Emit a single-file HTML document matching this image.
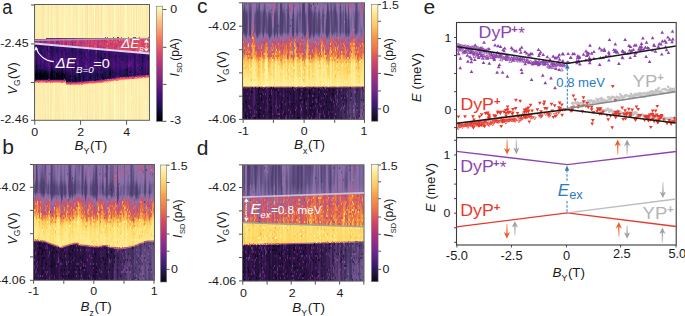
<!DOCTYPE html>
<html><head><meta charset="utf-8"><style>
html,body{margin:0;padding:0;background:#fff;width:685px;height:316px;overflow:hidden}
.hm{position:absolute;overflow:hidden}
.hm i{position:absolute;top:0;height:100%}
svg{position:absolute;left:0;top:0}
text{font-family:"Liberation Sans",sans-serif}
</style></head><body>
<div class="hm" style="left:35px;top:5px;width:114px;height:115px"><div style="position:absolute;left:0;top:0;width:114px;height:115px;filter:blur(0.75px)"><i style="left:0px;width:1px;background:linear-gradient(#fde9aa 0.0px,#fde7a9 33.5px,#6d1d81 34.0px,#6d1d81 35.0px,#962c80 35.5px,#982d80 38.0px,#390f6e 38.5px,#2f1163 45.0px,#471078 53.0px,#341069 60.5px,#2c115f 62.5px,#03030f 68.5px,#010106 70.5px,#010106 74.0px,#140e36 74.5px,#621980 75.0px,#b2357b 75.5px,#d6456c 76.0px,#e34e65 76.5px,#f7725c 77.0px,#fea571 77.5px,#fed194 78.0px,#fde9aa 78.5px,#fcecae 115.0px)"></i><i style="left:1px;width:1px;background:linear-gradient(#fceeb0 0.0px,#fde9aa 33.5px,#651a80 34.0px,#651a80 35.0px,#8e2a81 35.5px,#902a81 38.0px,#311165 38.5px,#241253 44.5px,#331067 49.0px,#341069 54.0px,#1d1147 61.5px,#010005 67.0px,#000004 74.0px,#090720 74.5px,#59157e 75.0px,#ae347b 75.5px,#d6456c 76.0px,#e34e65 76.5px,#f7705c 77.0px,#fea36f 77.5px,#fecd90 78.0px,#fde3a5 78.5px,#fde5a7 79.0px,#fdebac 115.0px)"></i><i style="left:2px;width:1px;background:linear-gradient(#fcf2b4 0.0px,#fcecae 33.5px,#782281 34.0px,#782281 35.0px,#a02f7f 35.5px,#a02f7f 38.5px,#3f0f72 39.0px,#2d1161 44.0px,#3b0f70 54.0px,#2a115c 60.5px,#251255 62.0px,#06051a 67.0px,#010108 69.5px,#03030f 74.0px,#19103f 74.5px,#671b80 75.0px,#b3367a 75.5px,#d6456c 76.0px,#e44f64 76.5px,#f8765c 77.0px,#feac76 77.5px,#fdda9c 78.0px,#fcf4b6 78.5px,#fcf4b6 115.0px)"></i><i style="left:3px;width:1px;background:linear-gradient(#fceeb0 0.0px,#fceeb0 33.5px,#842681 34.0px,#842681 35.0px,#ad347c 35.5px,#ae347b 38.5px,#4e117b 39.0px,#400f74 45.0px,#54137d 53.0px,#3d0f71 61.5px,#341069 63.0px,#08071e 69.0px,#060518 74.0px,#1e1149 74.5px,#6a1c81 75.0px,#b5367a 75.5px,#d6456c 76.0px,#e44f64 76.5px,#f8745c 77.0px,#fea973 77.5px,#fed799 78.0px,#fceeb0 78.5px,#fcecae 115.0px)"></i><i style="left:4px;width:1px;background:linear-gradient(#fcf2b4 0.0px,#fceeb0 33.5px,#6e1e81 34.0px,#6e1e81 35.0px,#982d80 35.5px,#992d80 38.5px,#38106c 39.0px,#2d1161 45.5px,#451077 53.5px,#341069 61.0px,#2d1161 62.5px,#02020d 69.0px,#010005 74.0px,#130d34 74.5px,#601880 75.0px,#b2357b 75.5px,#d6456c 76.0px,#e34e65 76.5px,#f7725c 77.0px,#fea772 77.5px,#fed597 78.0px,#fdebac 78.5px,#fcecae 79.0px,#fcecae 115.0px)"></i><i style="left:5px;width:1px;background:linear-gradient(#fceeb0 0.0px,#fcf4b6 33.5px,#641a80 34.0px,#641a80 35.0px,#8b2981 35.5px,#8b2981 38.5px,#2a115c 39.0px,#1d1147 44.5px,#341069 53.5px,#29115a 60.5px,#1e1149 63.0px,#040414 67.0px,#000004 69.0px,#000004 74.0px,#110c2f 74.5px,#5f187f 75.0px,#b2357b 75.5px,#d6456c 76.0px,#e44f64 76.5px,#f8745c 77.0px,#fea973 77.5px,#fed597 78.0px,#fcecae 78.5px,#fceeb0 115.0px)"></i><i style="left:6px;width:1px;background:linear-gradient(#fdebac 0.0px,#fcecae 33.5px,#671b80 34.0px,#671b80 35.0px,#902a81 35.5px,#932b80 38.5px,#311165 39.0px,#271258 45.0px,#38106c 48.5px,#451077 53.0px,#390f6e 61.0px,#2a115c 63.5px,#050416 68.5px,#010108 73.5px,#010108 74.0px,#150e38 74.5px,#641a80 75.0px,#b2357b 75.5px,#d6456c 76.0px,#e44f64 76.5px,#f8745c 77.0px,#fea973 77.5px,#fed799 78.0px,#fceeb0 78.5px,#fcf0b2 79.0px,#fcf2b4 115.0px)"></i><i style="left:7px;width:1px;background:linear-gradient(#fdebac 0.0px,#fde5a7 33.5px,#6e1e81 34.0px,#701f81 35.0px,#9b2e7f 35.5px,#a1307e 39.0px,#3f0f72 39.5px,#3b0f70 45.0px,#57157e 53.0px,#451077 61.5px,#38106c 63.5px,#0c0926 69.0px,#08071e 73.5px,#08071e 74.0px,#21114e 74.5px,#6b1d81 75.0px,#b5367a 75.5px,#d6456c 76.0px,#e34e65 76.5px,#f7725c 77.0px,#fea772 77.5px,#fed597 78.0px,#fdebac 78.5px,#fcecae 79.0px,#fcecae 115.0px)"></i><i style="left:8px;width:1px;background:linear-gradient(#fde5a7 0.0px,#fde5a7 33.5px,#681c81 34.0px,#6a1c81 35.0px,#932b80 35.5px,#982d80 39.0px,#341069 39.5px,#2d1161 45.5px,#3f0f72 49.5px,#440f76 53.5px,#311165 60.5px,#251255 63.0px,#06051a 67.5px,#010108 70.0px,#010108 74.0px,#140e36 74.5px,#621980 75.0px,#b2357b 75.5px,#d6456c 76.0px,#e34e65 76.5px,#f7705c 77.0px,#fea16e 77.5px,#fecd90 78.0px,#fde3a5 78.5px,#fde5a7 79.0px,#fdebac 115.0px)"></i><i style="left:9px;width:1px;background:linear-gradient(#fcecae 0.0px,#fcf4b6 33.5px,#641a80 34.0px,#651a80 35.0px,#8c2981 35.5px,#902a81 39.0px,#2c115f 39.5px,#221150 45.5px,#3b0f70 52.0px,#331067 61.0px,#251255 63.5px,#06051a 68.0px,#02020d 70.0px,#02020d 74.0px,#180f3d 74.5px,#651a80 75.0px,#b3367a 75.5px,#d6456c 76.0px,#e44f64 76.5px,#f8745c 77.0px,#fea973 77.5px,#fed799 78.0px,#fceeb0 78.5px,#fcf0b2 115.0px)"></i><i style="left:10px;width:1px;background:linear-gradient(#fcf2b4 0.0px,#fcf4b6 33.5px,#7c2382 34.0px,#7c2382 35.0px,#a5317e 35.5px,#a6317d 39.0px,#400f74 39.5px,#331067 46.0px,#4f127b 54.0px,#420f75 62.0px,#2d1161 64.5px,#0d0a29 68.5px,#090720 73.5px,#0a0822 74.0px,#221150 74.5px,#6d1d81 75.0px,#b5367a 75.5px,#d6456c 76.0px,#e44f64 76.5px,#f8745c 77.0px,#fea973 77.5px,#fed799 78.0px,#fceeb0 78.5px,#fcf0b2 79.0px,#fde3a5 115.0px)"></i><i style="left:11px;width:1px;background:linear-gradient(#fcf0b2 0.0px,#fcf2b4 33.0px,#7c2382 33.5px,#7c2382 35.0px,#a6317d 35.5px,#a6317d 39.0px,#3f0f72 39.5px,#331067 46.0px,#4f127b 53.5px,#400f74 61.5px,#311165 63.5px,#100b2d 67.0px,#03030f 70.5px,#03030f 74.0px,#19103f 74.5px,#651a80 75.0px,#b3367a 75.5px,#d6456c 76.0px,#e44f64 76.5px,#f8745c 77.0px,#fea973 77.5px,#fed799 78.0px,#fceeb0 78.5px,#fcf0b2 79.0px,#fcf0b2 115.0px)"></i><i style="left:12px;width:1px;background:linear-gradient(#fceeb0 0.0px,#fdebac 33.0px,#752181 33.5px,#752181 35.0px,#9e2f7f 35.5px,#a02f7f 39.0px,#390f6e 39.5px,#2f1163 45.5px,#4f127b 53.5px,#400f74 61.5px,#2a115c 64.0px,#050416 68.5px,#010108 72.5px,#010108 74.0px,#150e38 74.5px,#641a80 75.0px,#b2357b 75.5px,#d6456c 76.0px,#e34e65 76.5px,#f7725c 77.0px,#fea772 77.5px,#fed597 78.0px,#fcecae 78.5px,#fceeb0 115.0px)"></i><i style="left:13px;width:1px;background:linear-gradient(#fde5a7 0.0px,#fde5a7 33.0px,#862781 33.5px,#862781 35.0px,#b0357b 35.5px,#b0357b 39.5px,#491078 40.0px,#3f0f72 46.0px,#601880 55.0px,#4f127b 62.5px,#3d0f71 64.5px,#100b2d 69.5px,#0a0822 74.0px,#241253 74.5px,#6d1d81 75.0px,#b5367a 75.5px,#d6456c 76.0px,#e34e65 76.5px,#f7725c 77.0px,#fea571 77.5px,#fed194 78.0px,#fde7a9 78.5px,#fde5a7 115.0px)"></i><i style="left:14px;width:1px;background:linear-gradient(#fcf7b9 0.0px,#fcfdbf 33.0px,#8c2981 33.5px,#8c2981 35.0px,#b5367a 35.5px,#b3367a 39.5px,#4a1079 40.0px,#390f6e 45.0px,#5c167f 55.0px,#5c167f 61.5px,#3d0f71 66.0px,#21114e 69.5px,#1a1042 73.5px,#1a1042 74.0px,#36106b 74.5px,#762181 75.0px,#b83779 75.5px,#d6456c 76.0px,#e44f64 76.5px,#f9785d 77.0px,#feb078 77.5px,#fde2a3 78.0px,#fcf9bb 78.5px,#fcf9bb 115.0px)"></i><i style="left:15px;width:1px;background:linear-gradient(#fceeb0 0.0px,#fdebac 33.0px,#762181 33.5px,#762181 35.0px,#9e2f7f 35.5px,#9e2f7f 39.5px,#341069 40.0px,#241253 45.0px,#3d0f71 53.5px,#38106c 61.5px,#2c115f 63.5px,#06051a 69.0px,#03030f 74.0px,#19103f 74.5px,#651a80 75.0px,#b3367a 75.5px,#d6456c 76.0px,#e34e65 76.5px,#f7705c 77.0px,#fea36f 77.5px,#fecd90 78.0px,#fde3a5 78.5px,#fde5a7 79.0px,#fde3a5 115.0px)"></i><i style="left:16px;width:1px;background:linear-gradient(#fde5a7 0.0px,#fceeb0 33.0px,#701f81 33.5px,#701f81 35.0px,#992d80 35.5px,#992d80 39.5px,#2f1163 40.0px,#21114e 45.5px,#2f1163 55.0px,#1a1042 61.5px,#000004 66.5px,#000004 74.0px,#07061c 74.5px,#57157e 75.0px,#ae347b 75.5px,#d6456c 76.0px,#e34e65 76.5px,#f7725c 77.0px,#fea571 77.5px,#fed194 78.0px,#fde9aa 78.5px,#fcf0b2 115.0px)"></i><i style="left:17px;width:1px;background:linear-gradient(#fcf2b4 0.0px,#fde9aa 33.0px,#721f81 33.5px,#701f81 35.0px,#992d80 35.5px,#982d80 39.5px,#2d1161 40.0px,#20114b 46.5px,#311165 51.5px,#311165 57.0px,#241253 61.5px,#010108 67.5px,#000004 68.5px,#000004 74.0px,#110c2f 74.5px,#601880 75.0px,#b2357b 75.5px,#d6456c 76.0px,#e34e65 76.5px,#f7725c 77.0px,#fea772 77.5px,#fed395 78.0px,#fdebac 78.5px,#fcf4b6 115.0px)"></i><i style="left:18px;width:1px;background:linear-gradient(#fcf4b6 0.0px,#fcf9bb 33.0px,#732081 33.5px,#732081 35.0px,#9c2e7f 35.5px,#9c2e7f 39.5px,#311165 40.0px,#251255 45.0px,#471078 55.0px,#400f74 61.5px,#2f1163 64.0px,#0a0822 69.0px,#06051a 73.0px,#06051a 74.0px,#1e1149 74.5px,#6a1c81 75.0px,#b5367a 75.5px,#d6456c 76.0px,#e44f64 76.5px,#f8745c 77.0px,#feaa74 77.5px,#fdda9c 78.0px,#fcf2b4 78.5px,#fcf4b6 115.0px)"></i><i style="left:19px;width:1px;background:linear-gradient(#fdebac 0.0px,#fcf7b9 33.0px,#7e2482 33.5px,#802582 35.0px,#aa337d 35.5px,#ab337c 40.0px,#3f0f72 40.5px,#311165 47.0px,#4c117a 54.5px,#420f75 62.0px,#38106c 63.5px,#0d0a29 69.0px,#090720 73.0px,#090720 74.0px,#221150 74.5px,#6b1d81 75.0px,#b5367a 75.5px,#d6456c 76.0px,#e44f64 76.5px,#f9785d 77.0px,#feb078 77.5px,#fde0a1 78.0px,#fcf9bb 78.5px,#fcf2b4 115.0px)"></i><i style="left:20px;width:1px;background:linear-gradient(#fceeb0 0.0px,#fcf0b2 33.0px,#8e2a81 33.5px,#8e2a81 35.0px,#b83779 35.5px,#b5367a 40.0px,#471078 40.5px,#331067 46.0px,#51127c 55.0px,#491078 62.0px,#390f6e 64.0px,#0b0924 69.5px,#060518 74.0px,#1d1147 74.5px,#681c81 75.0px,#b3367a 75.5px,#d6456c 76.0px,#e34e65 76.5px,#f7725c 77.0px,#fea571 77.5px,#fed395 78.0px,#fde9aa 78.5px,#fdebac 79.0px,#fde7a9 115.0px)"></i><i style="left:21px;width:1px;background:linear-gradient(#fde5a7 0.0px,#fde5a7 33.0px,#7c2382 33.5px,#7b2382 35.0px,#a5317e 35.5px,#a5317e 40.0px,#38106c 40.5px,#2d1161 45.0px,#52137c 54.5px,#4c117a 61.5px,#38106c 64.0px,#1d1147 66.5px,#08071e 70.0px,#040414 74.0px,#1a1042 74.5px,#671b80 75.0px,#b3367a 75.5px,#d6456c 76.0px,#e34e65 76.5px,#f7725c 77.0px,#fea571 77.5px,#fed194 78.0px,#fde9aa 78.5px,#fdebac 115.0px)"></i><i style="left:22px;width:1px;background:linear-gradient(#fde9aa 0.0px,#fde9aa 33.0px,#5c167f 33.5px,#5c167f 35.0px,#842681 35.5px,#8b2981 40.0px,#21114e 40.5px,#21114e 46.0px,#36106b 50.0px,#440f76 53.5px,#3d0f71 60.5px,#311165 63.0px,#060518 69.5px,#040414 72.0px,#040414 74.0px,#1a1042 74.5px,#671b80 75.0px,#b3367a 75.5px,#d6456c 76.0px,#e34e65 76.5px,#f7725c 77.0px,#fea772 77.5px,#fed395 78.0px,#fdebac 78.5px,#fcecae 115.0px)"></i><i style="left:23px;width:1px;background:linear-gradient(#fde7a9 0.0px,#fdebac 33.0px,#6b1d81 33.5px,#6e1e81 35.0px,#982d80 35.5px,#9e2f7f 40.0px,#311165 40.5px,#2d1161 47.0px,#491078 54.5px,#3f0f72 60.0px,#311165 63.0px,#06051a 69.0px,#030312 73.0px,#030312 74.0px,#1a1042 74.5px,#671b80 75.0px,#b3367a 75.5px,#d6456c 76.0px,#e34e65 76.5px,#f7725c 77.0px,#fea571 77.5px,#fed395 78.0px,#fde9aa 78.5px,#fdebac 79.0px,#fde9aa 115.0px)"></i><i style="left:24px;width:1px;background:linear-gradient(#fcf4b6 0.0px,#fceeb0 33.0px,#792282 33.5px,#7b2382 35.0px,#a5317e 35.5px,#ad347c 40.5px,#3d0f71 41.0px,#36106b 47.0px,#51127c 54.5px,#420f75 61.5px,#331067 63.5px,#07061c 69.5px,#060518 74.0px,#1d1147 74.5px,#681c81 75.0px,#b3367a 75.5px,#d6456c 76.0px,#e44f64 76.5px,#f7725c 77.0px,#fea973 77.5px,#fed597 78.0px,#fcecae 78.5px,#fceeb0 79.0px,#fcecae 115.0px)"></i><i style="left:25px;width:1px;background:linear-gradient(#fcf2b4 0.0px,#fcf4b6 33.0px,#7e2482 33.5px,#812581 35.0px,#ab337c 35.5px,#b2357b 40.5px,#420f75 41.0px,#390f6e 47.0px,#56147d 54.5px,#471078 62.0px,#36106b 64.0px,#0a0822 69.5px,#06051a 74.0px,#1e1149 74.5px,#6a1c81 75.0px,#b5367a 75.5px,#d6456c 76.0px,#e44f64 76.5px,#f8745c 77.0px,#fea973 77.5px,#fed799 78.0px,#fceeb0 78.5px,#fcf0b2 79.0px,#fcecae 115.0px)"></i><i style="left:26px;width:1px;background:linear-gradient(#fcf4b6 0.0px,#fcf0b2 33.0px,#7e2482 33.5px,#802582 35.0px,#a8327d 35.5px,#aa337d 40.5px,#38106c 41.0px,#29115a 47.5px,#3f0f72 53.0px,#390f6e 60.5px,#271258 63.5px,#050416 68.0px,#000004 73.0px,#000004 74.0px,#120d31 74.5px,#601880 75.0px,#b2357b 75.5px,#d6456c 76.0px,#e44f64 76.5px,#f8745c 77.0px,#feaa74 77.5px,#fdda9c 78.0px,#fcf2b4 78.5px,#fcf4b6 79.0px,#fcf6b8 115.0px)"></i><i style="left:27px;width:1px;background:linear-gradient(#fde9aa 0.0px,#fceeb0 33.0px,#882781 33.5px,#882781 35.0px,#b0357b 35.5px,#ab337c 40.5px,#390f6e 41.0px,#271258 46.5px,#3b0f70 54.0px,#311165 61.0px,#251255 63.0px,#07061c 67.0px,#000004 70.5px,#000004 74.0px,#110c2f 74.5px,#5f187f 75.0px,#b2357b 75.5px,#d6456c 76.0px,#e34e65 76.5px,#f7725c 77.0px,#fea772 77.5px,#fed597 78.0px,#fcecae 78.5px,#fdebac 115.0px)"></i><i style="left:28px;width:1px;background:linear-gradient(#fcf0b2 0.0px,#fcf0b2 33.0px,#932b80 33.5px,#932b80 35.0px,#bd3977 35.5px,#bd3977 40.5px,#4a1079 41.0px,#3b0f70 46.5px,#54137d 55.5px,#4a1079 61.5px,#341069 64.5px,#110c2f 69.0px,#0b0924 74.0px,#241253 74.5px,#6d1d81 75.0px,#b5367a 75.5px,#d6456c 76.0px,#e44f64 76.5px,#f8765c 77.0px,#feac76 77.5px,#fddc9e 78.0px,#fcf6b8 78.5px,#fde9aa 115.0px)"></i><i style="left:29px;width:1px;background:linear-gradient(#fcf6b8 0.0px,#fcfbbd 33.0px,#862781 33.5px,#882781 35.0px,#b2357b 35.5px,#b73779 40.5px,#451077 41.0px,#390f6e 47.0px,#5a167e 56.0px,#4f127b 62.5px,#311165 66.0px,#1c1044 68.5px,#140e36 74.0px,#2f1163 74.5px,#732081 75.0px,#b83779 75.5px,#d6456c 76.0px,#e44f64 76.5px,#f8765c 77.0px,#feac76 77.5px,#fddc9e 78.0px,#fcf4b6 78.5px,#fcf6b8 79.0px,#fcf2b4 115.0px)"></i><i style="left:30px;width:1px;background:linear-gradient(#fcf0b2 0.0px,#fcf4b6 33.0px,#762181 33.5px,#762181 35.0px,#a02f7f 35.5px,#a3307e 41.0px,#311165 41.5px,#29115a 47.5px,#471078 54.5px,#440f76 61.0px,#36106b 63.5px,#0b0924 69.5px,#0a0822 74.0px,#221150 74.5px,#6d1d81 75.0px,#b5367a 75.5px,#d6456c 76.0px,#e44f64 76.5px,#f8745c 77.0px,#feaa74 77.5px,#fed89a 78.0px,#fcf0b2 78.5px,#fcf2b4 79.0px,#fcecae 115.0px)"></i><i style="left:31px;width:1px;background:linear-gradient(#fcf0b2 0.0px,#fceeb0 33.0px,#7e2482 33.5px,#7e2482 35.0px,#a6317d 35.5px,#a5317e 41.0px,#311165 41.5px,#241253 47.5px,#400f74 55.0px,#390f6e 64.0px,#130d34 72.5px,#130d34 76.0px,#1d1147 76.5px,#57157e 77.0px,#9e2f7f 77.5px,#d2426f 78.0px,#dc4869 78.5px,#f3655c 79.0px,#fd9b6b 79.5px,#fed395 80.0px,#fcf9bb 80.5px,#fcfdbf 81.0px,#fcf7b9 115.0px)"></i><i style="left:32px;width:1px;background:linear-gradient(#fcf0b2 0.0px,#fcf4b6 33.0px,#982d80 33.5px,#962c80 35.0px,#bf3a77 35.5px,#bc3978 41.0px,#451077 41.5px,#341069 47.0px,#4f127b 55.5px,#420f75 63.0px,#331067 66.0px,#130d34 71.0px,#100b2d 76.0px,#19103f 76.5px,#54137d 77.0px,#9c2e7f 77.5px,#d0416f 78.0px,#dc4869 78.5px,#f1605d 79.0px,#fd9266 79.5px,#fec488 80.0px,#fde5a7 80.5px,#fcecae 81.0px,#fceeb0 115.0px)"></i><i style="left:33px;width:1px;background:linear-gradient(#fcf4b6 0.0px,#fceeb0 33.0px,#962c80 33.5px,#942c80 35.0px,#bd3977 35.5px,#b73779 41.0px,#400f74 41.5px,#2d1161 47.5px,#4a1079 55.5px,#420f75 63.5px,#36106b 66.0px,#180f3d 71.0px,#150e38 76.0px,#1e1149 76.5px,#59157e 77.0px,#a02f7f 77.5px,#d2426f 78.0px,#dc4869 78.5px,#f1605d 79.0px,#fd9467 79.5px,#fec68a 80.0px,#fde7a9 80.5px,#fceeb0 81.0px,#fcf0b2 115.0px)"></i><i style="left:34px;width:1px;background:linear-gradient(#fde9aa 0.0px,#fcecae 33.0px,#982d80 33.5px,#942c80 35.0px,#bd3977 35.5px,#b73779 41.0px,#3f0f72 41.5px,#311165 45.5px,#2c115f 48.0px,#471078 56.0px,#3d0f71 63.0px,#36106b 65.0px,#130d34 72.0px,#150e38 76.0px,#1e1149 76.5px,#59157e 77.0px,#a02f7f 77.5px,#d2426f 78.0px,#dc4869 78.5px,#f1605d 79.0px,#fd9467 79.5px,#fec68a 80.0px,#fde9aa 80.5px,#fceeb0 81.0px,#fcf0b2 115.0px)"></i><i style="left:35px;width:1px;background:linear-gradient(#fcf0b2 0.0px,#fcf4b6 33.0px,#9c2e7f 33.5px,#9b2e7f 35.0px,#c43c75 35.5px,#bd3977 41.0px,#451077 41.5px,#38106c 48.0px,#57157e 56.0px,#451077 64.0px,#140e36 72.0px,#150e38 76.0px,#20114b 76.5px,#59157e 77.0px,#a02f7f 77.5px,#d2426f 78.0px,#dc4869 78.5px,#f1605d 79.0px,#fd9266 79.5px,#fde5a7 80.5px,#fdebac 81.0px,#fcf2b4 115.0px)"></i><i style="left:36px;width:1px;background:linear-gradient(#fcf6b8 0.0px,#fcf4b6 33.0px,#842681 33.5px,#812581 35.0px,#aa337d 35.5px,#a5317e 41.5px,#2d1161 42.0px,#241253 47.5px,#3f0f72 52.5px,#4e117b 57.0px,#451077 64.5px,#1d1147 72.0px,#1d1147 76.0px,#271258 76.5px,#5f187f 77.0px,#a1307e 77.5px,#d2426f 78.0px,#dc4869 78.5px,#f2625d 79.0px,#fd9467 79.5px,#fec88c 80.0px,#fdebac 80.5px,#fcf0b2 81.0px,#fcf6b8 115.0px)"></i><i style="left:37px;width:1px;background:linear-gradient(#fcf2b4 0.0px,#fcf2b4 33.0px,#732081 33.5px,#732081 35.0px,#9b2e7f 35.5px,#982d80 41.5px,#221150 42.0px,#21114e 42.5px,#1a1042 48.0px,#36106b 53.5px,#3f0f72 60.0px,#341069 65.0px,#160f3b 70.5px,#130d34 73.0px,#150e38 76.0px,#1e1149 76.5px,#59157e 77.0px,#a02f7f 77.5px,#d2426f 78.0px,#dc4869 78.5px,#f2625d 79.0px,#fd9668 79.5px,#feca8d 80.0px,#fcecae 80.5px,#fcf2b4 81.0px,#fcecae 115.0px)"></i><i style="left:38px;width:1px;background:linear-gradient(#fdebac 0.0px,#fdebac 33.0px,#842681 33.5px,#832681 35.0px,#ad347c 35.5px,#ad347c 41.5px,#341069 42.0px,#2c115f 48.0px,#471078 53.0px,#52137c 58.5px,#420f75 65.5px,#1c1044 72.0px,#1c1044 76.0px,#251255 76.5px,#5d177f 77.0px,#a1307e 77.5px,#d2426f 78.0px,#dc4869 78.5px,#f1605d 79.0px,#fd9266 79.5px,#fde5a7 80.5px,#fdebac 81.0px,#fcecae 115.0px)"></i><i style="left:39px;width:1px;background:linear-gradient(#fcecae 0.0px,#fcf4b6 33.0px,#862781 33.5px,#842681 35.0px,#ae347b 35.5px,#ad347c 41.5px,#331067 42.0px,#271258 48.5px,#390f6e 52.0px,#491078 56.5px,#420f75 63.0px,#390f6e 65.5px,#180f3d 72.0px,#180f3d 76.0px,#21114e 76.5px,#5a167e 77.0px,#a02f7f 77.5px,#d2426f 78.0px,#dc4869 78.5px,#f1605d 79.0px,#fc9065 79.5px,#fec287 80.0px,#fde3a5 80.5px,#fdebac 81.0px,#fde7a9 115.0px)"></i><i style="left:40px;width:1px;background:linear-gradient(#fcecae 0.0px,#fcf0b2 33.0px,#842681 33.5px,#862781 35.0px,#ae347b 35.5px,#ae347b 41.5px,#341069 42.0px,#241253 48.5px,#36106b 53.5px,#38106c 59.5px,#2c115f 64.5px,#110c2f 70.0px,#0b0924 72.5px,#0c0926 76.0px,#150e38 76.5px,#51127c 77.0px,#9b2e7f 77.5px,#d0416f 78.0px,#dc4869 78.5px,#f2625d 79.0px,#fd9668 79.5px,#fec88c 80.0px,#fdebac 80.5px,#fcf2b4 81.0px,#fceeb0 115.0px)"></i><i style="left:41px;width:1px;background:linear-gradient(#fde7a9 0.0px,#fceeb0 33.0px,#982d80 33.5px,#962c80 35.0px,#bf3a77 35.5px,#b83779 42.0px,#3d0f71 42.5px,#29115a 48.0px,#3f0f72 55.5px,#36106b 63.0px,#150e38 71.5px,#180f3d 76.0px,#241253 76.5px,#601880 77.0px,#a6317d 77.5px,#d3436e 78.0px,#de4968 78.5px,#f3655c 79.0px,#fd9869 79.5px,#fecc8f 80.0px,#fcecae 80.5px,#fcf2b4 81.5px,#fceeb0 115.0px)"></i><i style="left:42px;width:1px;background:linear-gradient(#fdebac 0.0px,#fde7a9 33.0px,#aa337d 33.5px,#a8327d 35.0px,#d0416f 35.5px,#ca3e72 42.0px,#4e117b 42.5px,#3b0f70 48.5px,#5a167e 56.0px,#5c167f 59.0px,#471078 66.5px,#29115a 72.0px,#29115a 76.0px,#3d0f71 76.5px,#762181 77.0px,#b3367a 77.5px,#d5446d 78.0px,#e04c67 78.5px,#f56b5c 79.0px,#fe9d6c 79.5px,#fecc8f 80.0px,#fde7a9 80.5px,#fceeb0 115.0px)"></i><i style="left:43px;width:1px;background:linear-gradient(#fcf7b9 0.0px,#fcfdbf 33.0px,#a3307e 33.5px,#a1307e 35.0px,#cc3f71 35.5px,#c83e73 42.0px,#4a1079 42.5px,#3f0f72 49.5px,#57157e 57.5px,#451077 64.5px,#1c1044 71.5px,#19103f 76.0px,#36106b 76.5px,#782281 77.0px,#b83779 77.5px,#d6456c 78.0px,#e44f64 78.5px,#f8765c 79.0px,#feac76 79.5px,#fddc9e 80.0px,#fcf4b6 80.5px,#fcf6b8 81.0px,#fcf7b9 115.0px)"></i><i style="left:44px;width:1px;background:linear-gradient(#fcf4b6 0.0px,#fcf2b4 33.0px,#982d80 33.5px,#942c80 35.0px,#bf3a77 35.5px,#b73779 42.0px,#390f6e 42.5px,#29115a 49.0px,#38106c 53.0px,#3b0f70 59.0px,#2c115f 64.0px,#100b2d 70.0px,#0c0926 73.0px,#100b2d 76.0px,#341069 76.5px,#7c2382 77.0px,#c03a76 77.5px,#e85362 78.5px,#f97b5d 79.0px,#feb078 79.5px,#fdda9c 80.0px,#fcecae 80.5px,#fcf0b2 115.0px)"></i><i style="left:45px;width:1px;background:linear-gradient(#fcf0b2 0.0px,#fcf0b2 33.0px,#892881 33.5px,#892881 34.5px,#b2357b 35.0px,#ab337c 42.0px,#2d1161 42.5px,#20114b 49.0px,#3d0f71 56.0px,#3b0f70 62.5px,#2f1163 66.0px,#19103f 70.5px,#160f3b 73.0px,#1a1042 76.0px,#491078 76.5px,#8c2981 77.0px,#c83e73 77.5px,#ea5661 78.5px,#fa815f 79.0px,#feb67c 79.5px,#fddc9e 80.0px,#fde9aa 80.5px,#fdebac 115.0px)"></i><i style="left:46px;width:1px;background:linear-gradient(#fcf0b2 0.0px,#fcecae 33.0px,#862781 33.5px,#862781 34.5px,#b0357b 35.0px,#ad347c 42.0px,#2d1161 42.5px,#20114b 48.0px,#3d0f71 56.5px,#3d0f71 64.0px,#241253 71.0px,#241253 75.5px,#2c115f 76.0px,#5d177f 76.5px,#9c2e7f 77.0px,#cf4070 77.5px,#d9466b 78.0px,#ef5d5e 78.5px,#fc8e64 79.0px,#fec287 79.5px,#fde7a9 80.0px,#fcf0b2 80.5px,#fcf4b6 115.0px)"></i><i style="left:47px;width:1px;background:linear-gradient(#fdebac 0.0px,#fde9aa 33.0px,#942c80 33.5px,#942c80 34.5px,#bf3a77 35.0px,#bf3a77 42.5px,#400f74 43.0px,#2f1163 48.5px,#440f76 56.5px,#3b0f70 62.5px,#1a1042 71.0px,#1c1044 75.5px,#271258 76.0px,#601880 76.5px,#a5317e 77.0px,#d2426f 77.5px,#dc4869 78.0px,#f2625d 78.5px,#fd9467 79.0px,#fec68a 79.5px,#fde7a9 80.0px,#fceeb0 81.0px,#fcecae 115.0px)"></i><i style="left:48px;width:1px;background:linear-gradient(#fcf6b8 0.0px,#fcf4b6 33.0px,#942c80 33.5px,#942c80 34.5px,#bd3977 35.0px,#c23b75 42.5px,#420f75 43.0px,#341069 48.0px,#440f76 54.5px,#420f75 59.0px,#341069 63.5px,#120d31 71.5px,#110c2f 75.5px,#21114e 76.0px,#641a80 76.5px,#ab337c 77.0px,#d5446d 77.5px,#df4a68 78.0px,#f56b5c 78.5px,#fea16e 79.0px,#fed395 79.5px,#fcf2b4 80.0px,#fcf4b6 80.5px,#fceeb0 115.0px)"></i><i style="left:49px;width:1px;background:linear-gradient(#fcf4b6 0.0px,#fcf7b9 33.0px,#992d80 33.5px,#992d80 34.5px,#c43c75 35.0px,#c03a76 42.5px,#3f0f72 43.0px,#2c115f 49.5px,#3d0f71 54.0px,#400f74 60.0px,#311165 65.5px,#1a1042 71.0px,#1a1042 75.5px,#341069 76.0px,#752181 76.5px,#b73779 77.0px,#d6456c 77.5px,#e34e65 78.0px,#f7725c 78.5px,#fea772 79.0px,#fed597 79.5px,#fceeb0 80.0px,#fcf4b6 115.0px)"></i><i style="left:50px;width:1px;background:linear-gradient(#fde9aa 0.0px,#fde5a7 33.0px,#a5317e 33.5px,#a6317d 34.5px,#d0416f 35.0px,#d0416f 42.5px,#4e117b 43.0px,#3b0f70 49.5px,#52137c 59.0px,#3f0f72 66.0px,#271258 71.5px,#271258 75.5px,#491078 76.0px,#862781 76.5px,#c03a76 77.0px,#e55064 78.0px,#f9785d 78.5px,#fed597 79.5px,#fde7a9 80.0px,#fdebac 115.0px)"></i><i style="left:51px;width:1px;background:linear-gradient(#fde7a9 0.0px,#fceeb0 33.0px,#a3307e 33.5px,#a3307e 34.5px,#cc3f71 35.0px,#c73d73 42.5px,#440f76 43.0px,#331067 48.0px,#54137d 58.0px,#3f0f72 66.5px,#29115a 70.5px,#241253 75.0px,#251255 75.5px,#4f127b 76.0px,#902a81 76.5px,#c73d73 77.0px,#ea5661 78.0px,#fb835f 78.5px,#fde3a5 79.5px,#fcf4b6 80.0px,#fcf0b2 115.0px)"></i><i style="left:52px;width:1px;background:linear-gradient(#fde0a1 0.0px,#fde0a1 33.0px,#942c80 33.5px,#942c80 34.5px,#bf3a77 35.0px,#c03a76 43.0px,#3d0f71 43.5px,#2f1163 49.0px,#451077 54.0px,#4f127b 59.5px,#420f75 65.0px,#29115a 70.0px,#251255 75.0px,#2c115f 75.5px,#5a167e 76.0px,#9b2e7f 76.5px,#cd4071 77.0px,#ed5a5f 78.0px,#fb8761 78.5px,#feb97f 79.0px,#fddc9e 79.5px,#fde7a9 80.0px,#fddea0 115.0px)"></i><i style="left:53px;width:1px;background:linear-gradient(#fcf7b9 0.0px,#fcf6b8 33.0px,#a02f7f 33.5px,#a1307e 34.5px,#cd4071 35.0px,#d8456c 43.0px,#54137d 43.5px,#471078 48.5px,#59157e 58.5px,#451077 65.0px,#2c115f 70.0px,#29115a 75.0px,#331067 75.5px,#671b80 76.0px,#a5317e 76.5px,#d2426f 77.0px,#dc4869 77.5px,#f2625d 78.0px,#fd9467 78.5px,#fec88c 79.0px,#fdebac 79.5px,#fcf0b2 80.0px,#fcf2b4 115.0px)"></i><i style="left:54px;width:1px;background:linear-gradient(#fceeb0 0.0px,#fcecae 33.0px,#a5317e 33.5px,#a6317d 34.5px,#cf4070 35.0px,#cc3f71 43.0px,#471078 43.5px,#311165 49.0px,#451077 57.5px,#3f0f72 62.0px,#1a1042 70.5px,#19103f 75.0px,#29115a 75.5px,#671b80 76.0px,#ab337c 76.5px,#d5446d 77.0px,#df4a68 77.5px,#f4675c 78.0px,#fd9a6a 78.5px,#feca8d 79.0px,#fde7a9 79.5px,#fde9aa 80.0px,#fcecae 115.0px)"></i><i style="left:55px;width:1px;background:linear-gradient(#fdebac 0.0px,#fcf6b8 33.0px,#9e2f7f 33.5px,#9c2e7f 34.5px,#c73d73 35.0px,#ba3878 43.0px,#341069 43.5px,#221150 47.5px,#1d1147 50.0px,#311165 56.5px,#341069 60.0px,#1c1044 70.5px,#1d1147 75.0px,#341069 75.5px,#732081 76.0px,#b5367a 76.5px,#d6456c 77.0px,#e24d66 77.5px,#f66e5c 78.0px,#fea36f 78.5px,#fed395 79.0px,#fcecae 79.5px,#fceeb0 80.0px,#fdebac 115.0px)"></i><i style="left:56px;width:1px;background:linear-gradient(#fdebac 0.0px,#fde7a9 33.0px,#ab337c 33.5px,#ab337c 34.5px,#d3436e 35.0px,#cf4070 43.0px,#4a1079 43.5px,#3f0f72 47.0px,#341069 50.5px,#451077 59.0px,#3b0f70 64.0px,#251255 70.5px,#251255 75.0px,#451077 75.5px,#832681 76.0px,#bf3a77 76.5px,#d6456c 77.0px,#e55064 77.5px,#f9785d 78.0px,#fdda9c 79.0px,#fcf0b2 79.5px,#fdebac 115.0px)"></i><i style="left:57px;width:1px;background:linear-gradient(#fcf0b2 0.0px,#fdebac 33.0px,#ab337c 33.5px,#aa337d 34.5px,#d3436e 35.0px,#cd4071 43.0px,#471078 43.5px,#3f0f72 47.0px,#36106b 50.5px,#4c117a 59.5px,#400f74 64.5px,#2c115f 69.5px,#29115a 74.5px,#2a115c 75.0px,#52137c 75.5px,#902a81 76.0px,#c73d73 76.5px,#e95462 77.5px,#fa7f5e 78.0px,#fddc9e 79.0px,#fcecae 79.5px,#fcecae 115.0px)"></i><i style="left:58px;width:1px;background:linear-gradient(#fcecae 0.0px,#fde7a9 33.0px,#a3307e 33.5px,#a3307e 34.5px,#cc3f71 35.0px,#bf3a77 43.5px,#36106b 44.0px,#271258 48.0px,#241253 50.5px,#331067 53.5px,#451077 59.5px,#3f0f72 64.0px,#2c115f 70.5px,#2d1161 74.5px,#331067 75.0px,#5d177f 75.5px,#9b2e7f 76.0px,#cd4071 76.5px,#ec5860 77.5px,#fb8761 78.0px,#febb81 78.5px,#fde0a1 79.0px,#fcecae 79.5px,#fceeb0 115.0px)"></i><i style="left:59px;width:1px;background:linear-gradient(#fcfdbf 0.0px,#fcfdbf 33.0px,#9c2e7f 33.5px,#9c2e7f 34.5px,#c73d73 35.0px,#ca3e72 43.5px,#420f75 44.0px,#341069 50.0px,#491078 55.0px,#4e117b 59.5px,#390f6e 64.5px,#221150 68.5px,#1d1147 74.5px,#251255 75.0px,#5c167f 75.5px,#a02f7f 76.0px,#d0416f 76.5px,#db476a 77.0px,#f2625d 77.5px,#fd9668 78.0px,#fecc8f 78.5px,#fcf0b2 79.0px,#fcf7b9 79.5px,#fcf6b8 115.0px)"></i><i style="left:60px;width:1px;background:linear-gradient(#fde7a9 0.0px,#fde3a5 33.0px,#a6317d 33.5px,#a8327d 34.5px,#d2426f 35.0px,#de4968 43.5px,#57157e 44.0px,#4a1079 50.5px,#59157e 57.5px,#4c117a 61.5px,#36106b 64.5px,#1e1149 67.5px,#110c2f 72.5px,#110c2f 74.5px,#1d1147 75.0px,#5d177f 75.5px,#a5317e 76.0px,#d3436e 76.5px,#de4968 77.0px,#f3655c 77.5px,#fd9869 78.0px,#fec68a 78.5px,#fde5a7 79.0px,#fde9aa 79.5px,#fde7a9 115.0px)"></i><i style="left:61px;width:1px;background:linear-gradient(#fcecae 0.0px,#fceeb0 33.0px,#a8327d 33.5px,#a8327d 34.5px,#d2426f 35.0px,#de4968 43.5px,#56147d 44.0px,#491078 49.0px,#56147d 57.5px,#491078 62.0px,#1e1149 68.5px,#140e36 74.5px,#29115a 75.0px,#6b1d81 75.5px,#b0357b 76.0px,#d6456c 76.5px,#e04c67 77.0px,#f66c5c 77.5px,#fea16e 78.0px,#fed194 78.5px,#fdebac 79.0px,#fceeb0 79.5px,#fdebac 115.0px)"></i><i style="left:62px;width:1px;background:linear-gradient(#fde9aa 0.0px,#fcecae 33.0px,#892881 33.5px,#892881 34.5px,#b2357b 35.0px,#b83779 43.5px,#2f1163 44.0px,#241253 50.5px,#36106b 55.0px,#3b0f70 60.5px,#160f3b 69.5px,#140e36 73.5px,#140e36 74.5px,#331067 75.0px,#762181 75.5px,#ba3878 76.0px,#d6456c 76.5px,#e44f64 77.0px,#f8745c 77.5px,#fea973 78.0px,#fed597 78.5px,#fdebac 79.0px,#fdebac 115.0px)"></i><i style="left:63px;width:1px;background:linear-gradient(#fde9aa 0.0px,#fdebac 33.0px,#892881 33.5px,#892881 34.5px,#b3367a 35.0px,#b2357b 43.5px,#29115a 44.0px,#1c1044 50.5px,#331067 56.0px,#390f6e 61.0px,#180f3d 70.5px,#180f3d 74.5px,#3f0f72 75.0px,#842681 75.5px,#c23b75 76.0px,#e85362 77.0px,#fa7d5e 77.5px,#feb27a 78.0px,#fddc9e 78.5px,#fceeb0 79.0px,#fde9aa 115.0px)"></i><i style="left:64px;width:1px;background:linear-gradient(#fcf4b6 0.0px,#fcecae 33.0px,#a02f7f 33.5px,#a02f7f 34.5px,#c83e73 35.0px,#c53c74 44.0px,#3b0f70 44.5px,#2c115f 50.5px,#400f74 54.5px,#4e117b 61.0px,#271258 70.0px,#251255 74.0px,#2a115c 74.5px,#56147d 75.0px,#962c80 75.5px,#ca3e72 76.0px,#ec5860 77.0px,#fb8761 77.5px,#fde3a5 78.5px,#fcf0b2 79.0px,#fcf2b4 115.0px)"></i><i style="left:65px;width:1px;background:linear-gradient(#fceeb0 0.0px,#fcf0b2 33.0px,#a5317e 33.5px,#a3307e 34.5px,#cc3f71 35.0px,#bd3977 44.0px,#311165 44.5px,#1e1149 50.5px,#38106c 58.0px,#390f6e 61.5px,#251255 69.0px,#2a115c 74.0px,#341069 74.5px,#641a80 75.0px,#a1307e 75.5px,#d0416f 76.0px,#db476a 76.5px,#f05f5e 77.0px,#fc9065 77.5px,#fec68a 78.0px,#fdebac 78.5px,#fcf2b4 79.0px,#fcf4b6 115.0px)"></i><i style="left:66px;width:1px;background:linear-gradient(#fde3a5 0.0px,#fddea0 33.0px,#982d80 33.5px,#962c80 34.5px,#c03a76 35.0px,#b73779 44.0px,#2a115c 44.5px,#180f3d 50.5px,#29115a 57.0px,#2c115f 61.0px,#160f3b 69.0px,#19103f 74.0px,#29115a 74.5px,#651a80 75.0px,#aa337d 75.5px,#d5446d 76.0px,#df4a68 76.5px,#f4675c 77.0px,#fd9a6a 77.5px,#fecc8f 78.0px,#fde9aa 78.5px,#fcecae 79.0px,#fde5a7 115.0px)"></i><i style="left:67px;width:1px;background:linear-gradient(#fcf2b4 0.0px,#fcf0b2 33.0px,#a1307e 33.5px,#a1307e 34.5px,#cc3f71 35.0px,#cd4071 44.0px,#400f74 44.5px,#311165 50.5px,#451077 56.5px,#440f76 61.0px,#120d31 69.5px,#0d0a29 74.0px,#29115a 74.5px,#721f81 75.0px,#b83779 75.5px,#d6456c 76.0px,#e44f64 76.5px,#f8745c 77.0px,#fea772 77.5px,#fed395 78.0px,#fde9aa 78.5px,#fcecae 115.0px)"></i><i style="left:68px;width:1px;background:linear-gradient(#fcf4b6 0.0px,#fcf6b8 32.5px,#a3307e 33.0px,#a5317e 34.5px,#cf4070 35.0px,#d2426f 44.0px,#440f76 44.5px,#36106b 51.0px,#4e117b 57.5px,#491078 61.5px,#3b0f70 63.5px,#1c1044 68.0px,#120d31 73.5px,#140e36 74.0px,#420f75 74.5px,#8b2981 75.0px,#c83e73 75.5px,#ec5860 76.5px,#fb8761 77.0px,#febb81 77.5px,#fde5a7 78.0px,#fcf2b4 78.5px,#fcf2b4 115.0px)"></i><i style="left:69px;width:1px;background:linear-gradient(#fcf2b4 0.0px,#fcf9bb 32.5px,#912b81 33.0px,#932b80 34.5px,#bd3977 35.0px,#c53c74 44.5px,#38106c 45.0px,#2c115f 51.0px,#3f0f72 55.5px,#451077 60.5px,#19103f 69.5px,#180f3d 73.5px,#221150 74.0px,#5d177f 74.5px,#a3307e 75.0px,#d2426f 75.5px,#dc4869 76.0px,#f2645c 76.5px,#fd9a6a 77.0px,#fecd90 77.5px,#fcf0b2 78.0px,#fcf7b9 78.5px,#fcf6b8 115.0px)"></i><i style="left:70px;width:1px;background:linear-gradient(#fcf2b4 0.0px,#fcf2b4 32.5px,#962c80 33.0px,#982d80 34.5px,#c03a76 35.0px,#c83e73 44.5px,#3b0f70 45.0px,#2d1161 51.0px,#3f0f72 55.0px,#451077 60.0px,#390f6e 62.5px,#19103f 68.5px,#160f3b 73.5px,#2f1163 74.0px,#701f81 74.5px,#b5367a 75.0px,#d6456c 75.5px,#e34e65 76.0px,#f7725c 76.5px,#fea973 77.0px,#fed89a 77.5px,#fcf4b6 78.0px,#fceeb0 115.0px)"></i><i style="left:71px;width:1px;background:linear-gradient(#fcf0b2 0.0px,#fdebac 32.5px,#ad347c 33.0px,#ad347c 34.5px,#d6456c 35.0px,#d9466b 44.5px,#4a1079 45.0px,#3f0f72 51.5px,#51127c 57.5px,#4e117b 61.0px,#390f6e 64.0px,#241253 67.0px,#1c1044 73.0px,#1d1147 73.5px,#451077 74.0px,#882781 74.5px,#c43c75 75.0px,#e95462 76.0px,#fa7f5e 76.5px,#feb67c 77.0px,#fde0a1 77.5px,#fcf0b2 78.0px,#fcecae 115.0px)"></i><i style="left:72px;width:1px;background:linear-gradient(#fdebac 0.0px,#fcf7b9 32.5px,#b83779 33.0px,#b83779 34.5px,#df4a68 35.0px,#de4968 44.5px,#4f127b 45.0px,#420f75 51.0px,#5a167e 60.0px,#400f74 64.5px,#271258 68.5px,#21114e 73.0px,#29115a 73.5px,#5c167f 74.0px,#9e2f7f 74.5px,#cf4070 75.0px,#db476a 75.5px,#f05f5e 76.0px,#fc9065 76.5px,#fdebac 77.5px,#fcf2b4 78.0px,#fceeb0 115.0px)"></i><i style="left:73px;width:1px;background:linear-gradient(#fde9aa 0.0px,#fdebac 32.5px,#b2357b 33.0px,#b2357b 34.5px,#d9466b 35.0px,#d0416f 44.5px,#3f0f72 45.0px,#29115a 52.0px,#3b0f70 57.0px,#400f74 61.0px,#20114b 69.0px,#20114b 73.0px,#331067 73.5px,#6e1e81 74.0px,#b0357b 74.5px,#d5446d 75.0px,#df4a68 75.5px,#f56b5c 76.0px,#fe9f6d 76.5px,#fecf92 77.0px,#fcecae 77.5px,#fcf0b2 78.0px,#fcecae 115.0px)"></i><i style="left:74px;width:1px;background:linear-gradient(#fde9aa 0.0px,#fdebac 32.5px,#ab337c 33.0px,#aa337d 34.5px,#d3436e 35.0px,#ca3e72 44.5px,#390f6e 45.0px,#20114b 51.5px,#2c115f 60.0px,#120d31 66.5px,#0e0b2b 69.0px,#100b2d 73.0px,#311165 73.5px,#792282 74.0px,#bd3977 74.5px,#e55064 75.5px,#f8765c 76.0px,#fea973 76.5px,#fed395 77.0px,#fde7a9 77.5px,#fde5a7 115.0px)"></i><i style="left:75px;width:1px;background:linear-gradient(#fde9aa 0.0px,#fde7a9 32.5px,#a3307e 33.0px,#a5317e 34.5px,#cf4070 35.0px,#d3436e 45.0px,#420f75 45.5px,#2d1161 51.0px,#36106b 60.0px,#0e0b2b 67.0px,#08071e 72.0px,#0c0926 73.0px,#3d0f71 73.5px,#8b2981 74.0px,#ca3e72 74.5px,#ec5860 75.5px,#fb8560 76.0px,#feb77e 76.5px,#fddea0 77.0px,#fde9aa 77.5px,#fcecae 115.0px)"></i><i style="left:76px;width:1px;background:linear-gradient(#fcf0b2 0.0px,#fcf2b4 32.5px,#912b81 33.0px,#942c80 34.5px,#bf3a77 35.0px,#cf4070 45.0px,#3d0f71 45.5px,#311165 51.5px,#451077 60.5px,#21114e 66.5px,#19103f 72.5px,#271258 73.0px,#621980 73.5px,#a6317d 74.0px,#d3436e 74.5px,#de4968 75.0px,#f4675c 75.5px,#fd9b6b 76.0px,#fecf92 76.5px,#fcf0b2 77.0px,#fcf6b8 77.5px,#fde7a9 115.0px)"></i><i style="left:77px;width:1px;background:linear-gradient(#fcecae 0.0px,#fde7a9 32.5px,#982d80 33.0px,#992d80 34.5px,#c43c75 35.0px,#d2426f 45.0px,#3f0f72 45.5px,#341069 51.5px,#471078 56.5px,#491078 60.5px,#241253 66.5px,#1d1147 72.5px,#390f6e 73.0px,#792282 73.5px,#ba3878 74.0px,#d6456c 74.5px,#e34e65 75.0px,#f7725c 75.5px,#fea772 76.0px,#fed597 76.5px,#fcecae 77.0px,#fceeb0 77.5px,#fdebac 115.0px)"></i><i style="left:78px;width:1px;background:linear-gradient(#fceeb0 0.0px,#fcecae 32.5px,#b0357b 33.0px,#b0357b 34.5px,#d9466b 35.0px,#df4a68 45.0px,#4c117a 45.5px,#3d0f71 50.5px,#4c117a 58.0px,#471078 61.0px,#1d1147 68.5px,#20114b 72.5px,#4c117a 73.0px,#8e2a81 73.5px,#c73d73 74.0px,#ea5661 75.0px,#fb835f 75.5px,#feb77e 76.0px,#fde0a1 76.5px,#fceeb0 77.0px,#fceeb0 115.0px)"></i><i style="left:79px;width:1px;background:linear-gradient(#fcfbbd 0.0px,#fcfdbf 32.5px,#a5317e 33.0px,#a5317e 34.5px,#cf4070 35.0px,#d3436e 45.0px,#3f0f72 45.5px,#331067 51.5px,#4f127b 59.5px,#400f74 63.5px,#2d1161 68.0px,#2d1161 72.0px,#38106c 72.5px,#681c81 73.0px,#a6317d 73.5px,#d2426f 74.0px,#dc4869 74.5px,#f2645c 75.0px,#fd9a6a 75.5px,#fecf92 76.0px,#fcf4b6 76.5px,#fcfdbf 77.0px,#fcfdbf 115.0px)"></i><i style="left:80px;width:1px;background:linear-gradient(#fcf0b2 0.0px,#fcf6b8 32.5px,#a1307e 33.0px,#a1307e 34.5px,#cc3f71 35.0px,#c73d73 45.0px,#311165 45.5px,#241253 50.5px,#440f76 59.0px,#3d0f71 62.5px,#251255 67.5px,#251255 72.0px,#3d0f71 72.5px,#762181 73.0px,#b5367a 73.5px,#d6456c 74.0px,#e24d66 74.5px,#f7705c 75.0px,#fea973 75.5px,#fdda9c 76.0px,#fcf7b9 76.5px,#fcf7b9 115.0px)"></i><i style="left:81px;width:1px;background:linear-gradient(#fcf0b2 0.0px,#fceeb0 32.5px,#b5367a 33.0px,#b3367a 34.5px,#db476a 35.0px,#cd4071 45.5px,#36106b 46.0px,#251255 51.5px,#390f6e 56.5px,#3f0f72 61.0px,#20114b 67.5px,#221150 72.0px,#491078 72.5px,#882781 73.0px,#c23b75 73.5px,#e75263 74.5px,#f9795d 75.0px,#fed89a 76.0px,#fdebac 76.5px,#fcf4b6 115.0px)"></i><i style="left:82px;width:1px;background:linear-gradient(#fcecae 0.0px,#fde7a9 32.5px,#9e2f7f 33.0px,#9c2e7f 34.5px,#c73d73 35.0px,#d5446d 45.5px,#400f74 46.0px,#36106b 51.5px,#4e117b 58.5px,#400f74 63.0px,#2a115c 67.5px,#2c115f 71.5px,#331067 72.0px,#621980 72.5px,#cf4070 73.5px,#d9466b 74.0px,#ee5b5e 74.5px,#fc8c63 75.0px,#fde7a9 76.0px,#fcf0b2 76.5px,#fceeb0 115.0px)"></i><i style="left:83px;width:1px;background:linear-gradient(#fde7a9 0.0px,#fde9aa 32.5px,#a02f7f 33.0px,#a02f7f 34.5px,#c83e73 35.0px,#d5446d 45.5px,#3f0f72 46.0px,#341069 52.5px,#4a1079 60.5px,#2c115f 68.0px,#2f1163 71.5px,#400f74 72.0px,#752181 72.5px,#b0357b 73.0px,#d5446d 73.5px,#de4968 74.0px,#f3655c 74.5px,#fd9869 75.0px,#fec88c 75.5px,#fde5a7 76.0px,#fde9aa 76.5px,#fcecae 115.0px)"></i><i style="left:84px;width:1px;background:linear-gradient(#fcf4b6 0.0px,#fcecae 32.5px,#b2357b 33.0px,#b0357b 34.5px,#d9466b 35.0px,#d6456c 45.5px,#3f0f72 46.0px,#2c115f 51.5px,#3f0f72 60.0px,#221150 66.5px,#221150 69.5px,#251255 71.5px,#451077 72.0px,#812581 72.5px,#bd3977 73.0px,#d6456c 73.5px,#e55064 74.0px,#f9785d 74.5px,#fdda9c 75.5px,#fcf2b4 76.0px,#fcf7b9 115.0px)"></i><i style="left:85px;width:1px;background:linear-gradient(#fde7a9 0.0px,#fde9aa 32.5px,#a5317e 33.0px,#a6317d 34.5px,#d0416f 35.0px,#db476a 45.5px,#420f75 46.0px,#311165 52.0px,#400f74 60.0px,#341069 62.5px,#1e1149 66.0px,#19103f 70.0px,#1c1044 71.5px,#471078 72.0px,#8b2981 72.5px,#c73d73 73.0px,#ea5661 74.0px,#fa7f5e 74.5px,#feb27a 75.0px,#fdda9c 75.5px,#fde9aa 76.0px,#fde7a9 115.0px)"></i><i style="left:86px;width:1px;background:linear-gradient(#fcecae 0.0px,#fde5a7 32.5px,#a8327d 33.0px,#a8327d 34.5px,#d2426f 35.0px,#d3436e 46.0px,#390f6e 46.5px,#2d1161 52.0px,#4a1079 59.0px,#400f74 62.5px,#251255 68.0px,#29115a 71.5px,#59157e 72.0px,#992d80 72.5px,#cd4071 73.0px,#ed5a5f 74.0px,#fc8961 74.5px,#fde0a1 75.5px,#fdebac 76.0px,#fceeb0 115.0px)"></i><i style="left:87px;width:1px;background:linear-gradient(#fceeb0 0.0px,#fceeb0 32.5px,#ab337c 33.0px,#aa337d 34.5px,#d2426f 35.0px,#ca3e72 46.0px,#311165 46.5px,#2a115c 52.0px,#3f0f72 55.5px,#51127c 60.5px,#341069 67.5px,#311165 71.0px,#3b0f70 71.5px,#6b1d81 72.0px,#a8327d 72.5px,#d2426f 73.0px,#dc4869 73.5px,#f1605d 74.0px,#fd9266 74.5px,#fec488 75.0px,#fde7a9 75.5px,#fceeb0 76.0px,#fceeb0 115.0px)"></i><i style="left:88px;width:1px;background:linear-gradient(#fde9aa 0.0px,#fcecae 32.5px,#ae347b 33.0px,#ad347c 34.5px,#d5446d 35.0px,#cf4070 46.0px,#341069 46.5px,#2a115c 52.5px,#400f74 56.5px,#491078 61.0px,#2d1161 66.5px,#29115a 71.0px,#390f6e 71.5px,#701f81 72.0px,#ae347b 72.5px,#d5446d 73.0px,#de4968 73.5px,#f3655c 74.0px,#fd9668 74.5px,#fec488 75.0px,#fde2a3 75.5px,#fde5a7 76.0px,#fde7a9 115.0px)"></i><i style="left:89px;width:1px;background:linear-gradient(#fcf0b2 0.0px,#fcf4b6 32.5px,#b5367a 33.0px,#b5367a 34.5px,#de4968 35.0px,#dc4869 46.0px,#420f75 46.5px,#3f0f72 48.0px,#2d1161 52.0px,#3f0f72 60.5px,#21114e 67.0px,#221150 71.0px,#3d0f71 71.5px,#782281 72.0px,#b73779 72.5px,#d6456c 73.0px,#e24d66 73.5px,#f66e5c 74.0px,#fea36f 74.5px,#fed194 75.0px,#fdebac 75.5px,#fcecae 76.0px,#fcf0b2 115.0px)"></i><i style="left:90px;width:1px;background:linear-gradient(#fcfbbd 0.0px,#fcf4b6 32.5px,#b73779 33.0px,#b83779 34.5px,#e04c67 35.0px,#e24d66 46.0px,#471078 46.5px,#400f74 49.5px,#341069 52.0px,#400f74 60.5px,#251255 65.5px,#21114e 68.5px,#241253 71.0px,#451077 71.5px,#832681 72.0px,#bf3a77 72.5px,#d6456c 73.0px,#e75263 73.5px,#f97b5d 74.0px,#fde2a3 75.0px,#fcf7b9 75.5px,#fcf9bb 76.0px,#fcf9bb 115.0px)"></i><i style="left:91px;width:1px;background:linear-gradient(#fcf6b8 0.0px,#fcf7b9 32.5px,#ad347c 33.0px,#ad347c 34.5px,#d6456c 35.0px,#d6456c 46.0px,#390f6e 46.5px,#2a115c 52.0px,#3d0f71 60.0px,#331067 62.5px,#1d1147 66.0px,#180f3d 70.5px,#19103f 71.0px,#420f75 71.5px,#882781 72.0px,#c53c74 72.5px,#ea5661 73.5px,#fb835f 74.0px,#fde5a7 75.0px,#fcf6b8 75.5px,#fcf9bb 115.0px)"></i><i style="left:92px;width:1px;background:linear-gradient(#fdebac 0.0px,#fceeb0 32.5px,#b2357b 33.0px,#b2357b 34.5px,#d9466b 35.0px,#d3436e 46.5px,#36106b 47.0px,#241253 52.5px,#341069 60.0px,#180f3d 66.0px,#130d34 69.5px,#160f3b 71.0px,#491078 71.5px,#902a81 72.0px,#ca3e72 72.5px,#ec5860 73.5px,#fb8761 74.0px,#febb81 74.5px,#fde2a3 75.0px,#fcecae 75.5px,#fdebac 115.0px)"></i><i style="left:93px;width:1px;background:linear-gradient(#fcf0b2 0.0px,#fde7a9 32.5px,#bd3977 33.0px,#bd3977 34.5px,#e44f64 35.0px,#e55064 46.5px,#4a1079 47.0px,#3f0f72 51.5px,#54137d 59.5px,#311165 67.5px,#2d1161 70.5px,#36106b 71.0px,#671b80 71.5px,#a3307e 72.0px,#d0416f 72.5px,#db476a 73.0px,#f05f5e 73.5px,#fc9065 74.0px,#fec488 74.5px,#fde7a9 75.0px,#fceeb0 75.5px,#fcf0b2 115.0px)"></i><i style="left:94px;width:1px;background:linear-gradient(#fcecae 0.0px,#fdebac 32.5px,#b83779 33.0px,#ba3878 34.5px,#e24d66 35.0px,#e95462 46.5px,#4e117b 47.0px,#440f76 52.5px,#5a167e 59.5px,#36106b 67.5px,#311165 70.5px,#3f0f72 71.0px,#721f81 71.5px,#ae347b 72.0px,#d5446d 72.5px,#de4968 73.0px,#f3655c 73.5px,#fd9a6a 74.0px,#fecc8f 74.5px,#fdebac 75.0px,#fcf0b2 75.5px,#fcf0b2 115.0px)"></i><i style="left:95px;width:1px;background:linear-gradient(#fcf2b4 0.0px,#fcf7b9 32.5px,#ab337c 33.0px,#ad347c 34.5px,#d6456c 35.0px,#de4968 46.5px,#400f74 47.0px,#3f0f72 48.5px,#341069 53.5px,#451077 57.5px,#440f76 60.5px,#241253 66.0px,#1d1147 69.5px,#1d1147 70.5px,#331067 71.0px,#701f81 71.5px,#b3367a 72.0px,#d6456c 72.5px,#e24d66 73.0px,#f66e5c 73.5px,#fea571 74.0px,#fed597 74.5px,#fcf2b4 75.0px,#fcf4b6 75.5px,#fcf2b4 115.0px)"></i><i style="left:96px;width:1px;background:linear-gradient(#fcecae 0.0px,#fde7a9 32.5px,#ab337c 33.0px,#ab337c 34.5px,#d5446d 35.0px,#e24d66 46.5px,#440f76 47.0px,#400f74 52.5px,#59157e 60.0px,#3f0f72 65.0px,#2d1161 70.5px,#4a1079 71.0px,#842681 71.5px,#bf3a77 72.0px,#d6456c 72.5px,#e44f64 73.0px,#f7725c 73.5px,#fea36f 74.0px,#fecf92 74.5px,#fde3a5 75.0px,#fcecae 115.0px)"></i><i style="left:97px;width:1px;background:linear-gradient(#fcf6b8 0.0px,#fcf4b6 32.5px,#ab337c 33.0px,#ad347c 34.5px,#d5446d 35.0px,#db476a 46.5px,#3b0f70 47.0px,#36106b 53.0px,#4e117b 57.5px,#51127c 60.5px,#36106b 67.0px,#341069 70.5px,#57157e 71.0px,#902a81 71.5px,#c53c74 72.0px,#e95462 73.0px,#fa7f5e 73.5px,#fddea0 74.5px,#fcf0b2 75.0px,#fcf2b4 115.0px)"></i><i style="left:98px;width:1px;background:linear-gradient(#fdebac 0.0px,#fde7a9 32.5px,#b2357b 33.0px,#b3367a 34.5px,#db476a 35.0px,#d8456c 47.0px,#38106c 47.5px,#2c115f 53.0px,#451077 58.0px,#3f0f72 64.0px,#341069 70.0px,#38106c 70.5px,#601880 71.0px,#cc3f71 72.0px,#eb5760 73.0px,#fb835f 73.5px,#fdda9c 74.5px,#fde7a9 75.0px,#fcecae 115.0px)"></i><i style="left:99px;width:1px;background:linear-gradient(#fcecae 0.0px,#fdebac 32.5px,#ad347c 33.0px,#ad347c 34.5px,#d5446d 35.0px,#cd4071 47.0px,#2a115c 47.5px,#1e1149 53.0px,#331067 58.0px,#341069 61.0px,#1d1147 69.0px,#1d1147 70.0px,#241253 70.5px,#5a167e 71.0px,#9c2e7f 71.5px,#cf4070 72.0px,#db476a 72.5px,#f05f5e 73.0px,#fd9266 73.5px,#fec68a 74.0px,#fdebac 74.5px,#fcf4b6 75.0px,#fceeb0 115.0px)"></i><i style="left:100px;width:1px;background:linear-gradient(#fcf2b4 0.0px,#fcfbbd 32.5px,#b5367a 33.0px,#b5367a 34.5px,#dc4869 35.0px,#d6456c 47.0px,#331067 47.5px,#251255 54.0px,#36106b 58.0px,#36106b 60.0px,#1c1044 67.0px,#19103f 70.0px,#251255 70.5px,#601880 71.0px,#a6317d 71.5px,#d3436e 72.0px,#de4968 72.5px,#f2645c 73.0px,#fd9869 73.5px,#feca8d 74.0px,#fdebac 74.5px,#fceeb0 75.0px,#fde9aa 115.0px)"></i><i style="left:101px;width:1px;background:linear-gradient(#fde5a7 0.0px,#fde3a5 32.5px,#b83779 33.0px,#b83779 34.5px,#df4a68 35.0px,#ea5661 47.0px,#4a1079 47.5px,#440f76 53.0px,#57157e 60.5px,#3f0f72 67.0px,#390f6e 70.0px,#4a1079 70.5px,#7e2482 71.0px,#b73779 71.5px,#d6456c 72.0px,#e04c67 72.5px,#f4695c 73.0px,#fe9d6c 73.5px,#fecc8f 74.0px,#fde5a7 74.5px,#fde9aa 75.0px,#fdebac 115.0px)"></i><i style="left:102px;width:1px;background:linear-gradient(#fcf6b8 0.0px,#fcf4b6 32.5px,#bf3a77 33.0px,#bf3a77 34.5px,#e44f64 35.0px,#eb5760 47.0px,#4c117a 47.5px,#420f75 53.0px,#52137c 60.5px,#38106c 70.0px,#51127c 70.5px,#862781 71.0px,#bd3977 71.5px,#d6456c 72.0px,#e44f64 72.5px,#f8745c 73.0px,#feaa74 73.5px,#fdda9c 74.0px,#fcf2b4 74.5px,#fcf2b4 115.0px)"></i><i style="left:103px;width:1px;background:linear-gradient(#fcf0b2 0.0px,#fdebac 32.5px,#cd4071 33.0px,#cd4071 34.0px,#ef5d5e 34.5px,#e95462 47.5px,#471078 48.0px,#3f0f72 51.0px,#38106c 54.0px,#4a1079 61.0px,#3b0f70 70.0px,#5c167f 70.5px,#912b81 71.0px,#c53c74 71.5px,#e85362 72.5px,#f97b5d 73.0px,#fddc9e 74.0px,#fcf0b2 74.5px,#fcecae 115.0px)"></i><i style="left:104px;width:1px;background:linear-gradient(#fceeb0 0.0px,#fdebac 32.5px,#c43c75 33.0px,#c43c75 34.0px,#e95462 34.5px,#e75263 47.5px,#440f76 48.0px,#400f74 50.0px,#38106c 54.0px,#4c117a 58.5px,#4e117b 61.5px,#3f0f72 70.0px,#641a80 70.5px,#cc3f71 71.5px,#eb5760 72.5px,#fb835f 73.0px,#fddea0 74.0px,#fdebac 74.5px,#fde7a9 115.0px)"></i><i style="left:105px;width:1px;background:linear-gradient(#fdebac 0.0px,#fceeb0 32.5px,#bf3a77 33.0px,#c03a76 34.0px,#e55064 34.5px,#e95462 47.5px,#471078 48.0px,#3f0f72 51.5px,#390f6e 54.0px,#491078 61.0px,#36106b 68.0px,#3b0f70 70.0px,#671b80 70.5px,#cf4070 71.5px,#d9466b 72.0px,#ef5d5e 72.5px,#fc8e64 73.0px,#fde7a9 74.0px,#fcf0b2 74.5px,#fde5a7 115.0px)"></i><i style="left:106px;width:1px;background:linear-gradient(#fcf6b8 0.0px,#fcf2b4 32.5px,#b73779 33.0px,#b73779 34.0px,#de4968 34.5px,#db476a 47.5px,#341069 48.0px,#251255 54.5px,#36106b 59.5px,#2a115c 66.5px,#2a115c 69.5px,#36106b 70.0px,#6a1c81 70.5px,#a8327d 71.0px,#d3436e 71.5px,#dc4869 72.0px,#f2645c 72.5px,#fd9a6a 73.0px,#fecd90 73.5px,#fcf0b2 74.0px,#fcf6b8 74.5px,#fcf6b8 115.0px)"></i><i style="left:107px;width:1px;background:linear-gradient(#fde7a9 0.0px,#fcecae 32.5px,#b0357b 33.0px,#ae347b 34.0px,#d6456c 34.5px,#c83e73 47.5px,#21114e 48.0px,#160f3b 53.5px,#29115a 60.0px,#21114e 69.5px,#341069 70.0px,#6e1e81 70.5px,#b0357b 71.0px,#d5446d 71.5px,#df4a68 72.0px,#f4695c 72.5px,#fd9b6b 73.0px,#fecc8f 73.5px,#fde9aa 74.0px,#fdebac 74.5px,#fcecae 115.0px)"></i><i style="left:108px;width:1px;background:linear-gradient(#fcf6b8 0.0px,#fcf0b2 32.5px,#b0357b 33.0px,#ae347b 34.0px,#d8456c 34.5px,#d2426f 47.5px,#2a115c 48.0px,#241253 54.0px,#3b0f70 60.5px,#2d1161 69.5px,#471078 70.0px,#802582 70.5px,#ba3878 71.0px,#d6456c 71.5px,#e34e65 72.0px,#f8745c 72.5px,#feaa74 73.0px,#fdda9c 73.5px,#fcf4b6 74.0px,#fcf4b6 115.0px)"></i><i style="left:109px;width:1px;background:linear-gradient(#fcf0b2 0.0px,#fdebac 32.5px,#aa337d 33.0px,#ab337c 34.0px,#d5446d 34.5px,#e75263 48.0px,#420f75 48.5px,#36106b 53.5px,#440f76 58.0px,#3f0f72 63.0px,#2f1163 69.5px,#51127c 70.0px,#892881 70.5px,#c23b75 71.0px,#e75263 72.0px,#f9795d 72.5px,#fdda9c 73.5px,#fceeb0 74.0px,#fcf2b4 115.0px)"></i><i style="left:110px;width:1px;background:linear-gradient(#fcf4b6 0.0px,#fcf0b2 32.5px,#b2357b 33.0px,#b2357b 34.0px,#db476a 34.5px,#e85362 48.0px,#440f76 48.5px,#390f6e 53.5px,#471078 58.0px,#3f0f72 64.0px,#331067 69.5px,#5a167e 70.0px,#942c80 70.5px,#c83e73 71.0px,#ea5661 72.0px,#fb835f 72.5px,#fde3a5 73.5px,#fcf2b4 74.0px,#fcf7b9 115.0px)"></i><i style="left:111px;width:1px;background:linear-gradient(#fde3a5 0.0px,#fde9aa 32.5px,#b83779 33.0px,#b73779 34.0px,#df4a68 34.5px,#e85362 48.0px,#420f75 48.5px,#400f74 54.0px,#54137d 58.5px,#54137d 62.0px,#400f74 69.0px,#440f76 69.5px,#6b1d81 70.0px,#cf4070 71.0px,#ed5a5f 72.0px,#fc8a62 72.5px,#fde3a5 73.5px,#fcecae 74.0px,#fcf0b2 115.0px)"></i><i style="left:112px;width:1px;background:linear-gradient(#fdebac 0.0px,#fcecae 32.5px,#b83779 33.0px,#b73779 34.0px,#df4a68 34.5px,#e44f64 48.0px,#3d0f71 48.5px,#38106c 54.5px,#491078 59.5px,#3f0f72 64.5px,#2f1163 69.0px,#390f6e 69.5px,#6a1c81 70.0px,#a6317d 70.5px,#d2426f 71.0px,#dc4869 71.5px,#f1605d 72.0px,#fd9266 72.5px,#fde5a7 73.5px,#fdebac 74.0px,#fceeb0 115.0px)"></i><i style="left:113px;width:1px;background:linear-gradient(#fcf4b6 0.0px,#fcf0b2 32.5px,#bf3a77 33.0px,#bf3a77 34.0px,#e44f64 34.5px,#d6456c 48.0px,#2c115f 48.5px,#21114e 54.5px,#311165 60.0px,#20114b 69.0px,#2f1163 69.5px,#6a1c81 70.0px,#ad347c 70.5px,#d5446d 71.0px,#df4a68 71.5px,#f3655c 72.0px,#fd9869 72.5px,#fec88c 73.0px,#fde5a7 73.5px,#fde7a9 74.0px,#fcf2b4 115.0px)"></i><svg style="position:absolute;left:0;top:0" width="114" height="115"><path fill="#728" d="M0 36h1v2h-1zM9 38h1v2h-1zM21 56h1v2h-1zM36 76h1v2h-1zM37 38h1v2h-1zM42 58h1v2h-1zM61 46h1v2h-1zM94 58h1v2h-1z"/><path fill="#517" d="M0 46h1v2h-1zM3 56h1v2h-1zM4 56h1v2h-1zM11 46h1v2h-1zM14 44h1v2h-1zM18 58h1v2h-1zM25 48h1v2h-1zM25 62h1v2h-1zM26 42h1v2h-1zM27 58h1v2h-1zM31 60h1v2h-1zM32 44h1v2h-1zM32 60h1v2h-1zM34 60h1v2h-1zM35 64h1v2h-1zM40 42h1v2h-1zM47 50h1v2h-1zM49 44h1v2h-1zM51 50h1v2h-1zM52 52h1v2h-1zM59 50h1v2h-1zM62 56h1v2h-1zM63 62h1v2h-1zM63 66h1v2h-1zM64 44h1v2h-1zM67 50h1v2h-1zM78 62h1v2h-1zM79 48h1v2h-1zM82 48h1v2h-1zM82 52h1v2h-1zM83 50h1v2h-1zM83 62h1v2h-1zM84 54h1v2h-1zM85 56h1v2h-1zM86 46h1v2h-1zM88 56h1v2h-1zM88 62h1v2h-1zM89 60h1v2h-1zM91 58h1v2h-1zM97 52h1v2h-1zM97 68h1v2h-1zM98 54h1v2h-1zM102 64h1v2h-1zM106 58h1v2h-1zM112 58h1v2h-1z"/><path fill="#214" d="M0 66h1v2h-1zM1 40h1v2h-1zM2 42h1v2h-1zM8 40h1v2h-1zM12 66h1v2h-1zM17 50h1v2h-1zM18 40h1v2h-1zM18 68h1v2h-1zM21 44h1v4h-1zM24 62h1v2h-1zM30 60h1v2h-1zM33 52h1v2h-1zM37 64h1v2h-1zM39 42h1v2h-1zM40 58h1v2h-1zM40 62h1v2h-1zM44 44h1v2h-1zM48 50h1v2h-1zM55 44h1v2h-1zM69 48h1v2h-1zM73 44h1v2h-1zM73 48h1v2h-1zM84 50h1v2h-1zM99 58h1v2h-1zM100 60h1v2h-1zM106 62h1v2h-1zM109 50h1v2h-1z"/><path fill="#417" d="M0 74h1v2h-1zM5 34h1v2h-1zM5 50h1v4h-1zM6 62h1v2h-1zM8 44h1v2h-1zM9 42h1v2h-1zM14 56h1v2h-1zM17 56h1v2h-1zM25 52h1v2h-1zM29 60h1v2h-1zM30 46h1v2h-1zM31 42h1v2h-1zM34 44h1v2h-1zM36 68h1v2h-1zM36 72h1v2h-1zM42 54h1v2h-1zM45 50h1v2h-1zM45 66h1v2h-1zM51 46h1v2h-1zM52 48h1v2h-1zM52 72h1v2h-1zM53 52h1v2h-1zM55 52h1v2h-1zM64 46h1v2h-1zM67 48h1v2h-1zM69 46h1v2h-1zM72 58h1v2h-1zM75 54h1v2h-1zM76 72h1v2h-1zM80 48h1v2h-1zM81 66h1v2h-1zM81 70h1v2h-1zM83 70h1v2h-1zM89 62h1v2h-1zM92 48h1v2h-1zM93 68h1v2h-1zM99 70h1v2h-1zM101 60h1v2h-1zM106 54h1v2h-1zM113 56h1v2h-1z"/><path fill="#a37" d="M1 36h1v2h-1zM4 36h1v2h-1zM12 36h1v2h-1zM20 34h1v2h-1zM33 40h1v2h-1zM35 36h1v2h-1zM41 36h1v2h-1zM43 40h1v2h-1zM52 42h1v2h-1zM54 40h1v2h-1zM58 40h1v2h-1zM59 34h1v2h-1zM65 42h1v2h-1zM69 34h1v2h-1zM69 42h1v2h-1zM82 34h1v2h-1zM99 46h1v2h-1zM104 44h1v2h-1zM113 32h1v2h-1z"/><path fill="#317" d="M1 42h1v2h-1zM20 54h1v2h-1zM42 64h1v2h-1zM46 74h1v2h-1zM53 56h1v2h-1zM61 72h1v2h-1z"/><path fill="#002" d="M1 60h1v2h-1zM6 64h1v2h-1zM10 66h1v2h-1zM19 66h1v2h-1zM34 74h1v2h-1zM35 70h1v2h-1zM55 72h1v2h-1z"/><path fill="#114" d="M1 64h1v2h-1zM6 46h1v2h-1zM15 42h1v2h-1zM46 52h1v2h-1zM50 68h1v2h-1zM54 62h1v2h-1zM57 70h1v2h-1zM65 56h1v2h-1zM73 64h1v2h-1z"/><path fill="#113" d="M2 44h1v2h-1zM3 64h1v2h-1zM12 44h1v2h-1zM16 42h1v2h-1zM16 46h1v2h-1zM31 48h1v2h-1zM45 42h1v2h-1zM46 46h1v2h-1zM55 54h1v2h-1zM60 74h1v2h-1zM65 52h1v2h-1zM65 70h1v2h-1zM66 64h1v2h-1zM80 68h1v2h-1zM87 54h1v2h-1zM88 70h1v2h-1zM99 64h1v2h-1zM107 62h1v2h-1zM112 68h1v2h-1z"/><path fill="#316" d="M3 40h1v2h-1zM5 42h1v2h-1zM7 48h1v2h-1zM7 58h1v2h-1zM9 44h1v2h-1zM10 50h1v2h-1zM10 56h1v2h-1zM14 68h1v2h-1zM15 64h1v2h-1zM19 56h1v2h-1zM23 56h1v2h-1zM28 58h1v4h-1zM28 66h1v2h-1zM32 56h1v2h-1zM32 62h1v2h-1zM33 54h1v2h-1zM34 58h1v2h-1zM35 52h1v2h-1zM38 60h1v2h-1zM40 68h1v2h-1zM41 68h1v4h-1zM42 66h1v2h-1zM45 68h1v2h-1zM46 72h1v2h-1zM47 72h1v2h-1zM49 68h1v2h-1zM57 56h1v2h-1zM58 58h1v2h-1zM59 52h1v2h-1zM59 74h1v2h-1zM61 60h1v2h-1zM63 72h1v2h-1zM66 66h1v2h-1zM67 66h1v2h-1zM76 56h1v2h-1zM78 68h1v2h-1zM94 46h1v2h-1zM95 68h1v2h-1zM96 62h1v2h-1zM102 54h1v2h-1zM102 62h1v2h-1zM104 56h1v2h-1zM104 60h1v4h-1zM105 58h1v2h-1z"/><path fill="#e56" d="M3 76h1v2h-1zM15 76h1v2h-1zM17 76h1v2h-1zM26 76h1v2h-1zM27 76h1v2h-1zM50 34h1v2h-1zM53 40h1v2h-1zM55 76h1v2h-1zM57 76h1v2h-1zM59 40h1v2h-1zM66 76h1v2h-1zM72 42h1v2h-1zM73 34h1v2h-1zM73 74h1v2h-1zM75 74h1v2h-1zM79 36h1v2h-1zM81 34h1v4h-1zM85 42h1v2h-1zM86 34h1v2h-1zM86 44h1v2h-1zM87 38h1v2h-1zM88 40h1v2h-1zM88 44h1v2h-1zM88 72h1v2h-1zM89 38h1v2h-1zM91 36h1v2h-1zM91 44h1v2h-1zM95 36h1v2h-1zM106 44h1v2h-1zM109 34h1v2h-1zM112 36h1v2h-1zM113 46h1v2h-1z"/><path fill="#215" d="M5 64h1v2h-1zM6 48h1v2h-1zM6 52h1v2h-1zM7 42h1v2h-1zM8 50h1v2h-1zM10 62h1v2h-1zM12 40h1v4h-1zM20 70h1v2h-1zM23 52h1v2h-1zM27 56h1v2h-1zM29 44h1v2h-1zM35 44h1v2h-1zM37 56h1v2h-1zM37 72h1v2h-1zM39 64h1v2h-1zM43 46h1v2h-1zM44 56h1v2h-1zM46 56h1v2h-1zM46 60h1v2h-1zM48 58h1v2h-1zM50 42h1v2h-1zM50 52h1v2h-1zM52 54h1v2h-1zM56 64h1v2h-1zM59 64h1v2h-1zM60 50h1v2h-1zM68 46h1v2h-1zM68 52h1v2h-1zM71 62h1v2h-1zM81 56h1v2h-1zM82 46h1v2h-1zM87 64h1v2h-1zM93 70h1v2h-1zM95 52h1v2h-1zM102 68h1v2h-1zM103 68h1v2h-1zM104 48h1v4h-1zM104 64h1v2h-1zM105 64h1v2h-1zM106 60h1v2h-1zM109 48h1v2h-1zM110 64h1v2h-1z"/><path fill="#f96" d="M6 76h1v2h-1z"/><path fill="#b37" d="M7 36h1v2h-1zM28 34h1v2h-1zM30 36h1v2h-1zM36 40h1v2h-1zM45 38h1v2h-1zM54 42h1v2h-1zM67 34h1v2h-1zM70 32h1v2h-1zM71 36h1v2h-1zM73 40h1v2h-1zM75 38h1v2h-1zM79 42h1v2h-1zM81 40h1v2h-1zM82 72h1v2h-1zM84 36h1v2h-1zM91 34h1v2h-1zM96 34h1v2h-1zM96 42h1v2h-1zM98 34h1v2h-1zM98 44h1v4h-1z"/><path fill="#628" d="M7 56h1v2h-1zM13 42h1v2h-1zM13 48h1v2h-1zM14 74h1v2h-1zM20 60h1v2h-1zM22 34h1v2h-1zM23 58h1v2h-1zM25 34h1v2h-1zM30 54h1v2h-1zM32 54h1v2h-1zM38 54h1v2h-1zM50 60h1v2h-1zM51 60h1v4h-1zM53 44h1v2h-1zM59 56h1v2h-1zM61 44h1v2h-1zM93 60h1v2h-1zM96 56h1v2h-1zM101 70h1v2h-1zM102 60h1v2h-1z"/><path fill="#000" d="M7 70h1v2h-1zM16 70h1v2h-1zM17 66h1v2h-1zM22 70h1v2h-1zM40 72h1v2h-1zM68 72h1v2h-1z"/><path fill="#102" d="M8 72h1v2h-1zM74 64h1v2h-1zM92 64h1v2h-1zM95 66h1v2h-1z"/><path fill="#828" d="M10 36h1v2h-1zM13 74h1v2h-1zM15 34h1v2h-1zM21 36h1v2h-1zM24 38h1v2h-1zM31 38h1v2h-1zM47 76h1v2h-1zM66 74h1v2h-1zM82 32h1v2h-1zM83 32h1v2h-1zM104 70h1v2h-1z"/><path fill="#d46" d="M11 76h1v2h-1zM28 36h1v4h-1zM32 38h1v2h-1zM34 36h1v2h-1zM35 78h1v2h-1zM41 38h1v2h-1zM43 36h1v2h-1zM48 40h1v2h-1zM51 40h1v2h-1zM52 40h1v2h-1zM64 38h1v2h-1zM65 38h1v2h-1zM66 38h1v2h-1zM69 40h1v2h-1zM70 38h1v2h-1zM72 32h1v2h-1zM74 40h1v4h-1zM76 42h1v2h-1zM80 36h1v2h-1zM93 32h1v2h-1zM94 44h1v2h-1zM97 72h1v2h-1zM103 36h1v2h-1zM104 32h1v2h-1z"/><path fill="#c47" d="M14 36h1v2h-1zM19 36h1v2h-1zM25 36h1v4h-1zM34 40h1v2h-1zM38 38h1v2h-1zM55 42h1v2h-1zM59 76h1v2h-1zM63 34h1v2h-1zM72 40h1v2h-1zM86 32h1v2h-1zM89 40h1v2h-1zM89 72h1v2h-1zM92 38h1v2h-1zM93 38h1v2h-1zM93 72h1v2h-1zM97 44h1v2h-1zM98 72h1v2h-1zM99 32h1v2h-1zM102 46h1v2h-1zM110 44h1v2h-1zM111 36h1v2h-1zM111 40h1v2h-1zM111 44h1v4h-1zM113 44h1v2h-1z"/><path fill="#937" d="M19 34h1v2h-1zM22 38h1v2h-1zM27 34h1v2h-1zM52 34h1v2h-1zM68 42h1v2h-1zM100 32h1v2h-1zM108 70h1v2h-1z"/><path fill="#938" d="M21 34h1v2h-1zM26 34h1v4h-1zM29 74h1v2h-1zM30 34h1v2h-1zM38 40h1v2h-1zM62 40h1v2h-1zM70 74h1v2h-1zM78 32h1v2h-1zM98 32h1v2h-1z"/><path fill="#001" d="M21 68h1v2h-1zM28 68h1v2h-1zM29 70h1v2h-1zM44 68h1v2h-1zM66 52h1v2h-1zM74 68h1v2h-1zM75 66h1v2h-1z"/><path fill="#617" d="M30 56h1v2h-1zM95 60h1v2h-1zM105 62h1v2h-1z"/><path fill="#f86" d="M30 76h1v2h-1zM101 72h1v2h-1z"/><path fill="#c46" d="M32 40h1v2h-1zM49 40h1v2h-1zM76 34h1v2h-1zM94 38h1v2h-1zM94 42h1v2h-1z"/><path fill="#112" d="M32 68h1v2h-1zM44 66h1v2h-1zM65 44h1v2h-1zM77 66h1v2h-1zM91 64h1v2h-1zM113 52h1v2h-1z"/><path fill="#ffb" d="M39 112h1v2h-1zM45 112h1v2h-1zM67 112h1v2h-1zM96 92h1v2h-1zM111 96h1v2h-1z"/><path fill="#d56" d="M42 36h1v2h-1zM72 74h1v2h-1zM74 36h1v2h-1zM76 36h1v2h-1zM77 34h1v2h-1zM82 36h1v2h-1zM85 72h1v2h-1zM111 70h1v2h-1zM112 70h1v2h-1z"/><path fill="#618" d="M42 42h1v2h-1zM51 48h1v2h-1zM57 64h1v2h-1zM71 54h1v2h-1zM72 46h1v2h-1zM101 52h1v2h-1z"/><path fill="#e66" d="M44 78h1v2h-1zM77 74h1v2h-1zM81 74h1v2h-1z"/><path fill="#e65" d="M46 78h1v2h-1zM71 42h1v2h-1zM72 38h1v2h-1zM87 34h1v2h-1zM89 34h1v2h-1zM93 34h1v2h-1zM94 36h1v2h-1zM97 40h1v2h-1zM98 42h1v2h-1zM100 34h1v2h-1zM104 46h1v2h-1z"/><path fill="#f76" d="M47 78h1v2h-1zM94 34h1v2h-1zM100 72h1v2h-1z"/><path fill="#fda" d="M54 78h1v2h-1z"/><path fill="#fb8" d="M70 76h1v2h-1z"/><path fill="#fa7" d="M72 76h1v2h-1zM104 72h1v2h-1z"/><path fill="#f75" d="M82 74h1v2h-1zM83 42h1v2h-1zM84 34h1v2h-1zM101 46h1v2h-1zM110 40h1v2h-1zM113 36h1v2h-1z"/><path fill="#fc9" d="M108 72h1v2h-1z"/></svg></div></div><div class="hm" style="left:34px;top:165px;width:120px;height:115px"><div style="position:absolute;left:0;top:0;width:120px;height:115px;filter:blur(0.75px)"><i style="left:0px;width:1px;background:linear-gradient(#b05d8e 0.0px,#a86498 8.0px,#9470aa 14.0px,#8470a6 17.0px,#6c5890 20.5px,#645286 27.0px,#8570a6 30.0px,#9570a9 31.5px,#be527c 35.5px,#e3684b 40.5px,#f39544 48.5px,#fcc858 52.5px,#fde173 56.5px,#fee784 62.5px,#fee888 73.5px,#fde37a 74.0px,#fcc657 74.5px,#f08440 75.0px,#ba5582 75.5px,#735f96 76.0px,#5d2372 76.5px,#2c1344 77.0px,#28123f 94.5px,#32154a 115.0px)"></i><i style="left:1px;width:1px;background:linear-gradient(#966fa8 0.0px,#8570a6 12.5px,#544474 20.5px,#504170 27.5px,#826ea4 31.5px,#9370aa 33.0px,#c25178 37.5px,#e0604e 41.0px,#f08440 46.0px,#f49644 48.5px,#fccb5b 52.5px,#fde070 56.0px,#fee786 62.5px,#fee98c 73.5px,#fee683 74.0px,#fccd5d 74.5px,#f39143 75.0px,#c55373 75.5px,#836fa5 76.0px,#672e7c 76.5px,#35154d 77.0px,#32154a 115.0px)"></i><i style="left:2px;width:1px;background:linear-gradient(#4f406f 0.0px,#504270 27.0px,#826ea4 30.5px,#9570a9 32.0px,#be527d 35.5px,#e0604e 39.5px,#f08540 47.5px,#fbc255 53.0px,#fddc6c 56.5px,#fee785 62.5px,#feeb91 73.5px,#feea8d 74.0px,#fdd464 74.5px,#f59f46 75.0px,#d25961 75.5px,#9070a9 76.0px,#4c3e6c 76.5px,#3f1859 77.0px,#34154c 94.5px,#35154d 115.0px)"></i><i style="left:3px;width:1px;background:linear-gradient(#746097 0.0px,#534473 18.0px,#594979 23.5px,#69568c 27.5px,#836fa5 29.0px,#966fa8 30.5px,#c15079 34.0px,#e1624d 36.5px,#f08540 40.5px,#f7aa49 49.0px,#fcd161 52.5px,#fde071 55.0px,#fee786 56.5px,#feea8f 62.5px,#fee98c 73.5px,#fee98b 74.0px,#fdd666 74.5px,#f6a447 75.0px,#d85c59 75.5px,#9470aa 76.0px,#4d3f6d 76.5px,#3a1753 77.0px,#2f1447 77.5px,#2a1241 92.5px,#381651 115.0px)"></i><i style="left:4px;width:1px;background:linear-gradient(#8f70a9 0.0px,#8470a6 14.0px,#6a578e 20.5px,#6d5991 27.5px,#816da4 29.0px,#966fa8 31.0px,#c25178 35.5px,#e0604f 40.0px,#f08640 49.0px,#f9b44e 52.5px,#fdd666 56.5px,#fde378 62.5px,#fde57e 74.0px,#fdd565 74.5px,#f6a447 75.0px,#d85c59 75.5px,#9370aa 76.0px,#553971 76.5px,#2d1344 77.0px,#231039 77.5px,#2e1446 115.0px)"></i><i style="left:5px;width:1px;background:linear-gradient(#816da3 0.0px,#7f6ba2 12.5px,#665488 20.5px,#6c588f 27.5px,#8570a6 29.5px,#9470aa 31.0px,#c15179 36.5px,#d45a5e 48.0px,#e1614d 49.5px,#ef8241 52.0px,#fbbf53 56.5px,#fcc858 58.0px,#fddc6c 63.0px,#fde47d 74.0px,#fdd868 74.5px,#f8ac4a 75.0px,#e0614e 75.5px,#9c6ba3 76.0px,#504170 76.5px,#33154b 77.0px,#231039 77.5px,#2c1343 115.0px)"></i><i style="left:6px;width:1px;background:linear-gradient(#8870a7 0.0px,#6d5a91 12.5px,#514371 20.5px,#574777 24.5px,#5d4c7d 27.5px,#836fa5 30.0px,#9470aa 31.5px,#c15079 35.5px,#e1634d 39.5px,#f08440 47.5px,#fdd666 56.5px,#fee787 74.0px,#fddf6f 74.5px,#fab951 75.0px,#e87347 75.5px,#ac6193 76.0px,#615082 76.5px,#471a61 77.0px,#2b1342 77.5px,#34154c 115.0px)"></i><i style="left:7px;width:1px;background:linear-gradient(#7d69a0 0.0px,#504270 16.0px,#4d3f6d 27.5px,#574877 29.0px,#8470a6 32.5px,#9470aa 34.0px,#ad6092 36.5px,#c0507a 40.5px,#e1624d 48.0px,#f08440 50.5px,#fcd161 56.5px,#fde47d 62.5px,#fee98a 74.0px,#fde378 74.5px,#fbc355 75.0px,#ee7f42 75.5px,#b55987 76.0px,#6d5991 76.5px,#57216e 77.0px,#2d1344 77.5px,#200f36 97.0px,#26113d 115.0px)"></i><i style="left:8px;width:1px;background:linear-gradient(#6d5991 0.0px,#655387 12.5px,#504170 19.0px,#4f406f 27.5px,#836fa5 33.0px,#9270aa 35.0px,#ac6193 44.5px,#c45274 49.0px,#e1634d 51.0px,#f08640 53.0px,#fbc456 56.5px,#fcce5e 58.0px,#fde47b 64.0px,#fee684 74.0px,#fde278 74.5px,#fcc657 75.0px,#f08440 75.5px,#b95682 76.0px,#705c94 76.5px,#531f6b 77.0px,#25113c 77.5px,#1a0c30 96.0px,#231039 115.0px)"></i><i style="left:9px;width:1px;background:linear-gradient(#806ca3 0.0px,#625083 12.5px,#504170 16.5px,#4c3e6c 28.0px,#534473 29.5px,#8670a6 34.0px,#9370aa 35.5px,#c25178 46.0px,#d05864 48.5px,#de5f51 49.5px,#f08540 52.0px,#fccb5b 57.0px,#fde071 62.5px,#fee681 74.0px,#fde57f 74.5px,#fcd060 75.0px,#f49a45 75.5px,#cd5768 76.0px,#8970a7 76.5px,#652f7b 77.0px,#2b1342 77.5px,#25113c 78.0px,#33154b 115.0px)"></i><i style="left:10px;width:1px;background:linear-gradient(#6c588f 0.0px,#665489 12.5px,#504170 19.0px,#4e406e 27.5px,#8470a6 33.0px,#9170a9 34.5px,#a4679c 37.0px,#c0507a 47.5px,#c45274 48.5px,#e1624d 51.0px,#f08641 53.5px,#faba51 57.0px,#fdda6a 62.5px,#fee683 74.5px,#fde070 75.0px,#fabd53 75.5px,#eb7844 76.0px,#b05d8e 76.5px,#665388 77.0px,#4b1c64 77.5px,#28123f 78.0px,#35154d 95.5px,#27123e 115.0px)"></i><i style="left:11px;width:1px;background:linear-gradient(#574777 0.0px,#68558b 13.0px,#615082 21.0px,#715d94 27.5px,#836fa5 29.0px,#9270aa 30.5px,#bf517c 35.5px,#c9556d 37.0px,#d25962 48.5px,#df5f50 50.0px,#f08440 53.0px,#f9b64f 56.5px,#fcc959 59.0px,#fddb6b 63.0px,#fee580 75.0px,#fdd868 75.5px,#f8ad4a 76.0px,#e1624d 76.5px,#9d6ba2 77.0px,#514271 77.5px,#36164f 78.0px,#25113c 78.5px,#1f0e35 115.0px)"></i><i style="left:12px;width:1px;background:linear-gradient(#8570a6 0.0px,#77639b 13.0px,#604e81 21.0px,#6a578d 27.5px,#8770a7 30.0px,#966fa8 31.5px,#c25178 36.5px,#d15962 41.0px,#db5e54 47.5px,#e1624d 49.0px,#f08640 51.5px,#fccf5f 57.0px,#fde580 63.5px,#feeb91 75.0px,#feeb90 75.5px,#fdd969 76.0px,#f7aa49 76.5px,#dd5f52 77.0px,#9a6ca5 77.5px,#524472 78.0px,#42195b 78.5px,#36164e 79.0px,#2b1343 96.5px,#32154a 115.0px)"></i><i style="left:13px;width:1px;background:linear-gradient(#9e6aa1 0.0px,#9470aa 13.0px,#8570a6 16.5px,#6b588e 21.0px,#635185 28.0px,#8570a6 31.0px,#9270a9 32.5px,#b55987 37.0px,#c0507a 41.0px,#ca556c 46.0px,#dc5e54 49.5px,#f18741 52.5px,#fcca5a 57.5px,#fde174 63.0px,#feea8f 75.5px,#fee88a 76.0px,#fcd262 76.5px,#f49a45 77.0px,#ce5767 77.5px,#8b70a8 78.0px,#573872 78.5px,#3b1753 79.0px,#33154b 94.5px,#381650 115.0px)"></i><i style="left:14px;width:1px;background:linear-gradient(#9170a9 0.0px,#8470a6 12.5px,#584978 21.0px,#594979 28.0px,#8670a6 31.5px,#956fa9 33.0px,#be527d 37.0px,#d95d57 41.5px,#ea7745 49.0px,#f6a347 52.5px,#fccf5f 57.0px,#fde070 63.0px,#fee786 76.0px,#fde378 76.5px,#fcc657 77.0px,#f08440 77.5px,#ba5582 78.0px,#725e96 78.5px,#5c2372 79.0px,#2b1343 79.5px,#301448 115.0px)"></i><i style="left:15px;width:1px;background:linear-gradient(#9470aa 0.0px,#966fa8 13.0px,#8570a6 18.5px,#78649b 21.5px,#78649b 28.0px,#9270aa 30.5px,#c15178 35.0px,#e0614e 38.0px,#f08440 44.5px,#f49644 49.0px,#f7a848 50.5px,#fcc858 53.5px,#fddd6d 57.0px,#fde57e 63.5px,#fee785 76.5px,#fddf6f 77.0px,#faba51 77.5px,#e87347 78.0px,#ac6193 78.5px,#604f82 79.0px,#451a5f 79.5px,#28123f 80.0px,#44195e 115.0px)"></i><i style="left:16px;width:1px;background:linear-gradient(#7c689f 0.0px,#6e5a92 13.5px,#504270 21.5px,#544574 28.0px,#836fa5 32.0px,#9270aa 33.5px,#c0507a 39.0px,#ce5767 41.5px,#e4694b 49.5px,#f18841 52.0px,#fcc959 58.0px,#fddb6b 63.5px,#fde47c 77.0px,#fdd565 77.5px,#f7a748 78.0px,#db5e54 78.5px,#966fa8 79.0px,#4e3d6d 79.5px,#2f1446 80.0px,#221039 80.5px,#28123f 105.5px,#33154c 115.0px)"></i><i style="left:17px;width:1px;background:linear-gradient(#584878 0.0px,#4c3e6c 14.0px,#5f3377 25.0px,#5d3476 28.5px,#4c3e6c 31.0px,#594979 33.5px,#836fa5 37.0px,#9270aa 39.5px,#c15178 48.0px,#cb556b 49.5px,#e0614e 51.0px,#ef8141 53.0px,#fcc959 58.0px,#fddf6f 63.5px,#fde57f 72.0px,#fde47d 77.5px,#fccf5f 78.0px,#f49744 78.5px,#ca556c 79.0px,#8670a6 79.5px,#6d2b7f 80.0px,#27123e 80.5px,#231039 81.0px,#1a0c2f 98.0px,#24103b 115.0px)"></i><i style="left:18px;width:1px;background:linear-gradient(#614f82 0.0px,#604f82 13.5px,#504170 18.5px,#4d3f6d 29.0px,#5b4b7b 31.5px,#826ea4 35.5px,#9370aa 38.0px,#ab6194 45.5px,#c35275 50.0px,#e0604e 52.0px,#f08440 54.0px,#fabd53 57.5px,#fcc959 59.0px,#fddd6d 63.5px,#fde276 77.5px,#fddd6d 78.0px,#fabd52 78.5px,#eb7944 79.0px,#b05e8f 79.5px,#615082 80.0px,#3c1755 80.5px,#1d0e33 81.0px,#1a0c2f 93.5px,#27113e 115.0px)"></i><i style="left:19px;width:1px;background:linear-gradient(#7d69a0 0.0px,#6f5b93 13.5px,#504170 20.5px,#4e406e 28.5px,#5a4a7b 30.5px,#826ea4 34.0px,#9470aa 36.0px,#a5669b 38.0px,#c0507a 45.5px,#d35a5f 49.5px,#df604f 50.5px,#f08540 53.0px,#fcc858 58.0px,#fddd6d 64.0px,#fde277 78.0px,#fdd767 78.5px,#f8ac4a 79.0px,#e1614d 79.5px,#9c6ba3 80.0px,#4e406e 80.5px,#2e1445 81.0px,#1f0e35 81.5px,#26113d 115.0px)"></i><i style="left:20px;width:1px;background:linear-gradient(#78649b 0.0px,#665488 13.5px,#504170 20.0px,#504170 28.5px,#8570a6 33.0px,#956fa9 34.5px,#bf517c 39.0px,#df604f 44.5px,#f08340 50.0px,#fabd53 54.0px,#fddd6d 58.0px,#fee784 64.0px,#fee784 78.5px,#fcd464 79.0px,#f6a046 79.5px,#d45a5f 80.0px,#9070a9 80.5px,#573872 81.0px,#311549 81.5px,#27123e 82.0px,#200f36 115.0px)"></i><i style="left:21px;width:1px;background:linear-gradient(#8970a7 0.0px,#77639a 14.0px,#574777 22.0px,#594979 28.5px,#8670a6 32.5px,#9470aa 34.0px,#b75885 38.0px,#c0507a 40.5px,#d05865 46.0px,#de5f51 50.0px,#f08540 53.0px,#fcc858 58.5px,#fddd6d 64.0px,#fee683 75.5px,#fee785 78.5px,#fde37a 79.0px,#fcc959 79.5px,#f18941 80.0px,#be527d 80.5px,#78649b 81.0px,#622577 81.5px,#2b1343 82.0px,#210f37 115.0px)"></i><i style="left:22px;width:1px;background:linear-gradient(#9170a9 0.0px,#836fa6 13.5px,#5a4a7a 22.0px,#5b4b7c 29.0px,#8570a6 32.0px,#966fa8 33.5px,#c35176 37.5px,#e4694a 42.0px,#f29143 50.0px,#fbc054 54.0px,#fddb6b 58.0px,#fde57f 64.0px,#feea90 79.0px,#fde275 79.5px,#fabe53 80.0px,#eb7845 80.5px,#b05d8e 81.0px,#68558b 81.5px,#57216d 82.0px,#35154d 82.5px,#28123f 115.0px)"></i><i style="left:23px;width:1px;background:linear-gradient(#766299 0.0px,#816da3 14.0px,#5e4d7f 22.0px,#604f81 29.0px,#836fa5 31.5px,#9470aa 33.0px,#c45275 37.0px,#e0604e 39.5px,#f08640 44.0px,#f7a949 50.0px,#fccd5d 53.0px,#fde172 56.5px,#fee786 58.0px,#feeb92 79.0px,#feeb91 79.5px,#fdda6a 80.0px,#f8ac4a 80.5px,#df604f 81.0px,#9c6ba3 81.5px,#544574 82.0px,#42195b 82.5px,#34154d 83.0px,#28123f 95.0px,#28123f 115.0px)"></i><i style="left:24px;width:1px;background:linear-gradient(#8a70a7 0.0px,#976ea8 14.0px,#8570a6 18.5px,#6c5990 22.0px,#5c4c7d 29.0px,#8470a6 32.5px,#9370aa 34.0px,#c25177 38.5px,#e0604e 42.0px,#f08340 47.0px,#f7a848 51.0px,#fcca5a 53.5px,#fddf6f 56.5px,#fee787 58.0px,#feee9a 64.5px,#fef0a0 79.5px,#feed97 80.0px,#fdd565 80.5px,#f59f46 81.0px,#d25961 81.5px,#9270a9 82.0px,#504170 82.5px,#4e1d67 83.0px,#391752 96.0px,#2f1446 115.0px)"></i><i style="left:25px;width:1px;background:linear-gradient(#9270aa 0.0px,#8570a6 15.0px,#665388 22.5px,#6c5990 29.0px,#8770a7 31.0px,#9370aa 32.0px,#c45275 36.0px,#e0614e 38.0px,#f18741 41.5px,#f9b850 50.5px,#fcd161 53.0px,#fde070 56.0px,#fee786 58.0px,#feed98 80.0px,#fee681 80.5px,#fcc657 81.0px,#ef8241 81.5px,#b95683 82.0px,#756199 82.5px,#6e2a80 83.0px,#401859 83.5px,#3b1754 115.0px)"></i><i style="left:26px;width:1px;background:linear-gradient(#806ca3 0.0px,#69568c 14.5px,#504170 22.0px,#554675 29.0px,#8470a6 33.0px,#9370aa 34.5px,#c05079 40.5px,#dd5e53 50.0px,#f08540 53.5px,#fcc959 59.5px,#fddc6c 64.5px,#fee682 80.5px,#fdd565 81.0px,#f6a447 81.5px,#d75c5a 82.0px,#9370aa 82.5px,#503c6e 83.0px,#34154c 83.5px,#27123e 84.0px,#311549 115.0px)"></i><i style="left:27px;width:1px;background:linear-gradient(#78649b 0.0px,#6e5a92 12.5px,#4d3f6d 21.0px,#593674 29.0px,#4d3f6d 32.5px,#574877 35.0px,#7c689e 38.5px,#9370aa 42.0px,#c15179 50.5px,#de5f51 52.5px,#ef8341 54.5px,#faba51 58.0px,#fcca5a 60.0px,#fddd6d 64.5px,#fee786 80.5px,#fddb6b 81.0px,#f8b14c 81.5px,#e3674b 82.0px,#a2689e 82.5px,#574777 83.0px,#3f1858 83.5px,#2a1241 84.0px,#28123f 115.0px)"></i><i style="left:28px;width:1px;background:linear-gradient(#8970a7 0.0px,#826ea4 10.0px,#766299 14.5px,#504170 21.0px,#4d3f6d 30.0px,#5b4b7b 32.5px,#826ea5 36.0px,#966fa8 38.0px,#c15178 47.0px,#d05864 50.0px,#e0614e 51.5px,#f18741 54.0px,#fbc556 58.5px,#fdd969 63.0px,#fee98a 80.0px,#fee786 80.5px,#fcd262 81.0px,#f59c45 81.5px,#cf5865 82.0px,#8c70a8 82.5px,#583773 83.0px,#36164e 83.5px,#2f1446 84.0px,#27113d 115.0px)"></i><i style="left:29px;width:1px;background:linear-gradient(#8f70a9 0.0px,#7f6ba2 14.0px,#5f4e80 22.0px,#665388 29.0px,#8570a6 31.5px,#9470aa 33.0px,#c15178 38.0px,#d35a5f 42.0px,#e0614e 48.0px,#e4694b 50.0px,#ef8241 52.0px,#fcd262 58.5px,#fde580 66.0px,#feea90 80.0px,#fdda6a 80.5px,#f8ad4a 81.0px,#e0614e 81.5px,#9d6aa2 82.0px,#554675 82.5px,#43195c 83.0px,#34154d 83.5px,#24103a 115.0px)"></i><i style="left:30px;width:1px;background:linear-gradient(#7a669d 0.0px,#705c94 14.0px,#504170 22.0px,#524372 29.0px,#8470a6 33.0px,#9470aa 34.5px,#c0507a 39.0px,#e0614e 44.5px,#f08641 50.5px,#f9b750 54.0px,#fdd969 58.0px,#fee581 64.5px,#fee888 79.5px,#fddc6c 80.0px,#f9b34e 80.5px,#e46a4a 81.0px,#a4669b 81.5px,#594979 82.0px,#401859 82.5px,#291241 83.0px,#25113c 115.0px)"></i><i style="left:31px;width:1px;background:linear-gradient(#8b70a8 0.0px,#836fa5 14.0px,#534473 22.0px,#4e406e 29.0px,#8670a6 35.0px,#9470aa 36.5px,#c0507a 43.5px,#e0604e 49.0px,#f18841 52.0px,#f7a949 54.0px,#fdd666 58.0px,#fee683 64.0px,#feeb92 79.0px,#fee681 79.5px,#fcc858 80.0px,#f18741 80.5px,#bc537f 81.0px,#78649b 81.5px,#6a287d 82.0px,#36164f 82.5px,#24103a 115.0px)"></i><i style="left:32px;width:1px;background:linear-gradient(#976ea7 0.0px,#976ea7 14.0px,#8470a6 19.0px,#746097 22.0px,#6b588f 29.0px,#8470a6 31.0px,#966fa8 33.0px,#c0507a 38.0px,#e0604e 45.5px,#f08440 50.5px,#faba51 54.0px,#fddf6f 58.0px,#feeb91 64.0px,#feed98 78.5px,#feec96 79.0px,#fdd969 79.5px,#f7a948 80.0px,#dc5e53 80.5px,#9a6da5 81.0px,#544574 81.5px,#491b62 82.0px,#3f1858 82.5px,#28123f 115.0px)"></i><i style="left:33px;width:1px;background:linear-gradient(#8770a7 0.0px,#9470aa 13.5px,#816da3 22.0px,#8670a7 28.5px,#9270a9 30.0px,#c15079 34.5px,#e1634d 37.5px,#ec7c43 41.5px,#f08440 46.0px,#f39243 50.0px,#fbc054 54.0px,#fddb6b 58.0px,#fee681 64.0px,#feea90 78.5px,#fde275 79.0px,#fabe53 79.5px,#eb7845 80.0px,#b05d8e 80.5px,#68568b 81.0px,#58216f 81.5px,#36164e 82.0px,#371650 115.0px)"></i><i style="left:34px;width:1px;background:linear-gradient(#6e5a92 0.0px,#6c5890 13.5px,#554675 21.5px,#5f4e80 28.5px,#816da3 31.0px,#9270aa 32.5px,#c25177 37.0px,#e1614e 41.5px,#f18841 50.5px,#f9b44e 54.0px,#fdd565 58.0px,#fde378 64.0px,#fee787 75.5px,#fee580 78.5px,#fccd5d 79.0px,#f39243 79.5px,#c65372 80.0px,#836fa5 80.5px,#6c2b7f 81.0px,#2e1445 81.5px,#231039 115.0px)"></i><i style="left:35px;width:1px;background:linear-gradient(#5e4e7f 0.0px,#4c3e6c 8.5px,#652f7b 21.5px,#4d3f6d 30.5px,#574777 32.0px,#806ca3 35.0px,#9270aa 36.5px,#c05079 44.0px,#e0604f 50.0px,#f08440 52.5px,#fcc959 58.0px,#fdde6e 64.0px,#fde47b 78.0px,#fdd666 78.5px,#f7a949 79.0px,#dd5f52 79.5px,#986ea6 80.0px,#4c3e6c 80.5px,#2e1445 81.0px,#210f37 81.5px,#220f38 115.0px)"></i><i style="left:36px;width:1px;background:linear-gradient(#5a4a7a 0.0px,#4c3e6c 14.0px,#5c3575 21.5px,#4d3f6d 29.5px,#5b4b7b 31.5px,#8670a6 34.5px,#9170a9 35.5px,#a96497 37.5px,#c25178 41.5px,#e2654c 49.5px,#f08640 52.0px,#fcc959 58.0px,#fddc6c 63.5px,#fde37a 77.5px,#fddf6f 78.0px,#fbc154 78.5px,#ee7f42 79.0px,#b55a88 79.5px,#69568c 80.0px,#451a5f 80.5px,#210f38 81.0px,#25113c 115.0px)"></i><i style="left:37px;width:1px;background:linear-gradient(#7d69a0 0.0px,#69568c 13.5px,#504170 19.0px,#4f406f 28.5px,#806ca2 32.5px,#9270a9 34.0px,#c15079 38.5px,#df604f 43.0px,#f08440 50.0px,#f8ae4b 53.5px,#fcd060 57.5px,#fddf6f 63.5px,#fee887 77.5px,#fdd868 78.0px,#f7aa49 78.5px,#de5f51 79.0px,#9a6ca5 79.5px,#514271 80.0px,#3b1754 80.5px,#2c1343 81.0px,#27123e 115.0px)"></i><i style="left:38px;width:1px;background:linear-gradient(#8d70a8 0.0px,#7d699f 11.5px,#504270 19.5px,#4d3f6d 29.0px,#5c4b7c 31.5px,#806ca3 34.5px,#9170a9 36.0px,#c0507a 43.0px,#e0604e 49.5px,#f18841 52.5px,#fbc556 57.5px,#fdda6a 63.0px,#fde57f 75.5px,#fee580 77.0px,#fde174 77.5px,#fbc456 78.0px,#f08340 78.5px,#b95683 79.0px,#705c94 79.5px,#55206c 80.0px,#27113d 80.5px,#24113b 115.0px)"></i><i style="left:39px;width:1px;background:linear-gradient(#976ea7 0.0px,#9170a9 10.5px,#8470a6 15.5px,#5f4e80 21.5px,#574877 28.0px,#836fa5 32.0px,#9270a9 33.5px,#c0507b 38.5px,#e0604e 44.0px,#f08540 50.0px,#f9b24d 53.5px,#fcd262 57.5px,#fddf6f 63.5px,#fde379 77.0px,#fdd666 77.5px,#f7aa49 78.0px,#de5f51 78.5px,#986da6 79.0px,#4c3e6c 79.5px,#2d1345 80.0px,#200f36 80.5px,#221039 115.0px)"></i><i style="left:40px;width:1px;background:linear-gradient(#9370aa 0.0px,#8470a6 6.5px,#725e95 13.0px,#504170 20.0px,#504170 28.0px,#8470a6 32.0px,#956fa9 33.5px,#bf517b 37.0px,#e4684b 41.5px,#f08340 46.0px,#f49845 49.5px,#fcc858 53.5px,#fddd6d 57.5px,#fde47b 63.5px,#fee683 76.5px,#fde57f 77.0px,#fccf5f 77.5px,#f49644 78.0px,#ca556d 78.5px,#8670a7 79.0px,#6a2d7d 79.5px,#2b1342 80.0px,#26113c 80.5px,#24103b 102.0px,#2d1345 115.0px)"></i><i style="left:41px;width:1px;background:linear-gradient(#78649b 0.0px,#504170 17.0px,#4f406f 28.0px,#826ea4 32.0px,#956fa9 33.5px,#bf517b 37.0px,#e2644c 41.0px,#f39143 49.0px,#fbc054 53.0px,#fdda6a 57.0px,#fde47d 63.5px,#fee888 76.5px,#fde276 77.0px,#fbc255 77.5px,#ed7e42 78.0px,#b55988 78.5px,#6b588f 79.0px,#531f6a 79.5px,#291240 80.0px,#200f36 97.0px,#2b1343 115.0px)"></i><i style="left:42px;width:1px;background:linear-gradient(#77639a 0.0px,#7b679d 13.0px,#69568b 21.0px,#735f96 28.0px,#8570a6 29.5px,#956fa9 31.0px,#bd527d 35.0px,#d65b5b 37.5px,#e0614e 39.5px,#f08440 49.5px,#fab850 53.5px,#fdd969 57.5px,#fee784 63.5px,#feeb92 76.5px,#fddf6f 77.0px,#f9b74f 77.5px,#e66e48 78.0px,#a96397 78.5px,#5f4e80 79.0px,#4d1d65 79.5px,#35154d 80.0px,#25113c 96.0px,#32154a 115.0px)"></i><i style="left:43px;width:1px;background:linear-gradient(#7a669d 0.0px,#7a669d 13.5px,#645286 21.5px,#6d5a91 28.0px,#8770a7 30.0px,#9270aa 31.0px,#bf517b 35.0px,#df5f50 37.5px,#f08340 42.0px,#f7ab49 49.5px,#fcd363 53.0px,#fddf6f 55.0px,#fee88a 57.0px,#feeb93 76.5px,#fee786 77.0px,#fccc5c 77.5px,#f28d42 78.0px,#c15178 78.5px,#7f6ba1 79.0px,#692d7d 79.5px,#381651 80.0px,#301448 95.0px,#391752 115.0px)"></i><i style="left:44px;width:1px;background:linear-gradient(#756198 0.0px,#756198 13.5px,#635184 21.5px,#6d5991 25.0px,#7b679e 28.5px,#8470a6 29.0px,#986ea7 30.5px,#bf517b 33.5px,#df5f50 35.5px,#ef8340 37.5px,#f8af4c 41.5px,#fccc5c 49.5px,#fee683 53.5px,#feed98 57.5px,#fee887 61.5px,#fee683 77.0px,#fde37a 77.5px,#fcca5a 78.0px,#f18b42 78.5px,#bf517b 79.0px,#7a669d 79.5px,#622576 80.0px,#28123f 80.5px,#28123f 115.0px)"></i><i style="left:45px;width:1px;background:linear-gradient(#665388 0.0px,#816da3 13.5px,#6b578e 21.5px,#735f96 27.5px,#746098 28.5px,#826ea4 29.5px,#9470aa 31.0px,#c35176 35.0px,#e2654c 37.5px,#f08340 40.5px,#f7aa49 49.5px,#fccc5c 53.0px,#fde172 57.5px,#fee785 78.0px,#fcd363 78.5px,#f59f46 79.0px,#d25961 79.5px,#8e70a9 80.0px,#573773 80.5px,#33154b 81.0px,#291240 81.5px,#27123e 115.0px)"></i><i style="left:46px;width:1px;background:linear-gradient(#826ea4 0.0px,#8e70a8 13.5px,#8470a6 17.5px,#746098 21.5px,#78649b 28.5px,#9470aa 31.0px,#bf517b 35.0px,#e1634d 38.0px,#f08440 43.0px,#f7a848 50.5px,#fcc959 53.5px,#fde070 57.5px,#fee785 64.0px,#feea8f 78.0px,#fee681 78.5px,#fcca5a 79.0px,#f18a41 79.5px,#be517c 80.0px,#7b679e 80.5px,#6d2a7f 81.0px,#36164e 81.5px,#36164f 115.0px)"></i><i style="left:47px;width:1px;background:linear-gradient(#756198 0.0px,#715d95 13.5px,#5c4c7d 21.5px,#6a578d 28.5px,#8570a6 30.5px,#976ea8 32.0px,#bd527e 35.5px,#da5d57 38.0px,#e87247 41.5px,#f08340 47.5px,#f28e42 50.0px,#f7a748 52.0px,#fdd868 58.0px,#fde47c 64.0px,#feea8f 78.0px,#fee889 78.5px,#fcd262 79.0px,#f49a45 79.5px,#ce5767 80.0px,#8b70a8 80.5px,#583773 81.0px,#391752 81.5px,#2f1447 95.5px,#3f1858 115.0px)"></i><i style="left:48px;width:1px;background:linear-gradient(#5b4b7b 0.0px,#504170 7.5px,#4f416f 29.0px,#8470a6 33.0px,#956fa9 34.5px,#c15079 39.5px,#df5f4f 47.5px,#e46a4a 50.0px,#ef8341 52.0px,#fcc959 58.0px,#fddf6f 64.0px,#fee98b 78.0px,#fee88a 78.5px,#fdd666 79.0px,#f7a547 79.5px,#d95c58 80.0px,#956fa9 80.5px,#4d3f6d 81.0px,#391752 81.5px,#2d1345 82.0px,#25113c 98.5px,#36164e 115.0px)"></i><i style="left:49px;width:1px;background:linear-gradient(#6e5a92 0.0px,#6b578e 14.0px,#604e81 22.0px,#725e96 28.5px,#8570a6 30.0px,#9170a9 31.0px,#c0507a 35.5px,#d95c58 38.0px,#df604f 39.5px,#e66e49 49.5px,#f08640 52.0px,#fcc959 58.0px,#fddc6c 63.0px,#fee889 78.5px,#fddb6b 79.0px,#f8b14c 79.5px,#e3664c 80.0px,#a1689e 80.5px,#564776 81.0px,#3f1858 81.5px,#2b1342 82.0px,#26113c 115.0px)"></i><i style="left:50px;width:1px;background:linear-gradient(#966fa8 0.0px,#826ea5 13.5px,#594979 22.0px,#584878 28.5px,#8670a6 32.5px,#956fa9 34.0px,#c15079 39.0px,#e0604e 45.5px,#e97546 49.5px,#f18741 51.0px,#f8b14c 54.0px,#fdd666 58.0px,#fde57e 64.0px,#feeb92 78.5px,#fde379 79.0px,#fbc154 79.5px,#ed7c43 80.0px,#b45a89 80.5px,#6d5991 81.0px,#5f2474 81.5px,#381650 82.0px,#27123e 115.0px)"></i><i style="left:51px;width:1px;background:linear-gradient(#8e70a9 0.0px,#7e6aa0 6.5px,#504170 16.0px,#63307a 28.5px,#4d3f6d 33.0px,#584878 35.0px,#816da3 38.0px,#956fa9 40.5px,#c0507a 46.5px,#e0614e 50.5px,#f18741 53.0px,#fbc556 57.5px,#fccf5f 59.5px,#fddf6f 64.0px,#fee889 78.5px,#fde47c 79.0px,#fcc758 79.5px,#f08641 80.0px,#bb5480 80.5px,#766299 81.0px,#642678 81.5px,#301448 82.0px,#23103a 115.0px)"></i><i style="left:52px;width:1px;background:linear-gradient(#8670a6 0.0px,#725e95 14.0px,#504170 22.0px,#504270 29.0px,#816da4 33.5px,#9370aa 35.5px,#a76499 38.0px,#c15179 50.0px,#e1624d 53.0px,#f08340 55.0px,#f9b24d 58.0px,#fdd565 63.0px,#fee88a 76.0px,#fee887 79.0px,#fcd161 79.5px,#f49945 80.0px,#cd5668 80.5px,#8b70a8 81.0px,#593674 81.5px,#391752 82.0px,#24103b 115.0px)"></i><i style="left:53px;width:1px;background:linear-gradient(#8d70a8 0.0px,#8470a6 15.5px,#6e5a92 22.0px,#735f96 28.5px,#8770a7 30.5px,#956fa9 32.0px,#c45274 38.0px,#d45a5e 49.5px,#e1624d 51.0px,#f08640 53.5px,#fcc758 58.0px,#fccf5f 59.5px,#fee683 68.0px,#feed96 79.0px,#fddd6d 79.5px,#f8b04c 80.0px,#e2654c 80.5px,#a2689e 81.0px,#5a4a7a 81.5px,#501e68 82.0px,#3f1858 82.5px,#35154d 115.0px)"></i><i style="left:54px;width:1px;background:linear-gradient(#9c6ba3 0.0px,#966fa8 14.0px,#7c689f 22.0px,#826ea4 29.0px,#986ea6 31.0px,#c0507b 35.0px,#df5f4f 38.0px,#f08440 48.5px,#f18a41 50.0px,#f7a647 52.0px,#fdde6e 58.0px,#fee98c 64.0px,#feec96 79.0px,#fde379 79.5px,#fbbf53 80.0px,#eb7944 80.5px,#b15c8d 81.0px,#6a578d 81.5px,#5e2373 82.0px,#3b1754 82.5px,#2c1343 115.0px)"></i><i style="left:55px;width:1px;background:linear-gradient(#aa6396 0.0px,#9470aa 16.5px,#7e6aa0 22.0px,#7c689f 29.0px,#986ea7 31.5px,#be527d 35.5px,#d75b5b 38.0px,#e0614e 40.0px,#ec7b43 50.0px,#f18741 51.0px,#fcd262 58.0px,#fde37a 64.0px,#feec94 79.0px,#fee786 79.5px,#fccc5c 80.0px,#f28d42 80.5px,#c15178 81.0px,#806ca3 81.5px,#64307a 82.0px,#3d1856 82.5px,#2a1341 115.0px)"></i><i style="left:56px;width:1px;background:linear-gradient(#8470a6 0.0px,#7e6aa0 14.0px,#5c4c7d 22.0px,#604f81 29.0px,#8670a6 32.0px,#9470aa 33.5px,#bf517b 39.0px,#cb556b 42.0px,#d45a5e 50.0px,#e1634d 51.5px,#f18841 54.5px,#f9b74f 58.0px,#fdd565 63.0px,#feea8e 79.0px,#fee98a 79.5px,#fcd363 80.0px,#f59e46 80.5px,#d25962 81.0px,#9070a9 81.5px,#4e3d6d 82.0px,#3f1858 82.5px,#381650 115.0px)"></i><i style="left:57px;width:1px;background:linear-gradient(#8570a6 0.0px,#836fa5 14.0px,#5e4d7f 22.0px,#5d4d7e 29.0px,#836fa5 32.0px,#9270aa 33.5px,#c0507a 38.5px,#d65b5c 42.5px,#e56c49 50.0px,#f08440 52.0px,#fcca5a 58.5px,#fddd6d 64.0px,#fee787 79.5px,#fdd868 80.0px,#f7ab49 80.5px,#df604f 81.0px,#9b6ca3 81.5px,#524372 82.0px,#3d1856 82.5px,#2d1345 83.0px,#381651 96.0px,#36164f 115.0px)"></i><i style="left:58px;width:1px;background:linear-gradient(#8e70a9 0.0px,#8470a6 8.0px,#78649b 14.0px,#524372 22.0px,#544574 29.0px,#8570a6 33.0px,#9570a9 34.5px,#bf517c 39.0px,#df604f 45.0px,#f18841 51.0px,#f9b24d 54.0px,#fdd666 58.0px,#fde47c 64.5px,#fee887 79.5px,#fddf6f 80.0px,#fabb51 80.5px,#e97446 81.0px,#ad6092 81.5px,#635184 82.0px,#4a1b63 82.5px,#2b1343 83.0px,#35164e 99.5px,#32154a 115.0px)"></i><i style="left:59px;width:1px;background:linear-gradient(#7f6ba2 0.0px,#504270 16.5px,#4d3f6d 29.0px,#584978 31.0px,#8470a6 34.5px,#9370aa 36.0px,#a96397 38.5px,#c0507a 44.5px,#de5f50 50.5px,#f08540 53.0px,#fccf5f 58.5px,#fde379 65.5px,#fee887 79.5px,#fde37a 80.0px,#fcc657 80.5px,#f08540 81.0px,#ba5581 81.5px,#735f97 82.0px,#5d2372 82.5px,#2b1342 83.0px,#291240 115.0px)"></i><i style="left:60px;width:1px;background:linear-gradient(#79659c 0.0px,#69568c 14.0px,#504170 20.5px,#4f416f 29.0px,#8470a6 34.0px,#9270aa 35.5px,#ac6193 38.5px,#c35275 47.0px,#cd5768 50.0px,#dd5e52 51.5px,#ef8141 54.0px,#faba51 58.0px,#fdd767 63.0px,#fde580 76.0px,#fde57f 79.5px,#fde277 80.0px,#fcc959 80.5px,#f18a41 81.0px,#be527c 81.5px,#77639a 82.0px,#5b2271 82.5px,#25113c 83.0px,#1c0d32 115.0px)"></i><i style="left:61px;width:1px;background:linear-gradient(#665488 0.0px,#524372 12.5px,#4c3e6c 29.0px,#564776 31.0px,#836fa5 34.5px,#9370aa 36.0px,#aa6295 38.5px,#c0507a 44.0px,#d35a60 50.0px,#e1634d 51.5px,#f18741 54.0px,#fabd53 58.0px,#fcca5a 60.0px,#fddc6c 64.5px,#fde57f 73.5px,#fde47c 80.0px,#fccc5c 80.5px,#f29043 81.0px,#c35275 81.5px,#7f6ba1 82.0px,#68287b 82.5px,#28123f 83.0px,#1e0e34 115.0px)"></i><i style="left:62px;width:1px;background:linear-gradient(#594979 0.0px,#4c3e6c 11.5px,#662f7b 24.0px,#623179 29.0px,#4d3f6d 32.5px,#594979 34.5px,#8570a6 37.5px,#9370aa 39.0px,#c15178 45.5px,#e0604e 50.0px,#f18741 52.5px,#f8ae4b 55.0px,#fcd262 58.5px,#fde276 64.5px,#fee784 79.5px,#fde47d 80.0px,#fccc5c 80.5px,#f29043 81.0px,#c45274 81.5px,#806ca2 82.0px,#6a297d 82.5px,#2a1341 83.0px,#27123e 83.5px,#2d1344 115.0px)"></i><i style="left:63px;width:1px;background:linear-gradient(#7a669d 0.0px,#6f5b93 14.0px,#504170 21.5px,#504170 29.0px,#816da3 33.0px,#9270aa 34.5px,#bf517b 38.5px,#df604f 42.5px,#f28c42 50.0px,#fbbf53 54.0px,#fddc6c 58.0px,#fee682 64.5px,#fee98b 79.5px,#fee784 80.0px,#fccf5f 80.5px,#f39544 81.0px,#c8546f 81.5px,#8670a6 82.0px,#662f7b 82.5px,#32154a 83.0px,#28123f 94.5px,#2d1445 115.0px)"></i><i style="left:64px;width:1px;background:linear-gradient(#9b6ca4 0.0px,#996da6 14.0px,#7f6ba1 22.0px,#816da4 29.0px,#966fa8 31.0px,#c15179 35.0px,#e0604e 37.5px,#ef8341 41.5px,#f6a547 50.5px,#fcca5a 54.0px,#fddf6f 58.0px,#fee681 64.5px,#fee888 79.5px,#fee681 80.0px,#fcce5e 80.5px,#f39343 81.0px,#c65371 81.5px,#8470a6 82.0px,#6a2d7e 82.5px,#301447 83.0px,#2c1444 115.0px)"></i><i style="left:65px;width:1px;background:linear-gradient(#8570a6 0.0px,#8970a7 14.0px,#705c93 22.0px,#725e96 29.0px,#8470a6 30.5px,#9470aa 32.0px,#c0507a 36.5px,#d35960 38.5px,#df604f 41.0px,#ea7745 50.0px,#f18741 51.5px,#fccd5d 58.5px,#fde173 72.0px,#fddf6f 80.0px,#fbc557 80.5px,#f08641 81.0px,#ba5581 81.5px,#705c94 82.0px,#4c1d65 82.5px,#210f37 83.0px,#281340 115.0px)"></i><i style="left:66px;width:1px;background:linear-gradient(#77639a 0.0px,#7c689f 14.0px,#6a578d 22.0px,#735f97 29.0px,#8670a7 30.5px,#966fa8 32.0px,#c25177 36.5px,#d45a5e 38.5px,#e0614e 41.5px,#e66e49 50.0px,#ef8341 52.0px,#fcc959 58.5px,#fddd6d 64.5px,#fee683 79.5px,#fde174 80.0px,#fbc255 80.5px,#ed7f42 81.0px,#b55987 81.5px,#6c5990 82.0px,#53206a 82.5px,#291340 83.0px,#2b1443 115.0px)"></i><i style="left:67px;width:1px;background:linear-gradient(#8b70a8 0.0px,#8a70a8 14.0px,#6f5b92 22.0px,#766299 29.0px,#836fa5 30.0px,#956fa9 31.5px,#c25177 35.5px,#e1624d 38.0px,#f08440 42.5px,#f49b45 50.0px,#fbc355 54.0px,#fdda6a 58.0px,#fde47d 64.5px,#feeb92 79.5px,#fddb6b 80.0px,#f7ad4b 80.5px,#e0624e 81.0px,#9f69a0 81.5px,#584878 82.0px,#4a1d63 82.5px,#3c1955 83.0px,#3d1956 98.0px,#2e1546 115.0px)"></i><i style="left:68px;width:1px;background:linear-gradient(#756198 0.0px,#69568c 14.0px,#514271 22.0px,#5b4b7b 28.5px,#826ea5 31.5px,#956fa9 33.0px,#be517c 36.5px,#df5f50 39.5px,#f08540 46.0px,#f39644 50.0px,#fbc255 54.0px,#fdda6a 58.0px,#feea8e 79.0px,#fde070 79.5px,#f9b951 80.0px,#e77148 80.5px,#ab6194 81.0px,#635185 81.5px,#52206a 82.0px,#371850 82.5px,#3b1a54 102.0px,#2c1544 115.0px)"></i><i style="left:69px;width:1px;background:linear-gradient(#7a669d 0.0px,#766299 14.0px,#594979 22.0px,#594979 28.5px,#816da3 32.0px,#9170a9 33.5px,#c25177 39.0px,#e0604e 45.0px,#ea7645 49.5px,#f18841 51.0px,#f8b14d 54.0px,#fdd666 58.0px,#fde47d 64.0px,#feea8f 78.5px,#fde580 79.0px,#fbc859 79.5px,#ef8742 80.0px,#bb537f 80.5px,#78649b 81.0px,#6a2a7e 81.5px,#381951 82.0px,#2c1644 115.0px)"></i><i style="left:70px;width:1px;background:linear-gradient(#8d70a8 0.0px,#a2679d 14.0px,#9370aa 18.5px,#8470a6 21.5px,#6a578d 29.0px,#826ea4 31.5px,#9470aa 34.0px,#b15d8d 38.0px,#c45275 44.5px,#e0604e 50.0px,#ee8041 52.0px,#f7aa49 54.5px,#fcd363 58.0px,#fee785 64.5px,#feec95 78.5px,#fde37a 79.0px,#fac055 79.5px,#ea7b45 80.0px,#b15c8c 80.5px,#6d5990 81.0px,#602775 81.5px,#3c1a55 82.0px,#2a1541 98.5px,#2a1542 115.0px)"></i><i style="left:71px;width:1px;background:linear-gradient(#705c94 0.0px,#836fa5 7.5px,#8b70a8 14.0px,#8470a6 17.0px,#6d5991 22.0px,#615083 29.0px,#8470a6 32.5px,#9370aa 34.5px,#ac6193 38.0px,#c25178 47.5px,#ce5767 50.0px,#db5d55 51.0px,#ef8241 53.5px,#fbbf54 57.5px,#fcce5e 59.5px,#fde070 64.0px,#fee888 78.5px,#fde57e 79.0px,#fbca5b 79.5px,#f08c43 80.0px,#be517a 80.5px,#7c689f 81.0px,#682a7c 81.5px,#301748 82.0px,#27143e 115.0px)"></i><i style="left:72px;width:1px;background:linear-gradient(#504270 0.0px,#4d3e6d 29.5px,#5b4b7b 32.0px,#8470a6 35.5px,#9170a9 37.0px,#ab6294 42.0px,#c35176 50.5px,#df604f 53.0px,#ee8041 55.0px,#f8af4b 58.0px,#fcd161 63.0px,#fde276 79.0px,#fcda6a 79.5px,#f7b34f 80.0px,#e26c4a 80.5px,#a36499 81.0px,#574777 81.5px,#381951 82.0px,#231239 82.5px,#27153e 115.0px)"></i><i style="left:73px;width:1px;background:linear-gradient(#5e4d7e 0.0px,#4d3f6d 29.0px,#5a4a7a 31.0px,#8570a6 34.5px,#9470aa 36.0px,#aa6296 38.5px,#c0507a 44.5px,#d05864 50.0px,#e0604e 51.5px,#ef8241 54.0px,#f9b850 58.0px,#fcd464 63.0px,#fde47b 79.5px,#fcd566 80.0px,#f5a849 80.5px,#da5e53 81.0px,#966ca4 81.5px,#4e406e 82.0px,#34194d 82.5px,#28153f 83.0px,#2a1742 115.0px)"></i><i style="left:74px;width:1px;background:linear-gradient(#986ea7 0.0px,#9270aa 14.0px,#8570a6 17.5px,#68558b 22.5px,#5e4d7f 29.0px,#8670a6 32.5px,#9470aa 34.0px,#c15079 38.5px,#e1614e 43.5px,#f08741 50.5px,#fab850 54.5px,#fdd666 58.5px,#fde277 64.5px,#fee786 79.5px,#fee784 80.0px,#fbd263 80.5px,#f29d48 81.0px,#ce5964 81.5px,#8d6fa7 82.0px,#593a75 82.5px,#391b52 83.0px,#301948 83.5px,#3c1e55 104.0px,#351c4e 115.0px)"></i><i style="left:75px;width:1px;background:linear-gradient(#8e70a9 0.0px,#7d699f 14.0px,#5a4a7a 22.5px,#5d4c7d 29.0px,#836fa5 32.0px,#9470aa 33.5px,#c15079 37.5px,#dd5e52 40.5px,#e66d49 42.5px,#f49844 50.5px,#fcc757 54.5px,#fdde6e 58.5px,#fde580 64.5px,#fee784 80.0px,#fde175 80.5px,#f9c156 81.0px,#ea7f44 81.5px,#b25887 82.0px,#6d5990 82.5px,#54246d 83.0px,#2e1846 83.5px,#3c2055 115.0px)"></i><i style="left:76px;width:1px;background:linear-gradient(#6a578e 0.0px,#635185 14.5px,#504170 22.0px,#584878 29.0px,#8570a6 32.5px,#9070a9 33.5px,#c25177 38.0px,#e0604e 42.0px,#ef8141 50.5px,#f8b14c 54.5px,#fcd161 58.5px,#fddf6f 64.5px,#fde47c 80.5px,#fbd162 81.0px,#f19d48 81.5px,#cd5962 82.0px,#8a6ea6 82.5px,#5f3678 83.0px,#301948 83.5px,#2a1741 84.0px,#2f1b47 115.0px)"></i><i style="left:77px;width:1px;background:linear-gradient(#725e95 0.0px,#6a568d 14.0px,#504170 20.5px,#4d3f6d 29.5px,#584978 31.5px,#8470a6 35.0px,#9470aa 36.5px,#c05079 42.0px,#e0604e 48.0px,#e77048 50.5px,#f08640 52.0px,#f7aa49 54.5px,#fcd161 58.5px,#fde071 64.5px,#fde47d 80.5px,#fcda6b 81.0px,#f6b24f 81.5px,#df6a4c 82.0px,#a06499 82.5px,#584878 83.0px,#3e1d57 83.5px,#2a1742 84.0px,#2d1a46 115.0px)"></i><i style="left:78px;width:1px;background:linear-gradient(#735f97 0.0px,#615083 14.5px,#504170 20.5px,#524372 29.5px,#7f6ba2 33.0px,#9170a9 34.5px,#c0507a 39.0px,#e0604e 44.5px,#f08540 51.0px,#f9b34e 54.5px,#fdd565 58.5px,#fde174 64.5px,#fde277 80.5px,#fdde6f 81.0px,#f8c055 81.5px,#e87e44 82.0px,#af5886 82.5px,#67558a 83.0px,#461f60 83.5px,#27163e 84.0px,#27173e 115.0px)"></i><i style="left:79px;width:1px;background:linear-gradient(#756199 0.0px,#6e5a92 14.5px,#554675 22.5px,#5a4a7a 29.5px,#826ea4 32.5px,#9270aa 34.0px,#c25178 38.5px,#e0604e 43.5px,#f18741 51.0px,#f9b64f 54.5px,#fdd666 58.5px,#fde275 64.5px,#fde174 81.0px,#facc5e 81.5px,#ee9446 82.0px,#c2546d 82.5px,#806ca1 83.0px,#652b7a 83.5px,#2a1842 84.0px,#25163d 84.5px,#3d2357 115.0px)"></i><i style="left:80px;width:1px;background:linear-gradient(#816da3 0.0px,#9270aa 14.5px,#8470a6 19.5px,#746098 22.5px,#68558b 29.5px,#8570a6 32.0px,#9270aa 33.5px,#c25178 38.5px,#e0604e 43.5px,#f08440 49.5px,#fcc557 54.5px,#fde378 58.5px,#fee98c 64.5px,#fee787 81.0px,#fcdc6e 81.5px,#f5b451 82.0px,#df6d4d 82.5px,#a36398 83.0px,#5f4e80 83.5px,#4a2465 84.0px,#351f4f 84.5px,#582d71 105.0px,#602f75 115.0px)"></i><i style="left:81px;width:1px;background:linear-gradient(#b25c8c 0.0px,#bd537e 14.5px,#a1689e 22.5px,#9470aa 30.0px,#be527d 35.0px,#e1614e 39.0px,#f08440 50.0px,#fbc456 55.5px,#fddc6c 59.0px,#fee786 65.0px,#feec95 81.0px,#fde889 81.5px,#f9cb5f 82.0px,#ec8e48 82.5px,#bf5579 83.0px,#8570a6 83.5px,#653d7e 84.0px,#4e2868 84.5px,#592d72 99.5px,#542d6e 115.0px)"></i><i style="left:82px;width:1px;background:linear-gradient(#a0699f 0.0px,#9b6ca3 14.5px,#8570a6 20.5px,#6b588f 29.5px,#826ea4 31.5px,#956fa9 33.5px,#c0507a 38.0px,#e0614e 43.0px,#f18841 51.0px,#fabc52 55.0px,#fddb6b 59.0px,#fee681 65.0px,#fee98c 81.0px,#fee787 81.5px,#facf63 82.0px,#ee984a 82.5px,#c6586c 83.0px,#896fa6 83.5px,#603d7b 84.0px,#43255d 84.5px,#472b62 115.0px)"></i><i style="left:83px;width:1px;background:linear-gradient(#645286 0.0px,#4c3e6c 19.0px,#662f7b 29.5px,#4d3f6d 35.0px,#544574 36.5px,#8670a6 40.5px,#966fa8 42.0px,#bf517b 47.5px,#dc5e54 51.0px,#f08540 53.5px,#fcca5a 58.5px,#fdd767 62.0px,#fde47c 72.0px,#fde580 81.5px,#fad264 82.0px,#ef9d4a 82.5px,#cb5a62 83.0px,#8b6ca5 83.5px,#5b3c77 84.0px,#3a2154 84.5px,#331f4c 85.0px,#33214c 115.0px)"></i><i style="left:84px;width:1px;background:linear-gradient(#826ea4 0.0px,#8770a7 14.5px,#524372 23.0px,#4c3e6c 30.5px,#5c4b7c 34.0px,#8570a6 37.5px,#9370aa 39.0px,#c15178 46.5px,#e0604e 51.0px,#f18841 53.5px,#fcca5a 58.5px,#fdd868 62.0px,#fde57f 72.0px,#fee786 81.5px,#fbd96b 82.0px,#f2ab4f 82.5px,#d86353 83.0px,#99679e 83.5px,#59497a 84.0px,#472662 84.5px,#382252 85.0px,#382553 115.0px)"></i><i style="left:85px;width:1px;background:linear-gradient(#966fa8 0.0px,#9e6aa1 14.5px,#9370aa 18.5px,#77639a 29.5px,#9370aa 32.5px,#c0507a 37.5px,#df5f4f 42.5px,#e97446 49.5px,#f08340 51.5px,#f8b14c 55.0px,#fdd464 59.0px,#fde37a 65.0px,#fee98c 81.5px,#fcdf72 82.0px,#f5b855 82.5px,#e0744d 83.0px,#a76092 83.5px,#69568b 84.0px,#582e73 84.5px,#41275b 85.0px,#432b5e 115.0px)"></i><i style="left:86px;width:1px;background:linear-gradient(#816da4 0.0px,#8e70a9 14.5px,#8470a6 19.0px,#735f97 23.0px,#6c588f 29.5px,#8670a7 32.0px,#9470aa 33.5px,#c0507a 38.5px,#d35a5f 42.5px,#e0604e 49.0px,#e3684b 51.0px,#f18741 53.5px,#fcc959 59.0px,#fddf6f 65.0px,#feea90 81.5px,#fde47f 82.0px,#f7c45b 82.5px,#e78449 83.0px,#b35885 83.5px,#79659c 84.0px,#6f3885 84.5px,#492c64 85.0px,#422c5d 115.0px)"></i><i style="left:87px;width:1px;background:linear-gradient(#9470aa 0.0px,#8470a6 17.0px,#6e5a92 23.0px,#725e95 29.5px,#8470a6 31.0px,#9470aa 32.5px,#bf517b 36.5px,#dc5e54 39.0px,#f08440 48.0px,#f39143 51.0px,#fabe53 55.0px,#fdd969 59.0px,#fde37b 65.0px,#fee786 81.5px,#fde27a 82.0px,#f7c35a 82.5px,#e58248 83.0px,#b05683 83.5px,#735f97 84.0px,#62317b 84.5px,#3d2658 85.0px,#3e2a59 115.0px)"></i><i style="left:88px;width:1px;background:linear-gradient(#b85785 0.0px,#9570a9 16.5px,#7d699f 23.0px,#7e6aa0 29.5px,#9370aa 31.5px,#bf517b 35.5px,#df604f 38.0px,#f08340 42.0px,#f7a748 50.5px,#fcc858 53.5px,#fde47b 58.5px,#fee98b 65.0px,#fee98c 81.5px,#fce27a 82.0px,#f6c059 82.5px,#e37f4a 83.0px,#ae5988 83.5px,#725e96 84.0px,#64347d 84.5px,#442b5f 85.0px,#483164 115.0px)"></i><i style="left:89px;width:1px;background:linear-gradient(#9170a9 0.0px,#8570a6 17.0px,#6d5990 22.5px,#68558b 29.5px,#8670a7 32.0px,#966fa8 33.5px,#c25177 37.5px,#df5f50 40.5px,#f08340 47.0px,#f39444 50.5px,#f7a748 52.0px,#fcc758 55.0px,#fddf6f 59.0px,#fee786 65.0px,#feea90 81.5px,#fbdd70 82.0px,#f2b254 82.5px,#da6d54 83.0px,#a0659a 83.5px,#665487 84.0px,#583274 84.5px,#492e64 85.0px,#402b5c 97.5px,#493265 115.0px)"></i><i style="left:90px;width:1px;background:linear-gradient(#6e5a92 0.0px,#746097 14.5px,#655387 22.5px,#715d95 29.5px,#8670a7 31.0px,#9270aa 32.0px,#c45275 36.0px,#e0604e 38.0px,#f08440 41.5px,#f5a046 50.5px,#fdd565 58.5px,#fee580 81.0px,#fde47c 81.5px,#f8ca5f 82.0px,#e78e49 82.5px,#b95474 83.0px,#7d699f 83.5px,#6b3582 84.0px,#3c2756 84.5px,#442f60 115.0px)"></i><i style="left:91px;width:1px;background:linear-gradient(#8670a6 0.0px,#8a70a8 14.5px,#816da3 22.5px,#9070a9 30.0px,#c0507a 34.0px,#e1634d 36.5px,#f18741 39.0px,#f5a046 42.5px,#f9b34e 50.5px,#fccb5b 53.0px,#fde57f 58.5px,#feea8f 81.0px,#fce37c 81.5px,#f5c05a 82.0px,#e27f4c 82.5px,#ad5b8a 83.0px,#766299 83.5px,#6c3b84 84.0px,#4e326a 84.5px,#5b3d77 104.0px,#50386d 115.0px)"></i><i style="left:92px;width:1px;background:linear-gradient(#a0699f 0.0px,#9470aa 14.5px,#7a669d 22.5px,#77639a 29.5px,#836fa5 30.5px,#986ea7 32.5px,#bf517b 36.5px,#d95c58 39.0px,#f08540 48.0px,#f39343 50.5px,#f7aa49 52.0px,#fcc959 54.5px,#fde47d 58.5px,#feeb92 64.5px,#feec94 81.0px,#fadb6f 81.5px,#f0ad54 82.0px,#d66959 82.5px,#9d699e 83.0px,#675588 83.5px,#60387b 84.0px,#543670 84.5px,#593e76 104.5px,#4d376a 115.0px)"></i><i style="left:93px;width:1px;background:linear-gradient(#9270a9 0.0px,#7e6aa0 14.5px,#67558a 22.5px,#6c5990 29.5px,#816da3 31.0px,#966fa8 33.0px,#c15079 37.5px,#dc5e53 42.5px,#e66e49 50.5px,#f18741 52.5px,#fccd5d 58.5px,#fde070 64.5px,#fee785 80.5px,#fde47e 81.0px,#f6c75e 81.5px,#e48a4b 82.0px,#b4547b 82.5px,#7c689f 83.0px,#6f3b86 83.5px,#472e63 84.0px,#5f417b 104.5px,#5d427a 115.0px)"></i><i style="left:94px;width:1px;background:linear-gradient(#956fa9 0.0px,#8470a6 8.0px,#665388 22.5px,#715d94 29.5px,#8670a7 31.0px,#9270a9 32.0px,#c45275 36.5px,#e1624d 39.5px,#e97546 42.5px,#f08440 49.0px,#f18941 50.5px,#f9b64f 54.5px,#fcd464 58.5px,#fde172 64.5px,#fee684 80.5px,#fbdc6e 81.0px,#f0b254 81.5px,#d76e52 82.0px,#9d6094 82.5px,#645286 83.0px,#543172 83.5px,#442e60 84.0px,#684381 103.0px,#654480 115.0px)"></i><i style="left:95px;width:1px;background:linear-gradient(#a4669c 0.0px,#9070a9 14.5px,#836fa5 17.5px,#68558b 22.5px,#614f82 29.0px,#8670a7 32.5px,#956fa9 34.0px,#bf517c 38.0px,#e0604f 43.0px,#f18741 51.0px,#f9b24d 54.5px,#fcd363 58.5px,#fde173 64.5px,#fee785 80.0px,#fee684 80.5px,#f8d066 81.0px,#e99b4e 81.5px,#c45b66 82.0px,#896ba4 82.5px,#5b477b 83.0px,#4c3169 83.5px,#463063 84.0px,#60437c 103.5px,#584076 115.0px)"></i><i style="left:96px;width:1px;background:linear-gradient(#705c94 0.0px,#6f5b92 14.0px,#544574 22.0px,#504170 29.0px,#8670a6 34.5px,#9470aa 36.0px,#aa6295 38.5px,#c65372 46.5px,#de5f50 51.0px,#f08340 53.5px,#fcca5a 59.0px,#fddf6f 64.5px,#fee786 80.0px,#fce27a 80.5px,#f4c15b 81.0px,#e0814b 81.5px,#ab5584 82.0px,#735f96 82.5px,#64387f 83.0px,#463062 83.5px,#584176 115.0px)"></i><i style="left:97px;width:1px;background:linear-gradient(#564776 0.0px,#4f416f 29.5px,#8570a6 34.5px,#956fa9 36.0px,#c05079 42.0px,#d15962 46.5px,#e1614e 50.0px,#ef8241 52.5px,#fccd5d 58.5px,#fde172 64.5px,#fee786 80.0px,#fad96d 80.5px,#edac53 81.0px,#d16757 81.5px,#96649a 82.0px,#5f4e81 82.5px,#51336f 83.0px,#453062 83.5px,#422f5e 96.0px,#543e72 115.0px)"></i><i style="left:98px;width:1px;background:linear-gradient(#715d95 0.0px,#6b578e 14.0px,#504170 22.0px,#4f416f 29.5px,#836fa5 34.5px,#9270aa 36.0px,#aa6396 38.5px,#bd537e 43.0px,#cd5768 50.0px,#e0604e 52.0px,#ef8141 54.5px,#f8b04c 58.0px,#fcd161 63.0px,#fde47d 79.5px,#fde277 80.0px,#f5c55c 80.5px,#e0874a 81.0px,#ad517a 81.5px,#746197 82.0px,#62367b 82.5px,#402c5b 83.0px,#4a3767 115.0px)"></i><i style="left:99px;width:1px;background:linear-gradient(#7a669d 0.0px,#675489 7.0px,#524372 22.0px,#594a79 29.0px,#8570a6 32.5px,#9370aa 34.0px,#b75785 38.0px,#c35276 42.0px,#c15178 50.0px,#df604f 53.5px,#ef8241 56.0px,#f6a146 58.0px,#fccb5b 63.0px,#fde57e 79.5px,#f9d569 80.0px,#eba650 80.5px,#cb6057 81.0px,#8f649a 81.5px,#5a4a7b 82.0px,#4d316a 82.5px,#443060 83.0px,#4a3567 96.0px,#3e2f5a 115.0px)"></i><i style="left:100px;width:1px;background:linear-gradient(#8b70a8 0.0px,#7f6ba1 14.0px,#645287 22.0px,#655388 29.0px,#8670a6 31.5px,#956fa9 33.0px,#bf517b 37.0px,#e0614e 41.5px,#eb7a44 50.0px,#f08540 51.0px,#fccc5c 58.0px,#fdde6e 64.0px,#fee98d 79.0px,#fce37e 79.5px,#f3c15d 80.0px,#df824f 80.5px,#ac5a88 81.0px,#7a669d 81.5px,#73458c 82.0px,#593e76 82.5px,#60467d 96.5px,#493766 115.0px)"></i><i style="left:101px;width:1px;background:linear-gradient(#986ea7 0.0px,#8670a6 15.0px,#594979 22.0px,#4e406e 29.0px,#5f4e80 31.5px,#816da3 34.5px,#9170a9 36.0px,#c15079 42.0px,#e1624d 48.0px,#e77048 50.0px,#f08640 51.5px,#f7aa49 54.0px,#fcd262 58.0px,#fde174 64.0px,#fee785 78.5px,#fde580 79.0px,#f5c961 79.5px,#e28e4e 80.0px,#b45676 80.5px,#7e69a0 81.0px,#6b4186 81.5px,#4d366b 82.0px,#554074 115.0px)"></i><i style="left:102px;width:1px;background:linear-gradient(#8e70a9 0.0px,#8470a6 9.0px,#78649b 13.5px,#504270 20.5px,#4c3e6c 29.5px,#5a4a7a 32.5px,#8470a6 36.0px,#9470aa 37.5px,#c05079 45.0px,#de5f51 50.0px,#f08340 52.5px,#fccc5c 58.5px,#fddf6f 64.0px,#fee786 78.5px,#f8d469 79.0px,#e9a151 79.5px,#c75e5f 80.0px,#8d68a0 80.5px,#5d4d7f 81.0px,#543871 81.5px,#4c376a 82.0px,#4c3769 88.5px,#554074 115.0px)"></i><i style="left:103px;width:1px;background:linear-gradient(#986ea7 0.0px,#8470a6 14.5px,#574877 21.5px,#4e3f6e 29.0px,#5b4b7b 31.5px,#8470a6 35.0px,#9470aa 36.5px,#c15178 42.5px,#e1614d 48.0px,#f18741 51.5px,#fcd161 58.0px,#fde277 64.0px,#feea8f 78.0px,#fbe077 78.5px,#f0b85a 79.0px,#d87755 79.5px,#a36192 80.0px,#735f95 80.5px,#6b4587 81.0px,#5a4177 81.5px,#534072 115.0px)"></i><i style="left:104px;width:1px;background:linear-gradient(#ac6092 0.0px,#9270aa 16.0px,#8470a6 19.5px,#604f81 28.5px,#8470a6 32.5px,#9370aa 34.5px,#ac6193 37.5px,#c15079 44.0px,#e0604e 50.0px,#f18741 52.5px,#fcc959 57.0px,#fdd767 59.5px,#fee580 65.0px,#feea8f 77.5px,#fde685 78.0px,#f4c661 78.5px,#e08a52 79.0px,#b15982 79.5px,#816da3 80.0px,#734a8e 80.5px,#5c4279 81.0px,#544073 115.0px)"></i><i style="left:105px;width:1px;background:linear-gradient(#a86498 0.0px,#9370aa 14.0px,#8470a6 17.5px,#6d5991 21.5px,#5c4c7d 28.5px,#836fa5 32.5px,#9470aa 34.5px,#ad5f91 37.5px,#c15079 43.0px,#de5f51 49.5px,#f08440 52.0px,#fbbe53 56.0px,#fcd161 58.0px,#fde378 63.5px,#fee786 77.0px,#fde683 77.5px,#f6cd64 78.0px,#e39450 78.5px,#b8596f 79.0px,#8268a0 79.5px,#644683 80.0px,#51396f 80.5px,#574377 115.0px)"></i><i style="left:106px;width:1px;background:linear-gradient(#8c70a8 0.0px,#8470a6 15.5px,#6f5b93 21.5px,#6d5991 28.0px,#816da4 30.0px,#966fa8 32.0px,#bf517b 36.0px,#e1624d 40.0px,#f08440 48.0px,#f6a547 51.5px,#fdd767 57.5px,#fde47d 77.0px,#f8d267 77.5px,#e79f4f 78.0px,#c25b5d 78.5px,#85639a 79.0px,#554676 79.5px,#493265 80.0px,#433260 80.5px,#453361 91.5px,#5f4a7f 115.0px)"></i><i style="left:107px;width:1px;background:linear-gradient(#9c6ba3 0.0px,#836fa5 28.0px,#9370aa 30.0px,#c0507a 34.5px,#e1624d 37.5px,#eb7944 41.0px,#f08540 47.0px,#f28d42 49.5px,#f9b34e 53.0px,#fcd464 57.5px,#fde172 63.5px,#fee682 76.5px,#fadc6f 77.0px,#edb156 77.5px,#d06e54 78.0px,#975d91 78.5px,#645287 79.0px,#573976 79.5px,#4b3769 80.0px,#665085 115.0px)"></i><i style="left:108px;width:1px;background:linear-gradient(#ab6295 0.0px,#9470aa 13.0px,#8470a6 18.0px,#78649b 21.0px,#756198 28.0px,#8570a6 29.5px,#9470aa 31.0px,#be517c 35.5px,#d25962 37.5px,#e0614e 40.5px,#e87347 49.0px,#ef8241 50.5px,#fcca5a 57.5px,#fddd6d 63.0px,#fee889 76.0px,#fce47f 76.5px,#f3c35f 77.0px,#dc8551 77.5px,#ab5684 78.0px,#7c689e 78.5px,#74498f 79.0px,#5c437a 79.5px,#71528d 99.0px,#695389 115.0px)"></i><i style="left:109px;width:1px;background:linear-gradient(#986ea7 0.0px,#9170a9 13.0px,#8570a6 18.0px,#79659c 28.0px,#8570a6 29.0px,#976ea7 31.0px,#c05079 35.5px,#d05864 37.0px,#df5f4f 40.0px,#ea7645 49.0px,#ef8241 50.0px,#fccf5f 57.0px,#fde173 63.0px,#fee98a 75.5px,#fde787 76.0px,#f5cc65 76.5px,#e29452 77.0px,#b95c73 77.5px,#866ca4 78.0px,#684f87 78.5px,#5d437b 79.0px,#785a94 115.0px)"></i><i style="left:110px;width:1px;background:linear-gradient(#725e96 0.0px,#79659c 13.0px,#5d4c7d 21.0px,#554675 28.0px,#8470a6 33.0px,#9470aa 35.0px,#a3679c 37.0px,#b35b8a 45.5px,#c35176 49.5px,#e0614e 52.0px,#ee7f42 54.0px,#f8b04c 57.0px,#fccb5b 60.5px,#fdd969 63.0px,#fee887 75.5px,#f7d46a 76.0px,#e7a153 76.5px,#c56061 77.0px,#8d689f 77.5px,#635285 78.0px,#5d417b 78.5px,#604b80 115.0px)"></i><i style="left:111px;width:1px;background:linear-gradient(#655287 0.0px,#645286 12.5px,#504170 20.5px,#504170 28.0px,#826ea4 33.0px,#9470aa 35.0px,#a4669c 37.0px,#c25177 48.0px,#e1624d 51.0px,#f18741 53.5px,#f9b64f 56.5px,#fcca5a 59.0px,#fdde6e 63.0px,#fee98d 75.0px,#fade73 75.5px,#edb35a 76.0px,#d2735a 76.5px,#9e6396 77.0px,#715e93 77.5px,#6b4989 78.0px,#5f477e 78.5px,#4d3c6b 115.0px)"></i><i style="left:112px;width:1px;background:linear-gradient(#9270aa 0.0px,#9170a9 12.5px,#766299 27.5px,#8470a6 29.0px,#966fa8 31.0px,#c35176 36.0px,#de5f51 41.0px,#e87147 48.5px,#ef8241 50.0px,#fcce5e 57.0px,#fde071 63.0px,#fee888 74.5px,#fce47f 75.0px,#f2c35f 75.5px,#db8552 76.0px,#aa5683 76.5px,#7a669d 77.0px,#72488d 77.5px,#5a4278 78.0px,#695288 100.5px,#614c82 115.0px)"></i><i style="left:113px;width:1px;background:linear-gradient(#9c6ba3 0.0px,#a2679d 12.5px,#9470aa 19.0px,#8770a7 27.5px,#956fa9 29.5px,#c0507a 34.5px,#df604f 38.5px,#ea7645 48.5px,#f08540 50.0px,#fcc557 57.0px,#fdda6a 63.0px,#fee683 74.5px,#f9d76c 75.0px,#e9a855 75.5px,#c9665b 76.0px,#916399 76.5px,#645286 77.0px,#5c3f7b 77.5px,#553f74 78.0px,#70588f 102.0px,#675288 115.0px)"></i><i style="left:114px;width:1px;background:linear-gradient(#8770a7 0.0px,#9270aa 12.5px,#836fa5 19.0px,#6c5990 27.5px,#836fa6 30.0px,#966fa8 32.5px,#bf517c 39.0px,#ce5767 44.5px,#de5f50 48.5px,#f18841 51.5px,#fccc5c 57.0px,#fde071 62.5px,#fee888 74.5px,#f7d46b 75.0px,#e6a154 75.5px,#c46062 76.0px,#8d689f 76.5px,#645285 77.0px,#5e427c 77.5px,#604b80 100.5px,#524171 115.0px)"></i><i style="left:115px;width:1px;background:linear-gradient(#8a70a8 0.0px,#8470a6 14.0px,#625184 20.5px,#504170 27.5px,#836fa5 35.0px,#9470aa 40.5px,#aa6396 47.0px,#b15c8d 48.5px,#c45275 50.0px,#e1634d 52.0px,#f18841 54.0px,#f9b64f 56.5px,#fccc5c 59.0px,#fde070 63.0px,#fee98b 74.5px,#f7d36b 75.0px,#e6a054 75.5px,#c36165 76.0px,#8d6aa2 76.5px,#665487 77.0px,#60457f 77.5px,#4f3e6d 115.0px)"></i><i style="left:116px;width:1px;background:linear-gradient(#ac6194 0.0px,#9370aa 13.0px,#836fa5 16.5px,#6e5a92 20.5px,#635185 27.5px,#826ea4 30.5px,#9270aa 32.5px,#b45a89 36.5px,#c8546f 43.5px,#e0604f 49.0px,#f08540 51.5px,#fcc657 56.0px,#fcd363 58.0px,#fee681 64.0px,#feec93 74.0px,#feeb93 74.5px,#f7d56d 75.0px,#e7a357 75.5px,#c86466 76.0px,#946da4 76.5px,#6f5c8f 77.0px,#6d4c8a 77.5px,#544174 96.0px,#594679 115.0px)"></i><i style="left:117px;width:1px;background:linear-gradient(#c05079 0.0px,#9370aa 14.0px,#836fa5 17.5px,#756198 20.5px,#715d95 27.5px,#836fa5 29.0px,#966fa8 31.0px,#c15079 35.5px,#cf5865 37.0px,#e0604e 40.0px,#ef8241 49.0px,#f8b04c 52.5px,#fdd666 56.5px,#fee681 62.5px,#feeb92 74.0px,#feea90 74.5px,#f7d36b 75.0px,#e69f56 75.5px,#c3636b 76.0px,#916ea6 76.5px,#6d5a8d 77.0px,#6b4c88 77.5px,#5b487b 115.0px)"></i><i style="left:118px;width:1px;background:linear-gradient(#ad6092 0.0px,#9470aa 9.5px,#8570a6 16.0px,#78649b 20.5px,#836fa5 27.5px,#976ea7 29.5px,#c35177 33.5px,#e2644c 36.0px,#f08640 39.5px,#f7aa49 49.0px,#fcce5e 52.5px,#fde47d 56.5px,#fee98c 62.5px,#feeb93 74.0px,#feea91 74.5px,#f6d16a 75.0px,#e59d56 75.5px,#c1626f 76.0px,#906fa8 76.5px,#6e5a8d 77.0px,#6c4d89 77.5px,#765892 100.0px,#725b92 104.0px,#574577 115.0px)"></i><i style="left:119px;width:1px;background:linear-gradient(#976ea7 0.0px,#8f70a9 12.5px,#78649b 20.5px,#7c689f 27.5px,#966fa8 30.0px,#bf517b 34.0px,#df5f50 36.5px,#f08540 42.0px,#f59b45 48.5px,#fcc959 52.5px,#fde071 56.5px,#fee785 62.5px,#feea8e 74.0px,#fde88b 74.5px,#f5cd67 75.0px,#e29655 75.5px,#ba5e74 76.0px,#896ea6 76.5px,#6a558a 77.0px,#644983 77.5px,#6c568c 103.0px,#645086 115.0px)"></i><svg style="position:absolute;left:0;top:0" width="120" height="115"><path fill="#87a" d="M0 0h1v2h-1zM0 6h1v2h-1zM10 38h1v2h-1zM14 34h1v2h-1zM16 36h1v2h-1zM23 34h1v2h-1zM50 36h1v2h-1zM52 44h1v2h-1zM55 4h1v2h-1zM56 36h1v2h-1zM61 38h1v2h-1zM62 40h1v2h-1zM69 36h1v2h-1zM74 30h1v2h-1zM80 36h1v2h-1zM81 4h1v2h-1zM88 10h1v2h-1zM95 6h1v2h-1zM97 38h1v2h-1zM98 38h1v2h-1zM100 42h1v2h-1zM104 8h1v4h-1zM116 2h1v4h-1zM117 32h1v2h-1zM118 30h1v4h-1zM119 32h1v2h-1z"/><path fill="#97a" d="M0 2h1v2h-1zM11 32h1v2h-1zM21 38h1v2h-1zM101 48h1v2h-1zM111 44h1v2h-1zM113 32h1v2h-1zM115 48h1v2h-1z"/><path fill="#769" d="M0 10h1v2h-1zM17 40h1v2h-1zM18 42h1v2h-1zM28 42h1v2h-1zM32 4h1v2h-1zM54 0h1v2h-1zM63 34h1v2h-1zM64 4h1v2h-1zM64 14h1v2h-1zM74 2h1v2h-1zM74 34h1v2h-1zM75 34h1v2h-1zM79 28h1v2h-1zM81 82h1v2h-1zM88 32h1v2h-1zM92 6h1v2h-1zM95 10h1v2h-1zM111 36h1v2h-1zM111 76h1v2h-1zM116 8h1v2h-1zM118 0h1v2h-1zM118 10h1v2h-1z"/><path fill="#b58" d="M0 12h1v2h-1zM3 30h1v2h-1zM9 48h1v2h-1zM11 46h1v2h-1zM13 12h1v2h-1zM14 40h1v2h-1zM23 40h1v2h-1zM28 48h1v2h-1zM36 36h1v2h-1zM44 34h1v2h-1zM57 34h1v2h-1zM57 48h1v2h-1zM67 36h1v2h-1zM69 34h1v2h-1zM70 8h1v4h-1zM73 80h1v2h-1zM74 40h1v2h-1zM76 34h1v2h-1zM80 34h1v2h-1zM80 82h1v2h-1zM84 40h1v2h-1zM85 4h1v2h-1zM85 42h1v4h-1zM86 40h1v2h-1zM87 40h1v2h-1zM89 38h1v2h-1zM91 38h1v2h-1zM92 44h1v2h-1zM95 0h1v2h-1zM95 40h1v4h-1zM104 12h1v2h-1zM104 52h1v2h-1zM107 2h1v4h-1zM113 4h1v2h-1zM114 32h1v2h-1zM117 44h1v2h-1zM119 2h1v2h-1zM119 30h1v2h-1z"/><path fill="#d64" d="M0 36h1v2h-1zM5 44h1v2h-1zM7 38h1v2h-1zM7 52h1v2h-1zM12 36h1v2h-1zM25 34h1v2h-1zM27 50h1v2h-1zM29 40h1v2h-1zM33 48h1v2h-1zM35 52h1v2h-1zM44 78h1v2h-1zM52 54h1v2h-1zM54 50h1v2h-1zM59 52h1v2h-1zM71 48h1v2h-1zM72 50h1v2h-1zM75 48h1v2h-1zM80 50h1v2h-1zM85 38h1v2h-1zM88 42h1v2h-1zM89 36h1v2h-1zM93 38h1v2h-1zM97 44h1v2h-1zM98 46h1v2h-1zM98 54h1v2h-1zM101 42h1v2h-1zM111 48h1v2h-1zM112 36h1v2h-1z"/><path fill="#c56" d="M0 40h1v2h-1zM2 44h1v2h-1zM4 44h1v2h-1zM5 50h1v2h-1zM14 44h1v2h-1zM25 38h1v2h-1zM30 48h1v2h-1zM36 48h1v2h-1zM41 44h1v2h-1zM42 40h1v2h-1zM49 40h1v2h-1zM55 46h1v2h-1zM58 36h1v2h-1zM63 44h1v2h-1zM64 32h1v2h-1zM66 46h1v2h-1zM76 36h1v2h-1zM76 42h1v4h-1zM77 52h1v2h-1zM80 46h1v2h-1zM83 44h1v2h-1zM84 42h1v2h-1zM94 44h1v2h-1zM100 44h1v2h-1zM102 42h1v2h-1zM105 2h1v2h-1zM106 32h1v2h-1zM107 44h1v2h-1zM108 0h1v2h-1zM109 46h1v2h-1zM116 50h1v2h-1z"/><path fill="#d55" d="M0 42h1v2h-1zM5 32h1v2h-1zM8 42h1v2h-1zM9 42h1v2h-1zM20 36h1v2h-1zM26 38h1v2h-1zM39 52h1v2h-1zM60 44h1v2h-1zM63 50h1v2h-1zM77 50h1v2h-1zM79 48h1v2h-1zM81 14h1v2h-1zM82 36h1v2h-1zM87 42h1v2h-1zM88 8h1v2h-1zM89 42h1v2h-1zM89 48h1v2h-1zM94 34h1v2h-1zM96 40h1v2h-1zM100 50h1v2h-1zM101 50h1v2h-1zM106 34h1v2h-1zM117 48h1v2h-1z"/><path fill="#fa5" d="M0 44h1v2h-1zM13 52h1v2h-1zM16 58h1v2h-1zM74 46h1v2h-1zM74 56h1v2h-1zM75 56h1v2h-1zM106 48h1v2h-1z"/><path fill="#fe8" d="M0 52h1v2h-1zM4 54h1v2h-1zM13 56h1v2h-1zM15 52h1v2h-1zM19 60h1v2h-1zM26 80h1v2h-1zM35 60h1v2h-1zM37 58h1v2h-1zM51 58h1v2h-1zM58 54h1v2h-1zM59 58h1v2h-1zM63 56h1v2h-1zM71 60h1v2h-1zM89 56h1v2h-1zM90 56h1v2h-1zM99 64h1v2h-1zM105 54h1v2h-1z"/><path fill="#fea" d="M0 68h1v2h-1zM1 54h1v2h-1zM3 66h1v2h-1zM5 64h1v2h-1zM6 70h1v2h-1zM8 64h1v4h-1zM14 62h1v2h-1zM14 68h1v2h-1zM15 56h1v2h-1zM15 60h1v2h-1zM18 70h1v2h-1zM21 62h1v2h-1zM22 66h1v2h-1zM26 78h1v2h-1zM29 64h1v2h-1zM30 68h1v2h-1zM34 64h1v2h-1zM37 70h1v2h-1zM40 64h1v2h-1zM43 56h1v2h-1zM46 72h1v2h-1zM48 70h1v2h-1zM49 66h1v2h-1zM49 72h1v2h-1zM51 72h1v2h-1zM53 62h1v2h-1zM57 78h1v2h-1zM58 78h1v2h-1zM62 66h1v2h-1zM63 74h1v2h-1zM64 68h1v2h-1zM66 70h1v2h-1zM67 74h1v2h-1zM68 64h1v2h-1zM69 64h1v2h-1zM69 78h1v2h-1zM70 72h1v2h-1zM70 78h1v2h-1zM72 72h1v2h-1zM76 70h1v2h-1zM76 80h1v2h-1zM77 78h1v2h-1zM79 74h1v2h-1zM80 62h1v2h-1zM82 74h1v2h-1zM84 64h1v2h-1zM84 74h1v2h-1zM84 80h1v2h-1zM86 70h1v2h-1zM88 62h1v2h-1zM89 68h1v2h-1zM89 80h1v2h-1zM91 74h1v2h-1zM92 76h1v2h-1zM92 80h1v2h-1zM93 68h1v2h-1zM96 62h1v2h-1zM98 74h1v2h-1zM101 74h1v2h-1zM102 68h1v2h-1zM103 66h1v2h-1zM106 58h1v2h-1zM106 64h1v2h-1zM106 74h1v2h-1zM109 68h1v2h-1zM110 62h1v2h-1zM112 70h1v2h-1zM114 64h1v2h-1zM116 68h1v2h-1zM117 62h1v2h-1z"/><path fill="#fa4" d="M0 74h1v2h-1zM1 44h1v2h-1zM2 48h1v2h-1zM3 38h1v2h-1zM4 48h1v2h-1zM12 50h1v2h-1zM20 50h1v2h-1zM20 56h1v2h-1zM26 58h1v2h-1zM28 80h1v2h-1zM29 56h1v2h-1zM33 46h1v2h-1zM33 54h1v2h-1zM42 42h1v2h-1zM52 60h1v2h-1zM60 80h1v2h-1zM65 58h1v2h-1zM68 46h1v2h-1zM75 44h1v2h-1zM79 56h1v2h-1zM81 46h1v2h-1zM87 46h1v2h-1zM94 50h1v2h-1zM94 56h1v2h-1zM95 46h1v2h-1zM95 50h1v2h-1zM96 58h1v2h-1zM100 56h1v2h-1zM117 46h1v2h-1z"/><path fill="#527" d="M0 82h1v2h-1zM0 100h1v2h-1zM3 80h1v2h-1zM3 96h1v2h-1zM11 106h1v2h-1zM14 90h1v2h-1zM30 84h1v2h-1zM44 98h1v2h-1zM59 84h1v2h-1zM66 106h1v2h-1zM76 96h1v2h-1zM77 94h1v2h-1z"/><path fill="#637" d="M0 94h1v2h-1zM1 88h1v2h-1zM1 106h1v2h-1zM4 110h1v2h-1zM8 110h1v2h-1zM13 106h1v2h-1zM19 80h1v2h-1zM24 94h1v2h-1zM26 98h1v2h-1zM29 114h1v2h-1zM31 90h1v2h-1zM42 80h1v2h-1zM42 106h1v2h-1zM42 110h1v2h-1zM46 102h1v2h-1zM46 114h1v2h-1zM51 100h1v2h-1zM52 84h1v2h-1zM53 94h1v2h-1zM55 110h1v2h-1zM57 92h1v2h-1zM57 112h1v2h-1zM59 86h1v2h-1zM59 98h1v2h-1zM65 104h1v2h-1zM74 82h1v2h-1zM87 86h1v2h-1z"/><path fill="#627" d="M0 102h1v2h-1zM1 86h1v2h-1zM2 98h1v2h-1zM3 100h1v2h-1zM9 102h1v2h-1zM12 108h1v2h-1zM12 114h1v2h-1zM15 88h1v2h-1zM22 100h1v2h-1zM23 82h1v2h-1zM27 98h1v2h-1zM32 108h1v2h-1zM34 96h1v2h-1zM34 106h1v2h-1zM39 94h1v2h-1zM43 84h1v2h-1zM43 98h1v2h-1zM44 80h1v2h-1zM49 98h1v2h-1zM54 84h1v2h-1zM59 102h1v2h-1zM62 98h1v2h-1zM66 86h1v2h-1z"/><path fill="#112" d="M0 112h1v2h-1zM5 86h1v2h-1zM10 78h1v2h-1zM10 92h1v2h-1zM14 80h1v2h-1zM16 100h1v2h-1zM26 92h1v2h-1zM30 88h1v2h-1zM30 94h1v2h-1zM31 98h1v4h-1zM32 110h1v2h-1zM34 104h1v2h-1zM37 88h1v2h-1zM37 106h1v2h-1zM37 110h1v4h-1zM38 92h1v2h-1zM42 114h1v2h-1zM43 100h1v2h-1zM44 82h1v2h-1zM45 108h1v2h-1zM47 114h1v2h-1zM48 90h1v2h-1zM50 82h1v2h-1zM50 110h1v2h-1zM53 108h1v2h-1zM59 100h1v2h-1zM60 84h1v2h-1zM69 92h1v4h-1zM70 82h1v2h-1zM70 98h1v2h-1zM71 98h1v2h-1zM72 110h1v4h-1zM73 88h1v2h-1zM75 104h1v2h-1zM78 100h1v2h-1z"/><path fill="#759" d="M1 32h1v2h-1zM22 32h1v2h-1zM101 114h1v2h-1zM102 96h1v2h-1zM102 114h1v2h-1zM105 100h1v2h-1zM105 112h1v2h-1zM109 6h1v2h-1zM110 90h1v2h-1z"/><path fill="#d65" d="M1 36h1v2h-1zM28 46h1v2h-1zM33 32h1v2h-1zM33 44h1v2h-1zM34 48h1v2h-1zM35 44h1v2h-1zM37 36h1v2h-1zM47 46h1v2h-1zM55 50h1v2h-1zM56 38h1v2h-1zM69 38h1v2h-1zM71 46h1v2h-1zM74 36h1v2h-1zM85 10h1v2h-1zM88 44h1v4h-1zM90 34h1v2h-1zM93 36h1v2h-1zM94 46h1v2h-1zM99 36h1v2h-1zM99 56h1v2h-1zM101 40h1v2h-1zM103 50h1v2h-1zM104 42h1v4h-1zM113 34h1v2h-1zM119 44h1v2h-1z"/><path fill="#e84" d="M1 38h1v2h-1zM6 36h1v2h-1zM8 54h1v2h-1zM10 50h1v2h-1zM11 44h1v2h-1zM21 56h1v2h-1zM30 42h1v2h-1zM30 52h1v2h-1zM32 44h1v4h-1zM34 40h1v2h-1zM34 52h1v2h-1zM35 54h1v2h-1zM36 54h1v2h-1zM37 42h1v2h-1zM48 42h1v2h-1zM48 46h1v2h-1zM49 48h1v2h-1zM51 50h1v2h-1zM57 54h1v2h-1zM58 46h1v2h-1zM60 52h1v2h-1zM76 40h1v2h-1zM80 42h1v2h-1zM81 38h1v4h-1zM82 40h1v2h-1zM88 38h1v2h-1zM100 54h1v2h-1zM106 36h1v2h-1zM109 52h1v2h-1zM110 50h1v2h-1zM112 40h1v4h-1zM112 46h1v2h-1zM114 52h1v2h-1zM116 44h1v2h-1z"/><path fill="#e64" d="M1 74h1v2h-1zM41 38h1v2h-1zM63 36h1v2h-1zM64 46h1v2h-1zM81 10h1v2h-1z"/><path fill="#e74" d="M2 38h1v2h-1zM3 48h1v2h-1zM3 74h1v2h-1zM11 40h1v2h-1zM12 42h1v2h-1zM12 46h1v2h-1zM13 40h1v2h-1zM15 34h1v2h-1zM18 54h1v2h-1zM19 48h1v2h-1zM25 46h1v2h-1zM26 46h1v2h-1zM33 50h1v2h-1zM36 44h1v2h-1zM40 38h1v2h-1zM43 36h1v2h-1zM43 48h1v2h-1zM45 44h1v2h-1zM47 52h1v2h-1zM50 40h1v2h-1zM53 44h1v2h-1zM53 48h1v2h-1zM53 54h1v2h-1zM55 80h1v2h-1zM58 40h1v2h-1zM63 38h1v2h-1zM63 52h1v2h-1zM66 56h1v2h-1zM67 48h1v2h-1zM70 48h1v2h-1zM73 42h1v2h-1zM78 40h1v2h-1zM79 42h1v2h-1zM81 34h1v2h-1zM89 50h1v2h-1zM91 40h1v2h-1zM91 44h1v2h-1zM95 52h1v2h-1zM97 54h1v2h-1zM99 42h1v2h-1zM99 50h1v2h-1zM104 48h1v2h-1zM107 36h1v2h-1zM110 48h1v2h-1zM110 54h1v2h-1zM111 42h1v2h-1zM114 44h1v2h-1zM115 54h1v2h-1zM117 4h1v2h-1zM117 34h1v2h-1zM117 50h1v2h-1zM119 46h1v2h-1z"/><path fill="#ea4" d="M2 52h1v2h-1zM39 44h1v2h-1zM41 46h1v2h-1zM54 44h1v2h-1zM59 56h1v2h-1zM67 40h1v2h-1zM68 42h1v2h-1zM85 50h1v2h-1zM87 54h1v2h-1zM88 36h1v2h-1zM107 48h1v2h-1z"/><path fill="#546" d="M2 104h1v2h-1zM46 84h1v2h-1zM109 96h1v2h-1zM113 98h1v2h-1z"/><path fill="#fb5" d="M3 36h1v2h-1zM3 44h1v2h-1zM8 58h1v2h-1zM8 62h1v2h-1zM10 54h1v2h-1zM14 50h1v2h-1zM20 42h1v2h-1zM21 66h1v2h-1zM32 48h1v4h-1zM36 52h1v2h-1zM36 58h1v2h-1zM45 42h1v2h-1zM48 50h1v2h-1zM50 58h1v2h-1zM51 54h1v2h-1zM51 60h1v2h-1zM52 62h1v2h-1zM57 52h1v2h-1zM58 52h1v2h-1zM63 48h1v2h-1zM64 44h1v2h-1zM64 48h1v2h-1zM64 80h1v2h-1zM67 50h1v2h-1zM74 80h1v2h-1zM76 58h1v2h-1zM78 58h1v4h-1zM83 54h1v2h-1zM83 60h1v2h-1zM90 42h1v2h-1zM92 48h1v4h-1zM93 44h1v2h-1zM93 60h1v2h-1zM95 58h1v2h-1zM98 56h1v2h-1zM98 62h1v2h-1zM103 60h1v2h-1zM107 58h1v2h-1zM109 58h1v2h-1zM116 58h1v2h-1z"/><path fill="#102" d="M3 104h1v2h-1zM4 94h1v2h-1zM5 78h1v2h-1zM7 88h1v2h-1zM9 92h1v2h-1zM10 84h1v2h-1zM10 114h1v2h-1zM12 98h1v2h-1zM20 98h1v2h-1zM22 86h1v2h-1zM27 104h1v2h-1zM28 110h1v2h-1zM30 104h1v2h-1zM34 110h1v2h-1zM35 88h1v2h-1zM37 80h1v2h-1zM38 84h1v2h-1zM39 104h1v2h-1zM39 110h1v2h-1zM45 104h1v2h-1zM48 94h1v2h-1zM50 102h1v2h-1zM59 110h1v2h-1zM61 88h1v2h-1zM61 114h1v2h-1zM62 102h1v2h-1zM62 106h1v2h-1zM71 94h1v2h-1zM71 102h1v2h-1zM73 90h1v2h-1zM77 86h1v2h-1z"/><path fill="#c57" d="M4 32h1v2h-1zM4 46h1v2h-1zM14 42h1v2h-1zM30 36h1v2h-1zM32 34h1v2h-1zM34 44h1v2h-1zM40 42h1v2h-1zM41 34h1v2h-1zM41 42h1v2h-1zM45 36h1v2h-1zM49 32h1v2h-1zM65 34h1v2h-1zM67 44h1v2h-1zM82 42h1v4h-1zM95 48h1v2h-1zM100 46h1v2h-1zM117 40h1v4h-1z"/><path fill="#fc5" d="M4 50h1v2h-1zM5 54h1v2h-1zM6 48h1v2h-1zM9 66h1v2h-1zM12 62h1v2h-1zM18 52h1v2h-1zM18 68h1v2h-1zM19 54h1v2h-1zM19 64h1v2h-1zM26 68h1v2h-1zM38 66h1v2h-1zM42 60h1v2h-1zM45 78h1v2h-1zM51 62h1v2h-1zM60 54h1v2h-1zM63 60h1v2h-1zM64 50h1v2h-1zM69 60h1v2h-1zM71 64h1v2h-1zM76 64h1v2h-1zM83 64h1v2h-1zM88 50h1v2h-1zM90 62h1v2h-1zM91 58h1v2h-1zM93 62h1v2h-1zM95 60h1v2h-1zM97 62h1v2h-1zM99 76h1v2h-1zM100 68h1v2h-1zM102 54h1v2h-1zM108 66h1v2h-1zM117 68h1v2h-1z"/><path fill="#fc6" d="M4 72h1v2h-1zM5 74h1v2h-1zM10 56h1v2h-1zM12 54h1v2h-1zM31 64h1v2h-1zM35 70h1v2h-1zM44 38h1v2h-1zM58 76h1v2h-1zM59 74h1v2h-1zM62 78h1v2h-1zM64 42h1v2h-1zM64 70h1v2h-1zM67 66h1v2h-1zM70 66h1v2h-1zM83 76h1v2h-1zM86 66h1v4h-1zM90 72h1v2h-1zM96 56h1v2h-1zM98 58h1v2h-1zM98 78h1v2h-1zM105 70h1v4h-1zM107 70h1v2h-1zM119 70h1v2h-1z"/><path fill="#101" d="M4 88h1v2h-1zM5 82h1v2h-1zM6 82h1v2h-1zM8 84h1v4h-1zM8 108h1v2h-1zM18 100h1v2h-1zM19 82h1v2h-1zM28 94h1v2h-1zM48 102h1v2h-1z"/><path fill="#969" d="M5 36h1v2h-1zM48 38h1v2h-1zM57 38h1v2h-1zM77 34h1v2h-1zM83 48h1v2h-1zM86 48h1v2h-1zM88 34h1v2h-1zM90 82h1v2h-1zM97 46h1v2h-1zM102 6h1v2h-1zM105 40h1v2h-1zM109 34h1v2h-1z"/><path fill="#113" d="M5 114h1v2h-1zM6 78h1v2h-1zM9 106h1v2h-1zM21 90h1v2h-1zM24 98h1v2h-1zM25 88h1v2h-1zM28 84h1v2h-1zM29 84h1v2h-1zM33 114h1v2h-1zM34 86h1v2h-1zM44 102h1v2h-1zM46 92h1v2h-1zM47 92h1v2h-1zM50 84h1v2h-1zM50 88h1v2h-1zM50 96h1v2h-1zM54 112h1v2h-1zM57 100h1v2h-1zM68 92h1v2h-1z"/><path fill="#b57" d="M6 32h1v2h-1zM16 34h1v2h-1zM22 50h1v2h-1zM26 50h1v2h-1zM28 38h1v2h-1zM29 52h1v2h-1zM35 38h1v2h-1zM37 44h1v2h-1zM41 40h1v2h-1zM42 38h1v2h-1zM43 40h1v2h-1zM49 46h1v2h-1zM55 10h1v2h-1zM55 32h1v2h-1zM57 42h1v2h-1zM66 44h1v2h-1zM70 52h1v2h-1zM81 22h1v2h-1zM82 6h1v2h-1zM97 36h1v2h-1zM99 54h1v2h-1zM104 4h1v2h-1zM108 4h1v2h-1zM109 32h1v2h-1zM113 36h1v6h-1zM117 6h1v2h-1z"/><path fill="#e94" d="M6 42h1v2h-1zM7 48h1v2h-1zM16 56h1v2h-1zM17 56h1v2h-1zM20 44h1v2h-1zM22 44h1v2h-1zM22 52h1v2h-1zM25 50h1v2h-1zM26 56h1v2h-1zM28 52h1v2h-1zM29 50h1v2h-1zM30 44h1v2h-1zM32 54h1v2h-1zM33 40h1v2h-1zM50 46h1v2h-1zM53 46h1v2h-1zM55 40h1v2h-1zM56 42h1v2h-1zM56 58h1v2h-1zM60 50h1v2h-1zM63 54h1v2h-1zM64 40h1v2h-1zM68 52h1v2h-1zM69 48h1v2h-1zM74 42h1v2h-1zM75 80h1v2h-1zM76 48h1v2h-1zM76 56h1v2h-1zM79 54h1v2h-1zM83 50h1v2h-1zM84 52h1v2h-1zM86 46h1v2h-1zM86 50h1v2h-1zM89 40h1v2h-1zM92 46h1v2h-1zM92 52h1v2h-1zM96 48h1v2h-1zM100 60h1v2h-1zM106 44h1v2h-1zM108 44h1v2h-1zM108 48h1v2h-1zM110 58h1v2h-1zM112 48h1v2h-1zM112 54h1v2h-1zM119 38h1v4h-1z"/><path fill="#fd6" d="M6 50h1v2h-1zM21 76h1v2h-1zM24 68h1v2h-1zM25 64h1v2h-1zM38 56h1v2h-1zM43 68h1v2h-1zM45 52h1v2h-1zM47 54h1v2h-1zM67 78h1v2h-1zM73 58h1v2h-1zM74 54h1v2h-1zM75 50h1v2h-1zM84 54h1v2h-1zM104 76h1v2h-1zM107 54h1v2h-1zM117 70h1v2h-1z"/><path fill="#213" d="M6 100h1v2h-1zM13 104h1v2h-1zM15 100h1v2h-1zM24 82h1v2h-1zM24 86h1v2h-1zM25 92h1v2h-1zM33 88h1v2h-1zM43 80h1v2h-1zM43 106h1v2h-1zM46 90h1v2h-1zM46 98h1v2h-1zM57 94h1v2h-1zM57 102h1v2h-1zM58 112h1v2h-1zM64 104h1v2h-1zM67 96h1v2h-1zM68 84h1v2h-1zM76 90h1v4h-1zM76 100h1v2h-1zM77 114h1v2h-1zM80 90h1v4h-1zM80 96h1v2h-1zM83 104h1v2h-1zM84 92h1v2h-1zM86 110h1v2h-1zM98 82h1v2h-1z"/><path fill="#547" d="M6 110h1v2h-1zM15 86h1v2h-1zM16 46h1v2h-1zM24 92h1v2h-1zM24 96h1v2h-1zM32 98h1v2h-1zM38 12h1v2h-1zM47 110h1v2h-1zM48 114h1v2h-1zM50 104h1v2h-1zM55 90h1v2h-1zM56 98h1v2h-1zM110 36h1v2h-1zM112 4h1v2h-1z"/><path fill="#a68" d="M7 46h1v2h-1zM9 46h1v2h-1zM10 48h1v2h-1zM49 38h1v2h-1zM70 46h1v2h-1zM92 8h1v2h-1z"/><path fill="#658" d="M8 76h1v2h-1zM15 8h1v2h-1zM33 8h1v2h-1zM34 34h1v2h-1zM52 80h1v2h-1zM65 8h1v2h-1zM71 8h1v4h-1zM85 18h1v2h-1zM104 32h1v2h-1zM118 8h1v2h-1z"/><path fill="#415" d="M8 90h1v2h-1zM8 114h1v2h-1zM36 80h1v2h-1zM36 86h1v2h-1zM36 92h1v2h-1zM36 102h1v2h-1zM39 90h1v2h-1zM41 102h1v2h-1zM65 88h1v2h-1z"/><path fill="#96a" d="M10 44h1v2h-1zM12 40h1v2h-1zM19 40h1v2h-1zM46 34h1v2h-1zM54 20h1v2h-1zM66 34h1v2h-1zM71 44h1v2h-1zM85 24h1v2h-1zM99 40h1v2h-1zM99 52h1v2h-1zM103 40h1v2h-1zM107 32h1v2h-1zM115 52h1v2h-1zM116 36h1v2h-1z"/><path fill="#426" d="M11 82h1v2h-1zM17 84h1v2h-1zM20 110h1v2h-1zM29 108h1v2h-1zM40 84h1v2h-1zM40 92h1v2h-1zM42 98h1v2h-1zM72 102h1v2h-1zM77 24h1v2h-1z"/><path fill="#a58" d="M12 38h1v2h-1zM31 44h1v2h-1zM65 46h1v2h-1zM83 82h1v2h-1zM84 38h1v2h-1zM97 48h1v2h-1zM103 44h1v2h-1zM115 40h1v2h-1z"/><path fill="#a69" d="M12 44h1v2h-1zM13 38h1v2h-1zM20 40h1v2h-1zM23 36h1v2h-1zM24 40h1v2h-1zM25 8h1v2h-1zM26 44h1v2h-1zM31 2h1v2h-1zM31 34h1v2h-1zM31 50h1v2h-1zM34 42h1v2h-1zM41 36h1v2h-1zM56 46h1v2h-1zM59 48h1v2h-1zM62 44h1v2h-1zM66 36h1v2h-1zM68 36h1v2h-1zM73 44h1v2h-1zM73 48h1v2h-1zM77 44h1v2h-1zM86 12h1v2h-1zM87 38h1v2h-1zM91 34h1v2h-1zM97 42h1v2h-1zM101 44h1v2h-1zM114 42h1v2h-1zM116 48h1v2h-1zM118 34h1v2h-1zM119 34h1v2h-1z"/><path fill="#628" d="M12 80h1v2h-1zM13 82h1v2h-1zM47 96h1v2h-1z"/><path fill="#fd7" d="M15 46h1v2h-1zM23 52h1v2h-1zM25 80h1v2h-1zM52 58h1v2h-1zM73 60h1v2h-1zM86 58h1v2h-1zM108 56h1v4h-1z"/><path fill="#537" d="M15 112h1v2h-1zM32 96h1v2h-1zM67 106h1v2h-1zM84 102h1v2h-1z"/><path fill="#fe9" d="M16 62h1v2h-1zM24 54h1v2h-1zM36 60h1v2h-1zM40 56h1v2h-1zM52 66h1v2h-1zM83 62h1v2h-1zM85 58h1v2h-1zM92 56h1v2h-1zM101 62h1v2h-1zM111 60h1v2h-1z"/><path fill="#526" d="M17 110h1v2h-1zM20 90h1v2h-1zM20 112h1v2h-1zM23 96h1v2h-1zM27 112h1v2h-1zM37 96h1v2h-1zM41 106h1v2h-1zM49 100h1v2h-1zM63 108h1v2h-1zM65 112h1v2h-1zM66 90h1v2h-1zM71 114h1v2h-1zM114 104h1v2h-1z"/><path fill="#416" d="M35 106h1v2h-1z"/><path fill="#315" d="M41 96h1v2h-1z"/><path fill="#86a" d="M52 42h1v2h-1zM87 32h1v2h-1zM95 4h1v2h-1z"/><path fill="#738" d="M74 86h1v2h-1zM75 96h1v2h-1zM75 114h1v2h-1zM83 84h1v2h-1zM84 84h1v2h-1z"/><path fill="#638" d="M74 106h1v2h-1zM83 86h1v2h-1zM85 112h1v2h-1z"/><path fill="#647" d="M75 94h1v2h-1zM80 106h1v2h-1zM80 114h1v2h-1z"/><path fill="#212" d="M77 84h1v2h-1z"/><path fill="#324" d="M81 90h1v2h-1zM86 96h1v2h-1zM89 84h1v2h-1zM92 114h1v2h-1zM94 88h1v2h-1zM95 104h1v2h-1zM96 94h1v2h-1zM98 90h1v2h-1zM99 82h1v2h-1zM99 92h1v2h-1z"/><path fill="#d74" d="M82 82h1v2h-1z"/><path fill="#c55" d="M85 82h1v2h-1zM88 82h1v2h-1z"/><path fill="#648" d="M87 106h1v2h-1zM88 106h1v2h-1zM89 104h1v2h-1zM90 100h1v4h-1z"/><path fill="#224" d="M88 86h1v2h-1zM90 96h1v2h-1z"/><path fill="#748" d="M88 88h1v2h-1zM88 98h1v2h-1zM89 92h1v2h-1zM89 106h1v2h-1zM90 104h1v2h-1zM92 90h1v2h-1zM92 102h1v2h-1zM92 106h1v2h-1zM93 102h1v2h-1zM96 92h1v2h-1zM97 100h1v2h-1zM102 88h1v2h-1zM105 84h1v2h-1z"/><path fill="#869" d="M91 82h1v2h-1zM117 106h1v2h-1zM119 110h1v2h-1z"/><path fill="#747" d="M91 86h1v2h-1z"/><path fill="#325" d="M91 94h1v2h-1zM91 108h1v2h-1zM92 104h1v2h-1zM110 78h1v2h-1z"/><path fill="#314" d="M93 94h1v2h-1zM98 114h1v2h-1zM104 114h1v2h-1z"/><path fill="#848" d="M93 106h1v2h-1zM95 98h1v2h-1z"/><path fill="#436" d="M94 102h1v2h-1zM108 114h1v2h-1zM112 114h1v2h-1zM113 94h1v2h-1zM117 104h1v2h-1z"/><path fill="#ea5" d="M95 80h1v2h-1z"/><path fill="#435" d="M95 102h1v2h-1zM100 88h1v2h-1zM109 110h1v2h-1zM110 92h1v2h-1zM115 98h1v2h-1zM116 78h1v2h-1zM119 78h1v2h-1z"/><path fill="#859" d="M96 106h1v2h-1zM102 110h1v2h-1zM104 90h1v2h-1zM106 108h1v2h-1zM106 114h1v2h-1zM107 102h1v2h-1zM114 88h1v2h-1zM115 80h1v2h-1z"/><path fill="#858" d="M96 114h1v2h-1zM108 90h1v2h-1zM110 84h1v2h-1zM111 94h1v2h-1zM117 82h1v2h-1z"/><path fill="#335" d="M97 114h1v2h-1zM100 106h1v2h-1zM101 112h1v2h-1zM103 94h1v2h-1zM104 92h1v2h-1zM104 96h1v2h-1zM105 104h1v2h-1zM108 98h1v2h-1zM112 80h1v2h-1zM114 82h1v2h-1z"/><path fill="#659" d="M100 34h1v2h-1z"/><path fill="#758" d="M100 108h1v2h-1zM106 92h1v2h-1zM107 90h1v2h-1zM107 94h1v2h-1z"/><path fill="#425" d="M100 112h1v2h-1zM101 102h1v2h-1zM105 98h1v2h-1zM115 114h1v2h-1zM116 98h1v2h-1z"/><path fill="#849" d="M102 84h1v2h-1z"/><path fill="#958" d="M105 78h1v2h-1z"/><path fill="#959" d="M108 108h1v2h-1zM119 112h1v2h-1z"/><path fill="#ea6" d="M109 76h1v2h-1z"/><path fill="#a57" d="M110 76h1v2h-1z"/></svg></div></div><div class="hm" style="left:243px;top:3px;width:121px;height:116px"><div style="position:absolute;left:0;top:0;width:121px;height:116px;filter:blur(0.75px)"><i style="left:0px;width:1px;background:linear-gradient(#8570a6 0.0px,#715d95 5.0px,#504170 10.5px,#544574 29.0px,#836fa5 33.0px,#956fa9 34.5px,#bf517b 39.0px,#cf5865 41.0px,#de5f50 45.0px,#e4694b 49.0px,#f18741 53.5px,#fab950 57.0px,#fcd363 61.0px,#fde57f 77.0px,#feee9b 82.5px,#fde070 83.0px,#f59d46 83.5px,#b75785 84.0px,#554575 84.5px,#2d1344 85.0px,#28123e 92.0px,#35164e 116.0px)"></i><i style="left:1px;width:1px;background:linear-gradient(#6b588f 0.0px,#4c3e6c 8.5px,#583773 18.5px,#4e3f6e 29.0px,#5d4c7d 31.0px,#806ca2 33.5px,#9470aa 35.0px,#c15079 39.5px,#df5f4f 45.0px,#e4694a 49.0px,#f08540 53.5px,#f9b54e 57.0px,#fccf5f 61.0px,#fde071 72.0px,#feef9e 82.5px,#fde172 83.0px,#f59f46 83.5px,#b95683 84.0px,#584878 84.5px,#32154a 85.0px,#291240 85.5px,#301448 116.0px)"></i><i style="left:2px;width:1px;background:linear-gradient(#8670a6 0.0px,#735f97 5.0px,#504170 11.0px,#4d3f6d 29.5px,#5c4c7c 32.0px,#816da3 34.5px,#956fa9 36.0px,#c15178 40.5px,#e0604e 45.5px,#f18941 53.0px,#fbc255 57.0px,#fdd969 61.0px,#fee88a 77.0px,#fff1a2 82.5px,#fde277 83.0px,#f6a247 83.5px,#bc537f 84.0px,#5c4b7c 84.5px,#371650 85.0px,#2f1446 85.5px,#210f38 116.0px)"></i><i style="left:3px;width:1px;background:linear-gradient(#8d70a8 0.0px,#7c689f 5.0px,#504170 11.5px,#563872 28.0px,#4d3f6d 31.0px,#564776 33.0px,#836fa5 36.0px,#9470aa 37.5px,#c0507a 44.0px,#df5f50 50.0px,#f18841 54.0px,#f9b850 57.0px,#fdd666 61.0px,#fee888 77.0px,#fef09f 82.5px,#fde174 83.0px,#f5a046 83.5px,#ba5582 84.0px,#584878 84.5px,#32154a 85.0px,#291240 85.5px,#28123f 87.5px,#231039 116.0px)"></i><i style="left:4px;width:1px;background:linear-gradient(#9270a9 0.0px,#8570a6 5.5px,#635285 11.0px,#5e4d7e 14.5px,#594979 19.0px,#67558a 29.0px,#836fa5 31.5px,#9570a9 33.5px,#c0507a 38.5px,#d05864 41.0px,#e0614e 49.5px,#e87347 53.0px,#ef8241 54.0px,#f8ae4b 57.0px,#fccd5d 61.0px,#fde070 71.0px,#fef0a0 82.5px,#fde174 83.0px,#f6a146 83.5px,#ba5581 84.0px,#594979 84.5px,#34154c 85.0px,#2b1343 85.5px,#25113c 116.0px)"></i><i style="left:5px;width:1px;background:linear-gradient(#7d699f 0.0px,#806ca3 5.0px,#715d95 11.0px,#8570a6 29.0px,#9470aa 31.0px,#c15178 36.5px,#df5f4f 41.0px,#e3674b 49.0px,#ea7645 53.0px,#f08440 54.0px,#f8ad4a 57.0px,#fcca5a 61.0px,#fde071 71.5px,#fff1a4 82.5px,#fde379 83.0px,#f6a447 83.5px,#bd527d 84.0px,#5e4d7f 84.5px,#3b1754 85.0px,#33154b 85.5px,#1f0e35 116.0px)"></i><i style="left:6px;width:1px;background:linear-gradient(#67558a 0.0px,#574877 11.0px,#504170 29.5px,#6b578e 33.0px,#806ca3 34.5px,#9270a9 36.0px,#c15079 42.0px,#df604f 49.0px,#f08540 53.5px,#faba51 57.0px,#fdd666 61.0px,#fee88a 77.0px,#fff1a3 82.5px,#fde278 83.0px,#f6a347 83.5px,#bc537e 84.0px,#5d4c7d 84.5px,#391651 85.0px,#301448 85.5px,#25113c 116.0px)"></i><i style="left:7px;width:1px;background:linear-gradient(#735f97 0.0px,#504170 11.0px,#4c3e6c 30.0px,#5a4a7a 33.0px,#8470a6 36.0px,#9470aa 37.5px,#b05d8e 41.0px,#c15178 45.0px,#e0614e 51.0px,#e77148 53.0px,#f18a41 54.5px,#f9b24d 57.0px,#fcd262 61.0px,#fde580 77.0px,#feee9b 82.5px,#fde070 83.0px,#f59d46 83.5px,#b75886 84.0px,#544574 84.5px,#2c1343 85.0px,#2a1241 116.0px)"></i><i style="left:8px;width:1px;background:linear-gradient(#766299 0.0px,#625184 11.0px,#7e6aa0 29.0px,#956fa9 32.0px,#c0507a 37.5px,#d45a5e 41.0px,#e0604e 49.0px,#ea7745 53.0px,#f08640 54.0px,#f9b34e 57.0px,#fcd161 61.0px,#fee682 77.0px,#feef9e 82.5px,#fde173 83.0px,#f5a046 83.5px,#b95582 84.0px,#584878 84.5px,#33154b 85.0px,#2a1342 85.5px,#2f1447 97.5px,#24103a 116.0px)"></i><i style="left:9px;width:1px;background:linear-gradient(#976ea7 0.0px,#9470aa 12.5px,#bf507b 29.0px,#e0614e 33.0px,#ef8340 36.0px,#f7a748 41.0px,#f8b04c 53.0px,#fdd767 57.0px,#fee785 61.0px,#feeb91 77.0px,#fff2a7 82.5px,#fde47c 83.0px,#f7a648 83.5px,#bf507b 84.0px,#625083 84.5px,#401859 85.0px,#381650 85.5px,#3b1754 100.5px,#2e1446 116.0px)"></i><i style="left:10px;width:1px;background:linear-gradient(#986ea6 0.0px,#8b70a8 11.0px,#9470aa 16.5px,#ab6294 29.0px,#c0507a 32.0px,#e1634d 35.5px,#f08540 39.0px,#f39444 41.0px,#f8ae4b 53.0px,#fdd767 57.0px,#fde070 59.0px,#fee888 61.0px,#feee9c 77.0px,#fff5b0 82.5px,#fee786 83.0px,#f8ac4a 83.5px,#c65371 84.0px,#6c5990 84.5px,#521f6a 85.0px,#451a5f 85.5px,#481b62 99.5px,#3a1753 116.0px)"></i><i style="left:11px;width:1px;background:linear-gradient(#a5669a 0.0px,#9470aa 5.0px,#836fa5 8.0px,#6e5a92 11.0px,#604f82 19.0px,#68558b 25.5px,#6f5b93 29.0px,#826ea4 30.5px,#956fa9 32.5px,#c25178 36.5px,#e0604f 39.5px,#f08640 45.0px,#f7aa49 53.0px,#fdd868 57.0px,#fde070 58.5px,#feeb90 61.0px,#fef0a0 77.0px,#fff5b0 82.5px,#fee889 83.0px,#f8ae4b 83.5px,#c9556d 84.0px,#715d94 84.5px,#5c2371 85.0px,#4f1d67 85.5px,#55206c 96.5px,#391651 116.0px)"></i><i style="left:12px;width:1px;background:linear-gradient(#9170a9 0.0px,#8470a6 5.5px,#625084 12.5px,#5a4a7b 19.0px,#675489 29.0px,#8470a6 31.5px,#9170a9 33.0px,#c0507a 37.5px,#de5f50 41.0px,#f08440 50.0px,#f7a648 54.0px,#fccd5d 57.0px,#fde379 61.0px,#fee98c 67.0px,#feec95 77.0px,#fff3a9 82.5px,#fde47d 83.0px,#f7a748 83.5px,#c0507a 84.0px,#625184 84.5px,#401859 85.0px,#371650 85.5px,#35154d 116.0px)"></i><i style="left:13px;width:1px;background:linear-gradient(#6b588f 0.0px,#67548a 5.0px,#534473 11.0px,#504170 30.0px,#67558a 33.0px,#826ea5 35.0px,#9270aa 36.5px,#b45a89 41.0px,#c0507a 44.5px,#df604f 51.0px,#e76f48 53.0px,#f18941 54.5px,#f9b34e 57.0px,#fdd565 61.0px,#fff2a6 82.5px,#fde37a 83.0px,#f6a547 83.5px,#be527d 84.0px,#5f4e80 84.5px,#3b1754 85.0px,#32154a 85.5px,#2e1446 93.0px,#311448 116.0px)"></i><i style="left:14px;width:1px;background:linear-gradient(#8670a6 0.0px,#6e5a92 5.0px,#504170 9.5px,#5a3674 27.0px,#4d3f6d 31.5px,#514271 33.0px,#816da4 36.5px,#9470aa 38.5px,#a96397 41.0px,#c0507a 47.5px,#df604f 52.5px,#f08540 55.0px,#f7a748 57.0px,#fccb5b 61.0px,#fde580 77.0px,#feef9c 82.5px,#fde071 83.0px,#f59e46 83.5px,#b85684 84.0px,#574777 84.5px,#301448 85.0px,#28123f 85.5px,#301447 102.0px,#27123e 116.0px)"></i><i style="left:15px;width:1px;background:linear-gradient(#746097 0.0px,#504170 9.0px,#4e406e 29.0px,#6c588f 33.0px,#816da4 34.5px,#9270a9 36.0px,#b65987 41.0px,#c8546f 49.0px,#df604f 53.0px,#f08640 55.5px,#f59e46 57.0px,#fbc154 61.0px,#fdde6e 77.0px,#fee98c 82.5px,#fdda6a 83.0px,#f39343 83.5px,#ad6091 84.0px,#573773 84.5px,#200f36 85.0px,#1c0d32 85.5px,#1d0d33 116.0px)"></i><i style="left:16px;width:1px;background:linear-gradient(#5d4d7e 0.0px,#4f416f 11.0px,#534473 29.0px,#836fa5 34.0px,#9270a9 35.5px,#b95683 41.0px,#c0507a 44.0px,#cc566a 49.0px,#e2644c 53.0px,#f08440 55.0px,#f6a447 57.0px,#fcc757 61.0px,#fddf6f 77.0px,#feea8e 82.5px,#fddb6b 83.0px,#f39444 83.5px,#ae5f90 84.0px,#533a70 84.5px,#210f37 85.0px,#1d0d33 85.5px,#1f0e34 116.0px)"></i><i style="left:17px;width:1px;background:linear-gradient(#8c70a8 0.0px,#836fa5 5.0px,#625184 11.0px,#594a79 19.0px,#614f82 29.0px,#8670a6 32.5px,#9570a9 34.0px,#c15178 39.0px,#d15963 41.0px,#df604f 45.0px,#e46a4a 49.0px,#f18941 53.5px,#faba51 57.0px,#fcd464 61.0px,#fde37a 75.5px,#feee9a 82.5px,#fddf6f 83.0px,#f59c45 83.5px,#b65886 84.0px,#544474 84.5px,#2b1342 85.0px,#26113c 116.0px)"></i><i style="left:18px;width:1px;background:linear-gradient(#966fa8 0.0px,#836fa5 6.5px,#6a578e 11.0px,#655387 19.0px,#756198 29.0px,#8670a6 30.5px,#976ea8 32.5px,#bf517c 36.5px,#e0604e 40.5px,#f08440 49.5px,#f7a848 54.0px,#fccd5d 57.0px,#fde276 61.0px,#fee787 77.0px,#feef9d 82.5px,#fde071 83.0px,#f59e46 83.5px,#b85784 84.0px,#564776 84.5px,#2f1446 85.0px,#27123e 87.0px,#2c1343 116.0px)"></i><i style="left:19px;width:1px;background:linear-gradient(#9070a9 0.0px,#8570a6 5.5px,#67548a 11.0px,#584878 29.0px,#8470a6 33.5px,#9370aa 35.0px,#c0507a 41.0px,#e0604e 50.0px,#f08640 54.0px,#f9b54e 57.0px,#fcd363 61.0px,#fee681 77.0px,#feee9c 82.5px,#fde070 83.0px,#f59e46 83.5px,#b75785 84.0px,#554675 84.5px,#2e1345 85.0px,#27113d 85.5px,#2f1447 116.0px)"></i><i style="left:20px;width:1px;background:linear-gradient(#8d70a8 0.0px,#7a669d 5.0px,#4f416f 11.0px,#553971 25.5px,#4d3f6d 30.5px,#594979 33.0px,#8470a6 36.0px,#9470aa 37.5px,#ae5f90 41.0px,#c0507a 47.0px,#e0604e 53.0px,#f18841 55.5px,#f5a046 57.0px,#fbc456 61.0px,#fde071 75.5px,#feed97 82.5px,#fdde6e 83.0px,#f49b45 83.5px,#b55988 84.0px,#524372 84.5px,#291240 85.0px,#27123e 116.0px)"></i><i style="left:21px;width:1px;background:linear-gradient(#735f96 0.0px,#504170 8.5px,#504270 22.5px,#645286 29.0px,#836fa5 31.5px,#9170a9 33.0px,#c15179 38.0px,#d75b5b 41.0px,#e0604e 44.0px,#e66d49 49.0px,#f08440 52.5px,#fbc255 57.0px,#fddc6c 61.0px,#fee684 77.0px,#feee9c 82.5px,#fde070 83.0px,#f59e46 83.5px,#b85785 84.0px,#554675 84.5px,#2e1445 85.0px,#27113d 85.5px,#25113c 116.0px)"></i><i style="left:22px;width:1px;background:linear-gradient(#7d69a0 0.0px,#725e96 5.0px,#5a4a7a 11.0px,#5d4c7d 19.0px,#715d94 29.0px,#836fa5 30.5px,#9470aa 32.5px,#c35176 37.0px,#e0614e 40.5px,#f08640 47.0px,#f8ad4b 53.0px,#fbc456 54.5px,#fde071 57.0px,#fff4ad 61.0px,#fff5af 67.0px,#feee9a 77.0px,#fff2a8 82.5px,#fde47c 83.0px,#f7a547 83.5px,#be517c 84.0px,#604e81 84.5px,#3c1755 85.0px,#33154b 85.5px,#2d1344 92.0px,#27123e 116.0px)"></i><i style="left:23px;width:1px;background:linear-gradient(#a069a0 0.0px,#8570a6 7.5px,#6d5991 11.0px,#5a4a7a 18.0px,#574777 29.0px,#806ca3 32.5px,#9470aa 34.0px,#bf517b 37.5px,#e1624d 40.5px,#f08340 44.0px,#fbc255 53.0px,#fdde6e 55.5px,#feec93 57.0px,#fff5af 59.0px,#fff5b0 69.5px,#fef0a0 77.0px,#fff4ac 82.5px,#fee681 83.0px,#f7a949 83.5px,#c25177 84.0px,#665488 84.5px,#451a5e 85.0px,#3c1755 85.5px,#3a1753 89.0px,#3d1856 116.0px)"></i><i style="left:24px;width:1px;background:linear-gradient(#ae5f90 0.0px,#9270a9 8.5px,#68568b 19.0px,#604f82 29.0px,#826ea4 32.0px,#9170a9 33.5px,#bf517c 37.5px,#e1624d 41.0px,#e56c49 42.5px,#f08440 46.5px,#f6a547 53.0px,#fdd565 57.0px,#fee887 61.0px,#feee9b 77.0px,#fff5b0 82.5px,#fee785 83.0px,#f8ac4a 83.5px,#c65372 84.0px,#6c588f 84.5px,#511f69 85.0px,#451a5f 85.5px,#4e1d66 101.0px,#42195c 116.0px)"></i><i style="left:25px;width:1px;background:linear-gradient(#986ea7 0.0px,#8570a6 6.0px,#604f81 11.0px,#534473 15.5px,#4d3f6d 29.0px,#5c4c7d 32.0px,#826ea4 35.0px,#9270aa 36.5px,#b45a89 41.0px,#c45274 47.0px,#e1624d 53.0px,#f18a41 55.5px,#f6a347 57.0px,#fcc858 61.0px,#fde070 71.0px,#fff1a4 82.5px,#fde379 83.0px,#f6a447 83.5px,#be527c 84.0px,#604e81 84.5px,#3d1856 85.0px,#35164d 85.5px,#3a1753 97.5px,#2d1345 116.0px)"></i><i style="left:26px;width:1px;background:linear-gradient(#986da6 0.0px,#8470a6 5.5px,#504170 12.0px,#593773 29.0px,#4c3e6c 31.5px,#554575 33.5px,#826ea4 37.0px,#9570a9 39.5px,#c15179 50.5px,#da5d56 53.5px,#f08540 56.0px,#fbbf54 61.0px,#fcc858 63.0px,#fde071 76.0px,#feeb93 82.5px,#fddc6c 83.0px,#f49744 83.5px,#b25c8c 84.0px,#4d3f6d 84.5px,#24103b 85.0px,#200f36 85.5px,#28123f 116.0px)"></i><i style="left:27px;width:1px;background:linear-gradient(#9d6aa2 0.0px,#836fa5 7.5px,#655287 11.0px,#504270 16.0px,#4c3e6c 30.0px,#594979 33.0px,#806ca3 36.0px,#9370aa 38.0px,#a96397 41.0px,#c55273 49.0px,#e2654c 53.0px,#f18841 55.0px,#f6a347 56.5px,#fcd060 61.0px,#fde47b 77.0px,#feec93 82.5px,#fddc6c 83.0px,#f49744 83.5px,#b15c8d 84.0px,#4c3e6c 84.5px,#23103a 85.0px,#1f0e35 85.5px,#1c0d31 116.0px)"></i><i style="left:28px;width:1px;background:linear-gradient(#8a70a7 0.0px,#8470a6 6.5px,#6c5990 11.0px,#5a4a7a 19.0px,#504170 29.0px,#705c94 33.0px,#8570a6 34.5px,#9570a9 36.0px,#c25177 42.5px,#dd5f52 49.0px,#f18741 53.5px,#fbbf54 57.0px,#fddc6c 61.0px,#fee681 67.0px,#feea8e 77.0px,#fff1a4 82.5px,#fde379 83.0px,#f6a447 83.5px,#bd537e 84.0px,#5d4d7e 84.5px,#3a1752 85.0px,#311449 85.5px,#1c0d32 116.0px)"></i><i style="left:29px;width:1px;background:linear-gradient(#9e6aa1 0.0px,#a5669a 5.0px,#9470aa 16.5px,#8470a6 23.5px,#715d95 29.0px,#8570a6 31.5px,#9370aa 33.5px,#bf517b 38.5px,#e0604e 43.5px,#f08640 51.0px,#f39343 53.0px,#fccb5b 57.0px,#fde172 61.0px,#feeb93 77.0px,#fff3aa 82.5px,#fde57f 83.0px,#f7a848 83.5px,#c25178 84.0px,#665388 84.5px,#451a5f 85.0px,#3d1856 85.5px,#44195d 99.5px,#3a1753 116.0px)"></i><i style="left:30px;width:1px;background:linear-gradient(#9d6aa2 0.0px,#a4669b 5.0px,#966fa8 16.0px,#8470a6 23.0px,#69568c 29.0px,#8470a6 33.0px,#966fa8 35.0px,#c15178 41.0px,#df604f 49.5px,#ea7745 53.0px,#f08641 54.0px,#f9b44e 57.0px,#fcd262 61.0px,#fee889 77.0px,#fff1a4 82.5px,#fde379 83.0px,#f6a447 83.5px,#bd527e 84.0px,#5e4d7f 84.5px,#3b1754 85.0px,#32154b 85.5px,#381650 116.0px)"></i><i style="left:31px;width:1px;background:linear-gradient(#9170a9 0.0px,#8470a6 6.0px,#635185 11.0px,#504170 17.5px,#4d3f6d 30.5px,#574877 33.0px,#826ea4 36.0px,#9270aa 37.5px,#c25178 44.5px,#df5f50 50.0px,#f18841 54.0px,#fab850 57.0px,#fdd666 61.0px,#fee684 77.0px,#feef9d 82.5px,#fde071 83.0px,#f59e46 83.5px,#b85784 84.0px,#564676 84.5px,#2e1446 85.0px,#27123e 85.5px,#2c1344 116.0px)"></i><i style="left:32px;width:1px;background:linear-gradient(#8b70a8 0.0px,#79659c 5.0px,#504270 11.0px,#514271 29.0px,#8670a7 33.5px,#9270aa 34.5px,#c25177 39.5px,#df604f 44.0px,#f08640 50.5px,#f49b45 53.0px,#fbc255 55.5px,#fde174 59.0px,#feeb93 61.0px,#feef9e 67.0px,#feed96 77.0px,#fff2a8 82.5px,#fde47d 83.0px,#f7a648 83.5px,#bf517b 84.0px,#615083 84.5px,#3f1858 85.0px,#36164f 85.5px,#3a1753 116.0px)"></i><i style="left:33px;width:1px;background:linear-gradient(#6d5a91 0.0px,#6d5990 5.0px,#5b4b7b 11.0px,#594979 29.0px,#8670a7 33.5px,#966fa8 35.0px,#c15079 40.0px,#e0604e 45.5px,#f08540 51.0px,#f7a848 54.0px,#fcd262 57.0px,#fddf6f 59.0px,#fee98d 61.0px,#feed98 67.0px,#feec93 77.0px,#fff3a9 82.5px,#fde57e 83.0px,#f7a748 83.5px,#c15079 84.0px,#645286 84.5px,#43195d 85.0px,#3b1754 85.5px,#531f6b 103.0px,#3d1756 116.0px)"></i><i style="left:34px;width:1px;background:linear-gradient(#705c94 0.0px,#715d95 5.0px,#5e4e7f 11.0px,#4c3e6c 29.0px,#5f4e80 33.0px,#816da3 35.5px,#9270a9 37.0px,#c0507a 44.0px,#de5f51 49.5px,#f08540 53.5px,#fbbf54 57.0px,#fddb6b 61.0px,#fee682 77.0px,#feee9b 82.5px,#fde070 83.0px,#f59d46 83.5px,#b75785 84.0px,#554675 84.5px,#2d1345 85.0px,#26113d 85.5px,#2f1446 103.5px,#28123f 116.0px)"></i><i style="left:35px;width:1px;background:linear-gradient(#976ea7 0.0px,#8470a6 15.0px,#725e96 29.0px,#8470a6 31.0px,#966fa8 33.5px,#c15079 38.5px,#e0604f 44.0px,#f08640 51.5px,#f39143 53.0px,#fccd5d 57.0px,#fde57f 61.0px,#feeb93 67.0px,#feec95 77.0px,#fff2a6 82.5px,#fde37a 83.0px,#f6a447 83.5px,#be527d 84.0px,#5e4d7f 84.5px,#3a1753 85.0px,#311449 85.5px,#28123f 95.0px,#2a1241 116.0px)"></i><i style="left:36px;width:1px;background:linear-gradient(#9470aa 0.0px,#8470a6 9.0px,#6d5990 19.0px,#635185 29.0px,#8570a6 32.5px,#9470aa 34.0px,#c35177 39.0px,#e0604e 43.5px,#f08340 50.5px,#f39444 53.0px,#fccc5c 57.0px,#fde276 61.0px,#fee98c 77.0px,#fff1a3 82.5px,#fde277 83.0px,#f6a347 83.5px,#bc537f 84.0px,#5c4c7d 84.5px,#381651 85.0px,#301448 85.5px,#371650 116.0px)"></i><i style="left:37px;width:1px;background:linear-gradient(#594979 0.0px,#4c3e6c 10.0px,#4f406f 29.5px,#6e5a92 33.0px,#8670a6 34.5px,#9170a9 35.5px,#c0507a 41.0px,#e0614e 50.0px,#ef8341 54.0px,#f8af4c 57.0px,#fccd5d 61.0px,#fde070 73.5px,#feed99 82.5px,#fddf6f 83.0px,#f59c45 83.5px,#b65987 84.0px,#534473 84.5px,#2a1341 85.0px,#27123e 116.0px)"></i><i style="left:38px;width:1px;background:linear-gradient(#4f416f 0.0px,#504170 29.0px,#8670a6 34.0px,#9170a9 35.0px,#bf517c 40.5px,#d95c58 49.0px,#e76f48 53.0px,#f08640 54.5px,#f7ab4a 57.0px,#fccb5b 61.0px,#fde071 73.0px,#feee9a 82.5px,#fddf6f 83.0px,#f59c45 83.5px,#b65886 84.0px,#544574 84.5px,#2b1342 85.0px,#1f0e35 116.0px)"></i><i style="left:39px;width:1px;background:linear-gradient(#806ca3 0.0px,#705c93 5.0px,#504170 10.5px,#4d3f6d 29.0px,#5c4b7c 31.5px,#836fa5 34.5px,#9470aa 36.0px,#c0507a 42.0px,#de5f51 50.0px,#e87247 53.0px,#ef8241 54.0px,#f8b04c 57.0px,#fcd060 61.0px,#fee785 77.0px,#fef0a0 82.5px,#fde174 83.0px,#f6a146 83.5px,#ba5581 84.0px,#594979 84.5px,#34154c 85.0px,#2b1343 85.5px,#25113c 116.0px)"></i><i style="left:40px;width:1px;background:linear-gradient(#8770a7 0.0px,#7c689f 5.0px,#5b4b7c 11.0px,#5a4a7a 21.0px,#6d5990 29.0px,#8570a6 31.0px,#9270a9 32.5px,#bf507b 37.0px,#df5f50 41.0px,#f08640 50.5px,#f7a748 54.0px,#fcd060 57.0px,#fddf6f 59.5px,#fee786 61.0px,#feee9a 67.0px,#feef9e 77.0px,#fff4ae 82.5px,#fee683 83.0px,#f7aa49 83.5px,#c45274 84.0px,#68568b 84.5px,#491b63 85.0px,#3f1859 85.5px,#35154d 116.0px)"></i><i style="left:41px;width:1px;background:linear-gradient(#7b679e 0.0px,#78649b 5.0px,#5e4d7f 11.0px,#5b4b7b 16.0px,#6a578e 29.0px,#826ea4 31.0px,#9470aa 33.0px,#c15079 37.5px,#dc5e53 41.0px,#f08540 52.0px,#fbc355 57.0px,#fddb6b 61.0px,#fff3aa 82.5px,#fde580 83.0px,#f7a848 83.5px,#c25178 84.0px,#655387 84.5px,#44195e 85.0px,#3b1754 85.5px,#27123e 116.0px)"></i><i style="left:42px;width:1px;background:linear-gradient(#8a70a7 0.0px,#8470a6 7.5px,#746097 11.0px,#645287 19.0px,#5e4d7f 29.0px,#836fa5 32.5px,#9370aa 34.0px,#c0507a 38.5px,#e0604f 43.0px,#f08440 51.5px,#f28c42 53.0px,#fbc255 57.0px,#fdd868 61.0px,#fee889 77.0px,#fff1a3 82.5px,#fde277 83.0px,#f6a347 83.5px,#bc537f 84.0px,#5d4c7d 84.5px,#391651 85.0px,#301448 85.5px,#26113d 116.0px)"></i><i style="left:43px;width:1px;background:linear-gradient(#8d70a8 0.0px,#9170a9 5.0px,#816da3 11.0px,#6f5b93 29.0px,#836fa5 31.0px,#9470aa 33.0px,#c35177 37.5px,#e1634d 41.0px,#f08440 47.0px,#f7a748 53.0px,#fdd767 57.0px,#feea8f 61.0px,#feec94 77.0px,#fff2a8 82.5px,#fde47d 83.0px,#f7a648 83.5px,#c0507b 84.0px,#625083 84.5px,#401859 85.0px,#371650 85.5px,#371650 116.0px)"></i><i style="left:44px;width:1px;background:linear-gradient(#77639a 0.0px,#6f5b93 5.0px,#544574 11.0px,#514271 29.0px,#816da3 34.0px,#9070a9 35.5px,#b85784 41.0px,#bf507b 44.0px,#cd5669 48.5px,#e1624d 52.0px,#f08340 54.5px,#f8ad4b 57.0px,#fccf5f 61.0px,#fde57e 77.0px,#feee9a 82.5px,#fddf6f 83.0px,#f59c45 83.5px,#b65886 84.0px,#544574 84.5px,#2b1343 85.0px,#24103b 116.0px)"></i><i style="left:45px;width:1px;background:linear-gradient(#705c93 0.0px,#504170 11.0px,#564676 29.0px,#826ea4 33.5px,#9170a9 35.0px,#bb5481 41.0px,#cd5767 49.0px,#e3674b 53.0px,#f18841 55.0px,#f7a949 57.0px,#fccc5c 61.0px,#fde070 75.5px,#feec93 82.5px,#fddd6d 83.0px,#f49844 83.5px,#b25c8c 84.0px,#4e3f6e 84.5px,#25113c 85.0px,#2a1341 116.0px)"></i><i style="left:46px;width:1px;background:linear-gradient(#af5e8f 0.0px,#9470aa 7.0px,#8570a6 9.5px,#6f5b93 14.0px,#68568b 22.0px,#756198 29.0px,#8770a7 30.5px,#9470aa 32.0px,#c05079 36.5px,#e1624d 40.5px,#f08440 49.5px,#f49945 53.0px,#f7a848 54.0px,#fcce5e 57.0px,#fde47b 61.0px,#fee98c 67.0px,#feec94 77.0px,#fff2a8 82.5px,#fde47d 83.0px,#f7a748 83.5px,#c0507a 84.0px,#635184 84.5px,#41195a 85.0px,#381651 85.5px,#41195b 116.0px)"></i><i style="left:47px;width:1px;background:linear-gradient(#c35176 0.0px,#b55988 5.0px,#9570a9 10.5px,#7d69a0 19.0px,#7f6ba1 22.0px,#8470a6 29.0px,#9370aa 31.0px,#c15079 36.5px,#de5f50 41.0px,#e66d49 49.0px,#f08440 53.0px,#fbbf53 57.0px,#fdd969 61.0px,#fee98c 77.0px,#fff1a4 82.5px,#fde378 83.0px,#f6a347 83.5px,#bd537e 84.0px,#5d4d7e 84.5px,#391752 85.0px,#311449 85.5px,#34154c 116.0px)"></i><i style="left:48px;width:1px;background:linear-gradient(#b75785 0.0px,#b05e8f 5.0px,#9470aa 11.0px,#756199 29.0px,#8470a6 30.5px,#956fa9 33.0px,#be517c 37.5px,#d85c59 41.0px,#f08440 51.5px,#f28e42 53.0px,#fcc858 57.0px,#fddf6f 61.0px,#fee888 77.0px,#feef9e 82.5px,#fde173 83.0px,#f59f46 83.5px,#b95683 84.0px,#574877 84.5px,#301448 85.0px,#28123f 85.5px,#28123f 116.0px)"></i><i style="left:49px;width:1px;background:linear-gradient(#9b6ca4 0.0px,#8470a6 7.5px,#6a578d 11.0px,#514271 18.0px,#4c3e6c 29.5px,#5e4d7f 33.0px,#826ea4 35.5px,#9470aa 37.0px,#c05079 44.0px,#df5f50 50.5px,#e87147 53.0px,#f18a41 54.5px,#f9b24d 57.0px,#fcd161 61.0px,#fee785 77.0px,#feef9f 82.5px,#fde173 83.0px,#f5a046 83.5px,#b95682 84.0px,#584878 84.5px,#32154a 85.0px,#291240 85.5px,#27113d 116.0px)"></i><i style="left:50px;width:1px;background:linear-gradient(#6f5b93 0.0px,#69568c 5.0px,#4f416f 11.0px,#4c3e6c 30.0px,#5a4a7a 33.0px,#806ca3 36.0px,#9270a9 38.0px,#a6659a 41.0px,#c0507a 50.5px,#d05864 53.0px,#df5f4f 54.0px,#f18941 56.5px,#faba51 61.0px,#fcc858 64.5px,#fde071 77.0px,#feeb91 82.5px,#fddc6c 83.0px,#f49644 83.5px,#b15d8d 84.0px,#4c3e6c 84.5px,#24103a 85.0px,#1f0e35 85.5px,#210f37 116.0px)"></i><i style="left:51px;width:1px;background:linear-gradient(#956fa9 0.0px,#9370aa 5.0px,#8470a6 9.5px,#6f5b93 19.0px,#6f5b93 29.0px,#8570a6 31.0px,#956fa9 33.0px,#bf517c 37.0px,#e0604e 41.0px,#f08540 50.5px,#f39243 53.0px,#fcc858 57.0px,#fddd6d 61.0px,#feea8e 77.0px,#fff1a4 82.5px,#fde379 83.0px,#f6a447 83.5px,#bd527e 84.0px,#5e4d7e 84.5px,#3a1753 85.0px,#311449 85.5px,#28123f 96.5px,#220f38 116.0px)"></i><i style="left:52px;width:1px;background:linear-gradient(#a96397 0.0px,#9470aa 8.5px,#78649b 19.0px,#7c689e 28.5px,#966fa8 31.5px,#c25177 35.5px,#e1624d 38.0px,#f08640 41.0px,#f7a647 46.0px,#fabc52 53.0px,#fde071 57.0px,#feee9a 61.0px,#feef9d 77.0px,#fff5af 82.5px,#fee784 83.0px,#f7ab49 83.5px,#c55273 84.0px,#6a578d 84.5px,#4c1c65 85.0px,#41195b 85.5px,#33154b 116.0px)"></i><i style="left:53px;width:1px;background:linear-gradient(#9b6ca4 0.0px,#8470a6 8.5px,#635185 19.0px,#574877 29.0px,#8770a7 33.5px,#9270aa 34.5px,#c0507a 39.0px,#df604f 43.0px,#f08440 50.0px,#f49744 53.0px,#fccc5c 57.0px,#fde174 61.0px,#feeb93 77.0px,#fff2a8 82.5px,#fde47d 83.0px,#f7a748 83.5px,#c0507a 84.0px,#625184 84.5px,#401859 85.0px,#381650 85.5px,#301448 116.0px)"></i><i style="left:54px;width:1px;background:linear-gradient(#8a70a8 0.0px,#806ca2 5.0px,#625084 11.0px,#4f416f 29.0px,#6b588e 33.0px,#8570a6 35.0px,#9470aa 36.5px,#b45a89 41.0px,#c75470 47.0px,#e0604e 51.5px,#f08640 54.5px,#f8b04c 57.0px,#fcd262 61.0px,#fff1a4 82.5px,#fde379 83.0px,#f6a447 83.5px,#bd527e 84.0px,#5e4d7e 84.5px,#3a1753 85.0px,#311449 85.5px,#26113c 116.0px)"></i><i style="left:55px;width:1px;background:linear-gradient(#8670a7 0.0px,#8470a6 5.5px,#725e95 11.0px,#725e96 29.0px,#8470a6 31.0px,#956fa9 33.5px,#c0507a 39.5px,#db5d55 49.0px,#e97546 53.0px,#f08540 54.0px,#f9b44e 57.0px,#fcd262 61.0px,#fde37a 77.0px,#feec96 82.5px,#fdde6e 83.0px,#f49945 83.5px,#b45a8a 84.0px,#504170 84.5px,#26113d 85.0px,#231039 116.0px)"></i><i style="left:56px;width:1px;background:linear-gradient(#7a669d 0.0px,#77639a 5.0px,#635285 11.0px,#725e96 29.0px,#8670a6 31.0px,#9370aa 33.0px,#c0507a 39.0px,#cc566a 41.0px,#d85c5a 49.0px,#e66d49 53.0px,#f08340 54.5px,#f7a949 57.0px,#fcc959 61.0px,#fde070 76.0px,#feec95 82.5px,#fddd6d 83.0px,#f49945 83.5px,#b35a8a 84.0px,#504270 84.5px,#27123e 85.0px,#26113c 116.0px)"></i><i style="left:57px;width:1px;background:linear-gradient(#7c689f 0.0px,#756198 5.0px,#5f4e80 11.0px,#756198 29.0px,#8570a6 30.5px,#9470aa 32.5px,#c0507a 37.5px,#d85c59 41.0px,#e4694a 49.0px,#f18741 53.5px,#faba51 57.0px,#fdd666 61.0px,#fee98c 77.0px,#fff2a6 82.5px,#fde47b 83.0px,#f6a547 83.5px,#bf517c 84.0px,#614f82 84.5px,#3e1858 85.0px,#36164f 85.5px,#33154b 116.0px)"></i><i style="left:58px;width:1px;background:linear-gradient(#9370aa 0.0px,#8570a6 8.0px,#78649b 11.0px,#77639a 29.0px,#8670a6 30.5px,#9470aa 32.5px,#c0507a 37.5px,#df5f50 42.5px,#f08340 50.5px,#f39644 53.0px,#f8ae4b 54.5px,#fcd161 57.0px,#fde173 59.5px,#fee98c 61.0px,#fff0a1 67.0px,#fff0a1 77.0px,#fff5b0 82.5px,#fee786 83.0px,#f8ac4a 83.5px,#c65371 84.0px,#6c588f 84.5px,#501e68 85.0px,#44195d 85.5px,#3d1856 116.0px)"></i><i style="left:59px;width:1px;background:linear-gradient(#5a4a7a 0.0px,#4c3e6c 10.0px,#564676 29.0px,#8670a6 33.5px,#956fa9 35.0px,#c0507a 41.5px,#df5f50 50.5px,#f08440 54.0px,#f9b64f 57.0px,#fdd767 61.0px,#fee98b 77.0px,#fff0a1 82.5px,#fde275 83.0px,#f6a146 83.5px,#bb5581 84.0px,#594979 84.5px,#34154c 85.0px,#2b1342 85.5px,#281240 97.0px,#34154c 116.0px)"></i><i style="left:60px;width:1px;background:linear-gradient(#563872 0.0px,#4c3e6c 15.5px,#554675 29.0px,#826ea4 34.0px,#9470aa 36.0px,#b15c8d 41.0px,#c25177 50.0px,#dc5e54 53.5px,#f08540 56.0px,#fbbf54 61.0px,#fcc758 63.0px,#fde070 76.0px,#feeb92 82.5px,#fddc6c 83.0px,#f49744 83.5px,#b15c8d 84.0px,#4c3e6c 84.5px,#24103a 85.0px,#200f36 85.5px,#2b1342 116.0px)"></i><i style="left:61px;width:1px;background:linear-gradient(#574877 0.0px,#4d3f6d 11.0px,#504170 30.5px,#604f81 33.0px,#836fa5 36.0px,#9470aa 38.5px,#b15c8c 49.0px,#c0507b 51.5px,#ca556c 53.0px,#e0614e 54.5px,#f08440 56.5px,#f9b850 61.0px,#fcc657 64.5px,#fde070 77.5px,#feea8e 82.5px,#fdda6a 83.0px,#f39343 83.5px,#ae5f90 84.0px,#543971 84.5px,#210f37 85.0px,#1d0d32 85.5px,#25113c 116.0px)"></i><i style="left:62px;width:1px;background:linear-gradient(#9e6aa1 0.0px,#8470a6 7.5px,#67548a 11.0px,#554675 16.0px,#4e406e 29.0px,#6a578d 33.0px,#8570a6 35.0px,#9470aa 36.5px,#b35b8a 41.0px,#c0507a 46.0px,#c9556d 49.0px,#e0604e 52.5px,#f08640 55.0px,#f7a748 57.0px,#fccb5b 61.0px,#fde37a 77.0px,#feed96 82.5px,#fdde6e 83.0px,#f49a45 83.5px,#b45a89 84.0px,#504170 84.5px,#26113d 85.0px,#27123e 116.0px)"></i><i style="left:63px;width:1px;background:linear-gradient(#a1689e 0.0px,#9270aa 6.0px,#79659c 11.0px,#6e5a92 17.5px,#756198 29.0px,#8670a6 30.5px,#9370aa 32.0px,#c25177 36.5px,#e2634d 40.0px,#f08540 45.5px,#f7a848 53.0px,#fdd666 57.0px,#fde071 59.0px,#fee98a 61.0px,#feeb90 77.0px,#fff1a3 82.5px,#fde278 83.0px,#f6a347 83.5px,#bc537f 84.0px,#5b4b7c 84.5px,#37164f 85.0px,#2e1445 85.5px,#2a1341 94.0px,#34154c 116.0px)"></i><i style="left:64px;width:1px;background:linear-gradient(#8f70a9 0.0px,#7b679e 11.0px,#9370aa 25.0px,#9d6ba2 29.0px,#c15178 33.0px,#e1634d 35.5px,#f08540 38.0px,#f7a748 41.0px,#f9b44e 43.5px,#fccc5c 53.0px,#fde070 55.5px,#feea8d 57.0px,#fff3ab 61.0px,#feea8e 73.5px,#feea8f 77.0px,#fff1a5 82.5px,#fde37a 83.0px,#f6a547 83.5px,#be517c 84.0px,#604f81 84.5px,#3d1856 85.0px,#35154d 85.5px,#3f1858 101.0px,#33154b 116.0px)"></i><i style="left:65px;width:1px;background:linear-gradient(#67558a 0.0px,#504170 10.0px,#524372 19.0px,#6c5890 29.0px,#8670a6 31.0px,#9470aa 32.5px,#c15079 36.5px,#e1624d 40.0px,#ec7b43 44.5px,#f08440 48.5px,#f39544 53.0px,#fbc456 57.0px,#fdd666 61.0px,#fde071 74.5px,#feee9b 82.5px,#fde070 83.0px,#f59e46 83.5px,#b85784 84.0px,#564776 84.5px,#301448 85.0px,#291240 85.5px,#391752 99.5px,#27123e 116.0px)"></i><i style="left:66px;width:1px;background:linear-gradient(#4e3d6d 0.0px,#672e7c 11.0px,#692d7d 19.0px,#623179 29.0px,#4c3e6c 32.5px,#554575 34.0px,#826ea4 37.0px,#9470aa 39.0px,#a6659a 41.0px,#c55273 49.0px,#e0604e 53.0px,#ee8041 55.0px,#f6a146 57.0px,#fbc456 61.0px,#fde070 77.0px,#feea90 82.5px,#fddb6b 83.0px,#f39544 83.5px,#b05e8e 84.0px,#4f3c6e 84.5px,#231039 85.0px,#1e0e34 85.5px,#231039 116.0px)"></i><i style="left:67px;width:1px;background:linear-gradient(#78649b 0.0px,#504170 9.0px,#4c3e6c 30.0px,#5b4b7c 33.0px,#8570a6 36.0px,#9370aa 37.5px,#ae5f90 41.0px,#c15079 45.5px,#df604f 50.5px,#ef8241 53.5px,#fbc054 57.0px,#fde070 61.0px,#fee98a 67.0px,#fee88a 77.0px,#feee9b 82.5px,#fddf6f 83.0px,#f59c45 83.5px,#b65987 84.0px,#524372 84.5px,#28123f 85.0px,#1b0d31 98.5px,#231039 116.0px)"></i><i style="left:68px;width:1px;background:linear-gradient(#8670a7 0.0px,#705c94 5.0px,#504170 10.5px,#544574 29.0px,#8570a6 34.5px,#9170a9 36.0px,#ab6194 41.0px,#b45a8a 47.0px,#c15079 50.0px,#da5d56 53.0px,#ee8041 55.0px,#f7a848 57.0px,#fcd262 61.0px,#fde277 67.0px,#fee889 77.0px,#feef9e 82.5px,#fde172 83.0px,#f59f46 83.5px,#b85784 84.0px,#564676 84.5px,#2e1446 85.0px,#27113d 85.5px,#23103a 94.0px,#24113b 116.0px)"></i><i style="left:69px;width:1px;background:linear-gradient(#966fa8 0.0px,#8570a6 5.5px,#645286 11.0px,#5a4a7a 19.0px,#5c4b7c 29.0px,#836fa5 33.5px,#9570a9 35.5px,#b45a89 41.0px,#c25178 49.0px,#dc5e53 53.0px,#f18741 55.5px,#f6a147 57.0px,#fcc959 61.0px,#fde57e 77.0px,#feee9c 82.5px,#fde070 83.0px,#f59e46 83.5px,#b85784 84.0px,#564776 84.5px,#301447 85.0px,#28123f 85.5px,#291240 116.0px)"></i><i style="left:70px;width:1px;background:linear-gradient(#a3679d 0.0px,#9570a9 4.0px,#8570a6 7.0px,#645286 11.0px,#514271 16.5px,#4c3e6c 30.0px,#594979 33.0px,#816da3 36.0px,#9470aa 38.0px,#ab6194 41.0px,#c15178 47.0px,#e1614d 52.0px,#f39644 55.5px,#f8af4c 57.0px,#fcd161 61.0px,#fde57e 77.0px,#feee9a 82.5px,#fddf6f 83.0px,#f59d45 83.5px,#b75886 84.0px,#544574 84.5px,#2c1343 85.0px,#23103a 116.0px)"></i><i style="left:71px;width:1px;background:linear-gradient(#7b679e 0.0px,#6e5a92 5.0px,#514271 11.0px,#4d3f6d 29.0px,#5d4c7e 32.0px,#8470a6 35.0px,#9570a9 36.5px,#c15179 43.0px,#df5f50 49.5px,#f08440 53.5px,#fabc52 57.0px,#fdd969 61.0px,#fee682 77.0px,#feee9a 82.5px,#fddf6f 83.0px,#f59c45 83.5px,#b65886 84.0px,#534473 84.5px,#2a1342 85.0px,#220f38 116.0px)"></i><i style="left:72px;width:1px;background:linear-gradient(#8570a6 0.0px,#7b679e 5.0px,#5f4e80 11.0px,#594979 19.0px,#625083 29.0px,#8470a6 32.0px,#9370aa 33.5px,#be517c 37.5px,#de5f50 41.0px,#f08340 48.5px,#f7a748 53.5px,#fcd262 57.0px,#fde580 61.0px,#fee887 77.0px,#feef9d 82.5px,#fde071 83.0px,#f59e46 83.5px,#b85784 84.0px,#564776 84.5px,#2e1446 85.0px,#27123e 85.5px,#25113c 116.0px)"></i><i style="left:73px;width:1px;background:linear-gradient(#9d6aa2 0.0px,#836fa5 7.5px,#6d5990 11.0px,#5c4b7c 19.0px,#5a4a7a 29.0px,#8470a6 33.0px,#956fa9 34.5px,#c0507a 39.0px,#e1614d 44.0px,#f49644 53.0px,#fccf5f 57.0px,#fde580 61.0px,#feea8f 67.0px,#feeb92 77.0px,#fff2a5 82.5px,#fde37a 83.0px,#f6a447 83.5px,#be527d 84.0px,#5e4d7f 84.5px,#3b1754 85.0px,#32154a 85.5px,#301448 95.5px,#3a1752 116.0px)"></i><i style="left:74px;width:1px;background:linear-gradient(#a96497 0.0px,#9370aa 7.0px,#7c689f 11.0px,#655387 19.0px,#5b4a7b 29.0px,#8670a6 33.5px,#9570a9 35.0px,#c0507a 40.5px,#e1624d 48.0px,#f08540 52.5px,#fccb5b 57.0px,#fde070 60.0px,#fee681 61.0px,#feee9a 67.0px,#feee9a 77.0px,#fff3a9 82.5px,#fde47e 83.0px,#f7a748 83.5px,#c0507b 84.0px,#615083 84.5px,#3e1857 85.0px,#35154d 85.5px,#2f1446 97.5px,#521f6a 116.0px)"></i><i style="left:75px;width:1px;background:linear-gradient(#9170a9 0.0px,#8570a6 5.0px,#5a4a7a 12.0px,#504170 29.0px,#8570a6 34.5px,#9470aa 36.0px,#b75785 41.0px,#c0507a 44.0px,#d35a60 49.0px,#ea7546 53.0px,#f6a447 55.5px,#fabd52 57.0px,#fdde6e 61.0px,#fee98c 67.0px,#feeb90 77.0px,#feef9f 82.5px,#fde173 83.0px,#f59f46 83.5px,#b85784 84.0px,#554675 84.5px,#2d1344 85.0px,#26113c 85.5px,#1e0e34 98.0px,#33154b 116.0px)"></i><i style="left:76px;width:1px;background:linear-gradient(#8770a7 0.0px,#7c689f 5.0px,#594979 11.0px,#4f406f 29.0px,#6b578e 33.0px,#8570a6 35.0px,#9370aa 36.5px,#b05d8e 41.0px,#c25178 48.0px,#e1634d 53.0px,#f08741 55.0px,#f7aa49 57.0px,#fcd060 61.0px,#fde173 67.0px,#fff0a2 82.5px,#fde276 83.0px,#f6a147 83.5px,#bb5480 84.0px,#5a4a7a 84.5px,#34154c 85.0px,#2b1342 85.5px,#26113d 93.5px,#2c1343 116.0px)"></i><i style="left:77px;width:1px;background:linear-gradient(#9a6da5 0.0px,#956fa9 5.0px,#8570a6 9.0px,#68558a 19.0px,#69568d 29.0px,#8470a6 31.5px,#9570a9 33.5px,#c25178 38.5px,#d45a5f 41.0px,#e0604e 45.0px,#e4694b 49.0px,#f08641 53.5px,#fab950 57.0px,#fdd464 61.0px,#fee888 77.0px,#fff0a1 82.5px,#fde276 83.0px,#f6a247 83.5px,#bb5480 84.0px,#5a4a7a 84.5px,#36164e 85.0px,#2d1344 85.5px,#2c1343 93.0px,#34154c 116.0px)"></i><i style="left:78px;width:1px;background:linear-gradient(#9a6ca4 0.0px,#9470aa 6.0px,#806ca2 11.0px,#79659c 19.0px,#956fa9 30.0px,#c15079 34.5px,#e0604e 37.0px,#f08540 40.5px,#f9b54f 53.0px,#fddd6d 57.0px,#feeb91 61.0px,#fee98c 77.0px,#fff0a1 82.5px,#fde275 83.0px,#f6a146 83.5px,#ba5581 84.0px,#594979 84.5px,#33154b 85.0px,#2a1341 85.5px,#28123f 89.5px,#27123e 116.0px)"></i><i style="left:79px;width:1px;background:linear-gradient(#8b70a8 0.0px,#8470a6 5.0px,#635285 11.0px,#5d4d7e 15.5px,#5a4a7a 19.5px,#67548a 29.0px,#8570a6 31.5px,#9370aa 33.0px,#c15079 37.0px,#e1624d 40.5px,#f08440 46.0px,#f7ab4a 53.0px,#fddb6b 57.0px,#feed98 61.0px,#feeb91 77.0px,#fff1a3 82.5px,#fde278 83.0px,#f6a347 83.5px,#bc537f 84.0px,#5c4b7c 84.5px,#37164f 85.0px,#2e1446 85.5px,#231039 116.0px)"></i><i style="left:80px;width:1px;background:linear-gradient(#806ca2 0.0px,#756198 5.0px,#594979 11.0px,#564776 19.0px,#625184 29.0px,#836fa5 32.0px,#9170a9 33.5px,#c0507a 38.5px,#d35a5f 41.0px,#e0604f 44.0px,#f08640 51.5px,#f39143 53.0px,#fccc5c 57.0px,#fde378 61.0px,#fee681 77.0px,#feed99 82.5px,#fddf6f 83.0px,#f59c45 83.5px,#b55987 84.0px,#524472 84.5px,#291240 85.0px,#26113d 116.0px)"></i><i style="left:81px;width:1px;background:linear-gradient(#986da6 0.0px,#8670a6 11.0px,#836fa5 29.0px,#956fa9 31.5px,#c15179 36.5px,#e1614e 40.5px,#f08440 48.5px,#f7a948 53.5px,#fdd565 57.0px,#fde172 59.0px,#fee98d 61.0px,#fee889 77.0px,#feef9e 82.5px,#fde173 83.0px,#f59f46 83.5px,#b95683 84.0px,#574877 84.5px,#311449 85.0px,#291240 86.0px,#3b1754 116.0px)"></i><i style="left:82px;width:1px;background:linear-gradient(#b15d8d 0.0px,#ab6194 5.0px,#9470aa 10.0px,#8470a6 15.5px,#645286 29.0px,#826ea4 32.5px,#9570a9 34.5px,#c0507a 40.0px,#e0614e 47.5px,#f08440 52.5px,#fcca5a 57.0px,#fde47d 61.0px,#feec95 67.0px,#feed97 77.0px,#fff2a8 82.5px,#fde47c 83.0px,#f7a648 83.5px,#bf517b 84.0px,#604f82 84.5px,#3d1856 85.0px,#34154c 85.5px,#2c1344 95.5px,#2e1445 116.0px)"></i><i style="left:83px;width:1px;background:linear-gradient(#9a6ca4 0.0px,#8470a6 7.0px,#675489 11.0px,#504270 18.0px,#4d3f6d 30.0px,#594979 33.0px,#816da3 36.0px,#9470aa 38.0px,#ab6294 41.0px,#c0507a 46.5px,#cc5669 49.0px,#e77048 53.0px,#ef8241 54.0px,#f7a748 56.0px,#fdd969 61.0px,#fee581 67.0px,#fee98c 77.0px,#fef0a0 82.5px,#fde174 83.0px,#f5a046 83.5px,#b95582 84.0px,#584878 84.5px,#311449 85.0px,#28123f 85.5px,#25113b 92.0px,#221039 116.0px)"></i><i style="left:84px;width:1px;background:linear-gradient(#5a4a7a 0.0px,#4c3e6c 10.0px,#533a70 29.0px,#4c3e6c 30.5px,#554675 33.0px,#8470a6 36.5px,#9470aa 38.5px,#a76499 41.0px,#c25177 49.5px,#da5d56 53.0px,#f08440 55.5px,#f59d46 57.0px,#fcc556 61.0px,#fde071 73.0px,#feed99 82.5px,#fddf6f 83.0px,#f49b45 83.5px,#b55987 84.0px,#524372 84.5px,#291240 85.0px,#200f36 116.0px)"></i><i style="left:85px;width:1px;background:linear-gradient(#756198 0.0px,#4e3f6e 9.5px,#4c3e6c 29.0px,#5d4d7e 32.0px,#8470a6 35.0px,#9370aa 36.5px,#b15c8d 41.0px,#c15079 49.5px,#dc5e54 53.5px,#f08440 56.0px,#fabe53 61.0px,#fcc858 63.5px,#fde071 74.0px,#feed99 82.5px,#fddf6f 83.0px,#f49b45 83.5px,#b55987 84.0px,#524472 84.5px,#291340 85.0px,#24113b 116.0px)"></i><i style="left:86px;width:1px;background:linear-gradient(#9470aa 0.0px,#836fa5 6.5px,#655387 11.0px,#5a4a7a 15.5px,#574777 29.0px,#8670a7 33.5px,#9170a9 34.5px,#c15178 40.5px,#dd5e52 49.0px,#eb7845 53.0px,#f7a848 56.0px,#fdd464 61.0px,#fde47c 77.0px,#feec95 82.5px,#fddd6d 83.0px,#f39845 83.5px,#b25b8a 84.0px,#4f416f 84.5px,#26123d 85.0px,#231139 94.5px,#33174b 116.0px)"></i><i style="left:87px;width:1px;background:linear-gradient(#6f5b93 0.0px,#6f5b92 5.0px,#615082 11.0px,#806ca2 29.0px,#9370aa 31.0px,#bf517b 35.5px,#df5f50 38.5px,#f08440 43.5px,#f8ac4a 53.0px,#fdd969 57.0px,#feeb90 61.0px,#feeb91 77.0px,#fff1a3 82.5px,#fde278 83.0px,#f5a247 83.5px,#bb537f 84.0px,#5c4c7d 84.5px,#391852 85.0px,#301648 85.5px,#2e1546 91.0px,#2f1647 116.0px)"></i><i style="left:88px;width:1px;background:linear-gradient(#69568c 0.0px,#514271 11.0px,#5f4e80 29.0px,#816da3 32.0px,#976ea8 34.0px,#c0507a 38.0px,#de5f51 41.5px,#f08340 49.5px,#f7aa49 54.0px,#fcd060 57.0px,#fee580 61.0px,#fee98d 67.0px,#feea8e 77.0px,#fff0a2 82.5px,#fde276 83.0px,#f5a147 83.5px,#ba5481 84.0px,#5b4a7b 84.5px,#37184f 85.0px,#2e1646 85.5px,#2a1442 90.5px,#25133c 116.0px)"></i><i style="left:89px;width:1px;background:linear-gradient(#7d69a0 0.0px,#7d699f 5.0px,#6a578e 11.0px,#514271 29.0px,#705c94 33.0px,#8570a6 34.5px,#9070a9 35.5px,#c15079 41.5px,#e0614e 49.5px,#f18941 54.0px,#f9b64f 57.0px,#fcd262 61.0px,#fde173 76.0px,#feeb90 82.5px,#fcdb6b 83.0px,#f19444 83.5px,#ad5e8f 84.0px,#533a70 84.5px,#23113a 85.0px,#1f1035 85.5px,#231239 116.0px)"></i><i style="left:90px;width:1px;background:linear-gradient(#746097 0.0px,#705c94 5.0px,#5f4e7f 11.0px,#5e4d7f 29.0px,#8570a6 32.5px,#966fa8 34.0px,#c25178 38.0px,#e0604f 41.0px,#f08540 48.0px,#f7a748 53.5px,#fcd060 57.0px,#fde277 61.0px,#fde47c 76.5px,#feec96 82.5px,#fcdd6d 83.0px,#f29846 83.5px,#b05a8a 84.0px,#504170 84.5px,#291440 85.0px,#311a4a 116.0px)"></i><i style="left:91px;width:1px;background:linear-gradient(#735f96 0.0px,#504170 9.0px,#564676 29.0px,#8470a6 33.0px,#9170a9 34.0px,#c25177 39.0px,#d35a5f 41.0px,#e0604e 44.0px,#f08440 53.0px,#fabb52 57.0px,#fcd363 61.0px,#fde070 75.0px,#feec95 82.5px,#fcdd6d 83.0px,#f19746 83.5px,#b05a8a 84.0px,#514271 84.5px,#2a1542 85.0px,#381d51 116.0px)"></i><i style="left:92px;width:1px;background:linear-gradient(#705c94 0.0px,#504170 8.0px,#504170 21.5px,#69568c 29.0px,#836fa5 31.0px,#9170a9 32.5px,#bf517b 37.0px,#db5d55 41.0px,#e2644c 49.0px,#e97446 53.0px,#ef8241 54.0px,#f8ac4a 57.0px,#fcc959 61.0px,#fde070 76.5px,#feeb93 82.5px,#fcdc6d 83.0px,#f09646 83.5px,#ae5b8b 84.0px,#4f416f 84.5px,#2a1641 85.0px,#2f1a47 116.0px)"></i><i style="left:93px;width:1px;background:linear-gradient(#8d70a8 0.0px,#806ca3 5.0px,#5a4a7a 11.5px,#534473 19.0px,#5e4d7f 29.0px,#8570a6 32.5px,#9470aa 34.0px,#c0507a 39.0px,#ce5766 41.0px,#e1634d 49.0px,#f08340 53.5px,#f9b850 57.0px,#fdd565 61.0px,#fee683 77.0px,#feef9f 82.5px,#fce074 83.0px,#f29f48 83.5px,#b75582 84.0px,#5c4b7c 84.5px,#3b1c54 85.0px,#341b4c 85.5px,#3b1e54 96.5px,#2f1b47 116.0px)"></i><i style="left:94px;width:1px;background:linear-gradient(#a4669c 0.0px,#9270aa 6.5px,#8570a6 9.0px,#77639a 11.0px,#5f4e80 19.0px,#5b4b7b 29.0px,#826ea4 33.0px,#9270aa 34.5px,#c15178 40.5px,#df5f50 49.5px,#ea7745 53.0px,#f18841 54.0px,#fab850 57.0px,#fdd767 61.0px,#feea8d 77.0px,#fff1a4 82.5px,#fce279 83.0px,#f2a24a 83.5px,#b95480 84.0px,#604f81 84.5px,#41205b 85.0px,#3a1e53 85.5px,#321e4b 116.0px)"></i><i style="left:95px;width:1px;background:linear-gradient(#9e6aa1 0.0px,#9a6ca4 5.0px,#8570a6 11.0px,#8670a6 29.0px,#976ea7 31.5px,#c15178 37.0px,#d75b5b 41.0px,#df604f 49.0px,#ea7645 53.0px,#f08640 54.0px,#f9b64f 57.0px,#fdd666 61.0px,#fff0a1 82.5px,#fce175 83.0px,#f19e49 83.5px,#b55683 84.0px,#5b4b7b 84.5px,#391d53 85.0px,#311b4a 85.5px,#2b1843 95.0px,#311e4a 116.0px)"></i><i style="left:96px;width:1px;background:linear-gradient(#8770a7 0.0px,#8470a6 5.5px,#6f5b93 11.0px,#68568b 29.0px,#8470a6 32.0px,#9570a9 34.0px,#c25177 40.0px,#e0604e 50.0px,#e97446 53.0px,#f08440 54.0px,#f9b44e 57.0px,#fdd464 61.0px,#fee889 77.0px,#fef09f 82.5px,#fce074 83.0px,#f09d49 83.5px,#b45684 84.0px,#5b4b7b 84.5px,#3a1e54 85.0px,#331c4b 85.5px,#301c49 93.5px,#3c2556 116.0px)"></i><i style="left:97px;width:1px;background:linear-gradient(#5d4d7e 0.0px,#4d3f6d 11.0px,#4f416f 29.0px,#6f5b93 32.5px,#8470a6 34.0px,#966fa8 35.5px,#c15079 40.5px,#de5f50 49.0px,#ea7845 53.0px,#f18741 54.0px,#f9b44e 57.0px,#fcd262 61.0px,#fde57e 77.0px,#feee9a 82.5px,#fbde70 83.0px,#ef9948 83.5px,#b05886 84.0px,#564777 84.5px,#351d4e 85.0px,#3a2554 116.0px)"></i><i style="left:98px;width:1px;background:linear-gradient(#8c70a8 0.0px,#8470a6 5.5px,#675489 12.0px,#604f82 19.0px,#6c5990 29.0px,#836fa5 31.0px,#9470aa 33.0px,#c15178 37.5px,#dc5e54 41.0px,#e66d49 49.0px,#f18841 53.5px,#fab950 57.0px,#fcd363 61.0px,#fde580 77.0px,#feee9c 82.5px,#fbdf71 83.0px,#ef9b49 83.5px,#b15785 84.0px,#59497a 84.5px,#3a2054 85.0px,#3c2656 116.0px)"></i><i style="left:99px;width:1px;background:linear-gradient(#8d70a8 0.0px,#8470a6 6.5px,#6e5a92 11.0px,#655387 19.0px,#6c588f 29.0px,#826ea4 31.0px,#9370aa 33.0px,#c25178 37.5px,#de5f51 41.0px,#f08540 52.5px,#fbc054 57.0px,#fdd868 61.0px,#fee887 77.0px,#fff0a0 82.5px,#fbe075 83.0px,#ef9e4b 83.5px,#b35683 84.0px,#5e4d7e 84.5px,#41245b 85.0px,#3b2255 89.5px,#482f63 116.0px)"></i><i style="left:100px;width:1px;background:linear-gradient(#7e6aa1 0.0px,#79659c 5.0px,#625184 11.0px,#635185 29.0px,#826ea4 32.0px,#966fa9 34.0px,#c25177 39.0px,#d25961 41.5px,#e1624d 49.0px,#ea7745 53.0px,#f08540 54.0px,#f8b04c 57.0px,#fcce5e 61.0px,#fde071 74.0px,#feed97 82.5px,#fbdc6e 83.0px,#ec9648 83.5px,#ab5988 84.0px,#544474 84.5px,#331e4c 85.0px,#331f4c 93.0px,#472f62 109.0px,#442d5f 116.0px)"></i><i style="left:101px;width:1px;background:linear-gradient(#9170a9 0.0px,#8470a6 8.5px,#7a669d 11.0px,#79659c 29.0px,#836fa5 30.0px,#976ea7 32.5px,#c25177 37.0px,#e0604e 41.0px,#e66d49 49.0px,#ef8340 53.5px,#f8b24d 57.0px,#fccd5d 61.0px,#fde071 74.5px,#feed97 82.5px,#fbdc6e 83.0px,#eb9649 83.5px,#aa5988 84.0px,#544575 84.5px,#35204e 85.0px,#462f62 116.0px)"></i><i style="left:102px;width:1px;background:linear-gradient(#6e5a91 0.0px,#504170 10.0px,#4d3e6d 29.0px,#5a4a7a 31.5px,#826ea4 34.5px,#9470aa 36.0px,#c0507a 41.0px,#e0604e 50.0px,#ef8241 54.0px,#f8b04c 57.0px,#fccf5f 61.0px,#fde47d 77.0px,#feed98 82.5px,#fbdc6f 83.0px,#eb9549 83.5px,#a95988 84.0px,#544574 84.5px,#35204e 85.0px,#2f1e48 94.0px,#382752 116.0px)"></i><i style="left:103px;width:1px;background:linear-gradient(#9e6aa1 0.0px,#8570a6 7.0px,#655387 11.0px,#504170 17.0px,#4d3f6d 29.5px,#5d4d7e 32.5px,#8670a6 35.5px,#9170a9 36.5px,#b45a88 41.0px,#c15079 45.0px,#cc5669 49.0px,#df5f50 52.0px,#f08641 55.0px,#f7a848 57.0px,#fccb5b 61.0px,#fde070 74.5px,#feec93 82.5px,#fada6d 83.0px,#e99248 83.5px,#a55989 84.0px,#504170 84.5px,#321f4b 85.0px,#3a2955 116.0px)"></i><i style="left:104px;width:1px;background:linear-gradient(#aa6295 0.0px,#9470aa 8.0px,#8470a6 11.0px,#68558b 19.0px,#584878 29.0px,#8770a7 34.0px,#966fa8 35.5px,#be527d 41.0px,#cc566a 47.5px,#e1624d 52.5px,#f08440 55.0px,#f6a447 57.0px,#fcc757 61.0px,#fde070 76.0px,#feec95 82.5px,#fadb6e 83.0px,#e99349 83.5px,#a65988 84.0px,#534474 84.5px,#362250 85.0px,#51386e 106.5px,#4e376b 116.0px)"></i><i style="left:105px;width:1px;background:linear-gradient(#746098 0.0px,#514371 11.0px,#4c3e6c 29.5px,#5b4b7b 32.5px,#8570a6 35.5px,#9070a9 36.5px,#b65987 41.0px,#c0507a 44.0px,#d05864 49.0px,#e4684b 53.0px,#f18841 55.0px,#f7a848 57.0px,#fcca5a 61.0px,#fde070 73.5px,#feed99 82.5px,#fadc6f 83.0px,#e9964b 83.5px,#a95887 84.0px,#584878 84.5px,#3c2656 85.0px,#483465 116.0px)"></i><i style="left:106px;width:1px;background:linear-gradient(#a4669c 0.0px,#9270a9 7.0px,#69568d 19.0px,#5c4b7c 29.0px,#8570a6 33.5px,#9470aa 35.0px,#c0507a 41.0px,#d15962 49.0px,#e4684b 53.0px,#f18841 55.0px,#f7a948 57.0px,#fccc5c 61.0px,#fee682 77.0px,#feef9e 82.5px,#fade73 83.0px,#ea9a4d 83.5px,#ad5785 84.0px,#5e4d7f 84.5px,#452b61 85.0px,#594076 116.0px)"></i><i style="left:107px;width:1px;background:linear-gradient(#b05d8e 0.0px,#a86498 5.0px,#9370aa 9.5px,#7a669d 19.0px,#7a669c 29.0px,#8470a6 30.0px,#986ea7 32.5px,#be527c 36.5px,#e0614e 41.0px,#e87247 49.0px,#f08640 53.0px,#fabd53 57.0px,#fdd666 61.0px,#fde57f 77.0px,#feee9b 82.5px,#fadd70 83.0px,#e8974c 83.5px,#a95787 84.0px,#5b4a7b 84.5px,#41295c 85.0px,#412b5d 91.0px,#62457e 107.0px,#664782 116.0px)"></i><i style="left:108px;width:1px;background:linear-gradient(#ae5f90 0.0px,#9370aa 8.0px,#7a669d 15.5px,#79659c 22.5px,#8670a7 29.0px,#9470aa 30.5px,#c15079 35.0px,#df5f50 37.5px,#f08440 41.5px,#f8b04c 53.0px,#fddc6c 57.0px,#feee99 61.0px,#feeb92 77.0px,#fff1a5 82.5px,#fae07a 83.0px,#eb9e4f 83.5px,#b15784 84.0px,#665487 84.5px,#50326c 85.0px,#493065 90.5px,#513c70 116.0px)"></i><i style="left:109px;width:1px;background:linear-gradient(#a0699f 0.0px,#9470aa 6.0px,#8470a6 11.0px,#976ea7 29.0px,#be527c 34.0px,#e0614e 37.5px,#ec7b44 41.0px,#f08440 46.5px,#f28f42 51.0px,#f7a748 54.0px,#fccd5d 57.0px,#fde37a 61.0px,#fee98a 67.0px,#feea90 77.0px,#fff1a5 82.5px,#fae07a 83.0px,#ea9e50 83.5px,#b15784 84.0px,#675588 84.5px,#51336e 85.0px,#473564 116.0px)"></i><i style="left:110px;width:1px;background:linear-gradient(#9470aa 0.0px,#8570a6 6.5px,#735f97 11.0px,#8570a6 21.5px,#966fa9 29.0px,#c35176 34.0px,#e0604e 36.5px,#ef8341 40.0px,#f8ad4b 53.0px,#fdd969 57.0px,#feec94 61.0px,#feed98 77.0px,#fff3aa 82.5px,#fbe27f 83.0px,#eba252 83.5px,#b45783 84.0px,#6d5b8f 84.5px,#5a3876 85.0px,#52376e 92.5px,#61497f 116.0px)"></i><i style="left:111px;width:1px;background:linear-gradient(#a96397 0.0px,#9370aa 7.0px,#7e6aa0 11.0px,#68558b 19.0px,#6a568d 29.0px,#826ea4 31.0px,#956fa9 33.0px,#be517c 36.5px,#e2644d 40.0px,#f08540 44.5px,#f8b14d 53.0px,#fde070 57.0px,#fff3a9 61.0px,#fef09f 77.0px,#fff4ad 82.5px,#fbe383 83.0px,#eca353 83.5px,#b75880 84.0px,#725d93 84.5px,#5f3a7b 85.0px,#573b73 93.0px,#6a5088 116.0px)"></i><i style="left:112px;width:1px;background:linear-gradient(#735f97 0.0px,#6b588f 5.0px,#544574 11.0px,#4f416f 29.0px,#6e5a91 32.5px,#836fa5 34.0px,#956fa9 35.5px,#c25177 40.5px,#d85c59 45.0px,#e3674b 49.0px,#f08340 53.0px,#fbc155 57.0px,#fddc6c 61.0px,#fee787 77.0px,#feef9e 82.5px,#f9dd73 83.0px,#e6974e 83.5px,#a85787 84.0px,#5e4d7f 84.5px,#472f64 85.0px,#422e5e 91.0px,#4e3b6c 116.0px)"></i><i style="left:113px;width:1px;background:linear-gradient(#4f406f 0.0px,#554675 29.0px,#8670a6 33.5px,#9170a9 34.5px,#c05079 40.0px,#dd5f52 49.0px,#ea7645 53.0px,#f08640 54.0px,#f9b44e 57.0px,#fcd363 61.0px,#fde47b 77.0px,#feec95 82.5px,#f9da6e 83.0px,#e3904b 83.5px,#a05888 84.0px,#544474 84.5px,#3c2956 85.0px,#392853 92.5px,#4c3a6a 108.5px,#4c3a69 116.0px)"></i><i style="left:114px;width:1px;background:linear-gradient(#715d94 0.0px,#6e5a92 5.0px,#5a4a7a 11.0px,#5f4e81 29.0px,#836fa5 32.5px,#9270a9 34.0px,#bf517b 39.5px,#c9546e 41.0px,#d35a60 49.0px,#e2644c 53.0px,#ef8141 55.0px,#f59f46 57.0px,#fbc255 61.0px,#fde070 75.5px,#feec94 82.5px,#f9d96d 83.0px,#e28f4b 83.5px,#9e5888 84.0px,#534473 84.5px,#3b2956 85.0px,#453562 116.0px)"></i><i style="left:115px;width:1px;background:linear-gradient(#8f70a9 0.0px,#836fa5 6.0px,#6e5a92 11.0px,#725e95 29.0px,#8570a6 31.0px,#9370aa 33.0px,#c0507a 38.5px,#ce5767 41.0px,#d25962 49.0px,#e0614e 53.0px,#f08440 55.5px,#fbc054 61.0px,#fde071 75.0px,#feec96 82.5px,#f9da6e 83.0px,#e3914c 83.5px,#a05888 84.0px,#554676 84.5px,#3e2b59 85.0px,#3f305b 116.0px)"></i><i style="left:116px;width:1px;background:linear-gradient(#8c70a8 0.0px,#8470a6 6.0px,#746097 11.0px,#8670a6 29.0px,#9470aa 31.0px,#bf517b 36.5px,#da5d56 41.0px,#df604f 49.0px,#e97346 53.0px,#ef8241 54.0px,#f8b04c 57.0px,#fcd060 61.0px,#fde37a 77.0px,#feec95 82.5px,#f8d96e 83.0px,#e28f4b 83.5px,#9e5888 84.0px,#534473 84.5px,#3d2a57 85.0px,#392953 93.5px,#493966 116.0px)"></i><i style="left:117px;width:1px;background:linear-gradient(#a1689e 0.0px,#9470aa 8.0px,#78649b 29.0px,#8570a6 30.5px,#966fa8 33.0px,#be527c 37.5px,#d65b5c 41.0px,#e4684b 49.0px,#f18841 53.5px,#fabc52 57.0px,#fdd969 61.0px,#fee98b 77.0px,#fff0a2 82.5px,#f9df78 83.0px,#e79a51 83.5px,#ab5886 84.0px,#655487 84.5px,#533770 85.0px,#4e376b 92.0px,#675086 108.0px,#654f85 116.0px)"></i><i style="left:118px;width:1px;background:linear-gradient(#c35276 0.0px,#be517c 5.0px,#9470aa 18.5px,#8570a6 23.0px,#69568c 29.0px,#8570a6 33.0px,#9370aa 34.5px,#c0507a 40.5px,#e0614e 50.0px,#f08440 54.0px,#f9b44e 57.0px,#fcd363 61.0px,#fee888 77.0px,#fff0a2 82.5px,#f9df78 83.0px,#e69b51 83.5px,#ab5886 84.0px,#665587 84.5px,#543971 85.0px,#573d74 92.5px,#7a5894 108.5px,#7c5a95 116.0px)"></i><i style="left:119px;width:1px;background:linear-gradient(#b55988 0.0px,#b05d8e 5.0px,#9570aa 13.5px,#8670a6 29.0px,#9570a9 31.0px,#c0507a 36.0px,#e1624d 40.0px,#f08440 49.5px,#f49744 53.0px,#f7a648 54.0px,#fccd5d 57.0px,#fde276 61.0px,#fee681 77.0px,#feee9b 82.5px,#f9dc70 83.0px,#e4944e 83.5px,#a35787 84.0px,#5c4c7d 84.5px,#483164 85.0px,#493466 91.0px,#6a538a 107.0px,#6c568c 116.0px)"></i><i style="left:120px;width:1px;background:linear-gradient(#806ca2 0.0px,#7e6aa0 5.0px,#69568c 11.0px,#6d5990 19.0px,#7f6ba1 29.0px,#956fa9 31.5px,#bf507b 36.0px,#e1614d 40.0px,#f08540 50.5px,#f39343 53.0px,#fcca5a 57.0px,#fde071 61.0px,#fde57f 77.0px,#feed99 82.5px,#f9db6f 83.0px,#e3924d 83.5px,#a15787 84.0px,#59497a 84.5px,#442f60 85.0px,#5e497e 116.0px)"></i><svg style="position:absolute;left:0;top:0" width="121" height="116"><path fill="#c56" d="M0 36h1v2h-1zM4 50h1v2h-1zM6 50h1v2h-1zM7 42h1v2h-1zM8 54h1v2h-1zM12 44h1v4h-1zM17 50h1v4h-1zM18 40h1v2h-1zM18 46h1v2h-1zM20 40h1v2h-1zM24 48h1v2h-1zM29 36h1v2h-1zM29 44h1v2h-1zM34 42h1v2h-1zM40 42h1v2h-1zM44 54h1v2h-1zM45 38h1v2h-1zM48 0h1v2h-1zM48 52h1v2h-1zM49 40h1v2h-1zM51 44h1v2h-1zM52 38h1v2h-1zM53 48h1v2h-1zM55 52h1v2h-1zM57 48h1v2h-1zM58 46h1v2h-1zM59 52h1v2h-1zM60 44h1v2h-1zM68 42h1v2h-1zM69 40h1v4h-1zM77 50h1v2h-1zM81 34h1v2h-1zM82 36h1v2h-1zM82 50h1v2h-1zM93 36h1v2h-1zM95 52h1v2h-1zM98 42h1v2h-1zM98 46h1v2h-1zM99 46h1v2h-1zM100 50h1v2h-1zM101 34h1v2h-1zM101 50h1v2h-1zM103 54h1v2h-1zM105 52h1v2h-1zM106 54h1v2h-1zM109 30h1v2h-1z"/><path fill="#e74" d="M0 38h1v2h-1zM4 42h1v2h-1zM9 28h1v2h-1zM13 48h1v2h-1zM15 56h1v2h-1zM20 50h1v2h-1zM25 48h1v2h-1zM25 56h1v2h-1zM27 48h1v2h-1zM28 44h1v4h-1zM29 40h1v4h-1zM30 54h1v2h-1zM31 54h1v2h-1zM32 42h1v2h-1zM32 52h1v2h-1zM33 52h1v2h-1zM34 54h1v2h-1zM37 48h1v2h-1zM44 48h1v2h-1zM48 38h1v2h-1zM50 56h1v2h-1zM56 50h1v2h-1zM58 36h1v2h-1zM62 48h1v2h-1zM65 36h1v2h-1zM66 52h1v2h-1zM69 46h1v2h-1zM70 50h1v2h-1zM73 40h1v2h-1zM78 52h1v2h-1zM79 38h1v2h-1zM80 42h1v2h-1zM84 50h1v2h-1zM87 34h1v2h-1zM88 38h1v2h-1zM93 40h1v2h-1zM95 34h1v2h-1zM97 54h1v2h-1zM102 44h1v2h-1zM104 46h1v2h-1zM115 44h1v4h-1zM118 46h1v2h-1z"/><path fill="#b58" d="M0 48h1v2h-1zM5 38h1v2h-1zM7 38h1v2h-1zM9 4h1v2h-1zM17 44h1v2h-1zM18 38h1v2h-1zM19 50h1v2h-1zM29 12h1v2h-1zM29 48h1v2h-1zM33 42h1v2h-1zM34 46h1v2h-1zM37 44h1v2h-1zM44 36h1v2h-1zM45 50h1v2h-1zM46 4h1v2h-1zM47 8h1v2h-1zM47 30h1v4h-1zM55 44h1v2h-1zM58 40h1v2h-1zM62 36h1v2h-1zM66 50h1v2h-1zM70 2h1v2h-1zM77 40h1v2h-1zM77 46h1v2h-1zM80 40h1v2h-1zM88 42h1v2h-1zM92 42h1v2h-1zM95 40h1v2h-1zM95 48h1v2h-1zM96 34h1v2h-1zM98 38h1v2h-1zM99 40h1v2h-1zM104 52h1v2h-1zM106 48h1v2h-1zM107 32h1v2h-1zM114 46h1v2h-1zM115 42h1v2h-1zM118 48h1v2h-1z"/><path fill="#fb5" d="M0 60h1v2h-1zM0 64h1v2h-1zM2 64h1v2h-1zM3 52h1v4h-1zM3 62h1v2h-1zM5 42h1v2h-1zM8 62h1v2h-1zM8 76h1v2h-1zM9 34h1v2h-1zM10 46h1v2h-1zM15 68h1v4h-1zM15 82h1v2h-1zM17 54h1v2h-1zM21 50h1v2h-1zM22 50h1v2h-1zM26 56h1v2h-1zM30 64h1v2h-1zM32 50h1v2h-1zM35 56h1v2h-1zM44 66h1v2h-1zM46 58h1v2h-1zM48 58h1v2h-1zM54 54h1v2h-1zM60 76h1v2h-1zM61 66h1v2h-1zM61 70h1v2h-1zM64 54h1v2h-1zM67 54h1v2h-1zM73 52h1v2h-1zM75 54h1v2h-1zM78 42h1v2h-1zM82 52h1v2h-1zM87 40h1v2h-1zM87 46h1v2h-1zM89 54h1v2h-1zM92 46h1v2h-1zM92 72h1v2h-1zM98 48h1v2h-1zM98 52h1v2h-1zM103 56h1v2h-1zM104 54h1v2h-1zM104 68h1v2h-1zM106 56h1v2h-1zM106 68h1v2h-1zM109 50h1v2h-1zM110 40h1v2h-1zM111 54h1v2h-1zM113 54h1v2h-1zM113 64h1v2h-1zM116 64h1v2h-1z"/><path fill="#fd6" d="M0 80h1v2h-1zM6 56h1v2h-1zM10 54h1v2h-1zM11 76h1v2h-1zM12 66h1v2h-1zM16 58h1v2h-1zM17 80h1v2h-1zM24 76h1v2h-1zM31 80h1v2h-1zM42 56h1v2h-1zM43 62h1v2h-1zM43 74h1v2h-1zM47 78h1v2h-1zM52 82h1v2h-1zM53 54h1v2h-1zM57 56h1v2h-1zM61 64h1v2h-1zM62 58h1v2h-1zM71 80h1v2h-1zM77 78h1v2h-1zM78 64h1v2h-1zM81 52h1v2h-1zM81 72h1v2h-1zM94 56h1v2h-1zM100 78h1v2h-1zM101 58h1v2h-1zM110 66h1v2h-1zM118 56h1v2h-1z"/><path fill="#112" d="M0 100h1v2h-1zM2 98h1v2h-1zM6 114h1v2h-1zM12 102h1v2h-1zM12 114h1v2h-1zM13 96h1v2h-1zM14 100h1v2h-1zM18 92h1v2h-1zM20 86h1v2h-1zM20 108h1v2h-1zM21 100h1v2h-1zM23 90h1v2h-1zM28 84h1v2h-1zM30 100h1v2h-1zM31 86h1v2h-1zM31 92h1v2h-1zM32 94h1v2h-1zM33 86h1v2h-1zM41 98h1v2h-1zM41 108h1v2h-1zM41 114h1v2h-1zM44 88h1v2h-1zM45 100h1v2h-1zM47 104h1v2h-1zM48 102h1v2h-1zM51 92h1v2h-1zM54 110h1v2h-1zM55 102h1v2h-1zM56 86h1v2h-1zM56 90h1v2h-1zM56 114h1v2h-1zM57 88h1v2h-1zM57 96h1v2h-1zM58 96h1v2h-1zM59 88h1v2h-1zM63 94h1v2h-1zM63 108h1v2h-1zM65 112h1v2h-1zM68 86h1v2h-1zM69 100h1v2h-1zM69 106h1v2h-1zM70 84h1v2h-1zM80 84h1v2h-1zM81 102h1v2h-1zM81 108h1v2h-1zM83 88h1v2h-1zM84 92h1v2h-1zM86 98h1v2h-1zM86 106h1v2h-1zM87 110h1v2h-1zM88 100h1v2h-1zM90 90h1v4h-1zM91 96h1v2h-1zM92 102h1v2h-1z"/><path fill="#213" d="M0 104h1v2h-1zM9 84h1v2h-1zM10 108h1v2h-1zM11 104h1v2h-1zM12 84h1v2h-1zM23 102h1v2h-1zM24 110h1v2h-1zM25 94h1v4h-1zM32 86h1v2h-1zM32 110h1v2h-1zM36 94h1v2h-1zM41 86h1v2h-1zM46 102h1v2h-1zM46 108h1v2h-1zM54 86h1v2h-1zM57 98h1v2h-1zM64 94h1v2h-1zM81 110h1v2h-1zM87 114h1v2h-1zM92 114h1v2h-1zM93 88h1v2h-1zM95 106h1v2h-1zM96 88h1v2h-1zM98 92h1v2h-1zM98 114h1v2h-1zM100 86h1v2h-1zM100 92h1v4h-1zM100 100h1v2h-1zM101 96h1v2h-1zM103 96h1v4h-1zM107 84h1v2h-1zM114 86h1v2h-1z"/><path fill="#113" d="M0 106h1v2h-1zM9 88h1v2h-1zM14 106h1v2h-1zM23 94h1v2h-1zM25 108h1v2h-1zM29 86h1v2h-1zM30 84h1v2h-1zM31 112h1v2h-1zM33 112h1v2h-1zM39 94h1v2h-1zM42 88h1v2h-1zM42 92h1v2h-1zM46 88h1v2h-1zM51 88h1v2h-1zM52 100h1v2h-1zM53 98h1v2h-1zM63 110h1v2h-1zM74 100h1v2h-1zM77 88h1v2h-1zM77 98h1v2h-1zM81 96h1v2h-1zM87 98h1v2h-1z"/><path fill="#e94" d="M1 44h1v2h-1zM1 52h1v2h-1zM6 48h1v2h-1zM8 42h1v2h-1zM9 54h1v2h-1zM10 34h1v4h-1zM15 62h1v2h-1zM18 44h1v2h-1zM24 44h1v2h-1zM29 46h1v2h-1zM31 56h1v2h-1zM32 48h1v2h-1zM38 52h1v2h-1zM38 58h1v2h-1zM47 40h1v2h-1zM47 50h1v2h-1zM49 48h1v4h-1zM51 46h1v2h-1zM52 36h1v2h-1zM53 44h1v2h-1zM59 50h1v2h-1zM64 44h1v2h-1zM65 42h1v2h-1zM65 54h1v2h-1zM71 52h1v2h-1zM76 50h1v2h-1zM79 40h1v2h-1zM83 56h1v2h-1zM86 50h1v2h-1zM90 54h1v2h-1zM92 44h1v2h-1zM94 58h1v2h-1zM101 42h1v2h-1zM102 50h1v2h-1zM103 58h1v2h-1zM107 48h1v2h-1zM113 44h1v2h-1zM113 52h1v2h-1zM114 48h1v2h-1zM117 42h1v2h-1z"/><path fill="#a58" d="M1 46h1v2h-1zM21 40h1v2h-1zM41 38h1v2h-1zM62 4h1v2h-1zM69 50h1v2h-1zM119 30h1v2h-1z"/><path fill="#a68" d="M1 48h1v2h-1zM31 46h1v2h-1zM71 46h1v2h-1zM82 46h1v2h-1zM86 40h1v2h-1zM100 46h1v2h-1zM103 50h1v2h-1zM110 28h1v2h-1z"/><path fill="#c57" d="M1 50h1v2h-1zM8 48h1v2h-1zM9 18h1v2h-1zM25 52h1v2h-1zM80 44h1v4h-1zM107 2h1v2h-1zM112 50h1v2h-1zM114 54h1v2h-1z"/><path fill="#627" d="M1 84h1v2h-1zM4 114h1v2h-1zM7 104h1v2h-1zM8 114h1v2h-1zM9 112h1v2h-1zM13 108h1v2h-1zM20 98h1v2h-1zM20 112h1v2h-1zM28 86h1v6h-1zM35 110h1v2h-1zM36 114h1v2h-1zM42 100h1v2h-1zM42 114h1v2h-1zM45 106h1v2h-1zM49 112h1v2h-1zM50 84h1v2h-1zM53 104h1v2h-1zM57 108h1v2h-1zM66 112h1v2h-1zM69 98h1v2h-1zM72 96h1v2h-1zM72 102h1v2h-1zM73 96h1v2h-1zM77 84h1v2h-1zM77 102h1v2h-1zM77 110h1v2h-1zM80 108h1v4h-1zM81 100h1v2h-1zM83 90h1v2h-1zM86 114h1v2h-1zM87 94h1v2h-1z"/><path fill="#969" d="M2 42h1v2h-1zM56 30h1v2h-1zM66 44h1v2h-1zM70 46h1v2h-1zM72 42h1v2h-1zM82 18h1v2h-1zM94 42h1v2h-1zM97 46h1v2h-1zM114 40h1v2h-1z"/><path fill="#fc5" d="M2 54h1v2h-1zM3 64h1v2h-1zM7 68h1v2h-1zM14 72h1v2h-1zM19 64h1v2h-1zM28 54h1v2h-1zM31 82h1v2h-1zM33 46h1v2h-1zM36 48h1v2h-1zM36 60h1v2h-1zM45 70h1v2h-1zM48 64h1v2h-1zM48 82h1v2h-1zM51 66h1v2h-1zM52 46h1v2h-1zM55 66h1v2h-1zM57 72h1v2h-1zM60 58h1v2h-1zM63 50h1v2h-1zM66 70h1v2h-1zM67 82h1v2h-1zM69 72h1v2h-1zM80 60h1v2h-1zM81 48h1v2h-1zM81 82h1v2h-1zM82 54h1v2h-1zM85 70h1v2h-1zM88 48h1v2h-1zM94 66h1v2h-1zM95 66h1v2h-1zM98 54h1v2h-1zM107 54h1v2h-1zM108 50h1v2h-1zM109 52h1v2h-1zM116 72h1v2h-1z"/><path fill="#426" d="M2 106h1v2h-1zM4 110h1v2h-1zM26 96h1v2h-1zM62 98h1v2h-1zM67 104h1v2h-1zM70 104h1v2h-1zM80 86h1v2h-1zM84 86h1v2h-1zM85 110h1v2h-1z"/><path fill="#102" d="M2 112h1v2h-1zM3 98h1v2h-1zM8 88h1v2h-1zM11 114h1v2h-1zM15 86h1v2h-1zM17 106h1v2h-1zM18 94h1v4h-1zM26 98h1v2h-1zM34 92h1v2h-1zM34 106h1v2h-1zM35 88h1v2h-1zM38 104h1v2h-1zM41 110h1v2h-1zM44 94h1v2h-1zM47 90h1v2h-1zM49 84h1v2h-1zM49 100h1v2h-1zM55 114h1v2h-1zM60 90h1v2h-1zM61 96h1v2h-1zM62 86h1v2h-1zM68 102h1v2h-1zM70 94h1v2h-1zM71 90h1v2h-1zM75 86h1v2h-1zM75 94h1v2h-1zM75 106h1v2h-1zM80 104h1v2h-1zM81 92h1v2h-1zM83 98h1v2h-1zM86 86h1v2h-1zM89 90h1v2h-1zM90 86h1v2h-1z"/><path fill="#658" d="M3 0h1v2h-1zM28 6h1v2h-1zM48 16h1v2h-1zM54 40h1v2h-1zM55 42h1v2h-1zM59 34h1v2h-1zM74 0h1v2h-1zM82 84h1v2h-1zM86 34h1v2h-1zM93 32h1v2h-1zM96 4h1v2h-1zM105 36h1v2h-1z"/><path fill="#d65" d="M3 44h1v2h-1zM5 54h1v2h-1zM10 40h1v2h-1zM15 44h1v2h-1zM37 42h1v2h-1zM49 44h1v2h-1zM50 50h1v2h-1zM51 34h1v2h-1zM51 52h1v2h-1zM60 40h1v2h-1zM64 32h1v2h-1zM66 46h1v2h-1zM68 54h1v2h-1zM75 40h1v2h-1zM76 48h1v2h-1zM77 38h1v2h-1zM79 36h1v2h-1zM83 44h1v2h-1zM85 44h1v2h-1zM87 42h1v2h-1zM88 50h1v2h-1zM97 40h1v2h-1zM112 40h1v2h-1zM113 38h1v2h-1zM115 56h1v2h-1zM117 52h1v2h-1zM118 40h1v2h-1zM119 46h1v2h-1z"/><path fill="#e84" d="M3 48h1v2h-1zM4 46h1v2h-1zM5 48h1v2h-1zM8 50h1v2h-1zM9 46h1v2h-1zM11 50h1v2h-1zM13 50h1v2h-1zM18 42h1v2h-1zM21 54h1v2h-1zM23 40h1v2h-1zM24 52h1v2h-1zM29 54h1v2h-1zM30 44h1v2h-1zM32 44h1v2h-1zM34 48h1v2h-1zM35 40h1v2h-1zM37 56h1v2h-1zM38 56h1v2h-1zM43 42h1v2h-1zM47 42h1v2h-1zM48 54h1v2h-1zM51 38h1v2h-1zM56 52h1v2h-1zM57 40h1v2h-1zM61 58h1v2h-1zM69 48h1v2h-1zM72 38h1v2h-1zM85 52h1v2h-1zM86 48h1v2h-1zM86 56h1v2h-1zM87 52h1v2h-1zM89 56h1v2h-1zM91 56h1v2h-1zM92 48h1v2h-1zM93 48h1v2h-1zM94 46h1v2h-1zM95 42h1v2h-1zM96 48h1v2h-1zM100 40h1v2h-1zM102 46h1v4h-1zM103 48h1v2h-1zM106 50h1v2h-1zM107 44h1v2h-1zM111 36h1v2h-1zM112 48h1v2h-1zM115 48h1v2h-1zM120 42h1v2h-1z"/><path fill="#fea" d="M3 74h1v2h-1zM9 62h1v2h-1zM10 76h1v2h-1zM19 70h1v2h-1zM20 82h1v2h-1zM21 70h1v2h-1zM21 82h1v2h-1zM22 66h1v2h-1zM25 74h1v2h-1zM27 78h1v2h-1zM33 58h1v2h-1zM35 62h1v2h-1zM38 68h1v2h-1zM45 66h1v2h-1zM46 62h1v2h-1zM46 74h1v2h-1zM46 80h1v2h-1zM49 70h1v2h-1zM51 64h1v2h-1zM51 76h1v2h-1zM53 74h1v2h-1zM53 82h1v2h-1zM56 74h1v2h-1zM60 68h1v2h-1zM60 74h1v2h-1zM60 80h1v2h-1zM63 66h1v2h-1zM63 74h1v2h-1zM64 74h1v2h-1zM65 76h1v2h-1zM67 60h1v2h-1zM67 78h1v2h-1zM70 70h1v2h-1zM75 66h1v2h-1zM76 62h1v2h-1zM77 74h1v2h-1zM79 64h1v2h-1zM79 72h1v2h-1zM79 76h1v2h-1zM80 66h1v2h-1zM80 80h1v2h-1zM85 76h1v8h-1zM87 72h1v2h-1zM88 78h1v2h-1zM90 70h1v2h-1zM94 82h1v2h-1zM95 68h1v2h-1zM99 62h1v2h-1zM101 78h1v2h-1zM102 78h1v2h-1zM103 78h1v2h-1zM104 60h1v2h-1zM106 74h1v2h-1zM107 72h1v2h-1zM108 58h1v2h-1zM108 72h1v2h-1zM108 78h1v2h-1zM112 74h1v2h-1zM118 68h1v2h-1zM119 72h1v2h-1z"/><path fill="#637" d="M3 84h1v2h-1zM6 94h1v2h-1zM7 84h1v2h-1zM11 112h1v2h-1zM17 104h1v2h-1zM20 84h1v2h-1zM32 102h1v2h-1zM36 110h1v2h-1zM40 92h1v2h-1zM40 108h1v2h-1zM43 114h1v2h-1zM47 108h1v2h-1zM51 86h1v2h-1zM52 106h1v2h-1zM57 102h1v2h-1zM58 114h1v2h-1zM62 30h1v2h-1zM63 104h1v2h-1zM65 84h1v2h-1zM68 114h1v2h-1zM70 86h1v2h-1zM73 98h1v2h-1zM76 112h1v4h-1zM81 90h1v2h-1zM90 98h1v2h-1zM91 102h1v2h-1zM92 110h1v2h-1zM93 100h1v2h-1zM94 86h1v6h-1zM97 106h1v2h-1zM101 94h1v2h-1z"/><path fill="#101" d="M3 114h1v2h-1zM15 88h1v2h-1zM15 112h1v2h-1zM16 84h1v2h-1zM16 110h1v2h-1zM18 90h1v2h-1zM26 92h1v2h-1zM27 108h1v2h-1zM28 104h1v2h-1zM38 100h1v2h-1zM51 108h1v2h-1zM54 114h1v2h-1zM61 98h1v2h-1zM66 88h1v4h-1zM67 106h1v2h-1zM70 100h1v2h-1zM71 110h1v2h-1z"/><path fill="#a69" d="M4 38h1v2h-1zM6 34h1v2h-1zM6 42h1v2h-1zM8 40h1v2h-1zM8 46h1v2h-1zM11 36h1v2h-1zM12 38h1v2h-1zM20 46h1v2h-1zM25 44h1v2h-1zM26 50h1v2h-1zM28 48h1v2h-1zM30 40h1v2h-1zM35 10h1v2h-1zM38 34h1v2h-1zM38 46h1v4h-1zM41 36h1v2h-1zM45 48h1v2h-1zM49 46h1v2h-1zM50 52h1v2h-1zM53 40h1v2h-1zM54 52h1v2h-1zM55 6h1v2h-1zM59 46h1v2h-1zM64 24h1v2h-1zM73 6h1v2h-1zM75 42h1v2h-1zM83 46h1v2h-1zM86 0h1v2h-1zM89 40h1v2h-1zM91 38h1v2h-1zM94 52h1v2h-1zM100 44h1v2h-1zM104 44h1v2h-1zM106 42h1v2h-1zM108 36h1v2h-1zM109 36h1v2h-1zM111 6h1v2h-1zM115 0h1v2h-1zM115 32h1v2h-1zM117 36h1v2h-1zM117 44h1v2h-1zM119 16h1v2h-1z"/><path fill="#fc6" d="M4 58h1v2h-1zM19 56h1v2h-1zM21 66h1v2h-1zM28 70h1v2h-1zM30 56h1v2h-1zM30 72h1v2h-1zM32 54h1v2h-1zM35 60h1v2h-1zM46 54h1v2h-1zM47 70h1v2h-1zM48 72h1v2h-1zM54 70h1v2h-1zM59 74h1v2h-1zM63 62h1v2h-1zM75 64h1v2h-1zM77 82h1v2h-1zM92 54h1v2h-1zM96 70h1v2h-1zM104 58h1v2h-1zM108 82h1v2h-1zM116 78h1v2h-1zM117 68h1v2h-1z"/><path fill="#527" d="M4 90h1v2h-1zM6 102h1v4h-1zM7 86h1v2h-1zM7 90h1v2h-1zM34 110h1v2h-1zM35 114h1v2h-1zM67 84h1v2h-1zM82 92h1v2h-1zM85 108h1v2h-1zM89 108h1v2h-1zM92 96h1v2h-1z"/><path fill="#769" d="M5 30h1v2h-1zM20 38h1v2h-1zM21 38h1v2h-1zM24 4h1v2h-1zM26 42h1v2h-1zM29 10h1v2h-1zM31 38h1v2h-1zM33 34h1v2h-1zM38 36h1v4h-1zM46 6h1v2h-1zM66 40h1v2h-1zM76 42h1v2h-1zM77 2h1v2h-1zM78 32h1v2h-1zM81 0h1v2h-1zM111 0h1v2h-1zM115 36h1v2h-1zM117 32h1v2h-1z"/><path fill="#fa4" d="M5 40h1v2h-1zM5 52h1v2h-1zM11 42h1v2h-1zM26 60h1v2h-1zM31 52h1v2h-1zM39 60h1v2h-1zM41 58h1v2h-1zM42 52h1v2h-1zM47 48h1v2h-1zM48 48h1v2h-1zM51 42h1v2h-1zM51 48h1v2h-1zM53 50h1v2h-1zM64 50h1v2h-1zM67 52h1v2h-1zM93 52h1v2h-1zM94 44h1v2h-1zM99 52h1v2h-1zM105 54h1v2h-1zM107 40h1v2h-1zM107 58h1v2h-1zM109 44h1v6h-1zM111 44h1v2h-1zM113 58h1v2h-1zM119 40h1v2h-1zM120 52h1v2h-1z"/><path fill="#526" d="M5 102h1v2h-1zM19 88h1v2h-1zM22 106h1v2h-1zM37 90h1v2h-1zM39 98h1v2h-1zM39 110h1v2h-1zM59 86h1v2h-1zM69 110h1v2h-1zM70 92h1v2h-1zM72 114h1v2h-1zM76 88h1v2h-1zM76 100h1v2h-1zM78 94h1v2h-1zM78 102h1v2h-1zM80 94h1v2h-1zM92 94h1v2h-1zM95 102h1v2h-1z"/><path fill="#fe9" d="M6 62h1v2h-1zM7 66h1v2h-1zM10 56h1v2h-1zM37 66h1v2h-1zM49 64h1v2h-1zM57 64h1v2h-1zM60 82h1v2h-1zM61 82h1v2h-1zM75 58h1v2h-1zM79 56h1v2h-1zM92 68h1v2h-1zM93 62h1v2h-1zM99 60h1v2h-1zM102 62h1v2h-1zM113 60h1v2h-1zM113 68h1v2h-1zM115 70h1v2h-1z"/><path fill="#87a" d="M7 40h1v2h-1zM10 24h1v4h-1zM15 38h1v2h-1zM16 44h1v2h-1zM19 40h1v2h-1zM24 0h1v4h-1zM27 40h1v4h-1zM34 40h1v2h-1zM48 4h1v2h-1zM49 38h1v2h-1zM50 44h1v2h-1zM55 34h1v2h-1zM57 34h1v2h-1zM61 40h1v2h-1zM62 46h1v2h-1zM65 38h1v2h-1zM68 48h1v2h-1zM74 2h1v2h-1zM76 40h1v2h-1zM86 36h1v2h-1zM92 34h1v2h-1zM93 42h1v2h-1zM95 36h1v2h-1zM97 38h1v2h-1zM97 42h1v2h-1zM107 4h1v2h-1zM108 32h1v2h-1zM110 30h1v2h-1zM111 26h1v2h-1zM113 36h1v2h-1zM114 34h1v2h-1zM115 40h1v2h-1zM118 12h1v2h-1zM120 34h1v2h-1z"/><path fill="#537" d="M7 108h1v2h-1zM17 92h1v2h-1zM23 84h1v2h-1zM29 110h1v2h-1zM34 104h1v2h-1zM35 86h1v2h-1zM36 102h1v2h-1zM43 112h1v2h-1zM46 98h1v2h-1zM58 90h1v2h-1zM58 104h1v2h-1zM59 98h1v2h-1zM70 0h1v2h-1zM74 106h1v2h-1zM76 110h1v2h-1zM104 88h1v2h-1z"/><path fill="#fe8" d="M8 64h1v2h-1zM24 56h1v2h-1zM29 56h1v2h-1zM49 62h1v2h-1zM56 60h1v2h-1zM63 56h1v2h-1zM84 62h1v2h-1zM87 54h1v2h-1zM116 58h1v2h-1zM117 58h1v2h-1z"/><path fill="#d55" d="M9 22h1v2h-1zM11 34h1v2h-1zM27 44h1v2h-1zM28 40h1v2h-1zM28 52h1v2h-1zM29 0h1v2h-1zM33 38h1v2h-1zM46 44h1v2h-1zM49 52h1v2h-1zM55 38h1v2h-1zM58 48h1v2h-1zM60 54h1v2h-1zM66 54h1v2h-1zM67 42h1v2h-1zM85 40h1v2h-1zM90 48h1v2h-1zM108 48h1v2h-1zM120 48h1v2h-1z"/><path fill="#b57" d="M9 36h1v2h-1zM23 2h1v2h-1zM26 40h1v2h-1zM29 4h1v2h-1zM30 52h1v2h-1zM36 34h1v2h-1zM39 48h1v2h-1zM40 44h1v2h-1zM44 52h1v2h-1zM50 42h1v2h-1zM50 54h1v2h-1zM58 34h1v2h-1zM58 42h1v4h-1zM61 44h1v2h-1zM70 52h1v2h-1zM72 40h1v2h-1zM76 38h1v2h-1zM83 50h1v2h-1zM91 34h1v2h-1zM92 40h1v2h-1zM93 46h1v2h-1zM94 36h1v2h-1zM97 48h1v2h-1zM99 42h1v2h-1zM105 50h1v2h-1zM107 46h1v2h-1zM120 32h1v2h-1zM120 38h1v2h-1z"/><path fill="#d64" d="M9 38h1v2h-1zM14 48h1v2h-1zM15 42h1v2h-1zM20 48h1v2h-1zM35 52h1v2h-1zM39 40h1v4h-1zM44 46h1v2h-1zM45 44h1v2h-1zM45 54h1v2h-1zM46 36h1v2h-1zM56 54h1v2h-1zM59 56h1v2h-1zM61 52h1v2h-1zM79 46h1v2h-1zM83 48h1v2h-1zM83 54h1v2h-1zM88 36h1v2h-1zM89 42h1v2h-1zM90 36h1v2h-1zM92 38h1v2h-1zM94 54h1v2h-1zM118 54h1v2h-1zM119 36h1v2h-1z"/><path fill="#759" d="M10 28h1v2h-1zM51 2h1v2h-1zM58 106h1v2h-1zM116 114h1v2h-1zM120 110h1v2h-1z"/><path fill="#546" d="M11 108h1v2h-1zM63 100h1v2h-1zM65 92h1v2h-1zM118 104h1v2h-1z"/><path fill="#d56" d="M12 36h1v2h-1z"/><path fill="#fd7" d="M14 62h1v2h-1zM33 56h1v2h-1zM50 64h1v2h-1zM64 64h1v2h-1zM66 60h1v2h-1zM77 58h1v2h-1zM78 46h1v2h-1z"/><path fill="#415" d="M15 102h1v2h-1zM16 88h1v2h-1zM60 102h1v2h-1zM61 84h1v2h-1zM113 114h1v2h-1zM116 108h1v2h-1z"/><path fill="#96a" d="M17 38h1v2h-1zM20 42h1v2h-1zM33 32h1v2h-1zM42 38h1v2h-1zM47 2h1v2h-1zM76 44h1v2h-1zM89 4h1v2h-1zM103 40h1v2h-1zM103 46h1v2h-1z"/><path fill="#628" d="M20 90h1v2h-1z"/><path fill="#547" d="M22 90h1v2h-1zM35 22h1v2h-1zM47 22h1v2h-1zM53 84h1v2h-1zM64 114h1v2h-1zM68 2h1v2h-1zM69 92h1v2h-1zM72 4h1v2h-1zM114 102h1v2h-1z"/><path fill="#ea4" d="M25 62h1v2h-1zM30 50h1v2h-1zM33 50h1v2h-1zM34 56h1v2h-1zM57 52h1v2h-1zM81 46h1v2h-1zM83 52h1v2h-1zM85 60h1v2h-1zM98 58h1v2h-1zM111 40h1v2h-1z"/><path fill="#97a" d="M26 46h1v2h-1zM30 46h1v2h-1zM40 36h1v2h-1zM46 0h1v2h-1zM50 46h1v2h-1zM60 50h1v2h-1zM61 46h1v2h-1zM75 38h1v2h-1zM77 36h1v2h-1zM82 42h1v2h-1zM101 18h1v2h-1z"/><path fill="#315" d="M27 100h1v2h-1zM116 112h1v2h-1z"/><path fill="#314" d="M27 110h1v2h-1zM101 108h1v2h-1zM107 96h1v2h-1zM114 104h1v2h-1zM119 84h1v2h-1z"/><path fill="#86a" d="M29 6h1v2h-1zM52 0h1v2h-1z"/><path fill="#fa5" d="M40 52h1v2h-1zM51 40h1v2h-1zM67 58h1v2h-1zM115 64h1v2h-1z"/><path fill="#659" d="M43 6h1v2h-1z"/><path fill="#446" d="M57 94h1v2h-1zM74 108h1v2h-1zM79 84h1v2h-1zM81 112h1v2h-1z"/><path fill="#e64" d="M65 50h1v2h-1zM75 46h1v2h-1z"/><path fill="#657" d="M81 12h1v2h-1z"/><path fill="#638" d="M88 96h1v2h-1zM92 92h1v2h-1zM98 94h1v2h-1zM98 104h1v2h-1z"/><path fill="#738" d="M91 114h1v2h-1zM94 98h1v2h-1zM98 86h1v2h-1z"/><path fill="#647" d="M94 96h1v2h-1z"/><path fill="#214" d="M99 96h1v2h-1z"/><path fill="#748" d="M100 104h1v2h-1zM101 102h1v2h-1zM104 92h1v2h-1zM104 108h1v2h-1zM108 94h1v2h-1zM118 90h1v4h-1zM120 84h1v2h-1z"/><path fill="#212" d="M102 92h1v2h-1z"/><path fill="#536" d="M103 90h1v2h-1z"/><path fill="#324" d="M105 104h1v2h-1zM112 92h1v2h-1zM120 96h1v2h-1z"/><path fill="#325" d="M106 112h1v2h-1zM118 96h1v2h-1z"/><path fill="#435" d="M107 110h1v2h-1zM110 114h1v2h-1zM111 114h1v2h-1zM120 106h1v2h-1z"/><path fill="#224" d="M108 90h1v4h-1z"/><path fill="#335" d="M110 98h1v2h-1z"/><path fill="#858" d="M110 102h1v2h-1zM111 106h1v2h-1z"/><path fill="#859" d="M110 106h1v4h-1zM112 100h1v2h-1zM117 112h1v2h-1zM120 100h1v2h-1z"/><path fill="#848" d="M111 88h1v2h-1zM118 88h1v2h-1z"/><path fill="#758" d="M111 98h1v2h-1zM112 114h1v2h-1z"/><path fill="#648" d="M112 88h1v2h-1zM114 106h1v2h-1zM120 90h1v2h-1z"/><path fill="#425" d="M113 98h1v2h-1zM113 112h1v2h-1zM114 110h1v2h-1z"/><path fill="#958" d="M118 110h1v2h-1zM119 106h1v2h-1z"/><path fill="#436" d="M119 110h1v2h-1z"/></svg></div></div><div class="hm" style="left:243px;top:165px;width:121px;height:116px"><div style="position:absolute;left:0;top:0;width:121px;height:116px;filter:blur(0.75px)"><i style="left:0px;width:1px;background:linear-gradient(#68568b 0.0px,#5f4e80 20.0px,#725e95 32.0px,#a1689f 32.5px,#bc547f 57.5px,#fdd767 58.0px,#fdd666 78.5px,#f9b34e 79.0px,#e1634d 79.5px,#9370aa 80.0px,#6a2c7e 80.5px,#25113c 81.0px,#24103a 116.0px)"></i><i style="left:1px;width:1px;background:linear-gradient(#584978 0.0px,#5a4a7a 19.5px,#715d95 32.0px,#a0699f 32.5px,#b15c8c 49.5px,#ab6295 57.5px,#fcd363 58.0px,#fccc5c 78.5px,#f6a347 79.0px,#d15962 79.5px,#7f6ba1 80.0px,#441a5e 80.5px,#190c2e 81.0px,#1e0e34 116.0px)"></i><i style="left:2px;width:1px;background:linear-gradient(#8770a7 0.0px,#8b70a8 18.0px,#9470aa 22.0px,#a96396 31.5px,#eb7944 32.0px,#f08340 36.0px,#f6a547 48.5px,#f49945 57.5px,#fee684 58.0px,#fddb6b 78.5px,#f9b54f 79.0px,#e2644d 79.5px,#9470aa 80.0px,#623179 80.5px,#2e1345 81.0px,#2a1241 90.5px,#36164f 116.0px)"></i><i style="left:3px;width:1px;background:linear-gradient(#9370aa 0.0px,#826ea4 18.5px,#976ea7 31.5px,#d65b5c 32.0px,#e0604e 36.5px,#f08340 45.0px,#f49744 51.5px,#f59b45 57.5px,#fee785 58.0px,#fee682 78.0px,#fde378 78.5px,#fbbf54 79.0px,#e76f48 79.5px,#9f69a0 80.0px,#504270 80.5px,#451a5f 81.0px,#41195b 95.0px,#56206d 109.5px,#4f1e67 116.0px)"></i><i style="left:4px;width:1px;background:linear-gradient(#504170 0.0px,#594979 31.5px,#806ca2 32.0px,#9370aa 41.5px,#c25177 57.5px,#fdd969 58.0px,#fdda6a 78.0px,#fdd666 78.5px,#f7ab49 79.0px,#d75b5a 79.5px,#8870a7 80.0px,#622576 80.5px,#27123e 81.0px,#3b1754 116.0px)"></i><i style="left:5px;width:1px;background:linear-gradient(#503b6f 0.0px,#504170 19.0px,#604f81 31.5px,#8b70a8 32.0px,#9470aa 38.5px,#c0507a 50.5px,#d25961 57.5px,#fddb6b 58.0px,#fdda6a 78.0px,#fcd464 78.5px,#f7a648 79.0px,#d15962 79.5px,#816da4 80.0px,#56206d 80.5px,#25113c 81.0px,#27123e 116.0px)"></i><i style="left:6px;width:1px;background:linear-gradient(#4c3e6c 0.0px,#514271 19.0px,#6e5a91 31.5px,#9e6aa1 32.0px,#9b6ca3 37.5px,#a86498 47.0px,#c05079 54.5px,#cb566a 57.5px,#fdda6a 58.0px,#fdde6e 78.0px,#fdd767 78.5px,#f7a848 79.0px,#d35960 79.5px,#8570a6 80.0px,#602575 80.5px,#2c1343 81.0px,#25113b 116.0px)"></i><i style="left:7px;width:1px;background:linear-gradient(#5f4e7f 0.0px,#665488 17.5px,#836fa5 26.5px,#8870a7 31.5px,#be527d 32.0px,#c0507b 44.0px,#df604f 54.5px,#e46a4a 57.5px,#fde070 58.0px,#fde070 78.0px,#fdd868 78.5px,#f7a848 79.0px,#d25961 79.5px,#8570a6 80.0px,#652679 80.5px,#32154a 81.0px,#3a1752 97.0px,#27123e 116.0px)"></i><i style="left:8px;width:1px;background:linear-gradient(#6d5991 0.0px,#645286 17.5px,#8470a6 27.5px,#8a70a7 31.5px,#c15178 32.0px,#df604f 46.0px,#ea7646 57.5px,#fde174 58.0px,#fdde6e 78.0px,#fdd565 78.5px,#f6a247 79.0px,#cc5669 79.5px,#7d699f 80.0px,#5a2270 80.5px,#2f1447 81.0px,#3d1856 97.0px,#26113d 116.0px)"></i><i style="left:9px;width:1px;background:linear-gradient(#645286 0.0px,#635184 17.5px,#8470a6 28.0px,#8770a7 31.5px,#bd537e 32.0px,#c35176 57.5px,#fdd868 58.0px,#fdda6a 78.0px,#fccf5f 78.5px,#f49744 79.0px,#c25178 79.5px,#6e5a92 80.0px,#44195d 80.5px,#26113d 81.0px,#2c1344 116.0px)"></i><i style="left:10px;width:1px;background:linear-gradient(#6b578e 0.0px,#77639a 17.5px,#8570a6 23.0px,#9070a9 31.5px,#cc5669 32.0px,#d25961 57.5px,#fddb6b 58.0px,#fddb6b 78.0px,#fccf5f 78.5px,#f39644 79.0px,#bf507b 79.5px,#6c5890 80.0px,#43195d 80.5px,#28123e 81.0px,#34154d 116.0px)"></i><i style="left:11px;width:1px;background:linear-gradient(#544574 0.0px,#625084 17.0px,#8470a6 25.5px,#9270aa 31.5px,#d25961 32.0px,#e0604e 38.5px,#e87347 49.0px,#e56c49 58.0px,#fddf6f 58.5px,#fddc6c 78.0px,#fcce5e 78.5px,#f39243 79.0px,#bc537f 79.5px,#68558b 80.0px,#41195a 80.5px,#28123f 81.0px,#371650 116.0px)"></i><i style="left:12px;width:1px;background:linear-gradient(#504170 0.0px,#504170 21.0px,#7b679e 31.5px,#b15c8c 32.0px,#c15079 37.5px,#da5d56 48.0px,#da5d56 58.0px,#fddc6c 58.5px,#fdd868 78.0px,#fcc959 78.5px,#f18941 79.0px,#b55a88 79.5px,#5d4c7e 80.0px,#36164e 80.5px,#24103b 81.0px,#28123f 116.0px)"></i><i style="left:13px;width:1px;background:linear-gradient(#544574 0.0px,#5c4c7d 17.5px,#826ea5 31.5px,#b95683 32.0px,#c05079 37.5px,#dd5f52 51.0px,#e0604e 58.0px,#fddd6d 58.5px,#fdd969 78.0px,#fcc959 78.5px,#f08640 79.0px,#b25c8b 79.5px,#5a4a7a 80.0px,#35154d 80.5px,#25113b 81.0px,#291240 116.0px)"></i><i style="left:14px;width:1px;background:linear-gradient(#554575 0.0px,#8470a6 25.0px,#8870a7 31.5px,#c0507a 32.0px,#d75c5a 58.0px,#fddc6c 58.5px,#fdd969 78.0px,#fcc657 78.5px,#ef8141 79.0px,#ae5f91 79.5px,#554675 80.0px,#301448 80.5px,#23103a 81.0px,#26113c 116.0px)"></i><i style="left:15px;width:1px;background:linear-gradient(#6c5890 0.0px,#7d69a0 26.5px,#78649b 31.5px,#ac6193 32.0px,#9a6ca5 44.0px,#b25c8c 58.0px,#fdd464 58.5px,#fdda6a 78.0px,#fbc556 78.5px,#ed7e42 79.0px,#ac6194 79.5px,#544574 80.0px,#311449 80.5px,#25113c 81.0px,#221038 116.0px)"></i><i style="left:16px;width:1px;background:linear-gradient(#6d5991 0.0px,#8970a7 25.5px,#8770a7 31.0px,#be527d 31.5px,#9e6aa1 44.5px,#a2689e 51.0px,#b25c8b 58.0px,#fdd464 58.5px,#fde070 78.0px,#fcca5a 78.5px,#f08540 79.0px,#b15c8c 79.5px,#5d4c7d 80.0px,#41195b 80.5px,#35154d 81.0px,#301448 116.0px)"></i><i style="left:17px;width:1px;background:linear-gradient(#5f4e80 0.0px,#625083 18.0px,#7c689f 30.5px,#7c689e 31.0px,#b25c8b 31.5px,#b25b8b 42.0px,#c35176 58.0px,#fdd868 58.5px,#fddd6d 78.0px,#fbc456 78.5px,#ec7b43 79.0px,#a96397 79.5px,#534473 80.0px,#36164f 80.5px,#2d1344 81.0px,#36164e 116.0px)"></i><i style="left:18px;width:1px;background:linear-gradient(#5f4e80 0.0px,#625083 18.0px,#7b679e 31.0px,#b25b8b 31.5px,#c0507a 45.5px,#c8546f 58.0px,#fdd868 58.5px,#fdd868 78.0px,#fabb51 78.5px,#e76f48 79.0px,#9e6aa1 79.5px,#553971 80.0px,#28123f 80.5px,#24103b 81.0px,#2f1447 116.0px)"></i><i style="left:19px;width:1px;background:linear-gradient(#645286 0.0px,#6d5991 17.5px,#8470a6 24.0px,#9370aa 31.0px,#d65b5c 31.5px,#e3664c 58.0px,#fdde6e 58.5px,#fde071 78.0px,#fbc456 78.5px,#eb7944 79.0px,#a86498 79.5px,#554575 80.0px,#3f1858 80.5px,#35164e 116.0px)"></i><i style="left:20px;width:1px;background:linear-gradient(#6c588f 0.0px,#705c94 18.0px,#8570a6 31.0px,#be527d 31.5px,#c0507a 42.0px,#e0604e 55.5px,#e3664c 58.0px,#fdde6e 58.5px,#fddf6f 78.0px,#fbc054 78.5px,#e87347 79.0px,#a2679d 79.5px,#4f416f 80.0px,#391752 80.5px,#37164f 116.0px)"></i><i style="left:21px;width:1px;background:linear-gradient(#7f6ba2 0.0px,#69568c 18.5px,#77639a 31.0px,#af5e8f 31.5px,#c0507a 45.0px,#d55b5d 58.0px,#fddb6b 58.5px,#fddc6c 78.0px,#faba51 78.5px,#e56b4a 79.0px,#9b6ca4 79.5px,#533a70 80.0px,#33154b 80.5px,#2f1447 81.0px,#3c1755 116.0px)"></i><i style="left:22px;width:1px;background:linear-gradient(#8e70a9 0.0px,#8470a6 4.5px,#665388 14.0px,#5f4e80 20.5px,#735f97 31.0px,#ac6194 31.5px,#c0507b 48.0px,#cb566b 58.0px,#fdd969 58.5px,#fde47c 77.5px,#fde276 78.0px,#fbc154 78.5px,#e87347 79.0px,#a3679d 79.5px,#534473 80.0px,#451a5f 80.5px,#36164e 116.0px)"></i><i style="left:23px;width:1px;background:linear-gradient(#8a70a8 0.0px,#756198 20.0px,#8670a7 31.0px,#c05079 31.5px,#c0507a 44.0px,#d35960 58.0px,#fdda6a 58.5px,#fdde6e 78.0px,#faba51 78.5px,#e4694b 79.0px,#996da5 79.5px,#513b6f 80.0px,#3b1753 80.5px,#28123f 101.0px,#26113d 116.0px)"></i><i style="left:24px;width:1px;background:linear-gradient(#7a669d 0.0px,#6a568d 18.0px,#6e5a92 22.5px,#816da3 31.0px,#bb5480 31.5px,#c45274 36.5px,#e0604e 44.5px,#ea7646 51.5px,#eb7944 58.0px,#fde172 58.5px,#fdda6a 78.0px,#f8b14d 78.5px,#de5f51 79.0px,#8f70a9 79.5px,#6a2d7d 80.0px,#2f1446 80.5px,#2f1447 116.0px)"></i><i style="left:25px;width:1px;background:linear-gradient(#735f96 0.0px,#564676 18.5px,#655387 31.0px,#9b6ca4 31.5px,#a76499 37.5px,#c15178 45.0px,#e0604f 53.0px,#e56a4a 58.5px,#fdde6e 59.0px,#fdd565 78.0px,#f7a848 78.5px,#d35a5f 79.0px,#8470a6 79.5px,#5a2270 80.0px,#26113c 80.5px,#27123e 116.0px)"></i><i style="left:26px;width:1px;background:linear-gradient(#6b588e 0.0px,#655388 19.0px,#6e5a92 31.0px,#a76599 31.5px,#ac6093 41.5px,#c0507a 49.0px,#da5d56 58.5px,#fddb6b 59.0px,#fccf5f 78.0px,#f59d45 78.5px,#c85470 79.0px,#735f97 79.5px,#40185a 80.0px,#1f0e35 80.5px,#1e0e34 116.0px)"></i><i style="left:27px;width:1px;background:linear-gradient(#614f82 0.0px,#645286 18.0px,#7c689f 31.0px,#b65886 31.5px,#c0507a 41.5px,#e0604e 53.0px,#e66d49 58.5px,#fddf6f 59.0px,#fddf6f 77.5px,#fdd767 78.0px,#f7a848 78.5px,#d25962 79.0px,#836fa5 79.5px,#602475 80.0px,#2e1345 80.5px,#27113e 116.0px)"></i><i style="left:28px;width:1px;background:linear-gradient(#665489 0.0px,#534473 12.5px,#564676 21.0px,#746098 31.0px,#b05e8f 31.5px,#c0507a 40.5px,#e0604f 52.0px,#e66e49 58.5px,#fddf6f 59.0px,#fde174 77.5px,#fdd969 78.0px,#f7a949 78.5px,#d35960 79.0px,#8670a6 79.5px,#6b297d 80.0px,#381651 80.5px,#3b1754 101.0px,#2a1241 116.0px)"></i><i style="left:29px;width:1px;background:linear-gradient(#504170 0.0px,#4f406f 20.5px,#5a4a7a 31.0px,#8d70a8 31.5px,#9470aa 36.5px,#bf517b 49.5px,#d35960 58.5px,#fdda6a 59.0px,#fddb6b 77.5px,#fcd161 78.0px,#f49a45 78.5px,#c45275 79.0px,#715d95 79.5px,#461a60 80.0px,#26113d 80.5px,#210f38 116.0px)"></i><i style="left:30px;width:1px;background:linear-gradient(#524372 0.0px,#615083 18.0px,#806ca2 30.5px,#bc537f 31.0px,#bb5480 42.5px,#c75371 58.5px,#fdd767 59.0px,#fdd666 77.5px,#fcca5a 78.0px,#f28e42 78.5px,#b95683 79.0px,#615082 79.5px,#34154c 80.0px,#200f36 80.5px,#231039 116.0px)"></i><i style="left:31px;width:1px;background:linear-gradient(#625083 0.0px,#6c588f 16.5px,#8470a6 22.5px,#9570a9 27.0px,#9c6ba3 30.5px,#e56c49 31.0px,#e56b4a 58.5px,#fdde6e 59.0px,#fdd868 77.5px,#fccb5b 78.0px,#f28d42 78.5px,#b85684 79.0px,#615083 79.5px,#37164f 80.0px,#221039 80.5px,#2a1341 116.0px)"></i><i style="left:32px;width:1px;background:linear-gradient(#4e3f6e 0.0px,#504170 21.0px,#604f81 30.5px,#976ea8 31.0px,#976ea8 31.5px,#a4669b 39.5px,#c0507a 49.0px,#d35960 58.5px,#fdd969 59.0px,#fdd666 77.5px,#fcc758 78.0px,#f08640 78.5px,#b25c8c 79.0px,#594979 79.5px,#2e1446 80.0px,#200f36 80.5px,#210f37 116.0px)"></i><i style="left:33px;width:1px;background:linear-gradient(#554675 0.0px,#5d4c7d 30.5px,#9270a9 31.0px,#9470aa 38.5px,#bf517b 53.0px,#c8546e 58.5px,#fdd767 59.0px,#fdd666 77.5px,#fbc456 78.0px,#ef8141 78.5px,#ae5f90 79.0px,#554675 79.5px,#2c1343 80.0px,#200f36 80.5px,#2e1446 116.0px)"></i><i style="left:34px;width:1px;background:linear-gradient(#69568c 0.0px,#8a70a7 30.5px,#cb566a 31.0px,#cb566a 38.0px,#e0604e 49.5px,#e66e49 58.5px,#fdde6e 59.0px,#fddc6c 77.5px,#fccb5b 78.0px,#f18841 78.5px,#b45a89 79.0px,#5e4d7f 79.5px,#3b1754 80.0px,#2a1241 80.5px,#43195c 116.0px)"></i><i style="left:35px;width:1px;background:linear-gradient(#4d3f6d 0.0px,#574877 18.5px,#6f5b93 30.5px,#ab6194 31.0px,#ab6194 34.5px,#c0507a 47.5px,#d95d57 58.5px,#fdda6a 59.0px,#fdd666 77.5px,#fbc054 78.0px,#eb7944 78.5px,#a76599 79.0px,#4e3f6e 79.5px,#27123e 80.0px,#200f36 80.5px,#27113e 116.0px)"></i><i style="left:36px;width:1px;background:linear-gradient(#504170 0.0px,#5c4c7d 18.0px,#715d95 30.5px,#ae5f91 31.0px,#b55988 39.0px,#c15079 43.5px,#cc566a 46.5px,#e0604e 51.5px,#ea7645 58.5px,#fddf6f 59.0px,#fddb6b 77.5px,#fbc456 78.0px,#ed7c43 78.5px,#aa6396 79.0px,#524372 79.5px,#2f1447 80.0px,#25113c 80.5px,#24103a 116.0px)"></i><i style="left:37px;width:1px;background:linear-gradient(#5e4d7e 0.0px,#5a4a7a 18.5px,#735f97 30.5px,#b15c8d 31.0px,#b95682 39.5px,#cc5669 46.0px,#e1614d 51.0px,#f08540 58.5px,#fde275 59.0px,#fde277 77.5px,#fccb5b 78.0px,#f08540 78.5px,#b15c8c 79.0px,#5d4d7e 79.5px,#43195c 80.0px,#371650 80.5px,#291240 97.0px,#2f1447 116.0px)"></i><i style="left:38px;width:1px;background:linear-gradient(#5a4a7a 0.0px,#504170 18.5px,#574877 30.5px,#8c70a8 31.0px,#9370aa 39.5px,#bf517b 52.5px,#d25962 58.5px,#fdd969 59.0px,#fdd969 77.5px,#fabc52 78.0px,#e87147 78.5px,#9f69a0 79.0px,#533a70 79.5px,#28123f 80.0px,#23103a 80.5px,#291240 116.0px)"></i><i style="left:39px;width:1px;background:linear-gradient(#9370aa 0.0px,#8470a6 13.0px,#735f96 19.5px,#735f97 30.5px,#b15c8c 31.0px,#b15c8c 37.0px,#c0507a 45.0px,#cf5766 52.5px,#d15863 58.5px,#fdd868 59.0px,#fdd565 77.5px,#f9b54f 78.0px,#e3674b 78.5px,#976ea8 79.0px,#672e7c 79.5px,#24103a 80.0px,#200f36 80.5px,#200f36 116.0px)"></i><i style="left:40px;width:1px;background:linear-gradient(#9e6aa1 0.0px,#8b70a8 19.0px,#9070a9 30.5px,#d95c58 31.0px,#e0604f 40.5px,#ee8042 59.0px,#fde071 59.5px,#fde277 77.0px,#fde174 77.5px,#fcc556 78.0px,#eb7944 78.5px,#a86498 79.0px,#554675 79.5px,#41195b 80.0px,#26113d 116.0px)"></i><i style="left:41px;width:1px;background:linear-gradient(#8970a7 0.0px,#8f70a9 30.5px,#d65b5b 31.0px,#cf5766 39.5px,#df604f 48.5px,#f08540 59.0px,#fde174 59.5px,#fee683 77.0px,#fde57e 77.5px,#fcc858 78.0px,#ec7c43 78.5px,#ab6295 79.0px,#594a79 79.5px,#4e1d67 80.0px,#2c1343 116.0px)"></i><i style="left:42px;width:1px;background:linear-gradient(#816da4 0.0px,#79659c 18.0px,#8970a7 30.5px,#ce5766 31.0px,#ca556c 40.0px,#d95c58 48.0px,#ef8141 59.0px,#fde172 59.5px,#fde379 71.0px,#fde070 77.5px,#fabe53 78.0px,#e66e48 78.5px,#9e6aa1 79.0px,#4c3e6c 79.5px,#3a1752 80.0px,#28123f 96.0px,#26113d 116.0px)"></i><i style="left:43px;width:1px;background:linear-gradient(#78649b 0.0px,#5e4d7f 18.0px,#6b588f 30.5px,#aa6295 31.0px,#ac6193 40.0px,#c15178 49.0px,#e2664c 59.0px,#fddc6c 59.5px,#fdda6a 77.5px,#f9b44e 78.0px,#e1624d 78.5px,#9370aa 79.0px,#652f7b 79.5px,#2d1344 80.0px,#210f37 99.0px,#25113b 116.0px)"></i><i style="left:44px;width:1px;background:linear-gradient(#826ea4 0.0px,#675489 17.5px,#6a568d 22.0px,#79659c 30.0px,#ba5582 30.5px,#c9546e 40.5px,#e0604e 49.0px,#e66e49 59.0px,#fddd6d 59.5px,#fdd767 77.5px,#f8ae4b 78.0px,#da5d56 78.5px,#8b70a8 79.0px,#68287b 79.5px,#28123f 80.0px,#291240 116.0px)"></i><i style="left:45px;width:1px;background:linear-gradient(#8870a7 0.0px,#7d69a0 18.0px,#9170a9 30.0px,#de5f50 30.5px,#f18841 48.5px,#ed7d43 59.0px,#fddf6f 59.5px,#fdd464 77.5px,#f7a848 78.0px,#d45a5f 78.5px,#8470a6 79.0px,#5a2270 79.5px,#25113c 80.0px,#28123f 116.0px)"></i><i style="left:46px;width:1px;background:linear-gradient(#715d95 0.0px,#6d5991 19.0px,#7a669d 30.0px,#bc537f 30.5px,#c0507a 38.0px,#db5e54 51.5px,#dd5e53 59.0px,#fdda6a 59.5px,#fcd161 77.5px,#f6a247 78.0px,#cd5668 78.5px,#7b679e 79.0px,#4b1c64 79.5px,#231039 80.0px,#27123e 116.0px)"></i><i style="left:47px;width:1px;background:linear-gradient(#735f97 0.0px,#5f4e81 19.5px,#635185 30.0px,#a1689f 30.5px,#a5669b 41.0px,#c05079 51.5px,#d25962 59.0px,#fdd868 59.5px,#fdd969 77.0px,#fcd161 77.5px,#f5a046 78.0px,#ca556c 78.5px,#78649b 79.0px,#491b63 79.5px,#24103a 80.0px,#2f1446 116.0px)"></i><i style="left:48px;width:1px;background:linear-gradient(#705c94 0.0px,#67558a 18.0px,#7c689e 30.0px,#be527d 30.5px,#c0507a 43.5px,#de5f51 59.0px,#fdda6a 59.5px,#fddb6b 77.0px,#fcd262 77.5px,#f59f46 78.0px,#ca556d 78.5px,#78649b 79.0px,#4e1d66 79.5px,#27123e 80.0px,#35154d 116.0px)"></i><i style="left:49px;width:1px;background:linear-gradient(#5f4e80 0.0px,#574777 18.0px,#7e6aa0 30.0px,#c25178 30.5px,#e0604f 41.5px,#ef8141 52.0px,#f18941 59.0px,#fde173 59.5px,#fdde6e 77.0px,#fcd464 77.5px,#f5a046 78.0px,#ca556c 78.5px,#79659c 79.0px,#55206c 79.5px,#2d1345 80.0px,#3f1859 98.5px,#3d1856 116.0px)"></i><i style="left:50px;width:1px;background:linear-gradient(#594979 0.0px,#524372 17.5px,#5a4a7a 23.0px,#6d5991 30.0px,#b05d8e 30.5px,#c0507a 37.5px,#e0604f 46.0px,#e87247 53.0px,#e77048 59.0px,#fddd6d 59.5px,#fdd666 77.0px,#fccb5b 77.5px,#f29043 78.0px,#bb5481 78.5px,#645285 79.0px,#37164f 79.5px,#200f37 80.0px,#32154a 116.0px)"></i><i style="left:51px;width:1px;background:linear-gradient(#584978 0.0px,#5a4a7a 18.0px,#7f6ba2 30.0px,#c45274 30.5px,#e0604e 46.5px,#e2644c 59.0px,#fddb6b 59.5px,#fdd666 77.0px,#fcca5a 77.5px,#f28c42 78.0px,#b75785 78.5px,#5f4e80 79.0px,#34154c 79.5px,#200f37 80.0px,#2c1343 116.0px)"></i><i style="left:52px;width:1px;background:linear-gradient(#67558a 0.0px,#5a4a7a 17.0px,#5f4e81 21.5px,#756199 30.0px,#b95683 30.5px,#c0507a 37.5px,#e0604e 52.5px,#e66d49 59.0px,#fddd6d 59.5px,#fde070 77.0px,#fcd262 77.5px,#f49844 78.0px,#c15178 78.5px,#705c94 79.0px,#4f1e67 79.5px,#33154c 80.0px,#28123f 102.5px,#2d1344 116.0px)"></i><i style="left:53px;width:1px;background:linear-gradient(#665488 0.0px,#5b4b7b 18.5px,#6b588e 30.0px,#ae5f91 30.5px,#ba5581 41.5px,#df604f 53.5px,#e77048 59.0px,#fddd6d 59.5px,#fde276 77.0px,#fcd363 77.5px,#f49744 78.0px,#c0507a 78.5px,#705c94 79.0px,#531f6b 79.5px,#391652 80.0px,#25113b 116.0px)"></i><i style="left:54px;width:1px;background:linear-gradient(#4f406f 0.0px,#504170 22.0px,#6e5a92 30.0px,#b35b8a 30.5px,#c05079 37.0px,#e0604e 50.0px,#e97346 59.5px,#fddd6d 60.0px,#fddd6d 77.0px,#fccc5c 77.5px,#f18a41 78.0px,#b65987 78.5px,#604f81 79.0px,#3d1856 79.5px,#2b1342 80.0px,#24103a 116.0px)"></i><i style="left:55px;width:1px;background:linear-gradient(#504170 0.0px,#504270 22.5px,#725e95 30.0px,#b85784 30.5px,#c0507a 33.5px,#e0604e 45.0px,#ef8241 59.5px,#fde070 60.0px,#fddf6f 77.0px,#fccc5c 77.5px,#f18a41 78.0px,#b55988 78.5px,#604f81 79.0px,#401859 79.5px,#301447 80.0px,#27123e 116.0px)"></i><i style="left:56px;width:1px;background:linear-gradient(#5c4c7c 0.0px,#5b4b7b 18.0px,#7e6aa0 30.0px,#c55273 30.5px,#e0604e 43.0px,#e87347 59.5px,#fddd6d 60.0px,#fddf6f 77.0px,#fcca5a 77.5px,#f08640 78.0px,#b25c8c 78.5px,#5d4c7e 79.0px,#3f1859 79.5px,#32154a 80.0px,#27123e 116.0px)"></i><i style="left:57px;width:1px;background:linear-gradient(#5b4a7b 0.0px,#5c4c7c 18.5px,#6f5b92 30.0px,#b35a8a 30.5px,#c0507a 42.0px,#ca556c 49.5px,#c45274 59.5px,#fdd464 60.0px,#fdd767 77.0px,#fabe53 77.5px,#e97546 78.0px,#a4679c 78.5px,#4d3f6d 79.0px,#2a1342 79.5px,#24103a 80.0px,#2d1344 94.5px,#25113b 116.0px)"></i><i style="left:58px;width:1px;background:linear-gradient(#504170 0.0px,#504270 21.5px,#675489 30.0px,#ab6194 30.5px,#c0507a 41.5px,#c9556d 48.0px,#c0507a 59.5px,#fcd464 60.0px,#fdd666 77.0px,#fabb51 77.5px,#e77048 78.0px,#9f69a0 78.5px,#523a70 79.0px,#28123f 79.5px,#24103b 80.0px,#301447 94.0px,#24103b 116.0px)"></i><i style="left:59px;width:1px;background:linear-gradient(#574777 0.0px,#564776 18.5px,#756198 29.5px,#bc537e 30.0px,#e0604e 46.5px,#d75b5b 59.5px,#fdd868 60.0px,#fdda6a 77.0px,#fabe53 77.5px,#e87347 78.0px,#a2689e 78.5px,#4d3f6d 79.0px,#311449 79.5px,#2a1241 80.0px,#34154c 93.0px,#27123e 116.0px)"></i><i style="left:60px;width:1px;background:linear-gradient(#766299 0.0px,#705c94 19.5px,#78649b 29.5px,#be517c 30.0px,#c0507b 37.5px,#db5e54 50.5px,#e1614e 59.5px,#fdda6a 60.0px,#fddb6b 77.0px,#fabd52 77.5px,#e77048 78.0px,#9f69a0 78.5px,#4d3d6d 79.0px,#311449 79.5px,#2c1343 80.0px,#25113c 116.0px)"></i><i style="left:61px;width:1px;background:linear-gradient(#6c588f 0.0px,#68568b 19.0px,#766299 29.5px,#bd537e 30.0px,#c15079 36.0px,#d35960 42.5px,#e0604e 46.5px,#eb7a44 59.5px,#fdde6e 60.0px,#fddb6b 77.0px,#faba51 77.5px,#e56b4a 78.0px,#9a6ca4 78.5px,#573773 79.0px,#2e1446 79.5px,#291241 80.0px,#291241 116.0px)"></i><i style="left:62px;width:1px;background:linear-gradient(#5a4a7a 0.0px,#5b4b7b 18.5px,#6e5a92 29.5px,#b55987 30.0px,#c0507a 44.5px,#d65b5b 59.5px,#fdd868 60.0px,#fdd666 77.0px,#f8b14d 77.5px,#e0604e 78.0px,#9070a9 78.5px,#6d2a7f 79.0px,#25113c 79.5px,#2d1344 116.0px)"></i><i style="left:63px;width:1px;background:linear-gradient(#5f4e80 0.0px,#67548a 18.0px,#8470a6 29.5px,#cf5865 30.0px,#cd5768 45.5px,#df604f 59.5px,#fdd969 60.0px,#fddb6b 77.0px,#f9b64f 77.5px,#e2644c 78.0px,#956fa9 78.5px,#5f3377 79.0px,#2f1447 79.5px,#24103b 98.0px,#27123e 116.0px)"></i><i style="left:64px;width:1px;background:linear-gradient(#534473 0.0px,#6a578d 17.5px,#8470a6 24.0px,#9370aa 29.5px,#e56b4a 30.0px,#f08440 48.0px,#f59f46 59.5px,#fde37b 60.0px,#fde47d 76.5px,#fde172 77.0px,#fabc52 77.5px,#e56b4a 78.0px,#9c6ba3 78.5px,#4d3f6d 79.0px,#401959 79.5px,#27123e 116.0px)"></i><i style="left:65px;width:1px;background:linear-gradient(#5e4d7f 0.0px,#615083 18.0px,#8570a6 29.5px,#d35a60 30.0px,#e0604e 40.0px,#ef8141 59.5px,#fddf6f 60.0px,#fddc6c 77.0px,#f9b34e 77.5px,#df604f 78.0px,#9170a9 78.5px,#623279 79.0px,#36164e 79.5px,#3b1753 102.0px,#291340 116.0px)"></i><i style="left:66px;width:1px;background:linear-gradient(#5b4b7c 0.0px,#5b4b7b 18.0px,#7b679e 29.5px,#c65372 30.0px,#e0604e 42.5px,#f28d42 59.5px,#fde172 60.0px,#fde071 76.5px,#fddb6b 77.0px,#f8b04c 77.5px,#db5e55 78.0px,#8d70a8 78.5px,#6a2d7e 79.0px,#34164c 79.5px,#32154a 116.0px)"></i><i style="left:67px;width:1px;background:linear-gradient(#514271 0.0px,#7a669d 29.5px,#c55273 30.0px,#ca556c 35.5px,#dd5f52 41.5px,#f08340 49.0px,#f7a949 59.5px,#fde57e 60.0px,#fde070 76.5px,#fdd869 77.0px,#f7aa4a 77.5px,#d45b5e 78.0px,#8670a6 78.5px,#642778 79.0px,#2e1546 79.5px,#27123e 95.5px,#36174f 116.0px)"></i><i style="left:68px;width:1px;background:linear-gradient(#635185 0.0px,#6c588f 18.5px,#8670a7 29.5px,#d65b5c 30.0px,#e0614e 36.5px,#f08440 45.5px,#f59f46 53.5px,#f7a547 59.5px,#fde47c 60.0px,#fde275 76.5px,#fdda6a 77.0px,#f7ab4a 77.5px,#d55b5d 78.0px,#8870a7 78.5px,#6e2b80 79.0px,#391852 79.5px,#451c5f 116.0px)"></i><i style="left:69px;width:1px;background:linear-gradient(#5f4e80 0.0px,#715d94 18.0px,#8570a6 24.5px,#8f70a9 29.5px,#e3674b 30.0px,#f18a41 47.5px,#ef8241 60.0px,#fdde6e 60.5px,#fde379 76.5px,#fdda6a 77.0px,#f7aa4a 77.5px,#d45b5e 78.0px,#8870a7 78.5px,#6a2e7e 79.0px,#411a5a 79.5px,#3a1953 116.0px)"></i><i style="left:70px;width:1px;background:linear-gradient(#6f5b93 0.0px,#8470a6 11.5px,#9370aa 29.5px,#e66d49 30.0px,#e77048 50.5px,#e3674b 60.0px,#fdda6a 60.5px,#fddb6b 76.5px,#fcd161 77.0px,#f39a46 77.5px,#c35275 78.0px,#725e95 78.5px,#4a1d63 79.0px,#2a1442 79.5px,#281440 116.0px)"></i><i style="left:71px;width:1px;background:linear-gradient(#8870a7 0.0px,#8970a7 18.5px,#966fa8 29.5px,#e87247 30.0px,#e66d49 42.5px,#ee8041 60.0px,#fdde6e 60.5px,#fddc6c 76.5px,#fcd060 77.0px,#f29645 77.5px,#bf507a 78.0px,#6d5991 78.5px,#461c60 79.0px,#2b1542 79.5px,#2f1747 116.0px)"></i><i style="left:72px;width:1px;background:linear-gradient(#77639a 0.0px,#705c94 17.0px,#8570a6 23.5px,#9470aa 29.5px,#e87147 30.0px,#ec7b43 46.0px,#f39443 60.0px,#fde173 60.5px,#fddf6f 76.5px,#fcd161 77.0px,#f29645 77.5px,#be517b 78.0px,#6e5a92 78.5px,#4a1e64 79.0px,#32184a 79.5px,#291541 116.0px)"></i><i style="left:73px;width:1px;background:linear-gradient(#715d95 0.0px,#675489 18.5px,#78649b 29.0px,#c55373 29.5px,#ca556c 37.0px,#e0604e 47.0px,#eb7944 60.0px,#fddd6d 60.5px,#fddd6d 76.5px,#fccd5e 77.0px,#f08f44 77.5px,#b85582 78.0px,#665489 78.5px,#431c5d 79.0px,#2e1746 79.5px,#25143c 116.0px)"></i><i style="left:74px;width:1px;background:linear-gradient(#7c689f 0.0px,#735f96 19.5px,#7b679e 29.0px,#c9556d 29.5px,#ca556c 36.0px,#df5f50 44.5px,#f08640 60.0px,#fddf6f 60.5px,#fde276 76.5px,#fcd162 77.0px,#f19446 77.5px,#bc537e 78.0px,#6e5a92 78.5px,#54246d 79.0px,#3e1d57 79.5px,#341b4d 116.0px)"></i><i style="left:75px;width:1px;background:linear-gradient(#6b578e 0.0px,#68558b 17.5px,#8a70a8 29.0px,#e0604e 29.5px,#e87247 46.0px,#e97346 60.0px,#fddc6c 60.5px,#fddd6d 76.5px,#fbca5b 77.0px,#ee8743 77.5px,#b15a8a 78.0px,#604f81 78.5px,#421d5b 79.0px,#32194b 79.5px,#3a1e53 116.0px)"></i><i style="left:76px;width:1px;background:linear-gradient(#8570a6 0.0px,#8570a6 18.0px,#9a6ca4 29.0px,#ee7f42 29.5px,#f39243 60.0px,#fde071 60.5px,#fde275 76.5px,#fbcd5e 77.0px,#ef8b44 77.5px,#b45987 78.0px,#675488 78.5px,#4d2268 79.0px,#401f59 79.5px,#54266c 116.0px)"></i><i style="left:77px;width:1px;background:linear-gradient(#6c588f 0.0px,#756198 17.5px,#8470a6 23.0px,#9270a9 29.0px,#e76f48 29.5px,#f18941 60.0px,#fddf6f 60.5px,#fde071 76.5px,#fbc95b 77.0px,#ed8443 77.5px,#ae5e8e 78.0px,#5f4e7f 78.5px,#462160 79.0px,#3b1e54 79.5px,#351c4e 94.0px,#41225b 116.0px)"></i><i style="left:78px;width:1px;background:linear-gradient(#4f406f 0.0px,#504170 17.0px,#5a4a7a 21.0px,#7e6aa0 29.0px,#ce5767 29.5px,#d75c5a 38.5px,#d45a5f 60.0px,#fdd666 60.5px,#fdd565 76.5px,#f8b951 77.0px,#e16d4a 77.5px,#99689f 78.0px,#5a3875 78.5px,#2b1743 79.0px,#27163e 79.5px,#24153b 116.0px)"></i><i style="left:79px;width:1px;background:linear-gradient(#6a578d 0.0px,#645286 17.5px,#8570a6 29.0px,#d65b5c 29.5px,#e46a4a 45.0px,#f18741 60.0px,#fddf6f 60.5px,#fddf6f 76.5px,#fac357 77.0px,#e77a48 77.5px,#a56498 78.0px,#584878 78.5px,#42215c 79.0px,#3a1f54 79.5px,#331e4c 116.0px)"></i><i style="left:80px;width:1px;background:linear-gradient(#635285 0.0px,#655387 19.0px,#766299 29.0px,#c15079 29.5px,#c65371 36.5px,#e0604e 46.5px,#ed7e42 60.0px,#fddd6d 60.5px,#fdde6e 76.5px,#f9bf56 77.0px,#e4744a 77.5px,#a0679c 78.0px,#544574 78.5px,#3e2058 79.0px,#391f52 79.5px,#301b48 95.0px,#331e4c 116.0px)"></i><i style="left:81px;width:1px;background:linear-gradient(#564676 0.0px,#725e95 29.0px,#bb5480 29.5px,#c0507a 42.0px,#e0604e 55.0px,#e56b4a 60.0px,#fdda6a 60.5px,#fddb6b 76.0px,#fdda6a 76.5px,#f7b752 77.0px,#de6a4e 77.5px,#966ba3 78.0px,#5c3a78 78.5px,#351d4e 79.0px,#311c4a 79.5px,#2a1a42 116.0px)"></i><i style="left:82px;width:1px;background:linear-gradient(#604f82 0.0px,#67548a 18.0px,#7d69a0 29.0px,#c75470 29.5px,#c55273 42.0px,#df604f 54.0px,#e66f48 60.0px,#fdda6a 60.5px,#fdda6a 76.0px,#fcd868 76.5px,#f6b24f 77.0px,#da6350 77.5px,#8f6da7 78.0px,#68337e 78.5px,#321d4a 79.0px,#331f4c 116.0px)"></i><i style="left:83px;width:1px;background:linear-gradient(#8470a6 0.0px,#956fa9 29.0px,#e66e49 29.5px,#e3674b 41.0px,#eb7845 60.5px,#fddc6c 61.0px,#fddb6b 76.0px,#fcd869 76.5px,#f5b14f 77.0px,#d96152 77.5px,#8e6da7 78.0px,#68357f 78.5px,#361f4f 79.0px,#382352 116.0px)"></i><i style="left:84px;width:1px;background:linear-gradient(#7e6aa0 0.0px,#9a6da5 29.0px,#e97446 29.5px,#e76f48 39.0px,#ee8042 60.5px,#fddd6d 61.0px,#fddf6f 76.0px,#fcdb6b 76.5px,#f5b351 77.0px,#da6453 77.5px,#916fa8 78.0px,#633c7d 78.5px,#41255b 79.0px,#3d2657 116.0px)"></i><i style="left:85px;width:1px;background:linear-gradient(#68558b 0.0px,#6e5a92 18.0px,#8770a7 29.0px,#d15863 29.5px,#e77048 60.5px,#fdda6a 61.0px,#fddb6b 76.0px,#fcd667 76.5px,#f3aa4d 77.0px,#d05c5d 77.5px,#866da4 78.0px,#67307e 78.5px,#362150 79.0px,#3d2757 116.0px)"></i><i style="left:86px;width:1px;background:linear-gradient(#5d4d7e 0.0px,#5b4b7c 21.5px,#6d5991 29.0px,#b05d8e 29.5px,#c0507a 42.0px,#da5d56 53.5px,#e2644c 60.5px,#fdd868 61.0px,#fddc6c 76.0px,#fcd667 76.5px,#f2a74c 77.0px,#cc5b61 77.5px,#846da4 78.0px,#65307d 78.5px,#382352 79.0px,#33224d 116.0px)"></i><i style="left:87px;width:1px;background:linear-gradient(#5a4a7a 0.0px,#524372 17.5px,#5a4a7a 23.0px,#69568c 28.5px,#ab6294 29.0px,#c0507a 41.5px,#d65b5b 47.5px,#e0614e 50.0px,#f29043 60.5px,#fde070 61.0px,#fde57f 76.0px,#fcdf70 76.5px,#f4b253 77.0px,#d86357 77.5px,#9370aa 78.0px,#62457d 78.5px,#562e6f 79.0px,#4d3069 99.5px,#35234f 116.0px)"></i><i style="left:88px;width:1px;background:linear-gradient(#6f5b93 0.0px,#645286 17.0px,#6a578d 22.0px,#7c689e 28.5px,#bd527d 29.0px,#c75371 37.0px,#df604f 47.0px,#f08440 60.5px,#fddd6d 61.0px,#fde277 76.0px,#fcdb6c 76.5px,#f2ab50 77.0px,#d05f60 77.5px,#8b70a8 78.0px,#6e3e85 78.5px,#502e6a 79.0px,#54346f 102.5px,#482f63 116.0px)"></i><i style="left:89px;width:1px;background:linear-gradient(#8570a6 0.0px,#79659c 18.0px,#8d70a8 28.5px,#d45a5e 29.0px,#d95c58 47.0px,#cf5865 60.5px,#fdd464 61.0px,#fdd767 76.0px,#fbcd5f 76.5px,#ec9448 77.0px,#b75177 77.5px,#6c5990 78.0px,#492664 78.5px,#34214d 79.0px,#32214b 94.5px,#412c5d 116.0px)"></i><i style="left:90px;width:1px;background:linear-gradient(#7f6ba1 0.0px,#735f97 17.0px,#8470a6 23.5px,#9170a9 28.5px,#db5d55 29.0px,#e3664c 60.5px,#fdd868 61.0px,#fddd6d 76.0px,#fbd163 76.5px,#ed9a4b 77.0px,#bc5575 77.5px,#766299 78.0px,#592f74 78.5px,#40295b 79.0px,#382552 95.0px,#422d5e 116.0px)"></i><i style="left:91px;width:1px;background:linear-gradient(#645286 0.0px,#6c5990 17.0px,#8570a6 23.5px,#9470aa 28.5px,#de5f50 29.0px,#e97546 43.0px,#ec7b44 60.5px,#fddc6c 61.0px,#fddd6d 76.0px,#facf62 76.5px,#eb954a 77.0px,#b7537b 77.5px,#715d95 78.0px,#552e71 78.5px,#402a5b 79.0px,#50376d 116.0px)"></i><i style="left:92px;width:1px;background:linear-gradient(#76629a 0.0px,#9370aa 20.0px,#a96397 28.5px,#f08340 29.0px,#ef8141 46.0px,#f49945 60.5px,#fde172 61.0px,#fde277 76.0px,#fbd467 76.5px,#ed9b4d 77.0px,#be5878 77.5px,#7d689f 78.0px,#6a3a82 78.5px,#53336e 79.0px,#603d7a 116.0px)"></i><i style="left:93px;width:1px;background:linear-gradient(#806ca3 0.0px,#826ea4 17.5px,#996da5 28.5px,#e2644d 29.0px,#e66e49 42.5px,#f08340 52.5px,#f49a45 60.5px,#fde172 61.0px,#fde57e 76.0px,#fad568 76.5px,#ed9b4e 77.0px,#be5979 77.5px,#7f69a0 78.0px,#713d87 78.5px,#5a3674 79.0px,#5f3f7a 116.0px)"></i><i style="left:94px;width:1px;background:linear-gradient(#746097 0.0px,#67548a 18.0px,#6d5991 23.5px,#77639a 28.5px,#af5e8f 29.0px,#c05079 41.0px,#e0604e 50.5px,#e97546 60.5px,#fdda6a 61.0px,#fdd868 76.0px,#f8c559 76.5px,#e38046 77.0px,#a35a8b 77.5px,#5b4b7b 78.0px,#41285c 78.5px,#382652 79.0px,#51396e 116.0px)"></i><i style="left:95px;width:1px;background:linear-gradient(#8a70a7 0.0px,#8b70a8 28.5px,#c85470 29.0px,#c55273 34.0px,#ce5766 39.5px,#e0614e 45.0px,#ee8041 54.0px,#f18841 60.5px,#fddd6d 61.0px,#fdda6a 76.0px,#f8c55a 76.5px,#e38048 77.0px,#a35b8d 77.5px,#5f4e7f 78.0px,#492d65 78.5px,#3f2b5b 79.0px,#6d4283 103.0px,#6e4485 116.0px)"></i><i style="left:96px;width:1px;background:linear-gradient(#8670a7 0.0px,#9b6ca4 28.5px,#e1624d 29.0px,#e0614e 40.5px,#f08440 60.5px,#fddd6d 61.0px,#fde070 76.0px,#f8ca5f 76.5px,#e5874c 77.0px,#ab5d8d 77.5px,#6b598d 78.0px,#5a3877 78.5px,#52366e 79.0px,#6c4585 116.0px)"></i><i style="left:97px;width:1px;background:linear-gradient(#8770a7 0.0px,#a2689d 28.5px,#e66e49 29.0px,#e0604e 39.0px,#db5e54 60.5px,#fdd666 61.0px,#fdd969 76.0px,#f6be57 76.5px,#dc754c 77.0px,#996094 77.5px,#574778 78.0px,#432c5f 78.5px,#3e2b59 79.0px,#3f2c5a 95.0px,#543d71 116.0px)"></i><i style="left:98px;width:1px;background:linear-gradient(#8470a6 0.0px,#9470aa 28.5px,#d45a5f 29.0px,#eb7944 61.0px,#fddb6b 61.5px,#fdd767 76.0px,#f4b955 76.5px,#d76e4e 77.0px,#926297 77.5px,#564275 78.0px,#3d2a58 78.5px,#3a2955 79.0px,#352650 93.0px,#42305e 116.0px)"></i><i style="left:99px;width:1px;background:linear-gradient(#816da3 0.0px,#746097 19.0px,#806ca2 28.5px,#b55988 29.0px,#c05079 37.0px,#e1624d 44.5px,#f29043 54.0px,#f59c45 61.0px,#fde071 61.5px,#fddb6c 76.0px,#f4bc57 76.5px,#d97250 77.0px,#966399 77.5px,#58487a 78.0px,#483064 78.5px,#432f60 79.0px,#463462 116.0px)"></i><i style="left:100px;width:1px;background:linear-gradient(#8e70a9 0.0px,#8670a6 19.5px,#9070a9 28.5px,#cc5669 29.0px,#e0604f 36.0px,#ef8341 41.5px,#f9b850 51.5px,#fabd52 61.0px,#fee580 61.5px,#fde070 76.0px,#f5c05a 76.5px,#db7752 77.0px,#9d669b 77.5px,#635283 78.0px,#573a74 78.5px,#53396f 79.0px,#533e72 116.0px)"></i><i style="left:101px;width:1px;background:linear-gradient(#8870a7 0.0px,#715d94 17.0px,#756198 21.5px,#8a70a8 28.0px,#c55273 28.5px,#df604f 35.0px,#f08340 40.5px,#f8b04c 50.5px,#f7a648 61.0px,#fde275 61.5px,#fddd6d 75.5px,#fcdb6c 76.0px,#f3b756 76.5px,#d56d55 77.0px,#92679e 77.5px,#5d497e 78.0px,#4e356b 78.5px,#4b3568 79.0px,#4a3767 116.0px)"></i><i style="left:102px;width:1px;background:linear-gradient(#7c689f 0.0px,#5f4e80 13.0px,#5f4e80 19.5px,#826ea4 28.0px,#ba5582 28.5px,#c15079 31.0px,#e0604e 40.0px,#ee8042 53.5px,#ee7f42 61.0px,#fddb6b 61.5px,#fdd868 75.5px,#fcd566 76.0px,#efac50 76.5px,#cb5e56 77.0px,#83669e 77.5px,#683880 78.0px,#3f2d5b 78.5px,#3c2b56 90.5px,#473564 116.0px)"></i><i style="left:103px;width:1px;background:linear-gradient(#715d95 0.0px,#604f81 15.5px,#635185 21.0px,#77639a 28.0px,#ad5f91 28.5px,#c0507a 40.5px,#d95d58 48.5px,#ef8241 61.0px,#fddc6c 61.5px,#fddd6d 75.5px,#fcda6b 76.0px,#f0b155 76.5px,#cf6559 77.0px,#8c6aa3 77.5px,#674584 78.0px,#4e376b 78.5px,#42305e 94.0px,#554074 116.0px)"></i><i style="left:104px;width:1px;background:linear-gradient(#725e96 0.0px,#67548a 17.5px,#826ea4 28.0px,#ba5582 28.5px,#c0507a 34.0px,#df604f 47.5px,#eb7845 61.0px,#fdda6a 61.5px,#fdda6a 75.5px,#fcd667 76.0px,#eea951 76.5px,#c75d5d 77.0px,#8368a0 77.5px,#6b3d85 78.0px,#473364 78.5px,#4a3668 90.0px,#614a80 107.0px,#5e487d 116.0px)"></i><i style="left:105px;width:1px;background:linear-gradient(#806ca3 0.0px,#8670a7 17.5px,#9470aa 23.5px,#a069a0 28.0px,#e66c49 28.5px,#f08440 40.0px,#f59e46 53.0px,#f59c45 61.0px,#fde070 61.5px,#fdda6a 75.5px,#fbd466 76.0px,#eca44f 76.5px,#c15a63 77.0px,#7d679d 77.5px,#62397d 78.0px,#453262 78.5px,#483465 87.0px,#654d83 104.5px,#614b80 116.0px)"></i><i style="left:106px;width:1px;background:linear-gradient(#7d69a0 0.0px,#7d69a0 12.5px,#9370aa 23.0px,#a1689f 28.0px,#e76f48 28.5px,#ee7f42 44.0px,#f7a948 61.0px,#fde275 61.5px,#fddc6c 75.5px,#fbd668 76.0px,#eca550 76.5px,#c15b66 77.0px,#7f68a0 77.5px,#673d82 78.0px,#4a3668 78.5px,#513e70 116.0px)"></i><i style="left:107px;width:1px;background:linear-gradient(#645286 0.0px,#6e5a92 14.0px,#8470a6 21.5px,#9370aa 26.0px,#996da6 28.0px,#e0614e 28.5px,#e87247 42.5px,#ea7845 61.0px,#fdda6a 61.5px,#fdd868 75.5px,#fad062 76.0px,#e89a4c 76.5px,#b5556e 77.0px,#725f94 77.5px,#563573 78.0px,#43315f 78.5px,#443461 116.0px)"></i><i style="left:108px;width:1px;background:linear-gradient(#8c70a8 0.0px,#9a6ca5 18.0px,#a96397 28.0px,#ee8042 28.5px,#ef8141 46.5px,#e1634d 61.0px,#fdd666 61.5px,#fdd969 75.5px,#fad062 76.0px,#e7984d 76.5px,#b45572 77.0px,#736096 77.5px,#5b3979 78.0px,#493667 78.5px,#4f3d6e 116.0px)"></i><i style="left:109px;width:1px;background:linear-gradient(#996da6 0.0px,#9b6ca4 18.0px,#af5e8f 28.0px,#f28d42 28.5px,#f18841 46.0px,#f39444 61.0px,#fdde6e 61.5px,#fddd6d 75.5px,#fad366 76.0px,#e89c50 76.5px,#b85973 77.0px,#7a669d 77.5px,#674184 78.0px,#543d71 78.5px,#6b548b 104.0px,#614c81 116.0px)"></i><i style="left:110px;width:1px;background:linear-gradient(#7b679e 0.0px,#766299 17.0px,#8470a6 22.5px,#9470aa 28.0px,#da5d57 28.5px,#f08440 50.0px,#f59d46 61.0px,#fde070 61.5px,#fde071 75.5px,#fad468 76.0px,#e89e52 76.5px,#ba5c76 77.0px,#7f6ba2 77.5px,#6f488b 78.0px,#5d447a 78.5px,#564075 91.5px,#695389 116.0px)"></i><i style="left:111px;width:1px;background:linear-gradient(#6b578e 0.0px,#8f70a9 28.0px,#d15863 28.5px,#e0604e 41.5px,#ed7d43 61.0px,#fdda6a 61.5px,#fddf6f 75.5px,#f9d266 76.0px,#e69852 76.5px,#b55a7b 77.0px,#7c689e 77.5px,#6d488a 78.0px,#5e457c 78.5px,#6a548a 116.0px)"></i><i style="left:112px;width:1px;background:linear-gradient(#705c94 0.0px,#8470a6 15.5px,#9d6ba2 28.0px,#e56a4a 28.5px,#f08440 48.5px,#ed7e42 61.5px,#fdda6a 62.0px,#fdda6a 75.5px,#f8ca5f 76.0px,#e08a4d 76.5px,#a65482 77.0px,#69568c 77.5px,#573a75 78.0px,#4d396b 78.5px,#674f86 99.0px,#654f85 116.0px)"></i><i style="left:113px;width:1px;background:linear-gradient(#8470a6 0.0px,#7b679d 17.5px,#9270a9 28.0px,#d75b5b 28.5px,#e0604e 36.0px,#f18941 61.5px,#fddc6c 62.0px,#fddb6b 75.5px,#f7c95e 76.0px,#df874e 76.5px,#a35686 77.0px,#68558a 77.5px,#573b75 78.0px,#4e3a6c 78.5px,#604b80 101.0px,#604b81 116.0px)"></i><i style="left:114px;width:1px;background:linear-gradient(#8a70a7 0.0px,#8770a7 18.0px,#966fa8 28.0px,#de5f50 28.5px,#e2654c 36.5px,#f08440 47.5px,#f6a347 61.5px,#fde071 62.0px,#fddf6f 75.5px,#f7cb61 76.0px,#e08b51 76.5px,#a75988 77.0px,#6f5c92 77.5px,#614380 78.0px,#594277 78.5px,#735c93 116.0px)"></i><i style="left:115px;width:1px;background:linear-gradient(#8770a7 0.0px,#8570a6 18.0px,#956fa9 27.5px,#de5f50 28.0px,#f08440 45.5px,#f39243 61.5px,#fddd6d 62.0px,#fdde6e 75.5px,#f6c85f 76.0px,#de8550 76.5px,#a35b8c 77.0px,#6b598e 77.5px,#5f427e 78.0px,#584277 78.5px,#6b558b 116.0px)"></i><i style="left:116px;width:1px;background:linear-gradient(#715d95 0.0px,#715d95 18.5px,#8470a6 27.5px,#c15079 28.0px,#e3674b 42.5px,#eb7944 51.0px,#e56c4a 61.5px,#fdd767 62.0px,#fdd868 75.5px,#f4be58 76.0px,#d6764d 76.5px,#945c8f 77.0px,#5b4a7b 77.5px,#4d376a 78.0px,#493767 78.5px,#564475 116.0px)"></i><i style="left:117px;width:1px;background:linear-gradient(#79659c 0.0px,#7b679e 18.0px,#8d70a8 27.5px,#d25961 28.0px,#df604f 35.5px,#f28e42 49.5px,#ee8141 61.5px,#fdda6a 62.0px,#fdd868 75.5px,#f3bb57 76.0px,#d3724f 76.5px,#915e91 77.0px,#59497a 77.5px,#4c3769 78.0px,#4a3767 78.5px,#6f588f 103.5px,#6b558b 116.0px)"></i><i style="left:118px;width:1px;background:linear-gradient(#8670a6 0.0px,#7d69a0 17.5px,#9270a9 27.5px,#da5d56 28.0px,#e1624d 33.5px,#f08440 44.5px,#f49744 53.5px,#f39444 61.5px,#fddd6d 62.0px,#fdda6a 75.5px,#f2bb58 76.0px,#d37252 76.5px,#926094 77.0px,#5c4b7e 77.5px,#513a6f 78.0px,#4e3a6c 78.5px,#775892 100.5px,#6f5990 116.0px)"></i><i style="left:119px;width:1px;background:linear-gradient(#766299 0.0px,#7c689f 18.0px,#8c70a8 27.5px,#d05863 28.0px,#df604f 39.5px,#f08440 50.0px,#f49b45 61.5px,#fddf6f 62.0px,#fddd6d 75.0px,#fddd6d 75.5px,#f3be5a 76.0px,#d57654 76.5px,#976398 77.0px,#645386 77.5px,#5c437b 78.0px,#594378 78.5px,#785993 101.0px,#745e94 109.0px,#69548a 116.0px)"></i><i style="left:120px;width:1px;background:linear-gradient(#665489 0.0px,#746097 18.0px,#8970a7 27.5px,#cc5669 28.0px,#e0604e 40.5px,#f08340 49.0px,#f8b04c 61.5px,#fde277 62.0px,#fde379 75.5px,#f4c35f 76.0px,#da7d56 76.5px,#a16599 77.0px,#735d91 77.5px,#6e4d8a 78.0px,#745d94 106.0px,#6e598f 116.0px)"></i><svg style="position:absolute;left:0;top:0" width="121" height="116"><path fill="#87a" d="M0 38h1v2h-1zM6 44h1v2h-1zM7 20h1v2h-1zM9 36h1v2h-1zM9 54h1v2h-1zM16 50h1v2h-1zM17 42h1v2h-1zM26 40h1v2h-1zM26 50h1v2h-1zM27 46h1v2h-1zM30 36h1v2h-1zM35 40h1v2h-1zM38 48h1v2h-1zM43 38h1v2h-1zM43 54h1v2h-1zM48 34h1v2h-1zM50 46h1v2h-1zM57 34h1v2h-1zM57 38h1v2h-1zM79 18h1v2h-1zM81 52h1v2h-1zM104 46h1v2h-1z"/><path fill="#b57" d="M0 40h1v2h-1zM5 40h1v2h-1zM8 48h1v2h-1zM11 42h1v2h-1zM33 42h1v2h-1zM34 52h1v2h-1zM35 32h1v2h-1zM46 58h1v2h-1zM47 30h1v2h-1zM51 42h1v2h-1zM52 54h1v2h-1zM53 52h1v2h-1zM71 56h1v2h-1zM72 46h1v2h-1zM73 46h1v2h-1zM74 42h1v2h-1zM75 38h1v2h-1zM90 28h1v2h-1zM90 56h1v2h-1zM97 26h1v2h-1zM97 42h1v2h-1zM98 50h1v2h-1zM109 22h1v2h-1zM113 38h1v2h-1zM114 44h1v2h-1zM116 44h1v2h-1zM118 38h1v2h-1z"/><path fill="#c56" d="M0 44h1v2h-1zM0 48h1v2h-1zM3 52h1v2h-1zM4 50h1v2h-1zM12 32h1v2h-1zM16 54h1v2h-1zM28 54h1v2h-1zM32 40h1v4h-1zM34 56h1v2h-1zM36 36h1v2h-1zM37 38h1v2h-1zM41 50h1v2h-1zM43 42h1v2h-1zM45 34h1v2h-1zM49 46h1v2h-1zM53 32h1v2h-1zM56 48h1v2h-1zM58 36h1v2h-1zM69 34h1v2h-1zM70 48h1v2h-1zM74 46h1v2h-1zM75 30h1v2h-1zM75 44h1v4h-1zM77 40h1v2h-1zM83 44h1v2h-1zM84 38h1v2h-1zM85 58h1v2h-1zM86 32h1v2h-1zM87 54h1v2h-1zM91 40h1v2h-1zM94 30h1v2h-1zM94 56h1v2h-1zM95 48h1v2h-1zM95 54h1v2h-1zM96 44h1v2h-1zM96 52h1v2h-1zM98 52h1v2h-1zM102 50h1v2h-1zM104 54h1v2h-1zM105 38h1v2h-1zM107 44h1v2h-1zM107 48h1v2h-1zM109 46h1v2h-1zM112 34h1v2h-1zM112 56h1v2h-1zM113 42h1v2h-1zM118 36h1v2h-1zM119 42h1v2h-1z"/><path fill="#969" d="M0 50h1v2h-1zM7 32h1v2h-1zM10 44h1v2h-1zM11 46h1v2h-1zM12 42h1v2h-1zM21 56h1v2h-1zM36 42h1v2h-1zM39 10h1v2h-1zM39 44h1v2h-1zM42 34h1v2h-1zM46 48h1v2h-1zM48 30h1v2h-1zM51 32h1v2h-1zM55 40h1v2h-1zM81 40h1v2h-1zM85 36h1v2h-1zM105 0h1v2h-1z"/><path fill="#fb5" d="M0 72h1v2h-1zM1 76h1v2h-1zM2 48h1v2h-1zM3 54h1v2h-1zM10 60h1v2h-1zM10 72h1v2h-1zM13 78h1v2h-1zM16 78h1v2h-1zM17 60h1v2h-1zM17 66h1v2h-1zM18 68h1v2h-1zM20 64h1v2h-1zM27 64h1v2h-1zM29 68h1v2h-1zM29 72h1v2h-1zM30 72h1v2h-1zM31 36h1v2h-1zM31 66h1v2h-1zM31 74h1v2h-1zM32 76h1v2h-1zM33 74h1v2h-1zM44 64h1v2h-1zM47 60h1v2h-1zM54 68h1v2h-1zM56 56h1v2h-1zM57 60h1v2h-1zM57 66h1v2h-1zM61 56h1v2h-1zM62 66h1v2h-1zM64 56h1v2h-1zM67 48h1v2h-1zM70 54h1v2h-1zM71 76h1v2h-1zM72 52h1v2h-1zM74 62h1v2h-1zM75 32h1v2h-1zM77 32h1v2h-1zM77 56h1v2h-1zM78 62h1v2h-1zM81 64h1v2h-1zM84 44h1v2h-1zM84 68h1v2h-1zM89 70h1v2h-1zM90 64h1v2h-1zM94 64h1v2h-1zM106 54h1v2h-1zM107 70h1v4h-1zM109 30h1v2h-1zM109 36h1v2h-1zM109 50h1v2h-1zM109 56h1v4h-1zM110 38h1v2h-1zM110 54h1v2h-1zM112 46h1v2h-1zM114 54h1v2h-1zM114 58h1v2h-1zM119 50h1v2h-1zM119 54h1v2h-1z"/><path fill="#fc6" d="M0 78h1v2h-1zM41 76h1v2h-1zM67 50h1v2h-1zM67 54h1v2h-1zM67 58h1v2h-1zM67 68h1v2h-1zM74 64h1v2h-1zM87 76h1v2h-1zM115 46h1v2h-1z"/><path fill="#426" d="M0 84h1v2h-1zM0 108h1v2h-1zM1 112h1v2h-1zM12 86h1v2h-1zM15 86h1v2h-1zM53 108h1v2h-1zM63 100h1v2h-1zM73 102h1v2h-1z"/><path fill="#102" d="M0 92h1v2h-1zM0 106h1v2h-1zM6 114h1v2h-1zM12 90h1v2h-1zM13 112h1v2h-1zM14 108h1v2h-1zM18 100h1v2h-1zM25 86h1v2h-1zM32 110h1v2h-1zM33 84h1v2h-1zM33 112h1v2h-1zM35 80h1v2h-1zM36 88h1v2h-1zM38 88h1v2h-1zM38 92h1v2h-1zM46 88h1v2h-1zM48 108h1v2h-1zM50 84h1v2h-1zM51 82h1v2h-1zM52 102h1v2h-1zM54 94h1v2h-1zM59 110h1v2h-1zM62 82h1v2h-1zM73 92h1v2h-1z"/><path fill="#769" d="M1 32h1v2h-1zM1 38h1v2h-1zM15 56h1v2h-1zM16 44h1v2h-1zM34 44h1v2h-1zM38 38h1v2h-1zM40 8h1v2h-1zM47 40h1v2h-1zM86 38h1v2h-1zM92 24h1v2h-1zM109 18h1v2h-1z"/><path fill="#96a" d="M1 46h1v2h-1zM9 46h1v2h-1zM10 36h1v2h-1zM13 34h1v2h-1zM14 42h1v2h-1zM14 46h1v2h-1zM17 48h1v2h-1zM21 38h1v2h-1zM22 50h1v2h-1zM23 52h1v2h-1zM24 34h1v2h-1zM24 40h1v2h-1zM26 46h1v2h-1zM32 44h1v2h-1zM47 46h1v2h-1zM63 58h1v2h-1zM73 36h1v2h-1zM73 44h1v2h-1zM94 34h1v2h-1z"/><path fill="#fe8" d="M1 58h1v2h-1zM15 60h1v2h-1zM30 60h1v2h-1zM30 68h1v2h-1zM33 72h1v2h-1zM51 64h1v2h-1zM51 68h1v2h-1zM57 62h1v2h-1zM57 72h1v2h-1zM78 66h1v2h-1zM108 62h1v2h-1zM108 68h1v2h-1zM116 70h1v2h-1z"/><path fill="#314" d="M1 82h1v2h-1zM1 94h1v2h-1zM97 96h1v2h-1zM99 80h1v2h-1zM100 90h1v2h-1z"/><path fill="#101" d="M1 96h1v2h-1zM1 114h1v2h-1zM5 104h1v2h-1zM14 90h1v2h-1zM29 84h1v2h-1zM30 80h1v2h-1zM31 84h1v2h-1zM38 86h1v2h-1zM39 98h1v2h-1zM43 108h1v2h-1zM46 96h1v2h-1zM50 82h1v2h-1zM51 84h1v2h-1zM51 98h1v2h-1zM54 86h1v2h-1zM54 102h1v2h-1zM60 86h1v2h-1zM60 110h1v2h-1zM61 108h1v2h-1zM62 98h1v2h-1z"/><path fill="#b58" d="M2 26h1v2h-1zM10 50h1v2h-1zM10 54h1v2h-1zM11 32h1v2h-1zM24 46h1v2h-1zM24 78h1v2h-1zM26 34h1v2h-1zM26 54h1v2h-1zM27 78h1v2h-1zM28 44h1v2h-1zM29 56h1v2h-1zM33 40h1v2h-1zM34 46h1v2h-1zM36 46h1v2h-1zM41 40h1v2h-1zM44 46h1v2h-1zM46 44h1v2h-1zM51 56h1v2h-1zM52 52h1v2h-1zM55 44h1v2h-1zM59 38h1v2h-1zM65 40h1v2h-1zM69 30h1v2h-1zM69 36h1v2h-1zM75 36h1v2h-1zM75 54h1v4h-1zM77 38h1v2h-1zM78 58h1v2h-1zM83 52h1v2h-1zM84 32h1v2h-1zM85 30h1v2h-1zM86 56h1v2h-1zM91 56h1v2h-1zM96 28h1v2h-1zM97 14h1v2h-1zM97 18h1v2h-1zM98 30h1v4h-1zM104 58h1v2h-1zM109 4h1v2h-1zM109 8h1v2h-1zM112 42h1v2h-1zM114 34h1v2h-1zM117 28h1v2h-1zM117 32h1v2h-1zM118 32h1v2h-1zM120 28h1v2h-1zM120 42h1v2h-1z"/><path fill="#d64" d="M2 38h1v2h-1zM3 44h1v2h-1zM6 78h1v2h-1zM7 48h1v2h-1zM8 38h1v2h-1zM9 44h1v2h-1zM18 32h1v2h-1zM22 54h1v2h-1zM23 46h1v2h-1zM34 34h1v2h-1zM34 78h1v2h-1zM45 46h1v2h-1zM50 34h1v2h-1zM52 40h1v2h-1zM57 30h1v2h-1zM63 30h1v2h-1zM76 40h1v2h-1zM76 50h1v2h-1zM76 58h1v2h-1zM82 44h1v2h-1zM86 44h1v2h-1zM86 48h1v2h-1zM87 42h1v2h-1zM93 52h1v2h-1zM108 36h1v2h-1zM109 34h1v2h-1zM109 42h1v2h-1zM112 50h1v2h-1zM119 30h1v2h-1z"/><path fill="#e64" d="M2 50h1v2h-1zM7 36h1v2h-1zM10 34h1v2h-1zM20 44h1v2h-1zM24 36h1v2h-1zM37 44h1v2h-1zM72 58h1v2h-1zM82 34h1v2h-1zM109 52h1v2h-1z"/><path fill="#fc5" d="M2 68h1v2h-1zM2 76h1v2h-1zM4 76h1v2h-1zM5 64h1v2h-1zM5 78h1v2h-1zM6 58h1v2h-1zM6 64h1v2h-1zM6 72h1v2h-1zM7 64h1v2h-1zM12 74h1v2h-1zM15 68h1v2h-1zM16 64h1v2h-1zM16 70h1v2h-1zM19 58h1v2h-1zM20 70h1v2h-1zM24 70h1v2h-1zM28 76h1v2h-1zM29 58h1v2h-1zM31 70h1v2h-1zM32 68h1v2h-1zM34 58h1v2h-1zM34 64h1v2h-1zM34 74h1v2h-1zM36 62h1v2h-1zM38 74h1v2h-1zM40 46h1v2h-1zM43 62h1v2h-1zM44 60h1v2h-1zM50 62h1v4h-1zM52 70h1v2h-1zM54 72h1v2h-1zM63 74h1v2h-1zM68 56h1v2h-1zM71 62h1v2h-1zM74 72h1v2h-1zM80 70h1v2h-1zM81 68h1v2h-1zM86 76h1v2h-1zM87 58h1v2h-1zM96 74h1v2h-1zM106 64h1v2h-1zM107 68h1v2h-1zM109 44h1v2h-1zM109 68h1v2h-1zM111 72h1v2h-1zM112 72h1v2h-1zM114 72h1v2h-1zM117 64h1v2h-1zM117 72h1v2h-1zM118 60h1v2h-1zM118 66h1v2h-1z"/><path fill="#637" d="M2 86h1v2h-1zM5 92h1v2h-1zM6 92h1v2h-1zM9 82h1v2h-1zM12 94h1v2h-1zM19 90h1v2h-1zM19 106h1v2h-1zM21 82h1v2h-1zM21 110h1v2h-1zM22 98h1v2h-1zM34 104h1v2h-1zM37 92h1v2h-1zM40 108h1v2h-1zM49 110h1v2h-1zM50 114h1v2h-1zM51 86h1v2h-1zM52 82h1v2h-1zM56 82h1v2h-1zM57 86h1v2h-1zM60 96h1v2h-1zM63 90h1v2h-1zM67 112h1v2h-1zM68 82h1v2h-1zM74 82h1v2h-1zM74 92h1v2h-1zM75 106h1v2h-1zM77 84h1v2h-1zM77 90h1v2h-1zM81 80h1v2h-1zM85 88h1v2h-1zM86 90h1v2h-1zM89 100h1v2h-1z"/><path fill="#a69" d="M3 6h1v2h-1zM9 40h1v2h-1zM10 38h1v2h-1zM11 38h1v4h-1zM14 40h1v2h-1zM19 48h1v2h-1zM20 48h1v2h-1zM21 44h1v2h-1zM21 52h1v2h-1zM22 78h1v2h-1zM25 46h1v2h-1zM28 46h1v2h-1zM30 48h1v2h-1zM32 52h1v2h-1zM33 32h1v2h-1zM38 54h1v2h-1zM39 0h1v2h-1zM39 8h1v2h-1zM40 28h1v2h-1zM40 38h1v2h-1zM42 36h1v2h-1zM42 50h1v2h-1zM44 42h1v2h-1zM47 56h1v2h-1zM48 36h1v2h-1zM55 32h1v2h-1zM57 52h1v2h-1zM58 42h1v2h-1zM58 56h1v2h-1zM59 30h1v2h-1zM59 44h1v2h-1zM61 36h1v2h-1zM63 36h1v2h-1zM64 34h1v2h-1zM67 30h1v2h-1zM70 26h1v2h-1zM80 50h1v2h-1zM83 38h1v2h-1zM88 46h1v2h-1zM89 30h1v2h-1zM91 24h1v2h-1zM91 32h1v2h-1zM92 16h1v2h-1zM95 36h1v2h-1zM96 38h1v2h-1zM103 42h1v2h-1zM104 40h1v2h-1zM104 52h1v2h-1zM110 34h1v2h-1zM113 24h1v2h-1zM114 38h1v2h-1zM116 36h1v2h-1zM117 36h1v2h-1z"/><path fill="#fa4" d="M3 40h1v2h-1zM11 50h1v2h-1zM17 68h1v2h-1zM19 78h1v2h-1zM24 50h1v2h-1zM32 62h1v2h-1zM40 54h1v2h-1zM45 50h1v2h-1zM54 54h1v2h-1zM58 70h1v2h-1zM64 36h1v2h-1zM64 42h1v2h-1zM66 56h1v2h-1zM68 46h1v2h-1zM70 32h1v2h-1zM72 42h1v2h-1zM72 50h1v2h-1zM73 56h1v2h-1zM90 52h1v2h-1zM92 56h1v2h-1zM93 54h1v2h-1zM98 38h1v2h-1zM99 54h1v2h-1zM103 58h1v2h-1zM106 46h1v2h-1zM108 46h1v2h-1zM110 44h1v2h-1zM117 60h1v2h-1z"/><path fill="#213" d="M3 80h1v2h-1zM3 90h1v2h-1zM7 106h1v2h-1zM8 96h1v2h-1zM16 84h1v4h-1zM17 84h1v2h-1zM17 98h1v2h-1zM20 82h1v2h-1zM20 96h1v2h-1zM20 102h1v2h-1zM22 106h1v2h-1zM41 84h1v2h-1zM41 92h1v4h-1zM49 112h1v2h-1zM65 82h1v2h-1zM68 92h1v2h-1zM68 112h1v2h-1zM69 94h1v2h-1zM69 106h1v4h-1zM69 112h1v2h-1zM71 78h1v2h-1zM73 82h1v2h-1zM75 114h1v2h-1zM79 88h1v2h-1zM79 100h1v2h-1zM79 110h1v2h-1zM80 96h1v2h-1zM83 84h1v2h-1zM86 78h1v2h-1zM86 82h1v2h-1zM90 94h1v2h-1zM91 78h1v2h-1zM91 84h1v2h-1zM98 86h1v2h-1zM98 94h1v2h-1zM102 84h1v2h-1z"/><path fill="#547" d="M3 92h1v2h-1zM16 52h1v2h-1zM17 108h1v2h-1zM21 2h1v2h-1zM22 84h1v2h-1zM22 88h1v2h-1zM58 90h1v2h-1zM59 102h1v2h-1zM79 84h1v2h-1zM80 78h1v2h-1zM90 2h1v2h-1zM96 2h1v2h-1zM106 0h1v2h-1zM106 4h1v2h-1zM117 108h1v2h-1zM118 100h1v2h-1z"/><path fill="#214" d="M3 106h1v2h-1zM76 94h1v2h-1zM84 104h1v2h-1zM102 100h1v2h-1z"/><path fill="#86a" d="M4 48h1v2h-1zM14 32h1v2h-1zM15 32h1v2h-1zM15 36h1v2h-1zM104 28h1v2h-1z"/><path fill="#fea" d="M4 62h1v4h-1zM4 68h1v2h-1zM14 68h1v2h-1zM16 72h1v2h-1zM18 76h1v2h-1zM19 76h1v2h-1zM20 62h1v2h-1zM21 70h1v2h-1zM22 72h1v2h-1zM26 70h1v2h-1zM27 68h1v2h-1zM32 72h1v2h-1zM36 58h1v2h-1zM38 70h1v2h-1zM40 60h1v4h-1zM42 60h1v2h-1zM49 64h1v2h-1zM57 68h1v2h-1zM60 70h1v2h-1zM64 66h1v2h-1zM71 70h1v2h-1zM71 74h1v2h-1zM73 76h1v2h-1zM74 74h1v2h-1zM76 64h1v2h-1zM76 68h1v2h-1zM77 72h1v2h-1zM80 66h1v2h-1zM84 72h1v2h-1zM90 74h1v2h-1zM92 74h1v2h-1zM105 64h1v2h-1zM113 62h1v2h-1zM115 74h1v2h-1z"/><path fill="#526" d="M4 80h1v2h-1zM5 112h1v4h-1zM10 86h1v2h-1zM13 92h1v2h-1zM30 112h1v2h-1zM31 90h1v2h-1zM32 106h1v2h-1zM33 90h1v2h-1zM36 92h1v2h-1zM38 100h1v2h-1zM39 88h1v2h-1zM42 106h1v2h-1zM44 84h1v2h-1zM44 110h1v2h-1zM47 92h1v2h-1zM50 92h1v2h-1zM51 92h1v2h-1zM55 112h1v2h-1zM60 112h1v2h-1zM63 98h1v2h-1zM67 94h1v2h-1zM72 102h1v2h-1zM72 114h1v2h-1zM73 90h1v2h-1zM81 98h1v2h-1zM108 112h1v2h-1z"/><path fill="#112" d="M4 102h1v2h-1zM5 86h1v2h-1zM5 106h1v2h-1zM8 80h1v2h-1zM8 110h1v2h-1zM10 88h1v2h-1zM10 110h1v2h-1zM13 94h1v2h-1zM15 80h1v2h-1zM18 92h1v2h-1zM21 86h1v4h-1zM23 90h1v2h-1zM24 82h1v2h-1zM25 112h1v2h-1zM27 100h1v2h-1zM28 102h1v2h-1zM31 102h1v2h-1zM35 110h1v2h-1zM37 98h1v2h-1zM37 106h1v2h-1zM38 110h1v2h-1zM38 114h1v2h-1zM43 114h1v2h-1zM44 102h1v2h-1zM47 98h1v2h-1zM48 100h1v2h-1zM51 104h1v2h-1zM55 92h1v2h-1zM56 114h1v2h-1zM57 102h1v2h-1zM58 80h1v2h-1zM58 102h1v2h-1zM58 114h1v2h-1zM60 114h1v2h-1zM61 104h1v2h-1zM62 96h1v2h-1zM64 106h1v2h-1zM65 96h1v2h-1zM67 82h1v2h-1zM70 94h1v2h-1zM72 96h1v2h-1zM74 88h1v2h-1zM74 108h1v2h-1zM75 94h1v2h-1zM78 84h1v2h-1z"/><path fill="#e74" d="M5 54h1v4h-1zM8 36h1v2h-1zM9 52h1v2h-1zM10 56h1v2h-1zM10 78h1v2h-1zM13 36h1v2h-1zM20 52h1v2h-1zM21 34h1v2h-1zM21 48h1v4h-1zM26 48h1v2h-1zM27 36h1v2h-1zM27 48h1v2h-1zM32 54h1v2h-1zM34 32h1v2h-1zM34 36h1v2h-1zM35 56h1v2h-1zM36 44h1v2h-1zM36 48h1v2h-1zM37 48h1v2h-1zM39 54h1v2h-1zM41 34h1v2h-1zM42 44h1v2h-1zM44 34h1v2h-1zM46 52h1v2h-1zM47 54h1v2h-1zM48 48h1v2h-1zM48 52h1v4h-1zM49 40h1v2h-1zM57 42h1v2h-1zM62 44h1v2h-1zM62 56h1v2h-1zM63 32h1v4h-1zM66 34h1v2h-1zM67 40h1v2h-1zM74 38h1v2h-1zM76 54h1v2h-1zM78 30h1v4h-1zM78 46h1v2h-1zM78 52h1v4h-1zM79 30h1v2h-1zM85 42h1v2h-1zM88 28h1v2h-1zM88 34h1v2h-1zM88 44h1v2h-1zM89 32h1v4h-1zM89 38h1v2h-1zM89 46h1v2h-1zM89 58h1v2h-1zM94 44h1v2h-1zM95 28h1v2h-1zM97 48h1v2h-1zM99 36h1v2h-1zM100 46h1v2h-1zM101 58h1v2h-1zM103 36h1v2h-1zM103 44h1v2h-1zM106 50h1v2h-1zM106 56h1v2h-1zM115 50h1v2h-1zM116 28h1v2h-1zM116 32h1v2h-1zM120 56h1v2h-1z"/><path fill="#627" d="M5 94h1v2h-1zM6 90h1v2h-1zM9 86h1v2h-1zM9 94h1v2h-1zM10 106h1v2h-1zM11 96h1v2h-1zM11 100h1v2h-1zM11 108h1v2h-1zM16 88h1v2h-1zM16 96h1v2h-1zM17 80h1v2h-1zM25 82h1v2h-1zM27 86h1v2h-1zM31 106h1v2h-1zM36 100h1v2h-1zM40 102h1v2h-1zM41 112h1v2h-1zM42 80h1v2h-1zM42 94h1v2h-1zM44 92h1v2h-1zM48 104h1v2h-1zM49 84h1v2h-1zM50 110h1v2h-1zM51 106h1v2h-1zM54 88h1v2h-1zM56 98h1v2h-1zM57 108h1v2h-1zM58 82h1v2h-1zM65 114h1v2h-1zM66 90h1v2h-1zM66 96h1v2h-1zM70 82h1v2h-1zM71 112h1v2h-1zM72 90h1v2h-1zM74 112h1v2h-1z"/><path fill="#658" d="M7 34h1v2h-1zM15 44h1v2h-1zM16 56h1v2h-1zM49 100h1v2h-1zM98 6h1v2h-1zM100 14h1v2h-1z"/><path fill="#d55" d="M7 40h1v2h-1zM12 34h1v2h-1zM23 38h1v2h-1zM32 46h1v2h-1zM33 78h1v2h-1zM35 78h1v2h-1zM43 32h1v2h-1zM44 30h1v2h-1zM45 52h1v2h-1zM50 56h1v4h-1zM52 32h1v2h-1zM53 40h1v2h-1zM62 34h1v2h-1zM65 58h1v2h-1zM74 52h1v2h-1zM80 56h1v2h-1zM81 38h1v2h-1zM84 52h1v2h-1zM92 36h1v2h-1zM93 46h1v2h-1zM94 38h1v2h-1zM95 58h1v2h-1zM96 58h1v2h-1zM99 52h1v2h-1zM102 28h1v2h-1zM102 52h1v2h-1zM105 42h1v2h-1zM110 48h1v2h-1zM112 40h1v2h-1zM119 58h1v2h-1zM120 46h1v2h-1z"/><path fill="#e84" d="M7 52h1v4h-1zM11 48h1v2h-1zM12 44h1v2h-1zM12 52h1v2h-1zM13 42h1v2h-1zM21 78h1v2h-1zM24 38h1v2h-1zM24 42h1v2h-1zM28 48h1v2h-1zM31 48h1v4h-1zM31 54h1v2h-1zM37 46h1v2h-1zM40 36h1v2h-1zM41 30h1v2h-1zM41 48h1v2h-1zM44 54h1v2h-1zM45 30h1v2h-1zM46 50h1v2h-1zM47 58h1v2h-1zM51 46h1v2h-1zM51 58h1v2h-1zM53 46h1v4h-1zM55 38h1v2h-1zM55 42h1v2h-1zM56 38h1v2h-1zM59 40h1v2h-1zM61 44h1v2h-1zM61 48h1v2h-1zM65 42h1v2h-1zM67 56h1v2h-1zM68 34h1v2h-1zM70 30h1v2h-1zM70 58h1v2h-1zM73 52h1v2h-1zM78 40h1v2h-1zM79 40h1v2h-1zM80 36h1v2h-1zM81 54h1v2h-1zM84 76h1v2h-1zM90 32h1v2h-1zM90 50h1v2h-1zM93 42h1v2h-1zM94 52h1v2h-1zM95 40h1v2h-1zM97 32h1v4h-1zM97 50h1v2h-1zM102 36h1v2h-1zM104 42h1v2h-1zM106 28h1v2h-1zM107 34h1v2h-1zM108 58h1v2h-1zM110 30h1v2h-1zM112 28h1v2h-1zM116 42h1v2h-1zM117 38h1v2h-1zM119 36h1v2h-1zM120 38h1v2h-1z"/><path fill="#546" d="M7 80h1v2h-1zM8 82h1v2h-1zM8 108h1v2h-1zM19 102h1v2h-1zM23 86h1v2h-1zM66 92h1v2h-1zM72 12h1v2h-1zM119 92h1v2h-1zM119 102h1v2h-1z"/><path fill="#113" d="M7 82h1v2h-1zM12 96h1v2h-1zM12 102h1v2h-1zM12 106h1v2h-1zM18 90h1v2h-1zM21 104h1v2h-1zM24 90h1v2h-1zM24 94h1v2h-1zM33 114h1v2h-1zM37 90h1v2h-1zM41 82h1v2h-1zM42 88h1v2h-1zM50 102h1v2h-1zM56 96h1v2h-1zM57 88h1v2h-1zM58 88h1v2h-1zM61 88h1v2h-1zM67 80h1v2h-1zM72 88h1v2h-1z"/><path fill="#97a" d="M8 34h1v2h-1zM17 34h1v2h-1zM17 38h1v2h-1zM24 6h1v2h-1zM26 42h1v2h-1zM29 44h1v2h-1zM30 78h1v2h-1zM39 18h1v2h-1zM54 42h1v2h-1zM55 36h1v2h-1zM58 40h1v2h-1zM62 32h1v2h-1zM62 48h1v2h-1zM78 56h1v2h-1zM87 48h1v2h-1zM95 32h1v2h-1zM96 34h1v2h-1zM110 14h1v2h-1z"/><path fill="#c57" d="M8 46h1v2h-1zM13 56h1v2h-1zM19 42h1v2h-1zM31 42h1v2h-1zM45 36h1v2h-1zM54 50h1v2h-1zM65 38h1v2h-1zM75 52h1v2h-1zM82 58h1v2h-1zM83 30h1v2h-1zM87 50h1v4h-1zM88 52h1v2h-1zM98 40h1v2h-1zM103 28h1v2h-1zM112 60h1v2h-1zM115 30h1v2h-1zM119 40h1v2h-1zM120 44h1v2h-1z"/><path fill="#d65" d="M9 38h1v2h-1zM12 38h1v2h-1zM14 36h1v2h-1zM17 50h1v2h-1zM20 42h1v2h-1zM21 40h1v2h-1zM24 52h1v2h-1zM28 40h1v2h-1zM30 38h1v2h-1zM36 40h1v2h-1zM37 36h1v2h-1zM41 54h1v2h-1zM46 36h1v2h-1zM47 44h1v2h-1zM48 44h1v2h-1zM49 58h1v2h-1zM53 36h1v4h-1zM53 42h1v2h-1zM57 56h1v2h-1zM58 30h1v2h-1zM64 44h1v2h-1zM64 50h1v2h-1zM69 48h1v2h-1zM73 30h1v2h-1zM77 54h1v2h-1zM80 34h1v2h-1zM84 54h1v2h-1zM87 38h1v2h-1zM92 46h1v2h-1zM93 50h1v2h-1zM94 42h1v2h-1zM99 32h1v2h-1zM99 48h1v2h-1zM102 54h1v2h-1zM104 32h1v2h-1zM105 36h1v2h-1zM106 48h1v2h-1zM108 28h1v2h-1zM108 38h1v2h-1zM110 50h1v2h-1zM112 58h1v2h-1zM116 30h1v2h-1z"/><path fill="#fa5" d="M9 58h1v2h-1zM24 48h1v2h-1zM49 50h1v2h-1zM84 50h1v2h-1zM88 50h1v2h-1zM113 60h1v2h-1z"/><path fill="#537" d="M9 84h1v2h-1zM13 80h1v2h-1zM16 110h1v2h-1zM17 110h1v2h-1zM17 114h1v2h-1zM18 82h1v2h-1zM20 106h1v2h-1zM22 86h1v2h-1zM31 100h1v2h-1zM34 102h1v2h-1zM34 108h1v2h-1zM40 82h1v2h-1zM54 104h1v2h-1zM59 90h1v2h-1zM80 112h1v2h-1zM86 110h1v2h-1z"/><path fill="#527" d="M9 104h1v2h-1zM18 84h1v2h-1zM30 102h1v2h-1zM37 112h1v2h-1zM44 90h1v2h-1zM56 110h1v2h-1zM59 112h1v2h-1zM61 92h1v2h-1z"/><path fill="#759" d="M10 26h1v2h-1zM31 26h1v2h-1zM61 34h1v2h-1zM101 102h1v2h-1zM102 30h1v2h-1zM108 92h1v2h-1zM109 80h1v2h-1zM112 76h1v2h-1zM114 86h1v2h-1z"/><path fill="#ea4" d="M11 54h1v2h-1zM23 78h1v2h-1zM44 58h1v2h-1zM45 58h1v2h-1zM49 54h1v2h-1zM56 34h1v2h-1zM66 54h1v2h-1zM71 48h1v2h-1zM76 32h1v2h-1zM78 44h1v2h-1zM88 56h1v2h-1zM91 54h1v2h-1zM115 40h1v2h-1zM117 58h1v2h-1z"/><path fill="#628" d="M11 106h1v2h-1zM16 82h1v2h-1zM19 112h1v2h-1z"/><path fill="#fe9" d="M12 62h1v2h-1zM15 72h1v2h-1zM15 76h1v2h-1zM17 76h1v2h-1zM21 62h1v2h-1zM22 58h1v2h-1zM34 66h1v2h-1zM44 62h1v2h-1zM45 62h1v2h-1zM50 76h1v2h-1zM60 64h1v2h-1zM75 66h1v2h-1zM79 62h1v2h-1zM82 68h1v4h-1zM88 68h1v2h-1zM91 70h1v2h-1zM108 74h1v2h-1zM115 62h1v2h-1zM116 62h1v2h-1zM118 74h1v2h-1z"/><path fill="#a58" d="M14 50h1v2h-1zM28 42h1v2h-1zM29 36h1v2h-1zM39 56h1v2h-1zM40 10h1v2h-1zM49 42h1v2h-1zM65 56h1v2h-1zM66 36h1v2h-1zM93 38h1v2h-1zM95 38h1v2h-1zM96 48h1v2h-1zM104 48h1v2h-1zM105 76h1v2h-1zM107 58h1v2h-1zM109 0h1v2h-1zM109 16h1v2h-1zM111 46h1v2h-1zM114 30h1v2h-1zM119 76h1v2h-1z"/><path fill="#d56" d="M22 40h1v2h-1zM46 30h1v2h-1zM49 48h1v2h-1zM116 52h1v2h-1z"/><path fill="#415" d="M30 108h1v2h-1zM35 84h1v2h-1zM39 108h1v2h-1zM43 104h1v2h-1z"/><path fill="#e94" d="M31 30h1v2h-1zM31 38h1v2h-1zM31 44h1v2h-1zM34 54h1v2h-1zM40 52h1v2h-1zM40 56h1v2h-1zM42 58h1v2h-1zM43 52h1v2h-1zM48 58h1v2h-1zM51 48h1v2h-1zM52 58h1v2h-1zM53 54h1v2h-1zM54 44h1v2h-1zM55 34h1v2h-1zM56 52h1v2h-1zM63 50h1v2h-1zM65 34h1v2h-1zM65 48h1v2h-1zM66 48h1v2h-1zM68 40h1v2h-1zM72 40h1v2h-1zM77 46h1v2h-1zM78 50h1v2h-1zM79 50h1v2h-1zM80 46h1v2h-1zM83 48h1v4h-1zM83 58h1v2h-1zM84 40h1v2h-1zM84 56h1v2h-1zM85 32h1v2h-1zM86 54h1v2h-1zM87 56h1v2h-1zM90 38h1v2h-1zM91 50h1v2h-1zM92 40h1v2h-1zM93 44h1v2h-1zM98 54h1v2h-1zM100 50h1v2h-1zM101 50h1v2h-1zM102 38h1v2h-1zM102 46h1v2h-1zM103 48h1v2h-1zM104 44h1v2h-1zM107 32h1v2h-1zM107 50h1v2h-1zM107 56h1v2h-1zM108 40h1v2h-1zM108 44h1v2h-1zM110 42h1v2h-1zM111 42h1v2h-1zM111 48h1v2h-1zM112 44h1v2h-1zM113 44h1v2h-1zM116 54h1v2h-1zM119 32h1v4h-1z"/><path fill="#a68" d="M40 40h1v2h-1zM41 32h1v2h-1zM47 52h1v2h-1zM57 50h1v2h-1zM66 38h1v2h-1zM108 4h1v2h-1z"/><path fill="#416" d="M51 94h1v2h-1z"/><path fill="#fd7" d="M58 62h1v2h-1zM77 76h1v2h-1zM101 48h1v2h-1zM101 52h1v2h-1z"/><path fill="#638" d="M68 86h1v2h-1zM84 108h1v2h-1zM84 114h1v2h-1zM91 82h1v2h-1zM91 88h1v2h-1z"/><path fill="#738" d="M69 110h1v2h-1zM75 110h1v2h-1zM85 104h1v2h-1zM85 112h1v2h-1z"/><path fill="#425" d="M73 112h1v2h-1zM78 102h1v2h-1zM78 112h1v2h-1zM101 106h1v2h-1zM101 112h1v2h-1zM108 110h1v2h-1zM109 94h1v2h-1zM116 80h1v2h-1zM116 94h1v2h-1z"/><path fill="#648" d="M83 88h1v2h-1zM90 104h1v2h-1zM102 102h1v2h-1zM104 82h1v2h-1zM105 88h1v2h-1z"/><path fill="#748" d="M86 108h1v2h-1zM88 80h1v2h-1zM88 112h1v2h-1zM90 102h1v2h-1zM90 106h1v2h-1zM90 112h1v2h-1zM91 92h1v2h-1zM93 78h1v2h-1zM93 94h1v2h-1zM94 94h1v2h-1zM97 80h1v2h-1zM99 106h1v2h-1zM100 86h1v2h-1zM101 78h1v4h-1zM106 80h1v2h-1z"/><path fill="#325" d="M87 78h1v2h-1zM87 82h1v2h-1zM92 112h1v2h-1zM100 92h1v2h-1zM101 100h1v2h-1zM110 96h1v2h-1z"/><path fill="#224" d="M87 108h1v2h-1zM95 88h1v2h-1z"/><path fill="#313" d="M87 114h1v2h-1z"/><path fill="#d74" d="M89 76h1v2h-1z"/><path fill="#324" d="M91 102h1v2h-1zM93 88h1v2h-1zM97 106h1v2h-1zM104 78h1v2h-1z"/><path fill="#eb5" d="M92 76h1v2h-1z"/><path fill="#747" d="M92 94h1v4h-1z"/><path fill="#435" d="M93 106h1v2h-1zM110 86h1v2h-1zM111 86h1v2h-1zM113 114h1v2h-1zM114 78h1v2h-1zM115 92h1v2h-1zM117 92h1v2h-1zM118 88h1v2h-1zM119 88h1v2h-1z"/><path fill="#e95" d="M94 76h1v2h-1zM100 76h1v2h-1z"/><path fill="#ea5" d="M96 76h1v2h-1z"/><path fill="#757" d="M96 88h1v2h-1z"/><path fill="#857" d="M96 106h1v2h-1z"/><path fill="#749" d="M97 104h1v2h-1z"/><path fill="#758" d="M99 96h1v2h-1zM113 76h1v2h-1z"/><path fill="#fd6" d="M100 54h1v2h-1z"/><path fill="#848" d="M100 78h1v2h-1z"/><path fill="#d85" d="M101 76h1v2h-1z"/><path fill="#859" d="M101 96h1v2h-1zM103 114h1v2h-1zM105 108h1v2h-1zM109 88h1v2h-1zM110 94h1v2h-1zM110 110h1v2h-1zM112 88h1v2h-1zM112 102h1v2h-1zM112 110h1v2h-1zM113 96h1v2h-1zM113 112h1v2h-1zM114 76h1v2h-1zM114 82h1v2h-1zM114 102h1v2h-1zM115 84h1v2h-1zM115 104h1v2h-1z"/><path fill="#414" d="M102 90h1v2h-1z"/><path fill="#335" d="M104 110h1v2h-1zM106 96h1v2h-1zM109 78h1v2h-1zM111 92h1v2h-1zM111 98h1v2h-1z"/><path fill="#e85" d="M106 76h1v2h-1z"/><path fill="#436" d="M109 96h1v2h-1zM110 104h1v2h-1zM115 96h1v2h-1zM115 108h1v2h-1zM117 114h1v2h-1zM118 92h1v2h-1zM120 80h1v2h-1z"/><path fill="#315" d="M109 114h1v2h-1z"/><path fill="#858" d="M111 88h1v2h-1zM120 78h1v2h-1z"/><path fill="#958" d="M114 100h1v2h-1z"/><path fill="#959" d="M118 98h1v2h-1zM120 102h1v2h-1z"/><path fill="#536" d="M120 82h1v2h-1z"/><path fill="#957" d="M120 90h1v2h-1z"/></svg></div></div>
<svg width="685" height="316" viewBox="0 0 685 316" xmlns="http://www.w3.org/2000/svg">
<defs><linearGradient id="cbm" x1="0" y1="0" x2="0" y2="1"><stop offset="0.0000" stop-color="#fcfdbf"/><stop offset="0.0625" stop-color="#fde2a3"/><stop offset="0.1250" stop-color="#fec488"/><stop offset="0.1875" stop-color="#fea772"/><stop offset="0.2500" stop-color="#fc8961"/><stop offset="0.3125" stop-color="#f56b5c"/><stop offset="0.3750" stop-color="#e75263"/><stop offset="0.4375" stop-color="#d0416f"/><stop offset="0.5000" stop-color="#b73779"/><stop offset="0.5625" stop-color="#9c2e7f"/><stop offset="0.6250" stop-color="#832681"/><stop offset="0.6875" stop-color="#6a1c81"/><stop offset="0.7500" stop-color="#51127c"/><stop offset="0.8125" stop-color="#36106b"/><stop offset="0.8750" stop-color="#1d1147"/><stop offset="0.9375" stop-color="#0a0822"/><stop offset="1.0000" stop-color="#000004"/></linearGradient><linearGradient id="cb2" x1="0" y1="0" x2="0" y2="1"><stop offset="0.0" stop-color="#fdfbd0"/><stop offset="0.09" stop-color="#fde48a"/><stop offset="0.2" stop-color="#fbc060"/><stop offset="0.26" stop-color="#f8a048"/><stop offset="0.37" stop-color="#f07848"/><stop offset="0.48" stop-color="#d84860"/><stop offset="0.61" stop-color="#a83080"/><stop offset="0.74" stop-color="#702890"/><stop offset="0.86" stop-color="#3a1c70"/><stop offset="0.95" stop-color="#1a1030"/><stop offset="1.0" stop-color="#0a0810"/></linearGradient></defs>
<text transform="translate(2.3,13.5) scale(0.86,1)" font-size="21" fill="#222">a</text>
<text transform="translate(2.2,154.1) scale(1,1)" font-size="21" fill="#222">b</text>
<text transform="translate(197.0,13.3) scale(1,1)" font-size="21" fill="#222">c</text>
<text transform="translate(196.8,155.0) scale(1,1)" font-size="21" fill="#222">d</text>
<text transform="translate(423.4,13.5) scale(1,1)" font-size="21" fill="#222">e</text>
<rect x="34.5" y="4.5" width="115" height="115.8" fill="none" stroke="#5e5e5e" stroke-width="1"/>
<line x1="31.0" y1="5.0" x2="34.5" y2="5.0" stroke="#555" stroke-width="1"/>
<line x1="31.0" y1="43.9" x2="34.5" y2="43.9" stroke="#555" stroke-width="1"/>
<line x1="31.0" y1="82.5" x2="34.5" y2="82.5" stroke="#555" stroke-width="1"/>
<line x1="31.0" y1="120.3" x2="34.5" y2="120.3" stroke="#555" stroke-width="1"/>
<text transform="translate(28.6,46.8) scale(1.07,1)" font-size="11.6" text-anchor="end" fill="#1a1a1a">-2.45</text>
<text transform="translate(28.6,123.4) scale(1.07,1)" font-size="11.6" text-anchor="end" fill="#1a1a1a">-2.46</text>
<line x1="34.8" y1="120.3" x2="34.8" y2="124.8" stroke="#555" stroke-width="1"/>
<line x1="80.6" y1="120.3" x2="80.6" y2="124.8" stroke="#555" stroke-width="1"/>
<line x1="126.6" y1="120.3" x2="126.6" y2="124.8" stroke="#555" stroke-width="1"/>
<text transform="translate(34.8,136.1) scale(1.07,1)" font-size="11.6" text-anchor="middle" fill="#1a1a1a">0</text>
<text transform="translate(80.6,136.1) scale(1.07,1)" font-size="11.6" text-anchor="middle" fill="#1a1a1a">2</text>
<text transform="translate(126.6,136.1) scale(1.07,1)" font-size="11.6" text-anchor="middle" fill="#1a1a1a">4</text>
<text transform="translate(74.6,149.9) scale(1.07,1)" font-size="12.6" fill="#1a1a1a"><tspan font-style="italic">B</tspan><tspan font-size="8.2" dy="4.5">Y</tspan><tspan dy="-4.5" dx="0.6">(T)</tspan></text>
<text transform="translate(17.2,94.4) rotate(-90.0)" font-size="12.5" fill="#1a1a1a"><tspan font-style="italic">V</tspan><tspan font-size="8.5" dy="3">G</tspan><tspan dy="-3" dx="0.5">(V)</tspan></text>
<rect x="156.5" y="6.2" width="6.2" height="115.2" fill="url(#cbm)" stroke="#777" stroke-width="0.6"/>
<line x1="162.7" y1="9.5" x2="166.5" y2="9.5" stroke="#555" stroke-width="1"/>
<line x1="162.7" y1="47.3" x2="166.5" y2="47.3" stroke="#555" stroke-width="1"/>
<line x1="162.7" y1="84.4" x2="166.5" y2="84.4" stroke="#555" stroke-width="1"/>
<line x1="162.7" y1="121.3" x2="166.5" y2="121.3" stroke="#555" stroke-width="1"/>
<text transform="translate(170.2,13.3) scale(1.07,1)" font-size="11.6" text-anchor="start" fill="#1a1a1a">0</text>
<text transform="translate(170.0,124.4) scale(1.07,1)" font-size="11.6" text-anchor="start" fill="#1a1a1a">-3</text>
<text transform="translate(178.6,76.6) rotate(-90.0)" font-size="12" fill="#1a1a1a"><tspan font-style="italic">I</tspan><tspan font-size="7.5" dy="3" dx="0.5">SD</tspan><tspan dy="-3" dx="1.5">(pA)</tspan></text>
<rect x="33.5" y="164.5" width="121" height="115.8" fill="none" stroke="#5e5e5e" stroke-width="1"/>
<line x1="30.0" y1="164.5" x2="33.5" y2="164.5" stroke="#555" stroke-width="1"/>
<line x1="30.0" y1="187.3" x2="33.5" y2="187.3" stroke="#555" stroke-width="1"/>
<line x1="30.0" y1="210.4" x2="33.5" y2="210.4" stroke="#555" stroke-width="1"/>
<line x1="30.0" y1="233.7" x2="33.5" y2="233.7" stroke="#555" stroke-width="1"/>
<line x1="30.0" y1="256.9" x2="33.5" y2="256.9" stroke="#555" stroke-width="1"/>
<line x1="30.0" y1="280.3" x2="33.5" y2="280.3" stroke="#555" stroke-width="1"/>
<text transform="translate(25.6,190.9) scale(1.07,1)" font-size="11.6" text-anchor="end" fill="#1a1a1a">-4.02</text>
<text transform="translate(25.6,283.9) scale(1.07,1)" font-size="11.6" text-anchor="end" fill="#1a1a1a">-4.06</text>
<line x1="33.6" y1="280.3" x2="33.6" y2="283.8" stroke="#555" stroke-width="1"/>
<line x1="63.8" y1="280.3" x2="63.8" y2="283.8" stroke="#555" stroke-width="1"/>
<line x1="93.8" y1="280.3" x2="93.8" y2="283.8" stroke="#555" stroke-width="1"/>
<line x1="124.0" y1="280.3" x2="124.0" y2="283.8" stroke="#555" stroke-width="1"/>
<line x1="154.0" y1="280.3" x2="154.0" y2="283.8" stroke="#555" stroke-width="1"/>
<text transform="translate(33.6,295.3) scale(1.07,1)" font-size="11.6" text-anchor="middle" fill="#1a1a1a">-1</text>
<text transform="translate(93.8,295.3) scale(1.07,1)" font-size="11.6" text-anchor="middle" fill="#1a1a1a">0</text>
<text transform="translate(154.3,295.3) scale(1.07,1)" font-size="11.6" text-anchor="middle" fill="#1a1a1a">1</text>
<text transform="translate(80.5,311.1) scale(1.07,1)" font-size="12.6" fill="#1a1a1a"><tspan font-style="italic">B</tspan><tspan font-size="8.2" dy="4.5">z</tspan><tspan dy="-4.5" dx="0.6">(T)</tspan></text>
<text transform="translate(17.2,244.6) rotate(-90.0)" font-size="12.5" fill="#1a1a1a"><tspan font-style="italic">V</tspan><tspan font-size="8.5" dy="3">G</tspan><tspan dy="-3" dx="0.5">(V)</tspan></text>
<rect x="160.5" y="165.0" width="6.2" height="117" fill="url(#cb2)" stroke="#777" stroke-width="0.6"/>
<line x1="166.7" y1="165.2" x2="169.5" y2="165.2" stroke="#555" stroke-width="1"/>
<line x1="166.7" y1="182.5" x2="169.5" y2="182.5" stroke="#555" stroke-width="1"/>
<line x1="166.7" y1="200.0" x2="169.5" y2="200.0" stroke="#555" stroke-width="1"/>
<line x1="166.7" y1="216.8" x2="169.5" y2="216.8" stroke="#555" stroke-width="1"/>
<line x1="166.7" y1="234.0" x2="169.5" y2="234.0" stroke="#555" stroke-width="1"/>
<line x1="166.7" y1="251.2" x2="169.5" y2="251.2" stroke="#555" stroke-width="1"/>
<line x1="166.7" y1="269.4" x2="169.5" y2="269.4" stroke="#555" stroke-width="1"/>
<text transform="translate(170.3,169.8) scale(1.07,1)" font-size="11.6" text-anchor="start" fill="#1a1a1a">1.5</text>
<text transform="translate(171.0,273.4) scale(1.07,1)" font-size="11.6" text-anchor="start" fill="#1a1a1a">0</text>
<text transform="translate(182.3,237.9) rotate(-90.0)" font-size="12" fill="#1a1a1a"><tspan font-style="italic">I</tspan><tspan font-size="7.5" dy="3" dx="0.5">SD</tspan><tspan dy="-3" dx="1.5">(pA)</tspan></text>
<rect x="242.5" y="2.8" width="122" height="116.6" fill="none" stroke="#5e5e5e" stroke-width="1"/>
<line x1="239.0" y1="2.8" x2="242.5" y2="2.8" stroke="#555" stroke-width="1"/>
<line x1="239.0" y1="26.2" x2="242.5" y2="26.2" stroke="#555" stroke-width="1"/>
<line x1="239.0" y1="49.7" x2="242.5" y2="49.7" stroke="#555" stroke-width="1"/>
<line x1="239.0" y1="72.9" x2="242.5" y2="72.9" stroke="#555" stroke-width="1"/>
<line x1="239.0" y1="96.2" x2="242.5" y2="96.2" stroke="#555" stroke-width="1"/>
<line x1="239.0" y1="119.4" x2="242.5" y2="119.4" stroke="#555" stroke-width="1"/>
<text transform="translate(236.2,29.9) scale(1.07,1)" font-size="11.6" text-anchor="end" fill="#1a1a1a">-4.02</text>
<text transform="translate(236.2,123.1) scale(1.07,1)" font-size="11.6" text-anchor="end" fill="#1a1a1a">-4.06</text>
<line x1="243.2" y1="119.4" x2="243.2" y2="122.9" stroke="#555" stroke-width="1"/>
<line x1="273.4" y1="119.4" x2="273.4" y2="122.9" stroke="#555" stroke-width="1"/>
<line x1="304.1" y1="119.4" x2="304.1" y2="122.9" stroke="#555" stroke-width="1"/>
<line x1="334.7" y1="119.4" x2="334.7" y2="122.9" stroke="#555" stroke-width="1"/>
<line x1="364.5" y1="119.4" x2="364.5" y2="122.9" stroke="#555" stroke-width="1"/>
<text transform="translate(243.4,135.0) scale(1.07,1)" font-size="11.6" text-anchor="middle" fill="#1a1a1a">-1</text>
<text transform="translate(304.3,135.0) scale(1.07,1)" font-size="11.6" text-anchor="middle" fill="#1a1a1a">0</text>
<text transform="translate(364.0,135.0) scale(1.07,1)" font-size="11.6" text-anchor="middle" fill="#1a1a1a">1</text>
<text transform="translate(293.9,149.3) scale(1.07,1)" font-size="12.6" fill="#1a1a1a"><tspan font-style="italic">B</tspan><tspan font-size="8.2" dy="4.5">x</tspan><tspan dy="-4.5" dx="0.6">(T)</tspan></text>
<text transform="translate(226.2,83.4) rotate(-90.0)" font-size="12.5" fill="#1a1a1a"><tspan font-style="italic">V</tspan><tspan font-size="8.5" dy="3">G</tspan><tspan dy="-3" dx="0.5">(V)</tspan></text>
<rect x="371.5" y="4.4" width="6.4" height="116.8" fill="url(#cb2)" stroke="#777" stroke-width="0.6"/>
<line x1="377.9" y1="4.6" x2="381" y2="4.6" stroke="#555" stroke-width="1"/>
<line x1="377.9" y1="21.3" x2="381" y2="21.3" stroke="#555" stroke-width="1"/>
<line x1="377.9" y1="38.6" x2="381" y2="38.6" stroke="#555" stroke-width="1"/>
<line x1="377.9" y1="56.0" x2="381" y2="56.0" stroke="#555" stroke-width="1"/>
<line x1="377.9" y1="73.4" x2="381" y2="73.4" stroke="#555" stroke-width="1"/>
<line x1="377.9" y1="90.9" x2="381" y2="90.9" stroke="#555" stroke-width="1"/>
<line x1="377.9" y1="108.9" x2="381" y2="108.9" stroke="#555" stroke-width="1"/>
<text transform="translate(381.6,8.7) scale(1.07,1)" font-size="11.6" text-anchor="start" fill="#1a1a1a">1.5</text>
<text transform="translate(382.6,112.8) scale(1.07,1)" font-size="11.6" text-anchor="start" fill="#1a1a1a">0</text>
<text transform="translate(393.4,76.6) rotate(-90.0)" font-size="12" fill="#1a1a1a"><tspan font-style="italic">I</tspan><tspan font-size="7.5" dy="3" dx="0.5">SD</tspan><tspan dy="-3" dx="1.5">(pA)</tspan></text>
<rect x="242.5" y="164.8" width="121.5" height="116.3" fill="none" stroke="#5e5e5e" stroke-width="1"/>
<line x1="239.0" y1="164.8" x2="242.5" y2="164.8" stroke="#555" stroke-width="1"/>
<line x1="239.0" y1="187.5" x2="242.5" y2="187.5" stroke="#555" stroke-width="1"/>
<line x1="239.0" y1="210.9" x2="242.5" y2="210.9" stroke="#555" stroke-width="1"/>
<line x1="239.0" y1="234.2" x2="242.5" y2="234.2" stroke="#555" stroke-width="1"/>
<line x1="239.0" y1="257.5" x2="242.5" y2="257.5" stroke="#555" stroke-width="1"/>
<line x1="239.0" y1="280.9" x2="242.5" y2="280.9" stroke="#555" stroke-width="1"/>
<text transform="translate(236.2,191.1) scale(1.07,1)" font-size="11.6" text-anchor="end" fill="#1a1a1a">-4.02</text>
<text transform="translate(236.2,284.5) scale(1.07,1)" font-size="11.6" text-anchor="end" fill="#1a1a1a">-4.06</text>
<line x1="242.8" y1="281.1" x2="242.8" y2="284.6" stroke="#555" stroke-width="1"/>
<line x1="267.1" y1="281.1" x2="267.1" y2="284.6" stroke="#555" stroke-width="1"/>
<line x1="291.2" y1="281.1" x2="291.2" y2="284.6" stroke="#555" stroke-width="1"/>
<line x1="315.3" y1="281.1" x2="315.3" y2="284.6" stroke="#555" stroke-width="1"/>
<line x1="339.6" y1="281.1" x2="339.6" y2="284.6" stroke="#555" stroke-width="1"/>
<line x1="363.8" y1="281.1" x2="363.8" y2="284.6" stroke="#555" stroke-width="1"/>
<text transform="translate(243.4,296.5) scale(1.07,1)" font-size="11.6" text-anchor="middle" fill="#1a1a1a">0</text>
<text transform="translate(292.2,296.5) scale(1.07,1)" font-size="11.6" text-anchor="middle" fill="#1a1a1a">2</text>
<text transform="translate(340.0,296.5) scale(1.07,1)" font-size="11.6" text-anchor="middle" fill="#1a1a1a">4</text>
<text transform="translate(292.2,311.8) scale(1.07,1)" font-size="12.6" fill="#1a1a1a"><tspan font-style="italic">B</tspan><tspan font-size="8.2" dy="4.5">Y</tspan><tspan dy="-4.5" dx="0.6">(T)</tspan></text>
<text transform="translate(226.2,243.8) rotate(-90.0)" font-size="12.5" fill="#1a1a1a"><tspan font-style="italic">V</tspan><tspan font-size="8.5" dy="3">G</tspan><tspan dy="-3" dx="0.5">(V)</tspan></text>
<rect x="371.5" y="164.6" width="6.6" height="117.1" fill="url(#cb2)" stroke="#777" stroke-width="0.6"/>
<line x1="378.1" y1="165.0" x2="381" y2="165.0" stroke="#555" stroke-width="1"/>
<line x1="378.1" y1="181.8" x2="381" y2="181.8" stroke="#555" stroke-width="1"/>
<line x1="378.1" y1="198.7" x2="381" y2="198.7" stroke="#555" stroke-width="1"/>
<line x1="378.1" y1="217.0" x2="381" y2="217.0" stroke="#555" stroke-width="1"/>
<line x1="378.1" y1="234.3" x2="381" y2="234.3" stroke="#555" stroke-width="1"/>
<line x1="378.1" y1="251.2" x2="381" y2="251.2" stroke="#555" stroke-width="1"/>
<line x1="378.1" y1="269.4" x2="381" y2="269.4" stroke="#555" stroke-width="1"/>
<text transform="translate(380.4,169.6) scale(1.07,1)" font-size="11.6" text-anchor="start" fill="#1a1a1a">1.5</text>
<text transform="translate(382.6,273.4) scale(1.07,1)" font-size="11.6" text-anchor="start" fill="#1a1a1a">0</text>
<text transform="translate(393.4,237.2) rotate(-90.0)" font-size="12" fill="#1a1a1a"><tspan font-style="italic">I</tspan><tspan font-size="7.5" dy="3" dx="0.5">SD</tspan><tspan dy="-3" dx="1.5">(pA)</tspan></text>
<line x1="34.5" y1="40.3" x2="149.5" y2="38.4" stroke="#a8a0a8" stroke-width="1.4"/>
<line x1="34.5" y1="43.4" x2="149.5" y2="53.6" stroke="#ddd6f0" stroke-width="2.0"/>
<path d="M53.8,61.6 C44,61 38,54 36.3,48.6" fill="none" stroke="#fff" stroke-width="1.2"/>
<path d="M35.9,46.2 L34.3,50.6 L38.2,49.4 Z" fill="#fff"/>
<text transform="translate(55.6,68.1) scale(1.07,1)" font-size="14.2" fill="#fff" font-style="italic">ΔE<tspan font-size="9.2" dy="4.6">B=0</tspan><tspan font-style="normal" font-size="13.6" dy="-4.6" dx="-0.3">=0</tspan></text>
<text transform="translate(121.2,48.0) scale(1.07,1)" font-size="12.5" fill="#fff" font-style="italic">ΔE<tspan font-size="6.5" dy="3.6">B</tspan></text>
<line x1="146.3" y1="42" x2="146.3" y2="49" stroke="#fff" stroke-width="0.9" stroke-dasharray="1.2,1.2"/>
<path d="M146.3,39.2 L143.9,42.4 L148.7,42.4 Z" fill="#fff"/><path d="M146.3,51.6 L143.9,48.4 L148.7,48.4 Z" fill="#fff"/>
<line x1="242.5" y1="197.1" x2="364" y2="192.9" stroke="#c8c2d8" stroke-width="1.6"/>
<line x1="242.5" y1="222.6" x2="364" y2="226.8" stroke="#a0a090" stroke-width="1.5"/>
<text transform="translate(250.6,213.8) scale(1.07,1)" font-size="14" fill="#fff" font-style="italic">E<tspan font-size="8.6" dy="4.2">ex</tspan><tspan font-style="normal" font-size="11" dy="-4.2" dx="0.6">=0.8 meV</tspan></text>
<line x1="246.4" y1="201.5" x2="246.4" y2="218" stroke="#fff" stroke-width="0.9" stroke-dasharray="1.2,1.2"/>
<path d="M246.4,198.4 L244,201.8 L248.8,201.8 Z" fill="#fff"/><path d="M246.4,221.2 L244,217.8 L248.8,217.8 Z" fill="#fff"/>
<rect x="456.5" y="22.5" width="219.7" height="222.5" fill="none" stroke="#3a3a3a" stroke-width="1.1"/>
<line x1="456.5" y1="137.6" x2="676.2" y2="137.6" stroke="#3a3a3a" stroke-width="1.1"/>
<line x1="454" y1="37.5" x2="456.5" y2="37.5" stroke="#3a3a3a" stroke-width="0.9"/>
<line x1="454" y1="55.5" x2="456.5" y2="55.5" stroke="#3a3a3a" stroke-width="0.9"/>
<line x1="454" y1="73.5" x2="456.5" y2="73.5" stroke="#3a3a3a" stroke-width="0.9"/>
<line x1="454" y1="91.6" x2="456.5" y2="91.6" stroke="#3a3a3a" stroke-width="0.9"/>
<line x1="454" y1="109.6" x2="456.5" y2="109.6" stroke="#3a3a3a" stroke-width="0.9"/>
<line x1="454" y1="127.6" x2="456.5" y2="127.6" stroke="#3a3a3a" stroke-width="0.9"/>
<line x1="454" y1="140.3" x2="456.5" y2="140.3" stroke="#3a3a3a" stroke-width="0.9"/>
<line x1="454" y1="154.9" x2="456.5" y2="154.9" stroke="#3a3a3a" stroke-width="0.9"/>
<line x1="454" y1="169.5" x2="456.5" y2="169.5" stroke="#3a3a3a" stroke-width="0.9"/>
<line x1="454" y1="184.1" x2="456.5" y2="184.1" stroke="#3a3a3a" stroke-width="0.9"/>
<line x1="454" y1="198.6" x2="456.5" y2="198.6" stroke="#3a3a3a" stroke-width="0.9"/>
<line x1="454" y1="213.2" x2="456.5" y2="213.2" stroke="#3a3a3a" stroke-width="0.9"/>
<line x1="454" y1="227.8" x2="456.5" y2="227.8" stroke="#3a3a3a" stroke-width="0.9"/>
<line x1="454" y1="242.3" x2="456.5" y2="242.3" stroke="#3a3a3a" stroke-width="0.9"/>
<line x1="456.9" y1="245" x2="456.9" y2="247.5" stroke="#3a3a3a" stroke-width="0.9"/>
<line x1="511.5" y1="245" x2="511.5" y2="247.5" stroke="#3a3a3a" stroke-width="0.9"/>
<line x1="566.5" y1="245" x2="566.5" y2="247.5" stroke="#3a3a3a" stroke-width="0.9"/>
<line x1="620.6" y1="245" x2="620.6" y2="247.5" stroke="#3a3a3a" stroke-width="0.9"/>
<line x1="676.0" y1="245" x2="676.0" y2="247.5" stroke="#3a3a3a" stroke-width="0.9"/>
<text transform="translate(451.4,41.6) scale(1.07,1)" font-size="11.5" fill="#1a1a1a" text-anchor="end">1</text>
<text transform="translate(451.4,113.7) scale(1.07,1)" font-size="11.5" fill="#1a1a1a" text-anchor="end">0</text>
<text transform="translate(450.4,158.9) scale(1.07,1)" font-size="11.5" fill="#1a1a1a" text-anchor="end">1</text>
<text transform="translate(450.4,217.3) scale(1.07,1)" font-size="11.5" fill="#1a1a1a" text-anchor="end">0</text>
<text transform="translate(456.9,260.0) scale(1.07,1)" font-size="12" fill="#1a1a1a" text-anchor="middle">-5.0</text>
<text transform="translate(511.5,260.0) scale(1.07,1)" font-size="12" fill="#1a1a1a" text-anchor="middle">-2.5</text>
<text transform="translate(566.5,260.0) scale(1.07,1)" font-size="12" fill="#1a1a1a" text-anchor="middle">0</text>
<text transform="translate(621.8,257.6) scale(1.07,1)" font-size="12" fill="#1a1a1a" text-anchor="middle">2.5</text>
<text transform="translate(677.3,257.6) scale(1.07,1)" font-size="12" fill="#1a1a1a" text-anchor="middle">5.0</text>
<text transform="translate(552.4,276.9) scale(1.07,1)" font-size="12.6" fill="#1a1a1a"><tspan font-style="italic">B</tspan><tspan font-size="8.2" dy="4.5">Y</tspan><tspan dy="-4.5" dx="0.6">(T)</tspan></text>
<text transform="translate(420.6,102.2) rotate(-90) scale(1.07,1)" font-size="12.5" fill="#1a1a1a"><tspan font-style="italic">E</tspan> (meV)</text>
<text transform="translate(435.2,212.2) rotate(-90) scale(1.07,1)" font-size="12.5" fill="#1a1a1a"><tspan font-style="italic">E</tspan> (meV)</text>
<svg x="0" y="0" width="685" height="316" overflow="visible"><clipPath id="cpT"><rect x="457" y="23" width="218.7" height="114"/></clipPath></svg>
<g clip-path="url(#cpT)">
<path d="M457.5,50.6l1.55,2.7h-3.10zM458.5,47.4l1.55,2.7h-3.10zM459.6,48.4l1.55,2.7h-3.10zM460.2,46.4l1.55,2.7h-3.10zM460.9,47.5l1.55,2.7h-3.10zM461.5,46.0l1.55,2.7h-3.10zM463.2,49.1l1.55,2.7h-3.10zM463.5,51.1l1.55,2.7h-3.10zM464.3,50.3l1.55,2.7h-3.10zM464.7,49.9l1.55,2.7h-3.10zM465.9,50.5l1.55,2.7h-3.10zM466.9,47.7l1.55,2.7h-3.10zM467.1,48.3l1.55,2.7h-3.10zM468.8,50.8l1.55,2.7h-3.10zM469.5,47.1l1.55,2.7h-3.10zM469.4,49.3l1.55,2.7h-3.10zM471.0,49.5l1.55,2.7h-3.10zM472.1,50.4l1.55,2.7h-3.10zM472.4,49.3l1.55,2.7h-3.10zM473.7,51.0l1.55,2.7h-3.10zM474.5,54.7l1.55,2.7h-3.10zM475.3,51.3l1.55,2.7h-3.10zM475.9,50.7l1.55,2.7h-3.10zM477.2,52.4l1.55,2.7h-3.10zM477.9,52.2l1.55,2.7h-3.10zM478.8,48.7l1.55,2.7h-3.10zM478.6,55.4l1.55,2.7h-3.10zM480.7,51.9l1.55,2.7h-3.10zM480.8,49.9l1.55,2.7h-3.10zM482.6,47.8l1.55,2.7h-3.10zM482.9,53.7l1.55,2.7h-3.10zM483.9,53.7l1.55,2.7h-3.10zM484.7,56.4l1.55,2.7h-3.10zM485.2,50.5l1.55,2.7h-3.10zM486.5,55.1l1.55,2.7h-3.10zM487.2,54.7l1.55,2.7h-3.10zM487.9,51.2l1.55,2.7h-3.10zM489.4,55.8l1.55,2.7h-3.10zM490.3,52.7l1.55,2.7h-3.10zM490.3,51.6l1.55,2.7h-3.10zM491.4,54.5l1.55,2.7h-3.10zM492.5,51.5l1.55,2.7h-3.10zM493.3,53.9l1.55,2.7h-3.10zM494.1,54.0l1.55,2.7h-3.10zM494.8,55.1l1.55,2.7h-3.10zM495.8,54.6l1.55,2.7h-3.10zM496.4,55.0l1.55,2.7h-3.10zM497.4,51.1l1.55,2.7h-3.10zM498.4,54.3l1.55,2.7h-3.10zM499.4,54.6l1.55,2.7h-3.10zM500.0,55.3l1.55,2.7h-3.10zM500.8,54.3l1.55,2.7h-3.10zM501.2,58.1l1.55,2.7h-3.10zM502.1,54.7l1.55,2.7h-3.10zM503.6,56.1l1.55,2.7h-3.10zM504.4,56.8l1.55,2.7h-3.10zM505.5,56.2l1.55,2.7h-3.10zM506.8,54.3l1.55,2.7h-3.10zM506.9,55.4l1.55,2.7h-3.10zM507.5,56.5l1.55,2.7h-3.10zM508.9,55.2l1.55,2.7h-3.10zM509.1,57.5l1.55,2.7h-3.10zM510.4,59.6l1.55,2.7h-3.10zM511.4,57.0l1.55,2.7h-3.10zM511.8,57.1l1.55,2.7h-3.10zM512.7,54.7l1.55,2.7h-3.10zM513.6,56.7l1.55,2.7h-3.10zM514.4,56.4l1.55,2.7h-3.10zM515.8,58.5l1.55,2.7h-3.10zM516.4,56.5l1.55,2.7h-3.10zM516.7,57.0l1.55,2.7h-3.10zM517.9,57.1l1.55,2.7h-3.10zM518.6,59.3l1.55,2.7h-3.10zM519.6,56.4l1.55,2.7h-3.10zM520.3,57.0l1.55,2.7h-3.10zM521.3,56.3l1.55,2.7h-3.10zM522.0,59.4l1.55,2.7h-3.10zM523.0,57.0l1.55,2.7h-3.10zM523.6,58.7l1.55,2.7h-3.10zM524.8,60.1l1.55,2.7h-3.10zM525.5,56.7l1.55,2.7h-3.10zM526.8,59.5l1.55,2.7h-3.10zM527.3,59.6l1.55,2.7h-3.10zM527.7,58.7l1.55,2.7h-3.10zM529.0,61.0l1.55,2.7h-3.10zM529.8,54.5l1.55,2.7h-3.10zM530.5,60.2l1.55,2.7h-3.10zM531.8,60.9l1.55,2.7h-3.10zM533.0,62.3l1.55,2.7h-3.10zM533.6,61.6l1.55,2.7h-3.10zM533.6,61.4l1.55,2.7h-3.10zM535.0,59.4l1.55,2.7h-3.10zM535.9,61.1l1.55,2.7h-3.10zM536.4,60.3l1.55,2.7h-3.10zM537.3,61.0l1.55,2.7h-3.10zM538.1,61.6l1.55,2.7h-3.10zM538.5,60.4l1.55,2.7h-3.10zM539.4,60.2l1.55,2.7h-3.10zM541.0,61.2l1.55,2.7h-3.10zM541.6,61.4l1.55,2.7h-3.10zM543.0,59.7l1.55,2.7h-3.10zM543.6,59.2l1.55,2.7h-3.10zM544.1,61.9l1.55,2.7h-3.10zM544.8,62.1l1.55,2.7h-3.10zM546.1,60.1l1.55,2.7h-3.10zM546.7,61.5l1.55,2.7h-3.10zM547.0,61.8l1.55,2.7h-3.10zM548.2,64.4l1.55,2.7h-3.10zM549.0,65.1l1.55,2.7h-3.10zM550.0,65.7l1.55,2.7h-3.10zM551.2,63.5l1.55,2.7h-3.10zM552.1,64.3l1.55,2.7h-3.10zM553.1,65.8l1.55,2.7h-3.10zM553.4,61.1l1.55,2.7h-3.10zM553.6,62.5l1.55,2.7h-3.10zM555.5,64.0l1.55,2.7h-3.10zM556.1,62.9l1.55,2.7h-3.10zM556.8,63.1l1.55,2.7h-3.10zM557.9,61.0l1.55,2.7h-3.10zM558.9,61.6l1.55,2.7h-3.10zM559.5,63.0l1.55,2.7h-3.10zM560.2,62.5l1.55,2.7h-3.10zM560.9,63.9l1.55,2.7h-3.10zM561.7,68.3l1.55,2.7h-3.10zM562.8,63.5l1.55,2.7h-3.10zM563.6,62.9l1.55,2.7h-3.10zM563.9,64.3l1.55,2.7h-3.10zM565.5,62.5l1.55,2.7h-3.10zM457.5,43.6l1.55,2.7h-3.10zM458.8,43.2l1.55,2.7h-3.10zM460.1,44.0l1.55,2.7h-3.10zM461.4,44.4l1.55,2.7h-3.10zM462.7,44.7l1.55,2.7h-3.10zM464.0,44.8l1.55,2.7h-3.10zM465.3,44.5l1.55,2.7h-3.10zM466.6,45.5l1.55,2.7h-3.10zM467.9,45.0l1.55,2.7h-3.10zM469.2,45.6l1.55,2.7h-3.10zM470.5,46.0l1.55,2.7h-3.10zM471.8,45.7l1.55,2.7h-3.10zM473.1,45.4l1.55,2.7h-3.10zM474.4,46.5l1.55,2.7h-3.10zM475.7,45.9l1.55,2.7h-3.10zM477.0,46.2l1.55,2.7h-3.10zM478.3,46.3l1.55,2.7h-3.10zM479.6,47.4l1.55,2.7h-3.10zM480.9,47.1l1.55,2.7h-3.10zM482.2,46.3l1.55,2.7h-3.10zM483.5,48.0l1.55,2.7h-3.10zM484.8,48.8l1.55,2.7h-3.10zM486.1,48.9l1.55,2.7h-3.10zM487.4,47.9l1.55,2.7h-3.10z" fill="none" stroke="#8e44ad" stroke-width="0.7"/>
<path d="M457.6,128.5l1.55,-2.7h-3.10zM458.2,129.9l1.55,-2.7h-3.10zM459.0,126.3l1.55,-2.7h-3.10zM460.3,128.0l1.55,-2.7h-3.10zM461.1,127.1l1.55,-2.7h-3.10zM462.0,126.7l1.55,-2.7h-3.10zM462.4,128.6l1.55,-2.7h-3.10zM463.5,127.0l1.55,-2.7h-3.10zM464.9,127.2l1.55,-2.7h-3.10zM466.4,124.9l1.55,-2.7h-3.10zM466.3,127.1l1.55,-2.7h-3.10zM467.8,126.4l1.55,-2.7h-3.10zM467.9,128.5l1.55,-2.7h-3.10zM468.9,126.4l1.55,-2.7h-3.10zM470.4,125.5l1.55,-2.7h-3.10zM470.9,127.1l1.55,-2.7h-3.10zM471.8,126.7l1.55,-2.7h-3.10zM472.5,126.0l1.55,-2.7h-3.10zM473.4,123.8l1.55,-2.7h-3.10zM475.1,126.6l1.55,-2.7h-3.10zM475.8,124.3l1.55,-2.7h-3.10zM476.4,125.4l1.55,-2.7h-3.10zM476.9,126.5l1.55,-2.7h-3.10zM478.0,125.2l1.55,-2.7h-3.10zM478.6,126.9l1.55,-2.7h-3.10zM480.2,125.8l1.55,-2.7h-3.10zM480.6,124.4l1.55,-2.7h-3.10zM482.2,124.6l1.55,-2.7h-3.10zM482.8,125.1l1.55,-2.7h-3.10zM483.3,127.1l1.55,-2.7h-3.10zM483.9,125.1l1.55,-2.7h-3.10zM485.4,122.1l1.55,-2.7h-3.10zM486.4,125.2l1.55,-2.7h-3.10zM487.2,123.1l1.55,-2.7h-3.10zM488.2,125.9l1.55,-2.7h-3.10zM489.1,126.7l1.55,-2.7h-3.10zM490.2,125.1l1.55,-2.7h-3.10zM491.2,122.8l1.55,-2.7h-3.10zM491.5,124.6l1.55,-2.7h-3.10zM492.8,125.9l1.55,-2.7h-3.10zM493.8,123.8l1.55,-2.7h-3.10zM494.5,123.0l1.55,-2.7h-3.10zM495.2,122.7l1.55,-2.7h-3.10zM496.5,122.5l1.55,-2.7h-3.10zM497.0,123.3l1.55,-2.7h-3.10zM497.9,122.7l1.55,-2.7h-3.10zM498.3,123.5l1.55,-2.7h-3.10zM499.7,123.1l1.55,-2.7h-3.10zM500.8,119.9l1.55,-2.7h-3.10zM502.3,122.7l1.55,-2.7h-3.10zM502.6,119.8l1.55,-2.7h-3.10zM503.6,123.0l1.55,-2.7h-3.10zM504.2,122.7l1.55,-2.7h-3.10zM505.6,121.7l1.55,-2.7h-3.10zM505.9,124.2l1.55,-2.7h-3.10zM507.1,121.7l1.55,-2.7h-3.10zM508.6,122.1l1.55,-2.7h-3.10zM508.8,122.2l1.55,-2.7h-3.10zM509.6,122.0l1.55,-2.7h-3.10zM510.7,120.6l1.55,-2.7h-3.10zM511.5,121.9l1.55,-2.7h-3.10zM512.6,122.2l1.55,-2.7h-3.10zM513.6,121.6l1.55,-2.7h-3.10zM514.4,120.5l1.55,-2.7h-3.10zM515.1,122.6l1.55,-2.7h-3.10zM515.4,121.5l1.55,-2.7h-3.10zM517.9,117.8l1.55,-2.7h-3.10zM518.3,117.9l1.55,-2.7h-3.10zM518.8,122.9l1.55,-2.7h-3.10zM520.1,118.9l1.55,-2.7h-3.10zM520.1,121.3l1.55,-2.7h-3.10zM521.4,120.5l1.55,-2.7h-3.10zM522.5,120.1l1.55,-2.7h-3.10zM523.7,115.7l1.55,-2.7h-3.10zM525.0,118.8l1.55,-2.7h-3.10zM525.9,119.1l1.55,-2.7h-3.10zM527.1,118.5l1.55,-2.7h-3.10zM527.7,118.2l1.55,-2.7h-3.10zM528.9,117.7l1.55,-2.7h-3.10zM529.9,117.5l1.55,-2.7h-3.10zM530.5,117.1l1.55,-2.7h-3.10zM530.8,119.4l1.55,-2.7h-3.10zM532.4,119.2l1.55,-2.7h-3.10zM534.7,119.8l1.55,-2.7h-3.10zM539.0,116.5l1.55,-2.7h-3.10zM540.4,118.3l1.55,-2.7h-3.10zM541.6,117.9l1.55,-2.7h-3.10zM541.2,117.1l1.55,-2.7h-3.10zM545.7,115.7l1.55,-2.7h-3.10zM548.8,115.5l1.55,-2.7h-3.10zM548.9,117.7l1.55,-2.7h-3.10zM550.0,116.3l1.55,-2.7h-3.10zM555.0,116.0l1.55,-2.7h-3.10zM557.5,115.3l1.55,-2.7h-3.10zM559.4,113.3l1.55,-2.7h-3.10zM564.9,111.2l1.55,-2.7h-3.10z" fill="none" stroke="#e8392b" stroke-width="0.7"/>
<path d="M570.8,103.2a1.25,1.25 0 1,0 2.5,0a1.25,1.25 0 1,0 -2.5,0M571.5,103.0a1.25,1.25 0 1,0 2.5,0a1.25,1.25 0 1,0 -2.5,0M572.2,105.2a1.25,1.25 0 1,0 2.5,0a1.25,1.25 0 1,0 -2.5,0M572.9,106.1a1.25,1.25 0 1,0 2.5,0a1.25,1.25 0 1,0 -2.5,0M573.6,102.5a1.25,1.25 0 1,0 2.5,0a1.25,1.25 0 1,0 -2.5,0M574.3,102.9a1.25,1.25 0 1,0 2.5,0a1.25,1.25 0 1,0 -2.5,0M575.0,103.5a1.25,1.25 0 1,0 2.5,0a1.25,1.25 0 1,0 -2.5,0M575.7,104.0a1.25,1.25 0 1,0 2.5,0a1.25,1.25 0 1,0 -2.5,0M576.4,102.3a1.25,1.25 0 1,0 2.5,0a1.25,1.25 0 1,0 -2.5,0M577.1,106.9a1.25,1.25 0 1,0 2.5,0a1.25,1.25 0 1,0 -2.5,0M577.8,104.6a1.25,1.25 0 1,0 2.5,0a1.25,1.25 0 1,0 -2.5,0M578.5,103.2a1.25,1.25 0 1,0 2.5,0a1.25,1.25 0 1,0 -2.5,0M579.2,102.9a1.25,1.25 0 1,0 2.5,0a1.25,1.25 0 1,0 -2.5,0M579.9,106.5a1.25,1.25 0 1,0 2.5,0a1.25,1.25 0 1,0 -2.5,0M580.6,106.3a1.25,1.25 0 1,0 2.5,0a1.25,1.25 0 1,0 -2.5,0M581.3,102.6a1.25,1.25 0 1,0 2.5,0a1.25,1.25 0 1,0 -2.5,0M582.0,103.6a1.25,1.25 0 1,0 2.5,0a1.25,1.25 0 1,0 -2.5,0M582.7,104.7a1.25,1.25 0 1,0 2.5,0a1.25,1.25 0 1,0 -2.5,0M583.4,101.4a1.25,1.25 0 1,0 2.5,0a1.25,1.25 0 1,0 -2.5,0M584.1,102.1a1.25,1.25 0 1,0 2.5,0a1.25,1.25 0 1,0 -2.5,0M584.8,104.5a1.25,1.25 0 1,0 2.5,0a1.25,1.25 0 1,0 -2.5,0M585.5,101.7a1.25,1.25 0 1,0 2.5,0a1.25,1.25 0 1,0 -2.5,0M586.2,101.9a1.25,1.25 0 1,0 2.5,0a1.25,1.25 0 1,0 -2.5,0M586.9,100.6a1.25,1.25 0 1,0 2.5,0a1.25,1.25 0 1,0 -2.5,0M587.6,101.3a1.25,1.25 0 1,0 2.5,0a1.25,1.25 0 1,0 -2.5,0M588.3,103.1a1.25,1.25 0 1,0 2.5,0a1.25,1.25 0 1,0 -2.5,0M589.0,101.0a1.25,1.25 0 1,0 2.5,0a1.25,1.25 0 1,0 -2.5,0M589.7,100.3a1.25,1.25 0 1,0 2.5,0a1.25,1.25 0 1,0 -2.5,0M590.4,101.0a1.25,1.25 0 1,0 2.5,0a1.25,1.25 0 1,0 -2.5,0M591.1,104.1a1.25,1.25 0 1,0 2.5,0a1.25,1.25 0 1,0 -2.5,0M591.8,101.9a1.25,1.25 0 1,0 2.5,0a1.25,1.25 0 1,0 -2.5,0M592.5,100.8a1.25,1.25 0 1,0 2.5,0a1.25,1.25 0 1,0 -2.5,0M593.2,101.6a1.25,1.25 0 1,0 2.5,0a1.25,1.25 0 1,0 -2.5,0M593.9,101.9a1.25,1.25 0 1,0 2.5,0a1.25,1.25 0 1,0 -2.5,0M594.6,101.4a1.25,1.25 0 1,0 2.5,0a1.25,1.25 0 1,0 -2.5,0M595.3,98.7a1.25,1.25 0 1,0 2.5,0a1.25,1.25 0 1,0 -2.5,0M596.0,101.4a1.25,1.25 0 1,0 2.5,0a1.25,1.25 0 1,0 -2.5,0M596.7,100.6a1.25,1.25 0 1,0 2.5,0a1.25,1.25 0 1,0 -2.5,0M597.4,101.9a1.25,1.25 0 1,0 2.5,0a1.25,1.25 0 1,0 -2.5,0M598.1,98.9a1.25,1.25 0 1,0 2.5,0a1.25,1.25 0 1,0 -2.5,0M598.8,101.9a1.25,1.25 0 1,0 2.5,0a1.25,1.25 0 1,0 -2.5,0M599.5,99.8a1.25,1.25 0 1,0 2.5,0a1.25,1.25 0 1,0 -2.5,0M600.2,98.1a1.25,1.25 0 1,0 2.5,0a1.25,1.25 0 1,0 -2.5,0M600.9,102.0a1.25,1.25 0 1,0 2.5,0a1.25,1.25 0 1,0 -2.5,0M601.6,99.4a1.25,1.25 0 1,0 2.5,0a1.25,1.25 0 1,0 -2.5,0M602.3,100.5a1.25,1.25 0 1,0 2.5,0a1.25,1.25 0 1,0 -2.5,0M603.0,99.7a1.25,1.25 0 1,0 2.5,0a1.25,1.25 0 1,0 -2.5,0M603.7,101.2a1.25,1.25 0 1,0 2.5,0a1.25,1.25 0 1,0 -2.5,0M604.4,101.1a1.25,1.25 0 1,0 2.5,0a1.25,1.25 0 1,0 -2.5,0M605.1,101.0a1.25,1.25 0 1,0 2.5,0a1.25,1.25 0 1,0 -2.5,0M605.8,100.4a1.25,1.25 0 1,0 2.5,0a1.25,1.25 0 1,0 -2.5,0M606.5,97.2a1.25,1.25 0 1,0 2.5,0a1.25,1.25 0 1,0 -2.5,0M607.2,97.0a1.25,1.25 0 1,0 2.5,0a1.25,1.25 0 1,0 -2.5,0M607.9,99.4a1.25,1.25 0 1,0 2.5,0a1.25,1.25 0 1,0 -2.5,0M608.6,97.8a1.25,1.25 0 1,0 2.5,0a1.25,1.25 0 1,0 -2.5,0M609.3,99.5a1.25,1.25 0 1,0 2.5,0a1.25,1.25 0 1,0 -2.5,0M610.0,99.0a1.25,1.25 0 1,0 2.5,0a1.25,1.25 0 1,0 -2.5,0M610.7,96.8a1.25,1.25 0 1,0 2.5,0a1.25,1.25 0 1,0 -2.5,0M611.4,97.2a1.25,1.25 0 1,0 2.5,0a1.25,1.25 0 1,0 -2.5,0M612.1,97.0a1.25,1.25 0 1,0 2.5,0a1.25,1.25 0 1,0 -2.5,0M612.8,97.2a1.25,1.25 0 1,0 2.5,0a1.25,1.25 0 1,0 -2.5,0M613.5,98.0a1.25,1.25 0 1,0 2.5,0a1.25,1.25 0 1,0 -2.5,0M614.2,99.0a1.25,1.25 0 1,0 2.5,0a1.25,1.25 0 1,0 -2.5,0M614.9,99.8a1.25,1.25 0 1,0 2.5,0a1.25,1.25 0 1,0 -2.5,0M615.6,96.7a1.25,1.25 0 1,0 2.5,0a1.25,1.25 0 1,0 -2.5,0M616.3,97.1a1.25,1.25 0 1,0 2.5,0a1.25,1.25 0 1,0 -2.5,0M617.0,99.8a1.25,1.25 0 1,0 2.5,0a1.25,1.25 0 1,0 -2.5,0M617.7,98.8a1.25,1.25 0 1,0 2.5,0a1.25,1.25 0 1,0 -2.5,0M618.4,97.8a1.25,1.25 0 1,0 2.5,0a1.25,1.25 0 1,0 -2.5,0M619.1,94.3a1.25,1.25 0 1,0 2.5,0a1.25,1.25 0 1,0 -2.5,0M619.8,96.0a1.25,1.25 0 1,0 2.5,0a1.25,1.25 0 1,0 -2.5,0M620.5,97.4a1.25,1.25 0 1,0 2.5,0a1.25,1.25 0 1,0 -2.5,0M621.2,96.3a1.25,1.25 0 1,0 2.5,0a1.25,1.25 0 1,0 -2.5,0M621.9,99.6a1.25,1.25 0 1,0 2.5,0a1.25,1.25 0 1,0 -2.5,0M622.6,97.0a1.25,1.25 0 1,0 2.5,0a1.25,1.25 0 1,0 -2.5,0M623.3,97.1a1.25,1.25 0 1,0 2.5,0a1.25,1.25 0 1,0 -2.5,0M624.0,95.2a1.25,1.25 0 1,0 2.5,0a1.25,1.25 0 1,0 -2.5,0M624.7,95.2a1.25,1.25 0 1,0 2.5,0a1.25,1.25 0 1,0 -2.5,0M625.4,95.6a1.25,1.25 0 1,0 2.5,0a1.25,1.25 0 1,0 -2.5,0M626.1,95.5a1.25,1.25 0 1,0 2.5,0a1.25,1.25 0 1,0 -2.5,0M626.8,95.9a1.25,1.25 0 1,0 2.5,0a1.25,1.25 0 1,0 -2.5,0M627.5,96.6a1.25,1.25 0 1,0 2.5,0a1.25,1.25 0 1,0 -2.5,0M628.2,96.3a1.25,1.25 0 1,0 2.5,0a1.25,1.25 0 1,0 -2.5,0M628.9,97.2a1.25,1.25 0 1,0 2.5,0a1.25,1.25 0 1,0 -2.5,0M629.6,94.0a1.25,1.25 0 1,0 2.5,0a1.25,1.25 0 1,0 -2.5,0M630.3,95.9a1.25,1.25 0 1,0 2.5,0a1.25,1.25 0 1,0 -2.5,0M631.0,95.9a1.25,1.25 0 1,0 2.5,0a1.25,1.25 0 1,0 -2.5,0M631.7,97.5a1.25,1.25 0 1,0 2.5,0a1.25,1.25 0 1,0 -2.5,0M632.4,95.1a1.25,1.25 0 1,0 2.5,0a1.25,1.25 0 1,0 -2.5,0M633.1,95.7a1.25,1.25 0 1,0 2.5,0a1.25,1.25 0 1,0 -2.5,0M633.8,94.1a1.25,1.25 0 1,0 2.5,0a1.25,1.25 0 1,0 -2.5,0M634.5,95.6a1.25,1.25 0 1,0 2.5,0a1.25,1.25 0 1,0 -2.5,0M635.2,95.4a1.25,1.25 0 1,0 2.5,0a1.25,1.25 0 1,0 -2.5,0M635.9,94.0a1.25,1.25 0 1,0 2.5,0a1.25,1.25 0 1,0 -2.5,0M636.6,94.1a1.25,1.25 0 1,0 2.5,0a1.25,1.25 0 1,0 -2.5,0M637.3,94.6a1.25,1.25 0 1,0 2.5,0a1.25,1.25 0 1,0 -2.5,0M638.0,95.2a1.25,1.25 0 1,0 2.5,0a1.25,1.25 0 1,0 -2.5,0M638.7,92.9a1.25,1.25 0 1,0 2.5,0a1.25,1.25 0 1,0 -2.5,0M639.4,95.4a1.25,1.25 0 1,0 2.5,0a1.25,1.25 0 1,0 -2.5,0M640.1,93.7a1.25,1.25 0 1,0 2.5,0a1.25,1.25 0 1,0 -2.5,0M640.8,96.6a1.25,1.25 0 1,0 2.5,0a1.25,1.25 0 1,0 -2.5,0M641.5,95.9a1.25,1.25 0 1,0 2.5,0a1.25,1.25 0 1,0 -2.5,0M642.2,93.3a1.25,1.25 0 1,0 2.5,0a1.25,1.25 0 1,0 -2.5,0M642.9,92.9a1.25,1.25 0 1,0 2.5,0a1.25,1.25 0 1,0 -2.5,0M643.6,96.9a1.25,1.25 0 1,0 2.5,0a1.25,1.25 0 1,0 -2.5,0M644.3,94.3a1.25,1.25 0 1,0 2.5,0a1.25,1.25 0 1,0 -2.5,0M645.0,94.2a1.25,1.25 0 1,0 2.5,0a1.25,1.25 0 1,0 -2.5,0M645.7,92.7a1.25,1.25 0 1,0 2.5,0a1.25,1.25 0 1,0 -2.5,0M646.4,93.0a1.25,1.25 0 1,0 2.5,0a1.25,1.25 0 1,0 -2.5,0M647.1,94.1a1.25,1.25 0 1,0 2.5,0a1.25,1.25 0 1,0 -2.5,0M647.8,93.8a1.25,1.25 0 1,0 2.5,0a1.25,1.25 0 1,0 -2.5,0M648.5,91.8a1.25,1.25 0 1,0 2.5,0a1.25,1.25 0 1,0 -2.5,0M649.2,94.4a1.25,1.25 0 1,0 2.5,0a1.25,1.25 0 1,0 -2.5,0M649.9,93.1a1.25,1.25 0 1,0 2.5,0a1.25,1.25 0 1,0 -2.5,0M650.6,91.3a1.25,1.25 0 1,0 2.5,0a1.25,1.25 0 1,0 -2.5,0M651.3,93.8a1.25,1.25 0 1,0 2.5,0a1.25,1.25 0 1,0 -2.5,0M652.0,92.1a1.25,1.25 0 1,0 2.5,0a1.25,1.25 0 1,0 -2.5,0M652.7,93.3a1.25,1.25 0 1,0 2.5,0a1.25,1.25 0 1,0 -2.5,0M653.4,91.4a1.25,1.25 0 1,0 2.5,0a1.25,1.25 0 1,0 -2.5,0M654.1,92.5a1.25,1.25 0 1,0 2.5,0a1.25,1.25 0 1,0 -2.5,0M654.8,89.8a1.25,1.25 0 1,0 2.5,0a1.25,1.25 0 1,0 -2.5,0M655.5,92.3a1.25,1.25 0 1,0 2.5,0a1.25,1.25 0 1,0 -2.5,0M656.2,89.7a1.25,1.25 0 1,0 2.5,0a1.25,1.25 0 1,0 -2.5,0M656.9,91.8a1.25,1.25 0 1,0 2.5,0a1.25,1.25 0 1,0 -2.5,0M657.6,88.1a1.25,1.25 0 1,0 2.5,0a1.25,1.25 0 1,0 -2.5,0M658.3,91.3a1.25,1.25 0 1,0 2.5,0a1.25,1.25 0 1,0 -2.5,0M659.0,92.2a1.25,1.25 0 1,0 2.5,0a1.25,1.25 0 1,0 -2.5,0M659.7,91.8a1.25,1.25 0 1,0 2.5,0a1.25,1.25 0 1,0 -2.5,0M660.4,92.6a1.25,1.25 0 1,0 2.5,0a1.25,1.25 0 1,0 -2.5,0M661.1,89.5a1.25,1.25 0 1,0 2.5,0a1.25,1.25 0 1,0 -2.5,0M661.8,92.9a1.25,1.25 0 1,0 2.5,0a1.25,1.25 0 1,0 -2.5,0M662.5,92.8a1.25,1.25 0 1,0 2.5,0a1.25,1.25 0 1,0 -2.5,0M663.2,89.0a1.25,1.25 0 1,0 2.5,0a1.25,1.25 0 1,0 -2.5,0M663.9,89.5a1.25,1.25 0 1,0 2.5,0a1.25,1.25 0 1,0 -2.5,0M664.6,89.6a1.25,1.25 0 1,0 2.5,0a1.25,1.25 0 1,0 -2.5,0M665.3,90.3a1.25,1.25 0 1,0 2.5,0a1.25,1.25 0 1,0 -2.5,0M666.0,90.4a1.25,1.25 0 1,0 2.5,0a1.25,1.25 0 1,0 -2.5,0M666.7,86.8a1.25,1.25 0 1,0 2.5,0a1.25,1.25 0 1,0 -2.5,0M667.4,90.7a1.25,1.25 0 1,0 2.5,0a1.25,1.25 0 1,0 -2.5,0M668.1,89.5a1.25,1.25 0 1,0 2.5,0a1.25,1.25 0 1,0 -2.5,0M668.8,88.4a1.25,1.25 0 1,0 2.5,0a1.25,1.25 0 1,0 -2.5,0M669.5,90.9a1.25,1.25 0 1,0 2.5,0a1.25,1.25 0 1,0 -2.5,0M670.2,89.1a1.25,1.25 0 1,0 2.5,0a1.25,1.25 0 1,0 -2.5,0M670.9,90.9a1.25,1.25 0 1,0 2.5,0a1.25,1.25 0 1,0 -2.5,0M671.6,90.0a1.25,1.25 0 1,0 2.5,0a1.25,1.25 0 1,0 -2.5,0M672.3,88.8a1.25,1.25 0 1,0 2.5,0a1.25,1.25 0 1,0 -2.5,0M673.0,90.6a1.25,1.25 0 1,0 2.5,0a1.25,1.25 0 1,0 -2.5,0M673.7,90.1a1.25,1.25 0 1,0 2.5,0a1.25,1.25 0 1,0 -2.5,0M674.4,88.2a1.25,1.25 0 1,0 2.5,0a1.25,1.25 0 1,0 -2.5,0M598.8,108.3a1.25,1.25 0 1,0 2.5,0a1.25,1.25 0 1,0 -2.5,0M599.5,109.5a1.25,1.25 0 1,0 2.5,0a1.25,1.25 0 1,0 -2.5,0M600.2,110.7a1.25,1.25 0 1,0 2.5,0a1.25,1.25 0 1,0 -2.5,0M600.9,110.0a1.25,1.25 0 1,0 2.5,0a1.25,1.25 0 1,0 -2.5,0M601.6,112.1a1.25,1.25 0 1,0 2.5,0a1.25,1.25 0 1,0 -2.5,0M602.3,110.6a1.25,1.25 0 1,0 2.5,0a1.25,1.25 0 1,0 -2.5,0M603.0,110.7a1.25,1.25 0 1,0 2.5,0a1.25,1.25 0 1,0 -2.5,0M603.7,111.0a1.25,1.25 0 1,0 2.5,0a1.25,1.25 0 1,0 -2.5,0M604.4,109.7a1.25,1.25 0 1,0 2.5,0a1.25,1.25 0 1,0 -2.5,0M605.1,110.6a1.25,1.25 0 1,0 2.5,0a1.25,1.25 0 1,0 -2.5,0M605.8,110.1a1.25,1.25 0 1,0 2.5,0a1.25,1.25 0 1,0 -2.5,0M606.5,108.5a1.25,1.25 0 1,0 2.5,0a1.25,1.25 0 1,0 -2.5,0M607.2,109.2a1.25,1.25 0 1,0 2.5,0a1.25,1.25 0 1,0 -2.5,0M607.9,111.8a1.25,1.25 0 1,0 2.5,0a1.25,1.25 0 1,0 -2.5,0M608.6,110.7a1.25,1.25 0 1,0 2.5,0a1.25,1.25 0 1,0 -2.5,0M609.3,111.1a1.25,1.25 0 1,0 2.5,0a1.25,1.25 0 1,0 -2.5,0M610.0,109.8a1.25,1.25 0 1,0 2.5,0a1.25,1.25 0 1,0 -2.5,0M610.7,110.8a1.25,1.25 0 1,0 2.5,0a1.25,1.25 0 1,0 -2.5,0M611.4,112.3a1.25,1.25 0 1,0 2.5,0a1.25,1.25 0 1,0 -2.5,0M612.1,111.7a1.25,1.25 0 1,0 2.5,0a1.25,1.25 0 1,0 -2.5,0M612.8,111.2a1.25,1.25 0 1,0 2.5,0a1.25,1.25 0 1,0 -2.5,0M613.5,113.3a1.25,1.25 0 1,0 2.5,0a1.25,1.25 0 1,0 -2.5,0M614.2,111.8a1.25,1.25 0 1,0 2.5,0a1.25,1.25 0 1,0 -2.5,0M614.9,111.6a1.25,1.25 0 1,0 2.5,0a1.25,1.25 0 1,0 -2.5,0M615.6,113.2a1.25,1.25 0 1,0 2.5,0a1.25,1.25 0 1,0 -2.5,0M616.3,110.4a1.25,1.25 0 1,0 2.5,0a1.25,1.25 0 1,0 -2.5,0M617.0,112.8a1.25,1.25 0 1,0 2.5,0a1.25,1.25 0 1,0 -2.5,0M617.7,111.2a1.25,1.25 0 1,0 2.5,0a1.25,1.25 0 1,0 -2.5,0M618.4,111.6a1.25,1.25 0 1,0 2.5,0a1.25,1.25 0 1,0 -2.5,0M619.1,111.8a1.25,1.25 0 1,0 2.5,0a1.25,1.25 0 1,0 -2.5,0M619.8,112.7a1.25,1.25 0 1,0 2.5,0a1.25,1.25 0 1,0 -2.5,0M620.5,112.8a1.25,1.25 0 1,0 2.5,0a1.25,1.25 0 1,0 -2.5,0M621.2,113.1a1.25,1.25 0 1,0 2.5,0a1.25,1.25 0 1,0 -2.5,0M621.9,113.0a1.25,1.25 0 1,0 2.5,0a1.25,1.25 0 1,0 -2.5,0M622.6,114.3a1.25,1.25 0 1,0 2.5,0a1.25,1.25 0 1,0 -2.5,0M623.3,114.7a1.25,1.25 0 1,0 2.5,0a1.25,1.25 0 1,0 -2.5,0M624.0,113.8a1.25,1.25 0 1,0 2.5,0a1.25,1.25 0 1,0 -2.5,0M624.7,113.9a1.25,1.25 0 1,0 2.5,0a1.25,1.25 0 1,0 -2.5,0M625.4,112.9a1.25,1.25 0 1,0 2.5,0a1.25,1.25 0 1,0 -2.5,0M626.1,112.3a1.25,1.25 0 1,0 2.5,0a1.25,1.25 0 1,0 -2.5,0M626.8,114.0a1.25,1.25 0 1,0 2.5,0a1.25,1.25 0 1,0 -2.5,0M627.5,113.6a1.25,1.25 0 1,0 2.5,0a1.25,1.25 0 1,0 -2.5,0M628.2,114.5a1.25,1.25 0 1,0 2.5,0a1.25,1.25 0 1,0 -2.5,0M628.9,111.9a1.25,1.25 0 1,0 2.5,0a1.25,1.25 0 1,0 -2.5,0M629.6,116.5a1.25,1.25 0 1,0 2.5,0a1.25,1.25 0 1,0 -2.5,0M630.3,112.6a1.25,1.25 0 1,0 2.5,0a1.25,1.25 0 1,0 -2.5,0M631.0,114.0a1.25,1.25 0 1,0 2.5,0a1.25,1.25 0 1,0 -2.5,0M631.7,115.1a1.25,1.25 0 1,0 2.5,0a1.25,1.25 0 1,0 -2.5,0M632.4,112.8a1.25,1.25 0 1,0 2.5,0a1.25,1.25 0 1,0 -2.5,0M633.1,113.7a1.25,1.25 0 1,0 2.5,0a1.25,1.25 0 1,0 -2.5,0M633.8,112.3a1.25,1.25 0 1,0 2.5,0a1.25,1.25 0 1,0 -2.5,0M634.5,113.0a1.25,1.25 0 1,0 2.5,0a1.25,1.25 0 1,0 -2.5,0M635.2,112.6a1.25,1.25 0 1,0 2.5,0a1.25,1.25 0 1,0 -2.5,0M635.9,114.7a1.25,1.25 0 1,0 2.5,0a1.25,1.25 0 1,0 -2.5,0M636.6,115.0a1.25,1.25 0 1,0 2.5,0a1.25,1.25 0 1,0 -2.5,0M637.3,114.4a1.25,1.25 0 1,0 2.5,0a1.25,1.25 0 1,0 -2.5,0M638.0,116.1a1.25,1.25 0 1,0 2.5,0a1.25,1.25 0 1,0 -2.5,0M638.7,116.3a1.25,1.25 0 1,0 2.5,0a1.25,1.25 0 1,0 -2.5,0M639.4,115.0a1.25,1.25 0 1,0 2.5,0a1.25,1.25 0 1,0 -2.5,0M640.1,114.9a1.25,1.25 0 1,0 2.5,0a1.25,1.25 0 1,0 -2.5,0M640.8,114.9a1.25,1.25 0 1,0 2.5,0a1.25,1.25 0 1,0 -2.5,0M641.5,114.8a1.25,1.25 0 1,0 2.5,0a1.25,1.25 0 1,0 -2.5,0M642.2,116.7a1.25,1.25 0 1,0 2.5,0a1.25,1.25 0 1,0 -2.5,0M642.9,115.7a1.25,1.25 0 1,0 2.5,0a1.25,1.25 0 1,0 -2.5,0M643.6,115.2a1.25,1.25 0 1,0 2.5,0a1.25,1.25 0 1,0 -2.5,0M644.3,115.4a1.25,1.25 0 1,0 2.5,0a1.25,1.25 0 1,0 -2.5,0M645.0,116.3a1.25,1.25 0 1,0 2.5,0a1.25,1.25 0 1,0 -2.5,0M645.7,115.4a1.25,1.25 0 1,0 2.5,0a1.25,1.25 0 1,0 -2.5,0M646.4,116.2a1.25,1.25 0 1,0 2.5,0a1.25,1.25 0 1,0 -2.5,0M647.1,116.0a1.25,1.25 0 1,0 2.5,0a1.25,1.25 0 1,0 -2.5,0M647.8,117.5a1.25,1.25 0 1,0 2.5,0a1.25,1.25 0 1,0 -2.5,0M648.5,117.3a1.25,1.25 0 1,0 2.5,0a1.25,1.25 0 1,0 -2.5,0M649.2,114.8a1.25,1.25 0 1,0 2.5,0a1.25,1.25 0 1,0 -2.5,0M649.9,116.2a1.25,1.25 0 1,0 2.5,0a1.25,1.25 0 1,0 -2.5,0M650.6,117.2a1.25,1.25 0 1,0 2.5,0a1.25,1.25 0 1,0 -2.5,0M651.3,116.1a1.25,1.25 0 1,0 2.5,0a1.25,1.25 0 1,0 -2.5,0M652.0,117.4a1.25,1.25 0 1,0 2.5,0a1.25,1.25 0 1,0 -2.5,0M652.7,117.0a1.25,1.25 0 1,0 2.5,0a1.25,1.25 0 1,0 -2.5,0M653.4,117.4a1.25,1.25 0 1,0 2.5,0a1.25,1.25 0 1,0 -2.5,0M654.1,116.8a1.25,1.25 0 1,0 2.5,0a1.25,1.25 0 1,0 -2.5,0M654.8,117.3a1.25,1.25 0 1,0 2.5,0a1.25,1.25 0 1,0 -2.5,0M655.5,117.6a1.25,1.25 0 1,0 2.5,0a1.25,1.25 0 1,0 -2.5,0M656.2,115.7a1.25,1.25 0 1,0 2.5,0a1.25,1.25 0 1,0 -2.5,0M656.9,116.3a1.25,1.25 0 1,0 2.5,0a1.25,1.25 0 1,0 -2.5,0M657.6,116.3a1.25,1.25 0 1,0 2.5,0a1.25,1.25 0 1,0 -2.5,0M658.3,119.1a1.25,1.25 0 1,0 2.5,0a1.25,1.25 0 1,0 -2.5,0M659.0,117.8a1.25,1.25 0 1,0 2.5,0a1.25,1.25 0 1,0 -2.5,0M659.7,118.0a1.25,1.25 0 1,0 2.5,0a1.25,1.25 0 1,0 -2.5,0M660.4,117.8a1.25,1.25 0 1,0 2.5,0a1.25,1.25 0 1,0 -2.5,0M661.1,117.2a1.25,1.25 0 1,0 2.5,0a1.25,1.25 0 1,0 -2.5,0M661.8,117.1a1.25,1.25 0 1,0 2.5,0a1.25,1.25 0 1,0 -2.5,0M662.5,118.8a1.25,1.25 0 1,0 2.5,0a1.25,1.25 0 1,0 -2.5,0M663.2,117.6a1.25,1.25 0 1,0 2.5,0a1.25,1.25 0 1,0 -2.5,0M663.9,119.7a1.25,1.25 0 1,0 2.5,0a1.25,1.25 0 1,0 -2.5,0M664.6,118.4a1.25,1.25 0 1,0 2.5,0a1.25,1.25 0 1,0 -2.5,0M665.3,118.4a1.25,1.25 0 1,0 2.5,0a1.25,1.25 0 1,0 -2.5,0M666.0,118.2a1.25,1.25 0 1,0 2.5,0a1.25,1.25 0 1,0 -2.5,0M666.7,118.4a1.25,1.25 0 1,0 2.5,0a1.25,1.25 0 1,0 -2.5,0M667.4,118.6a1.25,1.25 0 1,0 2.5,0a1.25,1.25 0 1,0 -2.5,0M668.1,120.2a1.25,1.25 0 1,0 2.5,0a1.25,1.25 0 1,0 -2.5,0M668.8,121.1a1.25,1.25 0 1,0 2.5,0a1.25,1.25 0 1,0 -2.5,0M669.5,117.7a1.25,1.25 0 1,0 2.5,0a1.25,1.25 0 1,0 -2.5,0M670.2,119.2a1.25,1.25 0 1,0 2.5,0a1.25,1.25 0 1,0 -2.5,0M670.9,119.7a1.25,1.25 0 1,0 2.5,0a1.25,1.25 0 1,0 -2.5,0M671.6,118.2a1.25,1.25 0 1,0 2.5,0a1.25,1.25 0 1,0 -2.5,0M672.3,118.5a1.25,1.25 0 1,0 2.5,0a1.25,1.25 0 1,0 -2.5,0M673.0,118.8a1.25,1.25 0 1,0 2.5,0a1.25,1.25 0 1,0 -2.5,0M673.7,116.9a1.25,1.25 0 1,0 2.5,0a1.25,1.25 0 1,0 -2.5,0M674.4,120.1a1.25,1.25 0 1,0 2.5,0a1.25,1.25 0 1,0 -2.5,0" fill="#c4c4c4"/>
<path d="M471.4,60.0l1.85,3.2h-3.70zM558.2,55.1l1.85,3.2h-3.70zM525.0,49.9l1.85,3.2h-3.70zM487.4,56.6l1.85,3.2h-3.70zM513.1,58.6l1.85,3.2h-3.70zM479.7,51.5l1.85,3.2h-3.70zM521.7,45.6l1.85,3.2h-3.70zM471.5,69.7l1.85,3.2h-3.70zM504.1,49.0l1.85,3.2h-3.70zM555.3,56.1l1.85,3.2h-3.70zM495.0,43.3l1.85,3.2h-3.70zM494.3,57.9l1.85,3.2h-3.70zM507.4,74.6l1.85,3.2h-3.70zM521.3,67.9l1.85,3.2h-3.70zM460.2,66.0l1.85,3.2h-3.70zM478.7,55.8l1.85,3.2h-3.70zM460.4,56.6l1.85,3.2h-3.70zM489.3,61.6l1.85,3.2h-3.70zM481.1,53.7l1.85,3.2h-3.70zM559.6,57.5l1.85,3.2h-3.70zM538.5,47.7l1.85,3.2h-3.70zM484.1,40.6l1.85,3.2h-3.70zM529.3,60.5l1.85,3.2h-3.70zM473.7,52.2l1.85,3.2h-3.70zM542.8,73.6l1.85,3.2h-3.70zM475.2,43.2l1.85,3.2h-3.70zM496.3,53.2l1.85,3.2h-3.70zM474.8,57.7l1.85,3.2h-3.70zM482.6,56.4l1.85,3.2h-3.70zM526.6,51.2l1.85,3.2h-3.70zM471.7,51.1l1.85,3.2h-3.70zM470.0,55.1l1.85,3.2h-3.70zM555.9,66.8l1.85,3.2h-3.70zM531.6,77.7l1.85,3.2h-3.70zM535.5,60.1l1.85,3.2h-3.70zM543.2,52.8l1.85,3.2h-3.70zM511.5,45.9l1.85,3.2h-3.70zM483.5,60.8l1.85,3.2h-3.70zM489.0,46.9l1.85,3.2h-3.70zM530.6,51.7l1.85,3.2h-3.70zM467.9,59.5l1.85,3.2h-3.70zM544.2,62.5l1.85,3.2h-3.70zM539.5,51.9l1.85,3.2h-3.70zM538.9,53.7l1.85,3.2h-3.70zM532.4,62.1l1.85,3.2h-3.70zM506.1,54.4l1.85,3.2h-3.70zM545.9,59.8l1.85,3.2h-3.70zM553.1,54.6l1.85,3.2h-3.70zM467.4,53.6l1.85,3.2h-3.70zM549.9,57.5l1.85,3.2h-3.70zM514.8,49.0l1.85,3.2h-3.70zM551.0,76.2l1.85,3.2h-3.70zM563.2,52.3l1.85,3.2h-3.70zM470.5,50.6l1.85,3.2h-3.70zM516.3,49.2l1.85,3.2h-3.70zM540.6,50.2l1.85,3.2h-3.70zM562.8,58.9l1.85,3.2h-3.70zM512.6,47.4l1.85,3.2h-3.70zM499.4,62.9l1.85,3.2h-3.70zM506.5,57.7l1.85,3.2h-3.70zM553.8,62.3l1.85,3.2h-3.70zM497.1,70.6l1.85,3.2h-3.70zM545.3,81.1l1.85,3.2h-3.70zM551.9,61.3l1.85,3.2h-3.70zM498.0,44.1l1.85,3.2h-3.70zM492.8,55.8l1.85,3.2h-3.70zM562.5,51.9l1.85,3.2h-3.70zM559.2,53.1l1.85,3.2h-3.70zM522.0,70.9l1.85,3.2h-3.70zM520.8,50.6l1.85,3.2h-3.70zM559.1,67.8l1.85,3.2h-3.70zM500.6,44.8l1.85,3.2h-3.70zM484.2,49.0l1.85,3.2h-3.70zM504.8,46.4l1.85,3.2h-3.70zM458.7,52.0l1.85,3.2h-3.70zM502.6,70.6l1.85,3.2h-3.70zM482.0,54.0l1.85,3.2h-3.70zM494.1,56.6l1.85,3.2h-3.70zM477.5,53.4l1.85,3.2h-3.70zM491.9,53.0l1.85,3.2h-3.70zM525.2,62.0l1.85,3.2h-3.70zM528.7,53.0l1.85,3.2h-3.70zM538.4,63.0l1.85,3.2h-3.70zM471.4,57.1l1.85,3.2h-3.70zM532.1,52.0l1.85,3.2h-3.70zM465.2,49.4l1.85,3.2h-3.70zM535.9,61.8l1.85,3.2h-3.70zM547.3,55.0l1.85,3.2h-3.70zM459.8,45.3l1.85,3.2h-3.70zM480.6,46.3l1.85,3.2h-3.70zM498.7,65.1l1.85,3.2h-3.70zM556.2,56.2l1.85,3.2h-3.70zM553.3,54.5l1.85,3.2h-3.70zM543.4,60.1l1.85,3.2h-3.70zM539.7,62.0l1.85,3.2h-3.70zM503.2,47.8l1.85,3.2h-3.70zM520.0,57.8l1.85,3.2h-3.70zM519.9,47.6l1.85,3.2h-3.70zM549.4,59.5l1.85,3.2h-3.70zM500.3,53.1l1.85,3.2h-3.70zM622.8,56.0l1.85,3.2h-3.70zM635.2,51.2l1.85,3.2h-3.70zM586.5,53.9l1.85,3.2h-3.70zM622.4,49.1l1.85,3.2h-3.70zM616.8,50.5l1.85,3.2h-3.70zM600.5,56.1l1.85,3.2h-3.70zM669.6,37.5l1.85,3.2h-3.70zM615.3,42.3l1.85,3.2h-3.70zM665.6,45.1l1.85,3.2h-3.70zM672.1,40.1l1.85,3.2h-3.70zM578.7,55.8l1.85,3.2h-3.70zM634.9,53.9l1.85,3.2h-3.70zM624.9,50.8l1.85,3.2h-3.70zM601.7,48.2l1.85,3.2h-3.70zM567.3,60.3l1.85,3.2h-3.70zM646.1,54.8l1.85,3.2h-3.70zM623.1,50.0l1.85,3.2h-3.70zM571.0,55.9l1.85,3.2h-3.70zM652.5,48.2l1.85,3.2h-3.70zM583.5,52.6l1.85,3.2h-3.70zM570.6,55.5l1.85,3.2h-3.70zM622.3,55.5l1.85,3.2h-3.70zM662.4,39.2l1.85,3.2h-3.70zM672.8,37.2l1.85,3.2h-3.70zM641.5,41.7l1.85,3.2h-3.70zM617.5,50.5l1.85,3.2h-3.70zM577.8,54.0l1.85,3.2h-3.70zM667.9,35.4l1.85,3.2h-3.70zM585.9,58.2l1.85,3.2h-3.70zM666.6,48.1l1.85,3.2h-3.70zM609.5,37.9l1.85,3.2h-3.70zM631.5,49.1l1.85,3.2h-3.70zM636.0,43.2l1.85,3.2h-3.70zM649.6,59.7l1.85,3.2h-3.70zM614.7,49.7l1.85,3.2h-3.70zM643.8,47.4l1.85,3.2h-3.70zM578.6,59.1l1.85,3.2h-3.70zM574.4,52.0l1.85,3.2h-3.70zM606.0,54.2l1.85,3.2h-3.70zM618.9,61.7l1.85,3.2h-3.70zM613.9,47.9l1.85,3.2h-3.70zM641.4,46.8l1.85,3.2h-3.70zM587.5,50.9l1.85,3.2h-3.70zM630.6,44.9l1.85,3.2h-3.70zM599.6,46.2l1.85,3.2h-3.70zM648.7,46.4l1.85,3.2h-3.70zM658.3,44.7l1.85,3.2h-3.70zM579.9,62.4l1.85,3.2h-3.70zM604.2,47.3l1.85,3.2h-3.70zM578.4,59.7l1.85,3.2h-3.70zM661.8,52.4l1.85,3.2h-3.70zM599.7,62.7l1.85,3.2h-3.70zM589.5,58.8l1.85,3.2h-3.70zM615.7,49.1l1.85,3.2h-3.70zM659.2,42.1l1.85,3.2h-3.70zM604.6,48.9l1.85,3.2h-3.70zM608.9,58.4l1.85,3.2h-3.70zM633.3,47.8l1.85,3.2h-3.70zM653.9,43.1l1.85,3.2h-3.70zM655.5,49.6l1.85,3.2h-3.70zM640.0,45.0l1.85,3.2h-3.70zM588.0,53.1l1.85,3.2h-3.70zM666.0,40.6l1.85,3.2h-3.70zM609.1,52.6l1.85,3.2h-3.70zM635.9,50.9l1.85,3.2h-3.70zM608.8,50.5l1.85,3.2h-3.70zM577.5,56.1l1.85,3.2h-3.70zM591.7,51.6l1.85,3.2h-3.70zM630.2,55.9l1.85,3.2h-3.70zM629.6,48.4l1.85,3.2h-3.70zM625.2,51.1l1.85,3.2h-3.70zM638.8,47.2l1.85,3.2h-3.70zM603.1,55.7l1.85,3.2h-3.70zM589.5,56.0l1.85,3.2h-3.70zM572.8,52.0l1.85,3.2h-3.70zM615.7,48.4l1.85,3.2h-3.70zM590.4,57.9l1.85,3.2h-3.70zM630.5,51.1l1.85,3.2h-3.70zM593.9,49.9l1.85,3.2h-3.70zM576.8,59.3l1.85,3.2h-3.70zM634.5,43.5l1.85,3.2h-3.70zM640.7,48.2l1.85,3.2h-3.70zM627.9,51.6l1.85,3.2h-3.70zM625.1,37.7l1.85,3.2h-3.70zM652.6,36.0l1.85,3.2h-3.70zM578.8,59.0l1.85,3.2h-3.70zM623.3,49.8l1.85,3.2h-3.70zM593.9,56.8l1.85,3.2h-3.70zM664.9,38.9l1.85,3.2h-3.70zM646.5,40.5l1.85,3.2h-3.70zM590.0,43.6l1.85,3.2h-3.70zM672.5,29.6l1.85,3.2h-3.70zM654.5,43.8l1.85,3.2h-3.70zM662.2,30.5l1.85,3.2h-3.70zM568.6,60.7l1.85,3.2h-3.70zM588.8,51.4l1.85,3.2h-3.70zM647.5,46.0l1.85,3.2h-3.70zM661.0,42.2l1.85,3.2h-3.70zM577.0,61.0l1.85,3.2h-3.70zM579.5,54.9l1.85,3.2h-3.70zM642.9,36.3l1.85,3.2h-3.70zM629.0,43.7l1.85,3.2h-3.70zM568.1,51.9l1.85,3.2h-3.70zM586.0,49.2l1.85,3.2h-3.70zM668.4,50.9l1.85,3.2h-3.70zM589.8,61.0l1.85,3.2h-3.70zM641.4,44.8l1.85,3.2h-3.70zM640.0,48.4l1.85,3.2h-3.70zM645.3,45.6l1.85,3.2h-3.70zM579.3,55.7l1.85,3.2h-3.70zM555.0,86.1l1.85,3.2h-3.70z" fill="#8e44ad"/>
<path d="M512.4,115.9l1.85,-3.2h-3.70zM494.6,117.5l1.85,-3.2h-3.70zM500.3,115.2l1.85,-3.2h-3.70zM517.5,115.1l1.85,-3.2h-3.70zM473.3,128.7l1.85,-3.2h-3.70zM509.8,113.9l1.85,-3.2h-3.70zM497.7,114.6l1.85,-3.2h-3.70zM532.1,112.7l1.85,-3.2h-3.70zM465.0,118.5l1.85,-3.2h-3.70zM478.1,126.4l1.85,-3.2h-3.70zM528.4,113.8l1.85,-3.2h-3.70zM471.1,125.2l1.85,-3.2h-3.70zM458.7,125.9l1.85,-3.2h-3.70zM501.2,128.3l1.85,-3.2h-3.70zM473.0,118.4l1.85,-3.2h-3.70zM508.7,114.1l1.85,-3.2h-3.70zM479.2,124.2l1.85,-3.2h-3.70zM526.7,110.7l1.85,-3.2h-3.70zM560.2,110.1l1.85,-3.2h-3.70zM530.6,106.9l1.85,-3.2h-3.70zM473.4,129.8l1.85,-3.2h-3.70zM539.9,105.0l1.85,-3.2h-3.70zM526.4,113.7l1.85,-3.2h-3.70zM487.9,114.8l1.85,-3.2h-3.70zM503.9,113.7l1.85,-3.2h-3.70zM541.1,113.5l1.85,-3.2h-3.70zM561.8,106.7l1.85,-3.2h-3.70zM494.1,117.7l1.85,-3.2h-3.70zM545.0,110.2l1.85,-3.2h-3.70zM465.6,126.8l1.85,-3.2h-3.70zM473.9,125.4l1.85,-3.2h-3.70zM552.2,112.6l1.85,-3.2h-3.70zM505.8,112.1l1.85,-3.2h-3.70zM521.3,118.0l1.85,-3.2h-3.70zM485.5,115.2l1.85,-3.2h-3.70zM484.6,128.2l1.85,-3.2h-3.70zM489.5,119.8l1.85,-3.2h-3.70zM506.0,117.6l1.85,-3.2h-3.70zM458.5,118.6l1.85,-3.2h-3.70zM484.8,123.7l1.85,-3.2h-3.70zM524.4,111.8l1.85,-3.2h-3.70zM515.9,102.0l1.85,-3.2h-3.70zM487.1,114.9l1.85,-3.2h-3.70zM559.4,110.1l1.85,-3.2h-3.70zM489.2,117.8l1.85,-3.2h-3.70zM546.8,110.5l1.85,-3.2h-3.70zM507.8,111.4l1.85,-3.2h-3.70zM554.7,107.5l1.85,-3.2h-3.70zM559.4,112.1l1.85,-3.2h-3.70zM488.7,120.3l1.85,-3.2h-3.70zM508.2,114.8l1.85,-3.2h-3.70zM479.6,118.8l1.85,-3.2h-3.70zM507.6,108.6l1.85,-3.2h-3.70zM529.3,123.6l1.85,-3.2h-3.70zM525.4,119.3l1.85,-3.2h-3.70zM528.5,112.6l1.85,-3.2h-3.70zM537.4,111.5l1.85,-3.2h-3.70zM555.7,118.1l1.85,-3.2h-3.70zM498.0,113.6l1.85,-3.2h-3.70zM543.9,105.9l1.85,-3.2h-3.70zM562.5,111.8l1.85,-3.2h-3.70zM524.3,118.6l1.85,-3.2h-3.70zM544.4,103.8l1.85,-3.2h-3.70zM506.0,115.1l1.85,-3.2h-3.70zM551.5,105.9l1.85,-3.2h-3.70zM548.5,116.5l1.85,-3.2h-3.70zM512.8,114.8l1.85,-3.2h-3.70zM488.8,116.8l1.85,-3.2h-3.70zM524.3,114.2l1.85,-3.2h-3.70zM528.5,109.6l1.85,-3.2h-3.70zM474.0,121.6l1.85,-3.2h-3.70zM495.8,118.0l1.85,-3.2h-3.70zM553.4,119.1l1.85,-3.2h-3.70zM559.6,104.8l1.85,-3.2h-3.70zM503.6,122.3l1.85,-3.2h-3.70zM515.7,110.3l1.85,-3.2h-3.70zM512.9,111.2l1.85,-3.2h-3.70zM481.7,116.5l1.85,-3.2h-3.70zM478.7,127.7l1.85,-3.2h-3.70zM502.3,123.9l1.85,-3.2h-3.70zM481.3,127.2l1.85,-3.2h-3.70zM558.9,109.5l1.85,-3.2h-3.70zM525.7,112.0l1.85,-3.2h-3.70zM500.3,115.1l1.85,-3.2h-3.70zM502.5,122.7l1.85,-3.2h-3.70zM501.0,114.0l1.85,-3.2h-3.70zM479.6,127.5l1.85,-3.2h-3.70zM562.1,117.0l1.85,-3.2h-3.70zM520.2,103.0l1.85,-3.2h-3.70zM488.9,119.4l1.85,-3.2h-3.70zM600.7,110.5l1.85,-3.2h-3.70zM630.7,117.7l1.85,-3.2h-3.70zM650.7,121.7l1.85,-3.2h-3.70zM628.8,111.0l1.85,-3.2h-3.70zM667.1,125.3l1.85,-3.2h-3.70zM648.3,120.2l1.85,-3.2h-3.70zM625.5,120.8l1.85,-3.2h-3.70zM653.1,121.3l1.85,-3.2h-3.70zM675.2,121.5l1.85,-3.2h-3.70zM657.3,108.1l1.85,-3.2h-3.70zM661.6,118.1l1.85,-3.2h-3.70zM592.2,125.7l1.85,-3.2h-3.70zM615.6,114.3l1.85,-3.2h-3.70zM663.8,121.5l1.85,-3.2h-3.70zM618.6,116.3l1.85,-3.2h-3.70zM615.3,102.5l1.85,-3.2h-3.70zM661.5,117.3l1.85,-3.2h-3.70zM646.9,118.2l1.85,-3.2h-3.70zM618.1,113.7l1.85,-3.2h-3.70zM587.3,105.1l1.85,-3.2h-3.70zM597.2,113.1l1.85,-3.2h-3.70zM674.7,123.4l1.85,-3.2h-3.70zM674.9,120.2l1.85,-3.2h-3.70zM578.9,107.9l1.85,-3.2h-3.70zM644.9,118.5l1.85,-3.2h-3.70zM601.2,115.0l1.85,-3.2h-3.70zM583.6,103.5l1.85,-3.2h-3.70zM635.1,121.3l1.85,-3.2h-3.70zM630.5,115.3l1.85,-3.2h-3.70zM612.2,129.4l1.85,-3.2h-3.70zM667.1,124.7l1.85,-3.2h-3.70zM625.2,116.2l1.85,-3.2h-3.70zM638.2,111.2l1.85,-3.2h-3.70zM654.4,117.8l1.85,-3.2h-3.70zM610.5,117.9l1.85,-3.2h-3.70zM598.4,110.5l1.85,-3.2h-3.70zM652.6,116.2l1.85,-3.2h-3.70zM660.6,118.2l1.85,-3.2h-3.70zM626.6,116.4l1.85,-3.2h-3.70zM661.7,117.2l1.85,-3.2h-3.70zM599.7,115.8l1.85,-3.2h-3.70zM644.6,122.1l1.85,-3.2h-3.70zM572.2,112.5l1.85,-3.2h-3.70zM593.5,114.3l1.85,-3.2h-3.70zM656.5,122.4l1.85,-3.2h-3.70zM671.6,124.0l1.85,-3.2h-3.70zM582.8,107.6l1.85,-3.2h-3.70zM661.1,119.3l1.85,-3.2h-3.70zM659.7,118.7l1.85,-3.2h-3.70zM658.1,118.3l1.85,-3.2h-3.70zM625.1,112.5l1.85,-3.2h-3.70zM639.1,117.4l1.85,-3.2h-3.70zM652.7,112.8l1.85,-3.2h-3.70zM659.1,121.7l1.85,-3.2h-3.70zM649.6,116.7l1.85,-3.2h-3.70zM573.0,109.4l1.85,-3.2h-3.70zM635.5,122.1l1.85,-3.2h-3.70zM583.5,99.4l1.85,-3.2h-3.70zM623.9,115.6l1.85,-3.2h-3.70zM618.3,115.9l1.85,-3.2h-3.70zM669.3,122.3l1.85,-3.2h-3.70zM591.7,109.0l1.85,-3.2h-3.70zM619.8,116.1l1.85,-3.2h-3.70zM636.9,119.8l1.85,-3.2h-3.70zM597.6,110.7l1.85,-3.2h-3.70zM578.1,109.1l1.85,-3.2h-3.70zM648.5,122.7l1.85,-3.2h-3.70zM638.7,117.7l1.85,-3.2h-3.70zM650.8,129.1l1.85,-3.2h-3.70zM649.1,118.1l1.85,-3.2h-3.70zM608.2,121.5l1.85,-3.2h-3.70zM671.1,126.0l1.85,-3.2h-3.70zM646.3,119.6l1.85,-3.2h-3.70zM603.2,113.6l1.85,-3.2h-3.70zM570.9,113.0l1.85,-3.2h-3.70zM622.2,109.7l1.85,-3.2h-3.70zM588.3,109.2l1.85,-3.2h-3.70zM607.0,117.3l1.85,-3.2h-3.70zM616.0,116.0l1.85,-3.2h-3.70zM585.9,107.9l1.85,-3.2h-3.70zM658.2,124.1l1.85,-3.2h-3.70zM632.2,111.7l1.85,-3.2h-3.70zM655.7,112.8l1.85,-3.2h-3.70zM654.2,123.3l1.85,-3.2h-3.70zM655.1,118.1l1.85,-3.2h-3.70zM673.5,123.5l1.85,-3.2h-3.70zM640.5,117.3l1.85,-3.2h-3.70zM615.7,119.4l1.85,-3.2h-3.70zM651.8,116.0l1.85,-3.2h-3.70zM647.7,121.2l1.85,-3.2h-3.70zM582.3,113.5l1.85,-3.2h-3.70zM659.3,121.2l1.85,-3.2h-3.70zM656.8,116.7l1.85,-3.2h-3.70zM575.2,101.6l1.85,-3.2h-3.70zM636.5,108.7l1.85,-3.2h-3.70zM571.9,109.8l1.85,-3.2h-3.70zM653.1,118.3l1.85,-3.2h-3.70zM601.4,115.5l1.85,-3.2h-3.70zM615.6,114.8l1.85,-3.2h-3.70zM573.4,97.8l1.85,-3.2h-3.70zM630.3,116.4l1.85,-3.2h-3.70zM657.5,124.2l1.85,-3.2h-3.70zM630.0,118.3l1.85,-3.2h-3.70zM613.6,116.4l1.85,-3.2h-3.70zM599.8,111.7l1.85,-3.2h-3.70zM591.7,111.5l1.85,-3.2h-3.70zM623.2,121.1l1.85,-3.2h-3.70zM675.1,123.2l1.85,-3.2h-3.70zM627.4,115.0l1.85,-3.2h-3.70zM592.8,122.2l1.85,-3.2h-3.70zM612.8,88.3l1.85,-3.2h-3.70z" fill="#e8392b"/>
<polyline points="456.5,46.7 567.1,63.6 676.2,45.9" fill="none" stroke="#1a1a1a" stroke-width="1.5"/>
<polyline points="456.5,123.4 567.0,109.4 676.2,123.1" fill="none" stroke="#1a1a1a" stroke-width="1.5"/>
<line x1="567" y1="108.4" x2="676.2" y2="91.6" stroke="#8a8a8a" stroke-width="1.5"/>
</g>
<line x1="567.3" y1="68.5" x2="567.3" y2="109.5" stroke="#2a7bbf" stroke-width="1" stroke-dasharray="2.6,1.5"/>
<path d="M567.3,63.4 L565.1,68.8 L569.5,68.8 Z" fill="#2a7bbf"/>
<text transform="translate(556.2,86.9) scale(1.07,1)" font-size="12.3" fill="#2a7bbf">0.8 meV</text>
<text transform="translate(478.6,38.4) scale(1.07,1)" font-size="16.6" fill="#8e44ad">DyP<tspan font-size="10.5" font-weight="bold" dy="-5.0" dx="-0.8">+</tspan><tspan font-size="16" dy="5.6" dx="0.3">*</tspan></text>
<text transform="translate(460.4,109.7) scale(1.07,1)" font-size="16.6" fill="#e8392b">DyP<tspan font-size="10.5" font-weight="bold" dy="-4.9">+</tspan></text>
<text transform="translate(632.6,86.6) scale(1.07,1)" font-size="17.3" fill="#b4b4b4">YP<tspan font-size="10.5" font-weight="bold" dy="-5.4">+</tspan></text>
<polyline points="456.5,151.3 567.3,164.6 676.2,151.5" fill="none" stroke="#8e44ad" stroke-width="1.3"/>
<polyline points="456.5,226.8 567.3,212.9 676.2,226.5" fill="none" stroke="#e8392b" stroke-width="1.3"/>
<line x1="567.3" y1="212.9" x2="676.2" y2="199.0" stroke="#bdbdbd" stroke-width="1.3"/>
<line x1="567.0" y1="170" x2="567.0" y2="181" stroke="#2a7bbf" stroke-width="1" stroke-dasharray="2.6,1.5"/>
<line x1="567.0" y1="201" x2="567.0" y2="212.5" stroke="#2a7bbf" stroke-width="1" stroke-dasharray="2.6,1.5"/>
<path d="M567.0,165.4 L564.8,170.8 L569.2,170.8 Z" fill="#2a7bbf"/>
<text transform="translate(557.8,195.8) scale(1.07,1)" font-size="16" fill="#2a7bbf" font-style="italic">E<tspan font-style="normal" font-size="12" dy="3.6">ex</tspan></text>
<text transform="translate(460.2,172.3) scale(1.07,1)" font-size="16.6" fill="#8e44ad">DyP<tspan font-size="10.5" font-weight="bold" dy="-5.0" dx="-0.8">+</tspan><tspan font-size="16" dy="5.6" dx="0.3">*</tspan></text>
<text transform="translate(460.2,216.2) scale(1.07,1)" font-size="16.6" fill="#e8392b">DyP<tspan font-size="10.5" font-weight="bold" dy="-4.9">+</tspan></text>
<text transform="translate(642.6,218.6) scale(1.07,1)" font-size="17.3" fill="#b4b4b4">YP<tspan font-size="10.5" font-weight="bold" dy="-5.4">+</tspan></text>
<defs><linearGradient id="gOd" x1="0" y1="0" x2="0" y2="1"><stop offset="0" stop-color="#fcc0aa"/><stop offset="1" stop-color="#f05a28"/></linearGradient><linearGradient id="gOu" x1="0" y1="1" x2="0" y2="0"><stop offset="0" stop-color="#fcc0aa"/><stop offset="1" stop-color="#f05a28"/></linearGradient><linearGradient id="gGd" x1="0" y1="0" x2="0" y2="1"><stop offset="0" stop-color="#dedede"/><stop offset="1" stop-color="#9c9c9c"/></linearGradient><linearGradient id="gGu" x1="0" y1="1" x2="0" y2="0"><stop offset="0" stop-color="#dedede"/><stop offset="1" stop-color="#9c9c9c"/></linearGradient></defs>
<rect x="506.40" y="139.30" width="1.4" height="10.70" fill="url(#gOd)"/>
<path d="M507.1,154.6 L504.00,148.00 L507.1,150.00 L510.20,148.00 Z" fill="#f05a28"/>
<rect x="515.70" y="139.30" width="1.4" height="10.30" fill="url(#gGd)"/>
<path d="M516.4,154.2 L513.30,147.60 L516.4,149.60 L519.50,147.60 Z" fill="#a0a0a0"/>
<rect x="617.00" y="144.20" width="1.4" height="10.40" fill="url(#gOu)"/>
<path d="M617.7,139.6 L614.60,146.20 L617.7,144.20 L620.80,146.20 Z" fill="#f05a28"/>
<rect x="626.40" y="144.20" width="1.4" height="10.40" fill="url(#gGu)"/>
<path d="M627.1,139.6 L624.00,146.20 L627.1,144.20 L630.20,146.20 Z" fill="#a0a0a0"/>
<rect x="506.20" y="224.00" width="1.4" height="10.10" fill="url(#gOd)"/>
<path d="M506.9,238.7 L503.80,232.10 L506.9,234.10 L510.00,232.10 Z" fill="#f05a28"/>
<rect x="514.20" y="225.50" width="1.4" height="9.90" fill="url(#gGu)"/>
<path d="M514.9,220.9 L511.80,227.50 L514.9,225.50 L518.00,227.50 Z" fill="#a0a0a0"/>
<rect x="618.10" y="226.50" width="1.4" height="10.10" fill="url(#gOu)"/>
<path d="M618.8,221.9 L615.70,228.50 L618.8,226.50 L621.90,228.50 Z" fill="#f05a28"/>
<rect x="626.40" y="225.20" width="1.4" height="9.00" fill="url(#gGd)"/>
<path d="M627.1,238.8 L624.00,232.20 L627.1,234.20 L630.20,232.20 Z" fill="#a0a0a0"/>
<rect x="661.70" y="232.00" width="1.4" height="10.70" fill="url(#gGu)"/>
<path d="M662.4,227.4 L659.30,234.00 L662.4,232.00 L665.50,234.00 Z" fill="#a0a0a0"/>
<rect x="662.20" y="182.20" width="1.4" height="11.20" fill="url(#gGd)"/>
<path d="M662.9,198.0 L659.80,191.40 L662.9,193.40 L666.00,191.40 Z" fill="#a0a0a0"/>
</svg>
</body></html>
